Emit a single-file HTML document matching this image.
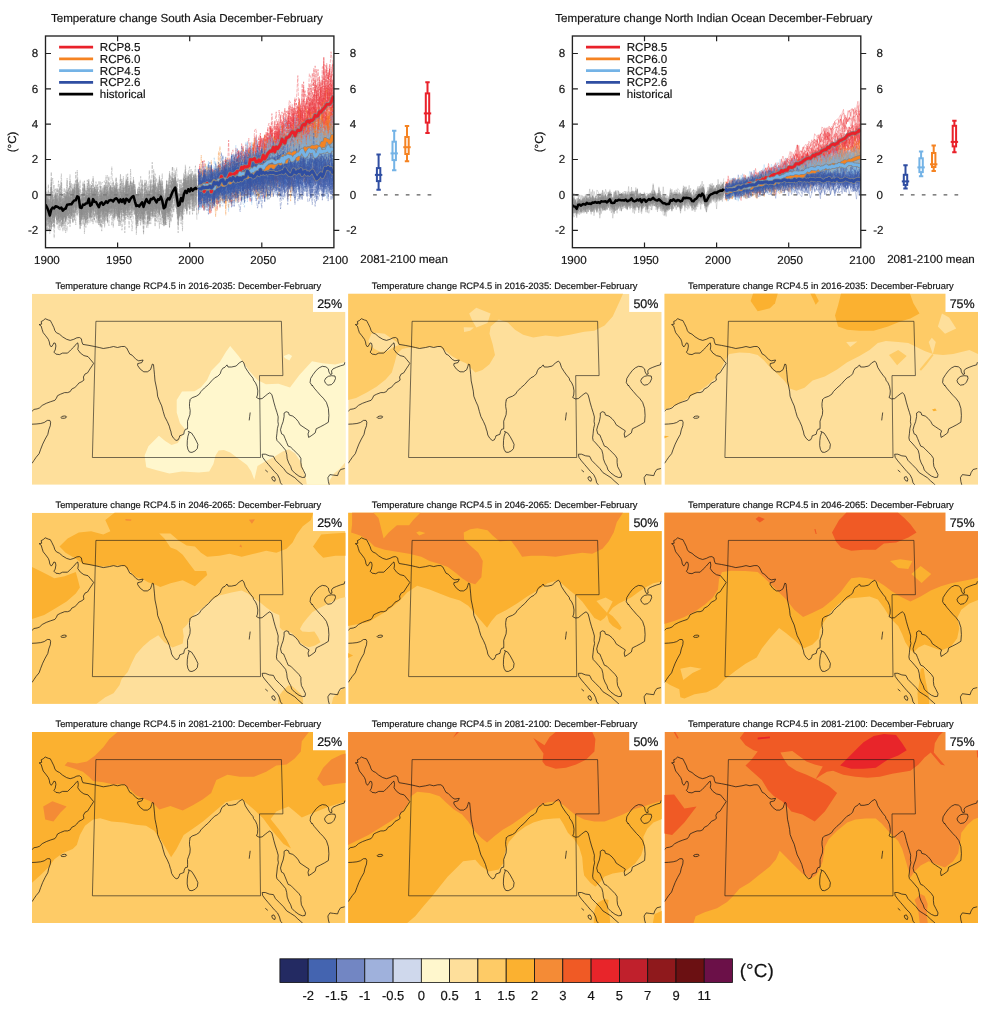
<!DOCTYPE html>
<html lang="en"><head><meta charset="utf-8"><title>Temperature change South Asia December-February</title>
<style>html,body{margin:0;padding:0;background:#fff}svg{display:block;will-change:transform}text{text-rendering:geometricPrecision;font-family:'Liberation Sans', Arial, Helvetica, sans-serif;fill:#141414;stroke:#141414;stroke-width:.18px}.t{font-size:11.6px}.mt{font-size:9.3px}.pl{font-size:12.5px;stroke-width:.22px}.cl{font-size:13px}.cu{font-size:19px}
.th{opacity:.88;stroke:#7d7d7d;stroke-width:.37;vector-effect:non-scaling-stroke;stroke-dasharray:3.6 1.2}.tn{opacity:.88;stroke-width:.37;vector-effect:non-scaling-stroke;stroke-dasharray:3.6 1.2}.so{stroke-dasharray:none;stroke-width:.3;opacity:.9}.mg{stroke:#858585;stroke-width:4.3;vector-effect:non-scaling-stroke}.mc{stroke-width:2.9;vector-effect:non-scaling-stroke}.mh{stroke:#000;stroke-width:2.5;vector-effect:non-scaling-stroke}
.cs{fill:none;stroke:#141414;stroke-width:.72;stroke-linejoin:round}</style></head><body>
<svg width="982" height="1024" viewBox="0 0 982 1024">
<defs><clipPath id="cc1"><rect x="45.5" y="36" width="288.4" height="211.7"/></clipPath><clipPath id="cc2"><rect x="572.4" y="36" width="288.4" height="211.7"/></clipPath><clipPath id="mc"><rect x="0" y="0" width="313.5" height="191.1"/></clipPath>
<g id="coast"><path class="cs" d="M0,117.6 2,115.7 5.1,115.2 7.6,114.2 10.2,111.7 14.3,109.6 18.3,108.1 22.9,106.6 24.4,104.5 25.5,102 28.5,100.5 32.6,98.9 35.6,98.9 38.2,97.9 39.7,95.4 42.8,93.8 44.8,92 46.8,89.4 49.9,87.9 51.9,86.4 51.4,83.3 53,80.3 55.5,79.2 58,75.2 60.1,72.1 61.6,69.6 58.6,66 56,62.9 51.9,61.9 48.4,59.4 45.8,55.8 46.3,52.3 45.8,49.2 44.8,49.7 41.8,53.3 38.7,56.3 35.6,59.4 30.5,59.4 27.5,60.9 23.9,60.4 21.9,58.4 23.2,56.3 23.9,52.3 23.4,49.7 21.9,49.2 20.9,51.2 19.3,53.3 17.8,51.2 17.3,48.2 16.3,45.6 13.7,42.1 11.2,39 10.2,36 9.2,32.4 7.1,30.9 9.7,30.4 9.2,27.8 11.2,26.8 13.2,25 16.3,26.3 18.3,26.8 19.9,29.8 21.9,33.9 22.9,37 24.4,39 27.5,40.5 30.5,43.1 34.6,45.6 38.2,46.7 41.8,45.6 44.8,44.1 47.4,43.8 49.4,45.1 49.9,48.2 50.9,50.7 57,51.7 62.6,52.8 67.2,53.8 71.3,54.8 77.4,53.8 81.5,52.8 85.5,53.8 89.6,52.8 92.7,52.8 94.7,54.3 96.2,57.3 97.8,60.4 100,61.4 104.2,65.8 106.7,67.1 111.1,66.3 109.8,68.9 105.7,69.9 105.7,71.9 108.3,75.5 111.8,78.1 115.4,78.1 118.5,76 119.7,72.5 120.3,70.4 121.5,70.9 122,76 122.5,81.1 123,87.2 124.1,92.3 125.1,97.4 125.6,102.5 127.6,107.6 129.7,112.2 131.2,117.8 132.7,122.9 135.3,127.9 137.3,132.5 138.3,136.3 138.8,137.3 139.6,141.3 141.6,144.6 144.1,146.8 146.1,146.2 147.3,143.8 147.7,142.1 149.8,141.3 151.8,140.5 152.2,138.1 153.4,135.6 155.5,135.2 155.6,132.4 155.5,127.5 156.7,124.2 157.9,121 158.2,116.9 157.5,112.8 157.5,109.6 158.1,106.3 157.7,106.1 160.2,104 164.3,102.5 167.3,100.5 168.9,97.9 172.4,94.3 176.5,90.8 179.6,87.2 182.6,84.2 185.7,82.6 188.2,80.1 189.2,77 190.8,74.5 193,73.5 193.5,72.8 195,71.2 196,73.3 199.6,73.3 204.2,72.3 207.2,69.2 210.3,67.4 211.8,69.2 213.3,73.8 215.9,77.9 218.4,81.4 221,84.5 221.5,86.5 223.5,89.1 225,92.6 225.8,97.2 225.5,101.3 224.5,103.8 227.1,105.2 230.1,104.9 233.2,102.3 235.7,100.3 237.8,99 239.8,100.8 240.8,104.3 241.8,108.4 243.4,114 244.9,118.6 246.2,123.2 245.9,127.8 246.4,130.8 245.4,134.9 244.9,140 244.4,144.1 244.9,146.3 245,146.8 247.5,149.3 250.6,152.9 253.6,156.5 254.7,160.5 255.2,165.1 256.7,169.2 258.7,172.8 259.8,176.3 262.8,179.4 266.9,182.4 270.4,183.8 273,183.5 273.5,180.9 271.5,176.8 269.4,172.8 268.9,168.7 268.9,164.6 266.9,161.6 263.8,158.5 260.8,155.5 258.7,153.4 256.2,152.4 254.7,148.8 253.1,144.8 251.6,141.2 249.6,140.2 248.5,136.1 249.6,132 251.1,128 252.1,122.9 252.1,119.3 254.2,118 256.5,118.8 257.2,121.3 260.8,122.4 263.8,124.9 266.4,128 267.9,131 271,133.1 274,135.1 277.1,137.1 276,140.2 276.6,143.7 279.1,142.2 283.2,139.2 284.2,135.1 288.3,133.1 292.3,131 296.4,128.5 296.9,121.8 296.4,114.7 294.4,108.6 291.3,104.5 288.3,101.5 285.2,97.9 282.2,94.4 280.1,91.3 280.1,92 278.1,88.9 278.6,84.8 281.1,80.8 284.2,76.7 287.2,74.1 290.3,72.6 293.9,73.1 296.4,75.2 296.9,78.2 298.4,80.8 300,80.3 299.5,77.2 301,75.2 304.6,73.6 308.6,72.1 312.2,71.1 312.9,68.5 M303,82.3 303.5,84.8 302,88.4 299.5,90.9 295.9,91.5 293.4,89.4 292.5,86.9 293.9,84.3 296.4,82.6 299.5,82Z M156.3,137.7 159.5,139.3 162,143 164.4,147.4 165.9,150.7 165.3,154.8 163.2,157.2 160,158.7 157.5,158.4 155.9,155.6 155.2,151.9 155.3,147 155.9,142.6 157.1,138.9Z M0,130.5 4.1,130.3 8.7,129.8 12.2,128.8 15.3,126.7 17.8,126.7 18.6,128.5 18.3,132 16.8,136.1 15.8,140.7 13.2,145.3 10.7,150.4 8.7,155.5 7.1,160 4.1,163.6 2,166.7 0,169.7 M34.6,123.2 34.1,123.9 32.7,124.5 30.9,124.6 29.5,124.4 28.9,123.8 29.5,123.1 30.9,122.5 32.7,122.3 34.1,122.6Z M230.2,160.5 233.3,160.5 237.3,162.1 241.4,162.6 243.5,166.7 247.5,170.7 251.6,174.8 254.7,178.9 258.7,181.4 262.8,184 265.9,187 268.9,189.6 271,191.6 272,193.1 M230.2,160.5 230.7,163.6 233.3,167.2 236.3,170.7 239.4,174.3 242.4,177.9 245.5,180.9 247.5,185 248.5,189.1 250.6,191.6 251.6,193.1 M233.3,176.3 235.8,178.4 M239.9,183.5 241.9,182.9 243.3,185.5 242.9,187.5 241.2,187 239.9,185Z M312.7,174.8 308.6,175.8 306.6,178.9 305.6,181.9 301.5,181.4 297.9,180.9 295.9,184 296.4,188 297.4,191.6 297.9,193.1 M218.2,118.8 217.7,122.7 217.2,126.7"/><path class="cs" style="stroke-width:.6" d="M63.9,27.6 249.4,27.6 250.9,81.9 227.5,81.9 228.5,163.8 60.4,163.8Z"/></g></defs>
<rect width="982" height="1024" fill="#fff"/>
<text x="186.9" y="22.1" text-anchor="middle" class="t">Temperature change South Asia December-February</text>
<path d="M48.5 194.9H333.9" stroke="#333" stroke-width="1" stroke-dasharray="3.7 7.2" fill="none"/>
<g clip-path="url(#cc1)">
<g transform="translate(45.5,194.9) scale(1.4420,-0.88400)" fill="none" stroke-linejoin="round">
<path class="th" d="M0 -30l1 33 1-24 1-12 1 16 1-1 1 10 1-6 1-1 1-9 1 12 1-16 1 16 1 11 1-34 1-6 1 35 1 22 1-40 1 0 1 22 1-16 1 9 1 0 1-1 1-12 1 12 1-5 1-6 1 6 1-2 1 3 1-12 1 7 1 25 1-17 1-3 1 4 1-6 1 3 1 4 1 1 1-14 1 20 1-13 1-5 1 2 1 4 1 25 1-30 1 13 1-29 1 28 1 7 1-10 1-9 1 15 1 4 1-2 1 18 1-18 1-8 1-1 1-4 1 2 1-2 1 4 1-18 1 23 1-11 1-3 1 17 1 7 1-5 1-4 1-10 1 39 1-25 1-19 1 4 1 13 1-23 1 11 1-6 1 26 1 0 1-42 1 34 1-14 1 33 1-8 1-6 1-28 1 33 1 10 1-38 1 24 1-8 1 5 1-10 1 33 1-29 1 5 1 11 1-11 1 2M0 -14l1-15 1 5 1-3 1 6 1 6 1-5 1 14 1-12 1 1 1-7 1 2 1-11 1 21 1-18 1 9 1 13 1 1 1-9 1-16 1 29 1-1 1-15 1 23 1-28 1-5 1 18 1-4 1 6 1-20 1 44 1-35 1-10 1 31 1-14 1 7 1-10 1 0 1 8 1-10 1 13 1-11 1-2 1 9 1 6 1-7 1-7 1 15 1-24 1 9 1 11 1-19 1 19 1-4 1 14 1-25 1 8 1 10 1-34 1 66 1-41 1 1 1 12 1-15 1-19 1 26 1 5 1-13 1-3 1 14 1-12 1 12 1-4 1-6 1-8 1 15 1-10 1 18 1-6 1 7 1-4 1-3 1-20 1 17 1 20 1-21 1-4 1 9 1 0 1 1 1 12 1-16 1 10 1-15 1 11 1 3 1-6 1 23 1-25 1 2 1 2 1 7 1-17 1 17 1-17 1 32M0 -18l1-6 1 2 1-4 1-2 1 3 1 7 1-1 1 16 1 1 1-13 1 6 1-24 1 24 1-7 1 10 1 13 1-43 1 28 1-13 1 21 1-21 1 14 1 6 1-7 1-6 1-6 1 2 1 18 1-10 1-13 1 20 1-4 1 12 1-17 1 13 1-24 1 15 1-7 1 14 1 1 1-18 1 10 1-1 1 16 1-5 1-22 1 18 1 5 1 17 1-44 1 9 1 25 1-33 1 5 1 14 1 11 1-20 1 11 1-1 1 17 1-15 1 5 1-27 1 9 1 0 1 16 1-4 1-20 1 21 1 5 1-13 1-3 1 5 1-17 1 23 1-2 1-15 1 21 1-24 1 13 1-4 1 19 1-39 1 32 1 6 1-7 1 13 1-20 1-12 1 37 1-33 1 0 1-8 1 32 1-6 1-9 1 22 1-12 1 2 1-1 1 1 1 7 1-2 1-6 1 13M0 -9l1-2 1 8 1-27 1 32 1-16 1-5 1-3 1 14 1-7 1-14 1 1 1 3 1 0 1 20 1 8 1-5 1-6 1-9 1 8 1 11 1 14 1-9 1-14 1-8 1-7 1 1 1 6 1 6 1 19 1-15 1 6 1 6 1-12 1 14 1-10 1-16 1 4 1 3 1-2 1-3 1 6 1 5 1-16 1 12 1-16 1 20 1 2 1-2 1 2 1 2 1-18 1 9 1 5 1 9 1-12 1 30 1-31 1 10 1 6 1-13 1-7 1-10 1 10 1 11 1-10 1 1 1-4 1 5 1-25 1 30 1-5 1-17 1 44 1-40 1 6 1-4 1 22 1-18 1 17 1 2 1-8 1-26 1 9 1 33 1-31 1 4 1 12 1 15 1-4 1 8 1-31 1 13 1-3 1-17 1 32 1 16 1-30 1 6 1 20 1-35 1-2 1 5 1 10 1 1 1 11M0 -24l1 17 1 11 1-13 1 4 1-8 1 9 1-19 1 19 1-10 1 12 1-7 1-20 1 15 1 13 1-22 1 7 1-2 1-9 1 30 1 6 1-5 1-2 1-5 1-8 1-11 1 22 1 1 1 1 1-17 1 12 1-11 1 23 1-11 1-26 1 25 1 14 1-17 1 7 1-8 1-26 1 4 1 8 1 11 1 7 1 6 1-12 1 13 1-11 1-4 1 16 1-23 1-17 1 16 1 16 1-40 1 35 1-1 1-14 1 3 1 13 1 0 1 15 1-16 1-21 1 7 1 20 1 16 1-23 1 5 1 21 1-25 1-4 1-8 1 10 1 32 1-43 1 13 1-12 1 17 1 11 1-17 1 3 1 1 1 4 1 17 1-12 1-8 1 0 1 1 1 17 1-19 1 24 1-9 1-15 1-5 1 31 1-37 1 14 1 20 1-24 1 9 1-1 1 13 1-5 1 1M0 -9l1 9 1-25 1-13 1 3 1 4 1 11 1 20 1-10 1-9 1-7 1 7 1-2 1 0 1-9 1 15 1 17 1-35 1 21 1-18 1 27 1-10 1-11 1 24 1 7 1-19 1 15 1-14 1-21 1 30 1-6 1-19 1 26 1 1 1-12 1 15 1-22 1 14 1-13 1 17 1-21 1 31 1-12 1 12 1-23 1 4 1 15 1-42 1 22 1 24 1-8 1 3 1-11 1 7 1-12 1-12 1 2 1 12 1-2 1 2 1-31 1 19 1 10 1 4 1-9 1-4 1-14 1 51 1-41 1 37 1 2 1-17 1-11 1 12 1-15 1 18 1-5 1 3 1 8 1 9 1-21 1 11 1-29 1 1 1 10 1-2 1 21 1 4 1 8 1-12 1 6 1-20 1-17 1 19 1 6 1-19 1 27 1-22 1 15 1-1 1-2 1-2 1 20 1-3 1 9 1-14M0 -18l1-13 1 15 1 3 1-3 1-8 1 1 1 9 1-19 1 17 1 0 1-8 1-2 1 9 1-11 1 5 1 18 1-6 1 16 1-27 1-7 1 30 1 5 1-20 1-20 1 15 1-15 1 16 1-19 1 21 1-16 1 14 1 20 1-13 1 8 1-16 1-6 1-9 1 33 1-12 1 16 1-29 1 13 1 1 1 18 1 5 1-28 1-7 1-4 1 35 1-17 1-10 1 11 1-31 1 12 1 25 1-1 1-4 1-15 1 21 1 16 1-33 1 8 1-10 1 10 1-6 1 1 1-6 1 4 1-1 1 9 1-2 1 7 1-10 1 3 1 17 1-17 1-3 1 16 1-7 1 1 1-3 1-25 1 21 1 17 1-6 1-25 1 24 1-9 1 11 1 6 1-25 1 18 1-14 1 17 1-6 1 17 1 1 1-32 1 21 1-26 1 22 1 10 1 4 1 6 1-21M0 -10l1 10 1 0 1-27 1 53 1-40 1-5 1 13 1 1 1-3 1-14 1 24 1-19 1 19 1-1 1-26 1 4 1 0 1 14 1 0 1 4 1-12 1 19 1 9 1-42 1 12 1 9 1-4 1 1 1 22 1 0 1-13 1-17 1 40 1-24 1-11 1 0 1-5 1 34 1-20 1-5 1-23 1 35 1-22 1 1 1 21 1-17 1 17 1 6 1-31 1 17 1-20 1 21 1 8 1-23 1 31 1-18 1-11 1 9 1 14 1-22 1 16 1-21 1 23 1-11 1-7 1 18 1-23 1 4 1 31 1-19 1 14 1-14 1-6 1 5 1 5 1-8 1-7 1 4 1-8 1 21 1-2 1-4 1-28 1 37 1-7 1-16 1 20 1 12 1 0 1 5 1-8 1-11 1-9 1-15 1 11 1 21 1-6 1 10 1 6 1-11 1 24 1-35 1 23 1-14 1-6M0 -17l1 14 1-27 1 8 1-3 1 9 1-2 1-6 1 19 1-22 1 2 1 22 1-3 1-1 1-3 1 26 1-39 1 5 1-3 1 24 1-5 1 10 1 2 1-14 1-18 1-3 1 40 1-14 1-3 1-10 1 7 1-10 1 1 1-16 1 23 1-4 1 4 1-3 1 12 1-9 1 6 1-36 1 19 1 30 1-31 1 11 1 11 1-19 1 21 1-24 1-7 1 4 1 0 1 15 1 0 1 2 1-10 1 39 1-32 1 4 1 8 1-7 1-10 1 3 1 10 1-4 1 5 1-14 1-8 1 36 1-21 1 5 1 1 1 13 1-32 1 12 1-2 1-2 1-20 1 26 1-28 1 31 1-6 1 2 1-13 1 27 1-21 1-1 1 7 1 5 1 14 1-4 1-42 1 18 1 24 1-12 1 12 1-19 1 25 1-24 1 17 1 17 1 3 1-13 1 5 1-19M0 1l1-16 1-6 1-19 1 24 1 8 1-17 1 5 1 23 1-16 1-7 1-8 1 2 1 6 1 19 1-18 1 27 1-30 1 6 1 16 1-10 1-6 1 12 1 5 1-36 1 16 1 6 1-4 1 15 1-15 1 7 1-3 1 9 1-4 1 16 1-27 1 21 1-27 1 13 1 7 1 16 1-12 1-12 1 17 1-14 1-6 1 14 1-6 1 13 1-16 1 9 1-1 1 0 1-7 1-4 1 13 1-3 1 3 1-12 1 8 1-10 1 14 1 1 1-13 1 10 1-8 1 14 1-15 1-21 1 28 1-3 1-12 1 17 1 0 1 2 1-7 1 3 1-2 1 21 1-28 1 11 1-1 1-32 1 3 1 50 1-42 1 25 1-12 1 5 1-10 1 14 1 9 1-35 1 24 1 4 1 15 1-19 1 23 1-7 1-9 1-18 1 39 1-35 1 12 1 17 1 0M0 -13l1-6 1 12 1 10 1-42 1 33 1-43 1 34 1-13 1 34 1-21 1-10 1 0 1 0 1 10 1 0 1 10 1 10 1-10 1-19 1-2 1 9 1 25 1-17 1-15 1 9 1-14 1 3 1 20 1-9 1 4 1 0 1-9 1 6 1-1 1 12 1-9 1-17 1 14 1 12 1 11 1-32 1 18 1-8 1 15 1-4 1 12 1-13 1-9 1 1 1 9 1-3 1 26 1-11 1-29 1 12 1-13 1-5 1 25 1 1 1-16 1 31 1-35 1-8 1 21 1-6 1-2 1 4 1-2 1 1 1 3 1-22 1 5 1 26 1-15 1 16 1 5 1-21 1 11 1 20 1-12 1 8 1-12 1-7 1-3 1-6 1-3 1 21 1 4 1-4 1 14 1-27 1 9 1-11 1 7 1-3 1 7 1 32 1-48 1 24 1 10 1-3 1-14 1 25 1-30 1-5M0 -26l1-13 1 32 1-6 1 6 1-11 1 6 1-10 1 29 1-11 1-2 1-29 1 28 1 9 1-2 1-1 1-8 1-4 1 11 1 0 1 0 1-6 1 27 1-34 1 2 1-7 1 22 1 4 1 0 1-6 1-19 1 31 1-16 1-1 1-1 1-4 1 5 1-4 1-3 1-24 1 26 1 7 1 3 1-9 1 9 1 7 1-17 1 20 1-35 1 8 1 3 1-21 1 20 1 22 1 3 1-17 1 23 1-17 1-11 1 12 1-3 1 11 1-31 1 23 1-16 1 14 1-25 1 15 1 1 1 14 1-20 1 29 1-14 1-7 1 19 1-10 1 9 1 10 1-14 1-15 1 5 1 6 1-12 1-11 1 9 1 18 1 18 1-52 1 41 1-7 1 14 1-10 1-19 1-11 1 3 1-9 1 43 1-12 1-6 1 7 1-15 1 22 1 9 1 0 1-29 1 30M0 -34l1 4 1-1 1 6 1-5 1-3 1 13 1 27 1-30 1 12 1-5 1 30 1-55 1 35 1-26 1 13 1 5 1 37 1-44 1-10 1 38 1-24 1 11 1 1 1-10 1-4 1 9 1 1 1 7 1-14 1 1 1-11 1 20 1-1 1 4 1-1 1 10 1-20 1 11 1-21 1-1 1 10 1-8 1 20 1-20 1 16 1-28 1 13 1 12 1 1 1-18 1 18 1 13 1-7 1-11 1-4 1-2 1 20 1 7 1-19 1-11 1 22 1 0 1-44 1 33 1 21 1-12 1-1 1-7 1 13 1-19 1-2 1 13 1-8 1 10 1-22 1 27 1-2 1-5 1 1 1 19 1-35 1-6 1-1 1 15 1-4 1 11 1-4 1-5 1 2 1 33 1-25 1-12 1 4 1 7 1 5 1 7 1-10 1-5 1 1 1-4 1 33 1-28 1-11 1 15 1-2M0 -20l1 13 1-6 1 5 1 17 1 10 1-18 1-26 1 8 1 6 1 20 1-15 1 2 1-13 1 9 1 6 1-13 1 14 1 3 1-11 1 15 1 7 1-13 1-2 1-15 1-4 1 13 1-7 1 3 1-5 1-4 1-1 1 15 1-10 1 3 1 25 1-9 1-23 1 19 1-13 1 23 1-23 1 9 1 13 1-22 1 25 1-24 1 10 1-3 1 3 1 1 1-6 1-7 1 18 1 2 1 2 1 6 1-32 1 27 1 4 1-19 1 19 1-1 1-28 1-8 1 10 1 37 1-26 1-21 1 16 1-5 1 3 1 5 1-26 1 33 1 14 1-21 1-5 1 20 1-27 1 4 1-7 1 6 1 7 1 2 1 10 1 2 1 0 1-10 1 9 1 19 1-36 1-1 1-1 1 10 1-13 1 5 1 47 1-20 1-15 1 5 1 12 1-14 1 12 1-12 1 1M0 -16l1-26 1 24 1-3 1 10 1-15 1 14 1 1 1-22 1-6 1 29 1-15 1 18 1 15 1-30 1 3 1 8 1 8 1-21 1 30 1-1 1-4 1-9 1 15 1-12 1-24 1 41 1-27 1 9 1-9 1 15 1 0 1-20 1-4 1 11 1-10 1 3 1 4 1 6 1 16 1-29 1 17 1-7 1 19 1 15 1-24 1 16 1-27 1-9 1 5 1-5 1 3 1 12 1 13 1-2 1-8 1-4 1-5 1 6 1 5 1 3 1 3 1-12 1-25 1 10 1 2 1 30 1-21 1 7 1 14 1-9 1-12 1 0 1-3 1 14 1 12 1-9 1-1 1 3 1 14 1-26 1 4 1-3 1 8 1-34 1 24 1 3 1-6 1 25 1-4 1-4 1-25 1-6 1 5 1 23 1-22 1-1 1 10 1 7 1 30 1 7 1-30 1 13 1 7 1 0 1-18M0 -20l1-18 1 20 1 0 1-23 1 23 1 3 1 13 1 1 1-7 1-18 1 4 1 15 1-19 1 7 1 22 1-15 1-17 1 12 1 13 1-7 1 15 1 6 1-23 1-10 1 4 1-9 1 18 1-5 1 11 1-10 1-11 1 31 1-24 1 1 1-2 1 1 1-9 1 14 1-6 1 0 1 10 1 6 1-4 1-11 1 14 1-6 1-2 1-15 1 28 1-11 1 17 1-8 1-23 1 1 1 23 1-17 1 16 1-13 1 30 1-21 1 18 1-8 1-26 1 2 1 20 1-15 1-7 1 18 1 20 1-25 1 13 1-19 1 22 1-19 1 20 1-11 1-11 1 8 1-9 1-3 1-4 1 3 1-10 1 24 1 3 1-1 1-7 1 10 1 2 1 18 1-35 1-5 1 3 1 8 1-10 1 10 1 22 1-21 1 21 1 10 1-5 1-37 1 31 1-2 1-1M0 -6l1-23 1 23 1-8 1 23 1-30 1-14 1 31 1-3 1-14 1 18 1-7 1-25 1 12 1 0 1 8 1 3 1-9 1 5 1 12 1-6 1-2 1 4 1 1 1-32 1 23 1-10 1 13 1-16 1 27 1-3 1-26 1 19 1-4 1 25 1-15 1-17 1 8 1 2 1 15 1-12 1 3 1-16 1 20 1 17 1-16 1-7 1 0 1-9 1 13 1-16 1 10 1-1 1-8 1 19 1-28 1 21 1-15 1 33 1 5 1-11 1 13 1-20 1-6 1-11 1-6 1 14 1-5 1-4 1 18 1-6 1-19 1 13 1-1 1 5 1-7 1 23 1 5 1-30 1 19 1 3 1-24 1 5 1 16 1 1 1 11 1-32 1 8 1 16 1 4 1-1 1-15 1-11 1-1 1 19 1-39 1 57 1-20 1-13 1 26 1-24 1 24 1-12 1 13 1 4 1 3M0 -15l1 0 1-19 1 17 1 1 1-14 1 28 1 4 1-31 1 21 1 6 1-4 1-23 1-3 1 15 1 0 1 5 1 0 1 7 1-10 1 6 1 35 1-30 1 9 1-17 1-1 1-9 1 16 1-5 1 10 1 19 1-29 1 7 1-13 1 10 1 16 1-22 1-9 1 14 1-3 1-4 1 0 1 29 1-34 1 8 1-1 1 20 1-18 1 20 1-12 1-4 1-19 1 34 1-11 1 2 1-11 1 2 1-11 1 23 1-4 1-5 1-2 1 2 1-7 1 20 1-11 1-13 1-4 1 5 1-2 1 14 1 1 1 1 1 2 1-7 1 11 1-19 1 6 1 13 1-6 1-14 1-4 1-13 1 40 1-31 1 19 1 21 1-5 1 7 1-17 1 16 1 15 1-44 1 6 1-1 1 0 1 13 1 14 1-28 1-1 1 14 1 5 1 11 1-6 1-14 1 11M0 -5l1-10 1 8 1-17 1-10 1 38 1-31 1 14 1-1 1-1 1 0 1-12 1 18 1-4 1 1 1 16 1 1 1 3 1 5 1-13 1-20 1 19 1 3 1-1 1-19 1-4 1 23 1 2 1-22 1 19 1-3 1-11 1 14 1-2 1-9 1 7 1-26 1 12 1 7 1-10 1 15 1 2 1-7 1 3 1 12 1 5 1-20 1 10 1 11 1-11 1-10 1-3 1 8 1-11 1 38 1-34 1 16 1-4 1 3 1-8 1-8 1 34 1-25 1-3 1 1 1 11 1-3 1 7 1-10 1-2 1 5 1-14 1-15 1 23 1-9 1 43 1-14 1-8 1-15 1 29 1-39 1 0 1-3 1-1 1 20 1 3 1 18 1-6 1 6 1-6 1-3 1-17 1-19 1 8 1 13 1 9 1-19 1 7 1 15 1-10 1 13 1-4 1-7 1-5 1 16 1-10M0 -20l1 7 1-5 1-26 1 24 1 9 1 6 1 0 1-8 1-15 1 3 1 19 1-21 1 21 1 3 1-21 1 17 1-6 1 24 1-11 1-13 1 10 1-10 1 7 1-7 1-2 1 6 1-14 1-9 1 17 1-1 1-6 1 33 1-4 1-18 1-15 1-1 1 16 1 12 1-14 1 2 1 3 1 11 1-34 1 25 1 3 1 6 1-7 1-15 1 7 1-12 1 16 1 4 1 0 1-13 1-7 1 35 1-16 1 15 1-11 1-19 1 26 1-1 1-24 1-16 1 28 1-7 1 7 1-38 1 40 1-32 1 18 1 18 1-26 1 0 1 18 1 20 1-3 1-21 1 17 1-1 1-8 1-8 1-10 1 24 1 5 1 18 1-16 1-34 1 17 1 20 1-14 1-32 1 21 1 5 1 0 1 7 1 15 1 4 1-4 1-23 1 6 1 0 1 8 1-2 1-2M0 -3l1-4 1-3 1-16 1 12 1-13 1-2 1 8 1 12 1-9 1-12 1 14 1 1 1-1 1-9 1 13 1-6 1 2 1 2 1 12 1 14 1-3 1-6 1-13 1-10 1 0 1 20 1-44 1 35 1-25 1 27 1 7 1-24 1-9 1 38 1 2 1-15 1 6 1-18 1 23 1 3 1-11 1-1 1 9 1 1 1-20 1 23 1-8 1-4 1 14 1-6 1-6 1-10 1 12 1-18 1 6 1-13 1-1 1 22 1-3 1 4 1 7 1-8 1-20 1 12 1-3 1-3 1 7 1-8 1 2 1 7 1 3 1 20 1-28 1 15 1-21 1 32 1-24 1 8 1 13 1 0 1-33 1 15 1-8 1 17 1-3 1 6 1-1 1-1 1 18 1-28 1 2 1-16 1 10 1 4 1 0 1 4 1 4 1-15 1 22 1 1 1-7 1-3 1 2 1 28 1-19M0 -14l1-5 1-8 1 22 1-30 1 25 1-5 1 0 1-15 1 3 1 24 1-18 1 14 1-1 1 0 1 6 1-21 1 8 1 13 1-19 1 34 1-24 1 10 1-12 1 4 1-13 1 9 1-10 1 28 1-32 1 29 1-11 1 4 1-10 1 20 1-1 1-12 1-2 1 0 1 10 1-19 1 17 1 0 1-22 1-11 1 29 1-1 1 14 1-10 1-6 1-11 1 11 1-2 1-8 1 14 1 8 1-6 1-13 1 13 1-13 1-3 1 24 1-17 1 13 1-8 1-14 1 14 1 14 1-22 1-4 1 8 1-5 1-5 1 3 1 19 1 9 1-19 1 10 1 5 1 8 1-17 1-7 1 0 1-2 1 10 1 13 1-20 1 11 1-9 1 12 1-3 1-12 1-4 1-1 1 17 1 1 1-18 1 32 1-39 1 32 1 3 1-12 1 2 1-4 1 20 1-48M0 -35l1 21 1 8 1-6 1 1 1-3 1-12 1 25 1-8 1-17 1-6 1 8 1 16 1 4 1 4 1-22 1 5 1 20 1-13 1 8 1-21 1 11 1 8 1-5 1-12 1-14 1 40 1-17 1-16 1 28 1-6 1-1 1-9 1 0 1-2 1 12 1 1 1-6 1 7 1 7 1-13 1 10 1 3 1-11 1-2 1-3 1-8 1-6 1 35 1-14 1-7 1 20 1-3 1-13 1 14 1-19 1 12 1 15 1-11 1-11 1 13 1 6 1-20 1-9 1 27 1-26 1-9 1 19 1 19 1-14 1 8 1-39 1 17 1 25 1-19 1 22 1-12 1-4 1 18 1-25 1 4 1 2 1-8 1-20 1 40 1-8 1-6 1 13 1-7 1 21 1-11 1-3 1-28 1 8 1 15 1-19 1 12 1 10 1 11 1 0 1-1 1-3 1 4 1 9 1-14 1 1M0 -30l1 18 1 2 1-2 1-5 1 17 1-19 1 7 1 20 1-34 1 13 1 0 1-3 1-3 1 14 1-15 1-3 1 21 1-19 1 20 1-2 1-8 1 8 1 2 1-6 1-12 1 8 1-14 1 15 1-18 1 26 1-13 1 30 1-3 1-19 1 12 1-11 1-19 1-9 1 40 1-11 1-24 1 31 1 1 1-15 1 17 1-28 1 15 1 6 1 9 1-6 1-5 1 7 1-16 1 27 1-25 1 17 1-10 1-4 1 12 1 1 1 11 1-9 1-24 1 13 1-6 1-8 1-1 1 10 1-3 1-6 1 11 1 2 1 3 1-15 1 10 1 19 1-27 1 8 1 29 1-18 1-14 1-25 1 27 1-12 1 18 1-11 1-5 1 41 1-16 1 14 1-13 1-27 1 11 1 2 1 11 1 3 1-6 1 21 1-9 1-3 1-11 1 11 1-19 1 23 1-18M0 -14l1 3 1-2 1-10 1 6 1-13 1-6 1 38 1-9 1-23 1 37 1-29 1 10 1 1 1-3 1 10 1-22 1 16 1-3 1 6 1-2 1-4 1 4 1 17 1-31 1 13 1 3 1-5 1 8 1 1 1-7 1 2 1 19 1-27 1 5 1-5 1 28 1-41 1 20 1 12 1-23 1 9 1-4 1-9 1 17 1 7 1-10 1 5 1 8 1 7 1-29 1 18 1-11 1-17 1 16 1 11 1 1 1-16 1 28 1-10 1-4 1-4 1 5 1-14 1 17 1-10 1 6 1-8 1-19 1 28 1-14 1 7 1 0 1-4 1 18 1-23 1 30 1-27 1 21 1 4 1-21 1-4 1 11 1-7 1 6 1-19 1 1 1 28 1 14 1-20 1 0 1 2 1-8 1 3 1-4 1-20 1 46 1-18 1 17 1-32 1 24 1-7 1-9 1 25 1 5 1-23M0 -22l1 3 1 0 1-7 1 18 1-18 1 23 1 3 1-14 1-12 1-14 1 26 1-10 1 11 1-13 1 17 1-1 1 1 1 3 1 3 1 9 1-19 1 21 1-7 1-18 1-7 1 31 1-14 1-7 1 7 1 4 1-14 1-8 1 24 1-7 1-2 1 11 1-28 1 9 1 13 1 5 1-1 1 3 1-34 1 32 1 0 1 3 1-16 1 15 1 7 1 5 1-18 1-14 1 12 1 10 1-6 1 20 1-24 1-11 1 7 1 17 1-16 1-8 1-3 1 23 1-12 1-4 1 16 1-7 1-14 1 24 1-10 1-26 1 14 1 16 1 4 1-11 1-11 1 17 1-23 1 30 1-13 1-7 1-5 1 23 1-32 1 15 1 20 1-10 1 27 1-9 1-24 1 11 1-12 1 15 1-17 1 8 1 18 1-9 1-5 1-4 1 21 1 9 1-27 1 18 1-41M0 -6l1 7 1-21 1 0 1 4 1 10 1-24 1 22 1-13 1 0 1 3 1-1 1-10 1 8 1-7 1 31 1-9 1-12 1 22 1 0 1-7 1-12 1 14 1 2 1-3 1-17 1-1 1 32 1-9 1-12 1-8 1 7 1 9 1 2 1-2 1-9 1 9 1-22 1 6 1 1 1-5 1 30 1-38 1 20 1-11 1-2 1 15 1-20 1 19 1 27 1-28 1 3 1-11 1 12 1-19 1 14 1 1 1 25 1-28 1 1 1 0 1-6 1 16 1 2 1-20 1 11 1-10 1 11 1-4 1-16 1 11 1 15 1-32 1 25 1-4 1-4 1 8 1 0 1 6 1-36 1 52 1-29 1 8 1-11 1 2 1 8 1 35 1-14 1-17 1 9 1 13 1-17 1-15 1-2 1-3 1 17 1 12 1 16 1-33 1 18 1-11 1 18 1-17 1-5 1-10 1 25M0 2l1-22 1 32 1-43 1 21 1 1 1 7 1-12 1-9 1-2 1 19 1-7 1-1 1-11 1 12 1 5 1 5 1-23 1 7 1 31 1-22 1 3 1 1 1-13 1-7 1 16 1-8 1 30 1-38 1-5 1 23 1-18 1 31 1-14 1 7 1-22 1 21 1-4 1 12 1-11 1 1 1-2 1 10 1-16 1 13 1-12 1 14 1-12 1-2 1 1 1 22 1-37 1 5 1 20 1-15 1 1 1 5 1 30 1-35 1 3 1 6 1 8 1-3 1-28 1 23 1 15 1-39 1 28 1-3 1-1 1-1 1-27 1 39 1-13 1 1 1 18 1-42 1 22 1 11 1 1 1 2 1 11 1-28 1 10 1 4 1-22 1 7 1 36 1-23 1 6 1-12 1 0 1-20 1 9 1 20 1-19 1 11 1 25 1-12 1 5 1 2 1-13 1-1 1-17 1 33 1-13M0 -23l1 16 1-4 1-10 1-13 1 10 1 8 1-6 1 13 1 6 1-21 1 8 1-9 1 20 1 0 1 24 1-30 1-10 1 15 1-5 1 7 1 12 1-13 1 10 1-43 1 35 1-7 1-4 1-1 1 21 1-16 1 12 1-19 1 13 1 0 1 19 1-23 1-3 1 1 1-2 1-6 1 29 1-2 1-26 1 12 1-14 1 24 1-5 1-3 1-10 1 16 1-5 1-5 1 7 1-20 1 4 1 1 1 11 1 15 1-15 1 15 1-12 1-11 1 11 1-5 1 9 1-3 1-17 1-25 1 35 1-11 1-6 1-2 1 14 1 5 1 4 1 20 1-39 1 17 1-14 1 6 1 7 1-4 1-18 1 34 1-20 1 20 1-8 1 15 1-1 1-7 1-2 1-30 1 1 1 19 1 15 1-15 1 5 1 23 1-14 1-3 1-8 1 10 1 7 1-6 1 7M0 1l1-5 1-15 1 6 1 18 1-15 1-18 1 18 1-5 1 31 1-22 1-20 1 7 1 20 1-29 1 12 1 6 1-1 1-5 1 10 1-15 1 9 1 4 1 3 1-12 1 3 1 0 1-1 1 10 1 6 1 6 1-32 1 17 1 12 1-14 1 8 1-11 1 4 1-17 1 23 1-13 1-1 1 7 1 13 1 1 1-6 1 6 1-15 1-7 1-6 1 19 1-5 1 6 1-3 1 16 1-28 1 6 1 29 1-15 1-8 1-18 1 15 1-1 1-2 1 4 1-6 1 18 1-24 1 5 1 0 1 20 1-10 1 6 1-3 1 40 1-31 1-20 1 6 1-1 1 13 1 5 1-11 1-15 1-4 1 33 1-3 1-46 1 37 1-6 1 8 1 26 1-42 1-9 1 40 1-25 1-1 1 24 1-15 1 3 1 7 1 10 1-30 1 6 1 10 1 13 1-20M0 -16l1-1 1 14 1-22 1 43 1-27 1 7 1-1 1-27 1 0 1 21 1-17 1 3 1 4 1-6 1 28 1-4 1-6 1 4 1-14 1 22 1-19 1 31 1-26 1-10 1 18 1-2 1-18 1 19 1-6 1 5 1-1 1 1 1 11 1-9 1-2 1-8 1 15 1-21 1 31 1 0 1 2 1-24 1 24 1-9 1 0 1 25 1-36 1 7 1-20 1-12 1 25 1 5 1 0 1-1 1-31 1 32 1 7 1 3 1-25 1 3 1 3 1-5 1-17 1 12 1 24 1-27 1-7 1 12 1 3 1 17 1-19 1 5 1-3 1-2 1 17 1-5 1-5 1 10 1-15 1 12 1-2 1 2 1-33 1 25 1 11 1-12 1 11 1 11 1 0 1-22 1-5 1-28 1 40 1 3 1 9 1-6 1-10 1 22 1-22 1 12 1 1 1 9 1 3 1-14 1-5M0 -18l1 14 1-10 1 6 1 21 1-37 1 2 1 14 1-1 1-9 1-17 1 49 1-31 1-12 1-14 1 48 1-12 1-4 1-11 1 13 1-2 1-23 1 62 1-26 1-20 1-8 1 8 1 34 1-21 1-20 1 30 1-12 1 1 1 0 1-4 1 4 1-8 1-16 1 9 1 13 1-22 1 19 1 0 1 10 1-4 1-4 1-1 1 7 1 9 1-22 1-7 1 6 1-14 1 14 1 21 1-3 1 12 1-18 1-1 1-5 1 2 1 11 1 1 1-11 1-27 1 27 1-3 1-4 1 3 1 13 1-4 1-13 1 44 1-40 1 12 1 11 1-27 1 13 1-12 1 6 1-2 1 24 1-44 1 23 1 2 1-21 1 41 1-22 1 8 1 8 1-10 1-9 1-2 1-8 1 18 1 10 1-18 1-3 1 14 1 11 1 0 1-16 1-17 1 38 1 0 1 6M0 -7l1 2 1-36 1 27 1 11 1-7 1-2 1 5 1-12 1-14 1 5 1 9 1-11 1 23 1-16 1 8 1-18 1 24 1-12 1 27 1-34 1 23 1-4 1-1 1 12 1-9 1-16 1 25 1-22 1 17 1-24 1 8 1 2 1 6 1-17 1-4 1 18 1 4 1-1 1-4 1-16 1 16 1-1 1-4 1 13 1 1 1 2 1-9 1-4 1 8 1-3 1-18 1 18 1-17 1-1 1 9 1 7 1 14 1-14 1 13 1 12 1-14 1-3 1-17 1 18 1-10 1 2 1-11 1-3 1 8 1 13 1 8 1-31 1 18 1 0 1 31 1-31 1-6 1 18 1-21 1 21 1-29 1 33 1-22 1 3 1-8 1 13 1 6 1-5 1 25 1-15 1-6 1-8 1 14 1-13 1 2 1 11 1 7 1-30 1 38 1-17 1-3 1 5 1-20 1 15 1 8M0 -9l1 2 1-11 1 7 1-7 1 12 1-10 1-5 1-1 1 4 1 19 1 23 1-41 1-4 1 15 1 4 1-12 1 28 1-12 1 4 1-8 1 1 1 13 1-27 1-5 1 9 1-13 1 34 1-23 1 2 1 13 1 6 1-16 1-2 1-5 1 13 1-12 1 30 1-8 1-49 1 23 1 16 1 24 1-50 1 20 1 19 1-21 1 7 1-4 1 14 1-22 1 10 1-13 1 24 1-1 1-12 1 6 1-1 1-7 1 10 1 4 1-4 1-12 1-3 1 0 1 9 1-1 1 23 1-29 1 8 1-5 1 5 1-7 1 0 1 11 1 18 1-30 1-1 1 11 1 3 1 15 1-27 1-3 1-6 1 7 1 7 1-8 1 21 1 11 1-15 1 1 1 12 1-28 1 21 1-42 1 27 1-1 1 9 1 12 1 7 1-16 1 16 1-26 1 17 1-3 1-19M0 -17l1 10 1-18 1 5 1 12 1-4 1-7 1 15 1-5 1-8 1 4 1 0 1-7 1 16 1 10 1-21 1 5 1-9 1-5 1 31 1-19 1 12 1-15 1 7 1 1 1-1 1 2 1 1 1 0 1 9 1 13 1-21 1-7 1-3 1 3 1 1 1 17 1-36 1 13 1-2 1 18 1-15 1-11 1-4 1 29 1-21 1 30 1-2 1-22 1 10 1 3 1-21 1 7 1 4 1 9 1-1 1-19 1 23 1-6 1 1 1 0 1 18 1 0 1-28 1 4 1-17 1 15 1 15 1-14 1 10 1-1 1-1 1 5 1 6 1-31 1 21 1-32 1 29 1-2 1-1 1 27 1-18 1 0 1-4 1 19 1-19 1-1 1 6 1 32 1-29 1 8 1 4 1-15 1-14 1 32 1-18 1 19 1-6 1 0 1-13 1 22 1-20 1 6 1 13 1-15 1 3M0 -9l1 2 1-28 1 6 1 36 1-43 1 14 1 18 1-30 1 10 1 0 1 27 1-30 1 18 1-13 1 11 1-12 1-4 1 11 1-7 1 15 1 3 1 8 1 11 1-12 1-29 1 8 1 27 1-18 1-4 1 22 1-27 1 18 1-7 1 15 1-17 1 8 1 0 1 11 1-26 1 2 1-10 1-2 1 13 1 9 1 13 1-19 1 25 1-17 1 9 1-14 1-15 1 36 1-24 1 19 1-22 1 16 1-9 1-5 1 6 1 11 1-20 1-3 1 16 1-18 1 9 1-15 1 15 1 10 1-7 1 5 1-9 1 4 1-17 1 2 1 25 1-28 1 32 1-2 1-23 1-8 1-7 1 22 1-3 1 23 1-7 1 11 1-4 1-16 1 12 1-5 1-5 1-12 1 4 1 25 1-25 1 1 1 10 1 0 1 3 1 2 1 0 1 15 1-1 1-17 1 18M0 -8l1-12 1 10 1-11 1 12 1-14 1 34 1-23 1 8 1-14 1 8 1-27 1 8 1-11 1 39 1-22 1-2 1 30 1-18 1 6 1 16 1-6 1 2 1 3 1-41 1 36 1 4 1 6 1-43 1 15 1 8 1 17 1-11 1 20 1-18 1-13 1-10 1 5 1 27 1-24 1-14 1 25 1 15 1 10 1-11 1-2 1-31 1 14 1 3 1 6 1-13 1 16 1 9 1-16 1-1 1 0 1 7 1 4 1-21 1 29 1-13 1-2 1 4 1-21 1 19 1 13 1-17 1-1 1-13 1 28 1-1 1-32 1 26 1-14 1-6 1 15 1-10 1 18 1-24 1 0 1 7 1 4 1 0 1-18 1 12 1-7 1 14 1-5 1 40 1 0 1-30 1 2 1-7 1-10 1 9 1 8 1-2 1 3 1 1 1 18 1-19 1 11 1-4 1 7 1-9 1-6M0 -10l1-4 1-9 1 0 1 31 1-15 1-31 1 38 1-14 1-13 1 25 1-15 1 9 1-17 1 20 1-11 1 14 1-1 1-22 1 19 1 3 1-5 1-15 1 22 1-19 1 17 1-22 1 23 1-8 1 27 1-34 1 14 1-16 1 2 1 19 1-5 1 2 1-33 1 10 1 21 1-19 1 26 1 6 1-22 1 4 1 1 1-4 1 1 1 1 1 8 1-10 1-5 1 6 1-7 1 10 1 2 1 22 1-42 1 0 1 18 1 3 1 1 1 15 1-47 1 20 1-14 1 13 1 12 1-27 1 32 1-17 1-5 1-8 1 15 1-1 1 20 1-30 1 17 1 11 1-13 1 15 1-21 1 4 1-7 1 35 1-25 1-1 1 12 1-7 1 7 1 9 1-5 1-27 1 9 1 5 1 6 1 10 1-2 1-3 1 21 1-32 1 31 1-15 1-21 1 20 1-20M0 -34l1 28 1-21 1 22 1-20 1 11 1-17 1 17 1 1 1 4 1 21 1-8 1-13 1-11 1 1 1 4 1-5 1 17 1-8 1 9 1-7 1 7 1 20 1-17 1-5 1-20 1 11 1-2 1 11 1-2 1-6 1 4 1-2 1-12 1 14 1 14 1-27 1 20 1 0 1-5 1 0 1-12 1 19 1-25 1 5 1 20 1-19 1 34 1-16 1 7 1-1 1-18 1 8 1 2 1-2 1 13 1-1 1-10 1 9 1-10 1 10 1-6 1-10 1-13 1 3 1 7 1 7 1-26 1 14 1 16 1-5 1-14 1 0 1 35 1-37 1 16 1 10 1-34 1 33 1-25 1 32 1 14 1-53 1 15 1 12 1-8 1 12 1-11 1 6 1 0 1 11 1-4 1-5 1-11 1-3 1 3 1 8 1 5 1 8 1-4 1 0 1 3 1-4 1-2 1 14 1-11M0 -23l1 1 1-2 1 7 1-19 1 30 1-8 1-7 1-2 1 15 1-5 1-23 1 11 1-1 1 10 1-2 1 13 1-11 1 2 1 20 1-15 1-2 1 10 1-16 1-15 1 17 1-3 1-9 1 28 1-3 1 0 1-16 1 4 1 3 1 13 1-26 1 16 1-6 1-8 1 20 1-13 1 26 1-5 1-16 1-1 1-3 1 0 1 10 1-17 1 28 1-5 1-12 1 13 1 15 1-20 1 12 1-18 1-4 1 15 1-29 1 34 1-9 1-12 1 1 1 1 1 12 1-2 1-5 1-10 1-3 1 16 1-34 1 39 1-7 1-19 1 27 1-19 1 2 1-11 1 11 1 14 1-8 1-4 1-10 1 22 1-21 1 10 1-20 1 30 1 1 1 6 1-2 1-2 1-26 1 17 1-22 1 50 1-2 1-12 1 13 1-7 1-13 1 13 1 6 1-2 1-12M0 15l1-27 1-1 1-27 1 30 1-2 1-14 1 27 1-15 1 6 1-3 1-12 1 8 1 14 1-28 1 5 1 2 1 19 1-14 1 11 1 12 1-26 1 34 1-17 1-14 1 18 1-8 1-20 1 16 1-8 1 17 1-17 1 3 1 21 1-33 1 22 1-9 1 4 1-26 1 17 1 3 1 25 1-30 1 0 1 12 1 7 1-11 1 7 1-17 1 38 1-24 1 2 1 32 1-39 1-5 1-2 1 35 1-22 1-8 1 11 1 2 1 13 1-9 1-9 1 2 1-16 1-3 1 21 1-4 1 2 1 5 1 0 1-21 1 14 1-7 1-9 1 24 1-11 1 11 1 2 1-14 1 22 1-22 1 10 1 15 1-22 1-3 1 13 1 14 1 4 1-33 1 28 1-31 1 12 1-13 1 1 1 22 1-20 1 26 1-11 1 7 1 2 1-10 1 22 1 13 1-21M0 -14l1-7 1 9 1-15 1 30 1-14 1-2 1-8 1-7 1 9 1 2 1 4 1-7 1-3 1 4 1-1 1-6 1 2 1 15 1 5 1-9 1 1 1 12 1-8 1 25 1-35 1-3 1-15 1 25 1 9 1-7 1 6 1-19 1 12 1-4 1-7 1-11 1 3 1-6 1 31 1-13 1 2 1-3 1 16 1-18 1 29 1-7 1-21 1 8 1 10 1 5 1-26 1 7 1 31 1-15 1-5 1 17 1-18 1-12 1-11 1 31 1-21 1 14 1-35 1 18 1 4 1-12 1 10 1-8 1 16 1-12 1 8 1 17 1 5 1 5 1-14 1-12 1 5 1 8 1-5 1 16 1-28 1-4 1-13 1 20 1 21 1-14 1 11 1 1 1 9 1-18 1 5 1-9 1 7 1 10 1-25 1-2 1 12 1 20 1-22 1-7 1 5 1-3 1 24 1-15 1 0"/>
<path class="tn" stroke="#e9212a" d="M106 16l1-17 1 26 1 13 1-24 1-19 1 32 1-8 1-7 1-19 1 20 1-1 1 0 1 0 1 15 1-14 1 10 1-23 1 10 1 11 1-9 1 11 1 0 1 3 1-5 1 11 1-20 1 11 1 22 1-20 1 22 1-12 1-5 1 4 1 18 1-20 1-8 1 19 1 4 1 3 1-26 1 23 1-3 1-3 1-1 1 12 1-5 1 1 1 26 1-22 1-14 1 4 1 3 1-9 1 34 1 11 1-29 1 20 1-19 1 2 1-12 1 22 1 18 1 1 1-8 1-9 1 21 1 8 1-31 1 14 1-2 1-7 1-6 1 6 1 14 1 3 1 0 1 17 1-25 1-7 1 2 1 24 1-12 1-14 1 37 1 8 1-15 1 8 1-28 1 1 1 24 1 2 1-4 1 0 1-4M106 5l1 12 1-20 1 12 1-1 1 8 1-30 1 22 1-4 1 20 1-11 1-4 1 15 1-1 1 5 1 1 1-2 1-13 1 10 1 1 1 2 1 1 1-2 1-4 1 5 1-9 1 2 1 19 1-10 1 6 1-6 1-10 1 14 1 24 1-18 1-4 1 16 1-11 1 0 1-10 1 0 1 26 1-2 1 1 1 9 1-12 1 7 1-9 1 2 1 3 1 22 1-2 1-19 1 10 1 7 1-9 1 19 1-16 1 7 1 2 1-17 1 3 1 12 1 28 1-6 1 0 1-12 1 4 1 8 1 5 1-22 1 13 1 1 1 29 1-23 1-2 1 24 1-15 1 20 1-24 1 41 1-25 1 5 1-3 1 4 1 3 1-3 1 24 1-47 1 16 1 14 1 6 1 25 1-11 1-6M106 18l1 17 1-39 1 32 1-18 1-7 1 10 1 1 1-4 1-11 1 11 1-8 1 14 1-14 1 16 1-5 1 14 1-17 1-6 1 1 1 17 1 40 1-56 1 9 1 24 1-9 1 7 1-9 1 2 1-4 1-11 1 15 1-12 1 18 1-36 1 8 1 22 1 3 1 21 1-29 1 17 1-27 1 49 1-57 1 49 1-21 1-16 1 15 1 18 1-11 1-8 1 13 1-1 1 12 1-2 1-13 1-2 1 11 1-2 1 6 1-15 1 16 1-11 1 18 1-2 1-6 1-16 1 36 1-25 1 6 1 6 1 8 1-12 1 2 1-11 1 34 1-20 1 2 1-21 1 21 1 21 1 4 1-28 1 17 1 9 1-28 1 16 1 16 1 7 1-35 1 6 1 34 1-22 1 13 1-22M106 21l1-23 1 5 1-6 1 0 1 0 1 15 1-10 1 9 1-6 1 12 1 5 1 1 1 1 1-9 1 10 1-9 1-5 1-4 1 14 1 4 1 15 1-21 1 22 1-31 1 16 1 27 1-27 1-5 1 0 1 37 1-10 1-18 1 2 1-21 1 27 1 21 1-38 1 35 1-3 1 12 1-22 1 10 1 14 1-8 1 4 1-11 1 3 1-3 1 10 1 0 1-2 1-21 1 10 1 18 1 17 1-24 1 6 1 8 1 14 1 10 1-16 1-1 1-9 1 17 1-7 1 7 1-12 1 27 1-17 1-14 1 22 1-13 1 24 1 12 1-9 1-8 1-7 1 6 1 38 1-13 1-27 1 3 1 20 1-2 1 2 1 9 1-22 1 6 1 27 1-8 1-6 1 4 1 13 1-3M106 10l1-20 1 33 1-31 1 5 1 18 1 4 1-13 1-27 1 26 1-20 1 17 1 14 1 0 1-6 1 2 1 4 1-9 1 0 1 17 1-6 1 8 1-8 1 1 1 5 1 0 1 11 1-11 1-11 1 2 1-5 1 13 1-9 1-6 1 22 1 11 1-34 1 30 1-8 1-13 1 5 1 7 1 29 1-23 1 17 1-24 1 20 1-2 1-16 1 2 1 13 1-23 1 19 1-14 1 17 1 6 1 4 1-2 1-7 1-3 1-3 1 4 1 4 1-1 1 10 1-10 1-10 1 30 1-17 1-11 1 10 1 9 1 3 1 7 1 24 1-43 1 41 1-18 1-6 1-25 1 28 1 14 1-23 1-5 1 4 1 22 1-1 1 24 1-29 1 20 1-28 1 15 1 21 1-19 1 13M106 -4l1-5 1 7 1 19 1-16 1 5 1 13 1-15 1-1 1-3 1 17 1-2 1 12 1 1 1-36 1 24 1 14 1-18 1-1 1-13 1 25 1-22 1 13 1-5 1 9 1-9 1 1 1 16 1-11 1 11 1-16 1 24 1-10 1 8 1-4 1-25 1-11 1 42 1-17 1 2 1-4 1 4 1 10 1 8 1-13 1-21 1 33 1-3 1-10 1-7 1 0 1 32 1-22 1 23 1-17 1 15 1-21 1-4 1 14 1-18 1 6 1 23 1 15 1-17 1-22 1 9 1 16 1-3 1 34 1-6 1-28 1 33 1-39 1 1 1 32 1-32 1 7 1 31 1-27 1 26 1-8 1-15 1 16 1 8 1-4 1-22 1 26 1-46 1 30 1 6 1 14 1 8 1-39 1 12 1 8M106 12l1 1 1-10 1 36 1-43 1 10 1 19 1-7 1 0 1 5 1-14 1 4 1 11 1 6 1-29 1 8 1 6 1 10 1-21 1 23 1-16 1 16 1-5 1 14 1-26 1 18 1-9 1-3 1 18 1-20 1 20 1-19 1-1 1 22 1 17 1-18 1-14 1 15 1-6 1-3 1 11 1 4 1 4 1-20 1 32 1-21 1-15 1 10 1 12 1-10 1 13 1-12 1 25 1-10 1-4 1 16 1-22 1 10 1 11 1-2 1-3 1 12 1-17 1 8 1-10 1 11 1-13 1 1 1 16 1-12 1 25 1 4 1-4 1 4 1-2 1-26 1 6 1 21 1-18 1 6 1 10 1 6 1-25 1 24 1 13 1-6 1 18 1-27 1 26 1 14 1-19 1 5 1 2 1-45 1 22M106 7l1 3 1 8 1-13 1 10 1-8 1 17 1-22 1 2 1 10 1 14 1-13 1-2 1-6 1 18 1-17 1 6 1 0 1 16 1-20 1 1 1 12 1 0 1-15 1 7 1 3 1 9 1-9 1 32 1-17 1 11 1-8 1 0 1 7 1-10 1-15 1 26 1-12 1 25 1-24 1 14 1 0 1-6 1 4 1 4 1 5 1 2 1-1 1 1 1-24 1 44 1-7 1-22 1 7 1-14 1-9 1 32 1 28 1-17 1 2 1 0 1 8 1-6 1-9 1 5 1 18 1-12 1-18 1 33 1-2 1 16 1-15 1 1 1 0 1-7 1 16 1-9 1-6 1 15 1 4 1 5 1 7 1 22 1-32 1 24 1-17 1 4 1 11 1-21 1 12 1 13 1-29 1 9 1 9 1 8M106 18l1-7 1 0 1-25 1 24 1-11 1 16 1-8 1-2 1-5 1 8 1 10 1-23 1 10 1 6 1 1 1-1 1 7 1 0 1-22 1 34 1-25 1 28 1-3 1-26 1 21 1 14 1 2 1-12 1-9 1 22 1-28 1 1 1 27 1-21 1 21 1-17 1 6 1 22 1-13 1 10 1-9 1-1 1-2 1-1 1 17 1 2 1 15 1-14 1-5 1 10 1 13 1-33 1 38 1-28 1 1 1 43 1-16 1-19 1 19 1 8 1-7 1 7 1-8 1 3 1-19 1 3 1 17 1-19 1 28 1-8 1 18 1-2 1-16 1-29 1 19 1 21 1 29 1-26 1 9 1-6 1-35 1 47 1-10 1-16 1 32 1-9 1 45 1-72 1 22 1 14 1-5 1 17 1 5 1-4M106 6l1 8 1-7 1-22 1 38 1-21 1 14 1-13 1 17 1-14 1 19 1-1 1-19 1-22 1 33 1-12 1 20 1-5 1-7 1-5 1 2 1 25 1-5 1-11 1 6 1 7 1-10 1-17 1 38 1-20 1-2 1 8 1-10 1 0 1 15 1-9 1 14 1 1 1 18 1-24 1 6 1-6 1 21 1-7 1 0 1 18 1-17 1 1 1-18 1-4 1 16 1 9 1-13 1 2 1 22 1-14 1 1 1 4 1-8 1 25 1 9 1-4 1 8 1-43 1 38 1-12 1 21 1-25 1 20 1 14 1-14 1-5 1-2 1 11 1-9 1-11 1 25 1 16 1-16 1 11 1 3 1-14 1 0 1-9 1 16 1 5 1-19 1 11 1 20 1-23 1 22 1-4 1-8 1 19 1-3M106 11l1 2 1-1 1 4 1-12 1 20 1-15 1 0 1 16 1-3 1-28 1 19 1 9 1-2 1-21 1 10 1 0 1 15 1 4 1-5 1-3 1-8 1 21 1-34 1 30 1 2 1-3 1-2 1 2 1 7 1-13 1 16 1-7 1 2 1-29 1 15 1 14 1-4 1 19 1-26 1 31 1-3 1-5 1-7 1-7 1 0 1 7 1 10 1 9 1 2 1 5 1 1 1-20 1 4 1 20 1-21 1 23 1-10 1-17 1 24 1-1 1-12 1-19 1 35 1 4 1 6 1-4 1-13 1-11 1 21 1 16 1-13 1-14 1-4 1-12 1 39 1 5 1-34 1 22 1 29 1-47 1 52 1-4 1-2 1-4 1 2 1 3 1 16 1-38 1-8 1-2 1 34 1 13 1-24 1 18M106 17l1-2 1-10 1 3 1 13 1-7 1 13 1-19 1 16 1-11 1 7 1-21 1 25 1-15 1 22 1-3 1-14 1 22 1 2 1 3 1-4 1-16 1 20 1-28 1 11 1 8 1-20 1 31 1-5 1-7 1-21 1 17 1 17 1 0 1-16 1-3 1 15 1-12 1-4 1 36 1-15 1 5 1-5 1 15 1 1 1-12 1-2 1 2 1 16 1-7 1-15 1 31 1-14 1 7 1 13 1-10 1 5 1-10 1 10 1 5 1-5 1-4 1 0 1 0 1 8 1-8 1 15 1-12 1 20 1-10 1-8 1 15 1-18 1 55 1-47 1 9 1 22 1-25 1-4 1 1 1 30 1-29 1 40 1-13 1-9 1 19 1-14 1-3 1-12 1-1 1 25 1-31 1 8 1 2 1 23M106 28l1-24 1 17 1-15 1-12 1 6 1-1 1 11 1 3 1-5 1-5 1-3 1 4 1-5 1 2 1 33 1-15 1-19 1 11 1 4 1-4 1-6 1 12 1-2 1 4 1 7 1-17 1 9 1-7 1-3 1 4 1 8 1-7 1-4 1 3 1 11 1 15 1-1 1-31 1 15 1 11 1-11 1 4 1-8 1 13 1-3 1-7 1 17 1 6 1-5 1-18 1 17 1 7 1 5 1 2 1-3 1-12 1 9 1 3 1-6 1 3 1-15 1 17 1-8 1 4 1 24 1-17 1 2 1-12 1-10 1 5 1 12 1 2 1-20 1 16 1 10 1-10 1 6 1 8 1 16 1-11 1 17 1-39 1 38 1-19 1 17 1 15 1-14 1-6 1 18 1-29 1 23 1-8 1 1 1-14M106 7l1 4 1-16 1 23 1-11 1 5 1-8 1 4 1-3 1 20 1-20 1 1 1 7 1-10 1 3 1 13 1 1 1 6 1-2 1-13 1-1 1 22 1-32 1 25 1 6 1 6 1 3 1-2 1 10 1-38 1 17 1 8 1-27 1 17 1 22 1-18 1 19 1-3 1 8 1-3 1-2 1 3 1-16 1 30 1-21 1-5 1 16 1-20 1 41 1 5 1-12 1-24 1 18 1-1 1-8 1 4 1 10 1-10 1 7 1 3 1-15 1 13 1 0 1 27 1-17 1 5 1-1 1-2 1 3 1-1 1-24 1 29 1-8 1 6 1-7 1 2 1 14 1-5 1 8 1 4 1-2 1 3 1-8 1 7 1 13 1-10 1 13 1-6 1 15 1-27 1 20 1 9 1-21 1 15 1 4M106 12l1-5 1 11 1-4 1 25 1-43 1 18 1-2 1 1 1-19 1 21 1-6 1 14 1-18 1 29 1-17 1-4 1 9 1-17 1 5 1 17 1-8 1 4 1-23 1 10 1-3 1 36 1-18 1 16 1-16 1 15 1-16 1 2 1 4 1 4 1-22 1 23 1-9 1 4 1 5 1 0 1 5 1 14 1 1 1 9 1-27 1 8 1-1 1-1 1 14 1 3 1-9 1 4 1 15 1-15 1 16 1-12 1 7 1 18 1-28 1 13 1 12 1-12 1 16 1 17 1-13 1-17 1-8 1 14 1-9 1-1 1 21 1 0 1-29 1 16 1-5 1 24 1-3 1 9 1-11 1 9 1 3 1-8 1 14 1-36 1 41 1-32 1 15 1 10 1 0 1-20 1 21 1-30 1 29 1-2M106 1l1 0 1 0 1 9 1 2 1 15 1-28 1 19 1-18 1 11 1 15 1 2 1-3 1-13 1 17 1 6 1-28 1 9 1 8 1 3 1 1 1-4 1-3 1 13 1-12 1 7 1 8 1 1 1 6 1 2 1-1 1 10 1-29 1 18 1 1 1-3 1 4 1 6 1-6 1 27 1 2 1-26 1 18 1 0 1-5 1-4 1 10 1-3 1-6 1 18 1-7 1 13 1-27 1 8 1-26 1 34 1-8 1 23 1 7 1-10 1 12 1-18 1-5 1 34 1-3 1-1 1-12 1 19 1-3 1 28 1-67 1 21 1 28 1 1 1-4 1-5 1-4 1 32 1-4 1-9 1 3 1 19 1-35 1 0 1 16 1-11 1 29 1 0 1 2 1-12 1-3 1 16 1-33 1 9 1 10M106 -7l1 18 1-7 1-15 1-7 1 42 1-15 1 2 1-9 1-4 1 23 1-24 1 8 1 4 1-8 1 4 1 0 1 1 1 22 1-15 1 10 1-19 1 4 1 0 1-10 1 17 1-14 1 3 1 13 1 4 1-11 1 11 1 12 1 3 1-5 1-12 1 18 1-16 1 0 1 15 1-6 1 3 1-15 1 7 1 8 1 3 1 1 1-26 1 48 1-16 1-19 1 25 1-15 1-2 1 25 1-32 1 2 1 2 1 5 1 48 1-45 1-6 1 16 1 8 1 7 1-26 1 37 1-22 1-12 1 2 1 17 1-5 1-5 1 8 1 30 1-10 1-25 1-3 1 25 1-28 1-9 1 12 1-4 1-1 1 18 1-7 1 7 1 11 1-12 1-12 1 9 1 26 1-27 1 0 1 24M106 5l1-4 1-3 1 1 1 16 1-7 1-10 1 3 1 21 1-18 1 6 1 0 1-7 1 7 1-11 1 8 1 15 1-13 1 18 1-13 1 4 1-4 1-10 1 22 1 4 1-11 1-3 1-2 1 9 1 7 1-1 1-6 1-2 1 2 1-2 1-9 1 35 1-31 1-1 1 28 1-10 1 2 1-12 1 7 1 10 1 24 1-25 1-3 1 7 1-7 1-9 1-11 1 28 1-22 1 33 1-20 1 1 1-8 1 3 1 6 1 12 1-9 1 5 1-3 1 14 1-1 1 2 1-18 1 4 1-6 1 27 1-42 1 55 1-23 1-3 1 12 1-5 1 0 1 11 1 4 1-15 1 31 1-39 1 31 1-7 1-17 1 27 1 8 1-40 1 32 1-9 1 6 1-26 1 34 1 10M106 1l1 7 1-5 1-11 1 3 1-3 1 16 1 18 1-4 1-15 1 1 1 12 1-2 1 7 1-8 1-7 1 11 1 12 1-14 1 19 1-29 1 6 1 7 1-3 1 12 1-6 1 5 1 10 1-28 1 11 1 26 1-25 1-6 1 3 1-2 1 12 1 6 1 2 1 6 1-9 1 12 1 4 1-27 1 6 1 18 1-18 1 27 1-18 1 1 1 10 1 27 1-40 1 15 1-8 1 18 1-8 1 3 1 7 1-7 1 5 1 7 1-5 1-2 1-6 1 17 1-2 1-2 1-5 1 3 1-5 1 37 1-13 1 20 1-48 1 3 1 26 1-5 1-2 1-1 1 7 1-31 1 71 1-37 1 3 1 18 1-14 1 8 1 7 1 3 1-2 1 10 1 2 1-13 1 8 1-14M106 -9l1 7 1 13 1-10 1 3 1 16 1 5 1 6 1-10 1-3 1-1 1-15 1 13 1-2 1 13 1-4 1-14 1 7 1 9 1-2 1-8 1 16 1-27 1 26 1-14 1-5 1 13 1 16 1-28 1 16 1 3 1-3 1 1 1 5 1 5 1 15 1-45 1 34 1 9 1-29 1 28 1 6 1-15 1 9 1-8 1-6 1 9 1 0 1 20 1-17 1 17 1 4 1 5 1-12 1 7 1-14 1-1 1 33 1-5 1-24 1 3 1 34 1-16 1 13 1 5 1-19 1 15 1-25 1 16 1 13 1 9 1-16 1 8 1-16 1 24 1-28 1 15 1 4 1-9 1 6 1 6 1 19 1-3 1-2 1 2 1 2 1-17 1 10 1 3 1 16 1-4 1 5 1-23 1 41 1-30M106 7l1-4 1 17 1-20 1 1 1-8 1 27 1-16 1 0 1-14 1 10 1 4 1 10 1 6 1 2 1-18 1 10 1 14 1-8 1 2 1 6 1-7 1-4 1 26 1-41 1 18 1 6 1-5 1-1 1-3 1 17 1-31 1 8 1-2 1 8 1 3 1 11 1 7 1-19 1 11 1 24 1-14 1-26 1 27 1-6 1 0 1 5 1 6 1-5 1 9 1-7 1 8 1-3 1-17 1-6 1 42 1-33 1-2 1 27 1 2 1-15 1 20 1-22 1 3 1-12 1 44 1-23 1 9 1-29 1 28 1-29 1 16 1 19 1 11 1 3 1-21 1-16 1 24 1-10 1 17 1-2 1 19 1-15 1-9 1 9 1-9 1-2 1 0 1 6 1-5 1 11 1-21 1 16 1 16 1-19M106 5l1 22 1-17 1 6 1 4 1-15 1-1 1 9 1-1 1 9 1-12 1-1 1 9 1-9 1-1 1 13 1-7 1-9 1 23 1-10 1-21 1 16 1 19 1-10 1-6 1 10 1-9 1 4 1 9 1-14 1 31 1-47 1 12 1 27 1-5 1 18 1-13 1 7 1-5 1-8 1-18 1 18 1 9 1-1 1-12 1 22 1-15 1-6 1 14 1-1 1-12 1 3 1 14 1 21 1-51 1 2 1 22 1 4 1 16 1-29 1 24 1 2 1 8 1-18 1-1 1 8 1-3 1 2 1 1 1 17 1-12 1 2 1 11 1-10 1 8 1-22 1 22 1 0 1-8 1 3 1-3 1 28 1-17 1-6 1 2 1-4 1 18 1 0 1-13 1 2 1 16 1-19 1 38 1-18 1-9M106 8l1-11 1 16 1 0 1-16 1 23 1-17 1 1 1 14 1-1 1-15 1 9 1-7 1-3 1 4 1 11 1-21 1 21 1-10 1 6 1 17 1-7 1-8 1 23 1-34 1 18 1 10 1-23 1 20 1-6 1 21 1-7 1-2 1-22 1 15 1 22 1-8 1-15 1 6 1-16 1 22 1-11 1-4 1 6 1 22 1-26 1-13 1 58 1-29 1 2 1-7 1 28 1-4 1 2 1-2 1 7 1-5 1-6 1 16 1-8 1-8 1 12 1-27 1 27 1-9 1-9 1 28 1 20 1-8 1-7 1-17 1-7 1 16 1-3 1 13 1 22 1-11 1-5 1 2 1-24 1 32 1-6 1-11 1 10 1 0 1 13 1-14 1 25 1-14 1-6 1 28 1-21 1 4 1-13 1 34M106 5l1 6 1-15 1 9 1-8 1 10 1 11 1-12 1 5 1 3 1 16 1-8 1-24 1 31 1-30 1 2 1 18 1 15 1-24 1-3 1 10 1 5 1 14 1-13 1-4 1 1 1 6 1 5 1-15 1 10 1 11 1 17 1-18 1-29 1 19 1 12 1-7 1 18 1-15 1 10 1 1 1-10 1 1 1 3 1-8 1 15 1-8 1 9 1-11 1 33 1-12 1 12 1-23 1 4 1 12 1-1 1 1 1 7 1-2 1 9 1-19 1 20 1-55 1 49 1-6 1-1 1 7 1 0 1 8 1-17 1 6 1 14 1-10 1 3 1 13 1-2 1-9 1-2 1 19 1 5 1-1 1 0 1-9 1-6 1 11 1 1 1-6 1 14 1 39 1-47 1 4 1 16 1-19 1 6 1 1M106 13l1-19 1 11 1-6 1 13 1-7 1 16 1 9 1-21 1 5 1 7 1-14 1-7 1 20 1-1 1-22 1 19 1-4 1 0 1 7 1-14 1 1 1 28 1-5 1-7 1 3 1 3 1-2 1 25 1-30 1 14 1-18 1 20 1 13 1-18 1-7 1-8 1 31 1-19 1 11 1 7 1-17 1 12 1 16 1-24 1 7 1 5 1-18 1 15 1 17 1 14 1-33 1 13 1 4 1-6 1-3 1 6 1-1 1-4 1 8 1 3 1-25 1 31 1-3 1 4 1-24 1 51 1-23 1-20 1 36 1-5 1-13 1 24 1-7 1-20 1 6 1 16 1 18 1-27 1 26 1-15 1-11 1 30 1-30 1 12 1-26 1 26 1 18 1-28 1-3 1 46 1-12 1-18 1 11 1 30M106 12l1-2 1-4 1 9 1-16 1 10 1 13 1-14 1 3 1 8 1-25 1-4 1 36 1-11 1 3 1-9 1 5 1 8 1-8 1-4 1-3 1-6 1-9 1 21 1 0 1 32 1-32 1-5 1 33 1-28 1 5 1 15 1 1 1 1 1-2 1-17 1 4 1 3 1 13 1-9 1 15 1-8 1 2 1-29 1 29 1-13 1 23 1-12 1 12 1 0 1-14 1-1 1 23 1 4 1-25 1-9 1 31 1-27 1 18 1-25 1 40 1-7 1-9 1-10 1-19 1 36 1 10 1-5 1-19 1 28 1-4 1-25 1 0 1 10 1 31 1-24 1 33 1-6 1-39 1 21 1 50 1-45 1 11 1-4 1-7 1-6 1 15 1 4 1 3 1 5 1-27 1 3 1 26 1-8 1-29M106 8l1 1 1 7 1 1 1-18 1 7 1 23 1-25 1 11 1 15 1-15 1 0 1-7 1 1 1 20 1-5 1-2 1-8 1 23 1 2 1-16 1-10 1-2 1 36 1 4 1-33 1 9 1-23 1 14 1 30 1-11 1 1 1-12 1-7 1 9 1 17 1-7 1 3 1 1 1-15 1 11 1-11 1-1 1 19 1-20 1 34 1-14 1-18 1 10 1-5 1 25 1-3 1-6 1 21 1-19 1-2 1-8 1-2 1 20 1 7 1-11 1 6 1-2 1 22 1-18 1 14 1-17 1-7 1-9 1 7 1 21 1-18 1 29 1-19 1-18 1 28 1-8 1 33 1-15 1-22 1 16 1-20 1-1 1 22 1 10 1-14 1 25 1-41 1 35 1-4 1-24 1 29 1-9 1 23 1-40M106 21l1 11 1-28 1 1 1 3 1 0 1 12 1-15 1-1 1 7 1 2 1 15 1-19 1 0 1 13 1 0 1-15 1 8 1-10 1 23 1-16 1 3 1 3 1-4 1 11 1 10 1-5 1 20 1-20 1-18 1 18 1-5 1 19 1-12 1 8 1-18 1 8 1 11 1-4 1 5 1 20 1-31 1 1 1 31 1-12 1-9 1 14 1 8 1-18 1 21 1-12 1 20 1-42 1 51 1-22 1 17 1-21 1 15 1 9 1-11 1-4 1-3 1 2 1 20 1-21 1 23 1-7 1-2 1-4 1 4 1-19 1 37 1-13 1 24 1-25 1 1 1 11 1-3 1-8 1-11 1 18 1 4 1 20 1 3 1-23 1 27 1-24 1 6 1 5 1-5 1 26 1 13 1-36 1 23 1-4M106 18l1-6 1 0 1 15 1-26 1 7 1 8 1 4 1-9 1 7 1 8 1-15 1 0 1 4 1-26 1 32 1 1 1 16 1-34 1 18 1 2 1 4 1-19 1-19 1 34 1 3 1 1 1-9 1-1 1 9 1-8 1 1 1 15 1 4 1-17 1-7 1 10 1 20 1-10 1 13 1 1 1 7 1-16 1 7 1 10 1-14 1-5 1 25 1 7 1-27 1 18 1 0 1-1 1-6 1-4 1-3 1 27 1-10 1 8 1-28 1 36 1 2 1-7 1 24 1-22 1 0 1-12 1 5 1 16 1-1 1 13 1-22 1 16 1-17 1 11 1-4 1-21 1 43 1-22 1 2 1 16 1-17 1 4 1-21 1 37 1 11 1-13 1 23 1 7 1-10 1-12 1 16 1 2 1-7 1 16M106 1l1 4 1-13 1-1 1 15 1 5 1-14 1 16 1-15 1-2 1 23 1-7 1-20 1 3 1 18 1-9 1 1 1-5 1 13 1 27 1-40 1 35 1-25 1-3 1 23 1-11 1 1 1 16 1 10 1-16 1-15 1 1 1 12 1 13 1-5 1-1 1 11 1-36 1 36 1-8 1 1 1 6 1-7 1-8 1-10 1 29 1-17 1 14 1-17 1 21 1 7 1-9 1 11 1-13 1 5 1 10 1-1 1 7 1-3 1 12 1 10 1-11 1 5 1-6 1-16 1 26 1 1 1-24 1 14 1-17 1 26 1 17 1-16 1-10 1 25 1-6 1-2 1 10 1-13 1 19 1-42 1 38 1-17 1 18 1-15 1-10 1 31 1-25 1-14 1 33 1 24 1 9 1-2 1-49 1 29M106 -14l1 25 1-4 1 12 1-1 1-10 1-17 1 22 1-12 1 8 1 12 1-31 1 17 1-7 1 13 1 3 1-1 1 2 1-12 1 3 1 5 1 4 1-3 1-8 1 7 1 6 1-13 1 3 1 16 1 20 1-22 1-13 1 30 1-11 1-16 1 15 1 2 1 8 1-21 1 23 1-15 1 8 1-16 1 29 1-11 1-12 1 17 1 4 1 4 1-1 1-31 1 10 1 13 1 4 1-17 1 30 1-7 1-27 1 8 1 31 1-37 1 50 1-4 1-36 1 22 1 9 1-30 1-6 1 45 1-22 1-18 1 38 1 1 1-8 1-6 1-11 1-9 1 35 1-3 1-26 1 8 1 3 1 6 1 6 1 23 1-19 1 16 1-13 1 14 1-15 1 16 1-23 1-14 1 43 1-34M106 3l1 4 1 3 1 2 1 6 1-13 1-6 1 20 1-11 1-4 1 13 1 1 1-5 1-23 1 43 1-21 1-14 1 21 1 9 1-1 1-8 1 2 1-24 1-9 1 43 1-11 1 1 1-19 1 36 1-25 1 17 1-24 1-8 1 27 1 5 1-18 1 41 1-33 1 23 1-2 1-29 1 23 1-15 1 13 1-3 1 14 1-19 1 16 1 3 1 6 1-23 1 19 1 2 1 5 1-42 1 6 1 0 1 19 1-9 1 12 1 3 1 17 1-1 1-17 1 5 1-20 1 16 1 6 1-3 1 34 1-59 1 27 1 8 1 13 1-6 1-27 1 11 1 21 1-4 1 14 1-6 1-10 1-1 1 16 1-19 1 7 1 21 1-21 1 13 1-43 1 27 1 13 1 9 1-10 1 5M106 11l1-17 1-4 1 24 1 9 1-4 1-20 1 4 1-1 1 11 1 3 1-15 1 14 1-2 1 12 1-16 1 5 1-21 1 14 1 12 1-19 1 5 1 9 1-3 1-5 1 4 1 13 1 10 1-5 1-6 1 13 1-31 1 30 1-11 1-1 1-5 1 8 1 6 1-12 1-2 1 16 1 14 1-4 1 1 1-20 1 3 1 2 1 28 1-27 1 20 1-3 1-19 1 17 1 12 1-7 1-5 1 12 1-30 1 12 1 8 1 9 1 8 1-23 1 10 1 16 1 0 1-22 1-3 1 8 1 11 1-36 1 52 1-21 1 18 1 7 1-24 1-14 1-2 1 47 1-31 1 10 1-18 1 13 1 12 1 5 1-7 1-13 1 13 1 0 1 22 1-25 1-8 1 25 1-18 1 34M106 3l1 11 1-22 1 27 1 3 1-10 1 0 1-7 1-1 1 13 1 0 1-8 1 17 1-13 1 14 1-19 1 15 1 4 1 5 1-13 1 5 1 2 1 11 1-20 1 8 1-15 1 37 1-14 1-4 1 3 1 11 1-10 1 7 1-17 1 3 1 29 1-11 1-18 1 21 1 9 1 11 1-25 1 12 1-10 1-9 1 10 1 12 1-4 1 5 1-2 1 10 1 26 1-18 1 7 1 13 1-39 1 4 1 6 1-4 1 31 1-27 1 8 1 23 1-22 1 16 1 9 1-17 1 25 1-5 1-1 1-6 1-9 1 40 1-31 1 6 1 3 1 2 1 11 1-16 1 12 1 15 1-26 1 16 1-15 1 17 1 8 1-14 1 41 1-46 1 40 1-18 1 9 1-17 1 25 1 0M106 1l1 11 1-20 1 19 1-3 1 12 1-28 1 23 1-36 1 14 1 10 1-8 1 20 1-13 1 7 1-1 1 8 1-14 1 18 1-12 1 7 1 3 1-1 1-13 1 3 1 0 1 9 1 0 1-24 1 1 1 31 1-20 1 18 1-13 1 14 1-1 1-14 1 26 1 1 1-7 1-26 1 13 1 15 1 6 1-20 1-20 1 19 1 20 1-16 1 27 1-20 1 24 1-33 1 14 1 11 1-20 1 54 1-26 1-20 1 12 1-9 1 2 1 20 1-13 1 20 1-22 1 13 1-3 1 9 1-19 1 11 1 0 1-24 1 31 1-6 1-14 1 21 1 4 1-17 1 13 1 13 1-13 1-3 1-3 1-10 1 29 1-16 1-10 1-28 1 42 1-8 1 7 1 4 1-2 1 10M106 9l1-8 1 14 1-9 1 0 1 6 1-2 1-5 1 9 1 5 1-7 1-4 1 19 1-11 1-8 1 0 1 8 1 15 1 2 1-5 1-19 1 10 1 19 1-4 1-5 1 7 1-11 1 8 1 3 1-13 1 21 1-14 1 13 1-17 1 28 1 10 1-29 1 15 1-17 1 33 1-34 1 12 1-1 1 27 1-30 1 18 1 9 1-7 1-8 1 11 1-8 1 15 1 0 1-2 1 10 1-15 1 3 1 8 1 5 1-10 1 14 1 2 1-5 1-1 1-3 1 24 1-24 1 32 1-24 1-13 1 29 1-5 1-6 1 6 1 0 1 14 1-23 1 3 1 32 1-7 1-8 1 25 1-26 1 37 1-37 1 16 1 1 1 19 1-10 1 0 1 4 1 7 1 3 1-22 1 3M106 -14l1 20 1 2 1-8 1-3 1-1 1 12 1 15 1-20 1 9 1-5 1-1 1 12 1-23 1 11 1 9 1-1 1-17 1 35 1 8 1-30 1 16 1-3 1-3 1-15 1 23 1-3 1-13 1 22 1-16 1 19 1-9 1-5 1 28 1-6 1-6 1-17 1 7 1 12 1-11 1 0 1 13 1 0 1-17 1 25 1-8 1 25 1-23 1 0 1-6 1 18 1-11 1 7 1 13 1 5 1-12 1-5 1 3 1-10 1 31 1-8 1-23 1 3 1 8 1 30 1-37 1 18 1 5 1-15 1 12 1 25 1-3 1-33 1 26 1-4 1 16 1-30 1 19 1 10 1-23 1 16 1 1 1 8 1-13 1 46 1-25 1-23 1 6 1-3 1 18 1 1 1 11 1-4 1-13 1 5M106 -4l1 8 1 14 1-14 1 8 1-9 1 20 1-13 1-1 1 10 1-5 1 5 1 10 1-12 1 2 1 16 1-16 1 0 1 12 1-21 1 26 1-13 1-4 1 3 1-2 1 16 1-13 1-15 1 16 1 15 1-8 1-4 1-3 1 25 1-17 1 14 1-28 1 20 1-5 1 8 1 6 1-5 1 10 1 10 1-10 1-14 1 26 1-18 1 10 1 14 1-10 1-2 1 1 1-11 1 11 1-8 1 21 1-9 1 7 1 14 1-1 1-5 1 8 1 0 1-8 1 10 1 11 1-19 1 8 1-23 1 11 1 14 1-5 1 10 1-5 1 3 1 3 1-6 1 19 1-17 1 12 1 18 1-14 1-9 1 3 1 17 1 3 1-18 1 3 1 39 1-39 1 36 1-18 1-10 1 7M106 8l1-20 1 28 1-6 1-11 1-7 1 32 1-32 1 20 1 3 1-17 1 24 1-27 1-1 1 5 1 5 1 24 1-26 1 32 1-17 1 10 1-5 1-12 1 5 1 9 1 0 1 18 1-30 1-4 1 2 1 0 1 13 1 7 1 18 1-19 1-7 1 10 1 21 1-27 1-3 1 17 1 3 1 2 1-1 1 6 1 11 1 1 1-8 1-7 1-13 1 3 1-8 1 11 1 10 1 9 1-23 1 32 1-18 1-19 1 28 1-15 1 2 1 11 1-12 1 16 1 3 1 13 1-25 1-2 1 50 1-40 1 27 1-19 1-1 1 35 1-16 1-17 1 4 1 15 1-11 1 11 1-11 1 4 1 7 1-5 1-15 1 22 1-14 1 9 1 1 1-8 1 44 1-48 1 41 1-35M106 8l1 2 1 17 1-12 1 7 1-10 1-1 1 0 1 17 1-48 1 36 1 2 1-22 1 20 1-4 1-7 1 13 1-13 1 27 1-27 1 1 1 9 1 5 1 7 1-2 1-2 1-28 1 24 1 5 1 11 1-20 1 16 1-7 1-4 1 10 1-2 1 5 1-1 1 12 1 0 1-20 1 30 1 0 1-5 1-7 1 21 1-25 1 8 1-13 1 14 1 13 1-18 1 16 1-20 1 19 1 15 1-22 1 3 1 16 1 0 1-12 1 4 1-1 1 13 1-3 1-3 1-12 1-9 1-4 1 31 1 36 1-31 1 5 1-11 1 7 1-18 1 16 1-16 1 26 1-24 1 32 1-13 1 11 1-3 1-24 1 3 1 35 1-8 1 7 1 19 1-18 1 15 1-25 1-6 1 14"/>
<path class="tn" stroke="#f58322" d="M106 22l1-21 1 5 1 16 1-39 1 36 1-18 1 11 1 8 1-4 1-2 1 8 1-20 1 9 1-9 1 11 1-8 1-4 1 0 1 20 1-28 1 5 1-6 1 7 1-6 1 5 1 2 1 29 1-15 1-9 1-11 1 12 1 23 1-19 1 14 1-5 1-3 1-3 1 2 1-2 1-3 1 8 1 11 1-4 1-23 1 24 1-2 1-10 1 16 1-2 1 14 1-44 1 33 1-21 1 15 1 4 1 12 1-14 1-11 1 18 1-2 1 7 1-43 1 32 1-35 1 38 1-3 1-9 1 15 1-2 1 11 1 4 1-15 1-3 1-6 1 24 1-15 1-1 1 10 1-14 1 5 1 3 1 12 1-24 1-1 1 7 1 0 1-1 1 19 1-15 1 30 1-10 1-12 1-1 1 11M106 1l1 10 1 34 1-42 1 7 1 4 1-6 1 20 1-19 1 6 1 7 1 1 1-7 1 4 1-1 1-34 1 43 1-4 1-3 1 12 1-27 1 32 1-18 1-3 1 0 1 15 1-10 1 15 1-21 1 28 1-14 1 23 1-14 1-8 1 3 1-17 1 19 1-10 1 7 1 31 1-33 1 18 1 1 1-8 1 3 1-5 1 28 1-13 1 7 1-31 1 19 1-9 1 26 1-15 1-4 1 10 1 2 1-1 1 20 1-6 1-8 1 6 1-10 1-11 1 17 1-26 1 39 1-15 1-16 1 25 1 32 1-39 1 7 1 9 1-19 1 34 1-22 1 10 1 7 1-11 1 12 1-27 1 3 1 21 1-10 1 2 1 9 1 9 1 10 1 9 1-5 1-5 1-21 1 0 1-3M106 27l1-27 1 14 1-12 1 6 1-17 1 42 1-21 1-2 1 1 1-15 1 24 1-5 1 6 1 8 1-8 1-12 1 2 1-11 1 40 1-39 1 28 1-22 1 13 1-3 1-9 1 20 1-1 1-6 1 8 1 10 1-30 1 7 1-9 1 7 1 6 1 1 1 4 1 18 1-8 1-13 1 10 1-11 1 17 1-15 1 4 1-13 1 10 1 29 1-51 1 28 1-6 1 2 1 21 1-22 1-9 1 16 1 1 1 10 1 9 1-7 1 2 1-17 1-2 1 14 1 4 1 4 1-3 1-12 1-1 1 23 1-3 1-32 1 29 1 0 1-15 1-5 1 27 1-5 1-21 1 16 1 17 1-20 1 27 1-37 1 34 1-19 1-8 1 9 1 15 1-26 1 31 1-5 1-38 1 34M106 -21l1 36 1 2 1 6 1-25 1 0 1 5 1 19 1-22 1 11 1-17 1 33 1-15 1 2 1 35 1-24 1-4 1-5 1-2 1-13 1 26 1-11 1 1 1-14 1 30 1-11 1 1 1-6 1 12 1 4 1-2 1-17 1-7 1 18 1 8 1-32 1 18 1 5 1 7 1 13 1-16 1 15 1-13 1 16 1-18 1 8 1 11 1-9 1-27 1 25 1 10 1-4 1-13 1 8 1 15 1 3 1-4 1-13 1-2 1 37 1-37 1 28 1-12 1 7 1-2 1-6 1 11 1-18 1 8 1 8 1-33 1 49 1-18 1-1 1-8 1 11 1-14 1 5 1 5 1 10 1 0 1-7 1 3 1 15 1-16 1 29 1-10 1-15 1-8 1 20 1 12 1-10 1 0 1-19 1 30M106 8l1 16 1-10 1-26 1 19 1 8 1 8 1-15 1 7 1-22 1 19 1-4 1 9 1-7 1-1 1 1 1 9 1 8 1-5 1 3 1-22 1-4 1 4 1 0 1 18 1-7 1-1 1 28 1-27 1 13 1-9 1-12 1-6 1 12 1 12 1 2 1 8 1-7 1 15 1-28 1 0 1 17 1-9 1 14 1 6 1-13 1-8 1-23 1 25 1 7 1-18 1 20 1-1 1 0 1 9 1 7 1-29 1 11 1 6 1 15 1-17 1 7 1-5 1 1 1 1 1 11 1-6 1 5 1-9 1-5 1 3 1 14 1-11 1-19 1 25 1-20 1-13 1 27 1 23 1-10 1-3 1-17 1-3 1 1 1 8 1-3 1 11 1 2 1-14 1 19 1-34 1 20 1 1 1-2 1 8M106 10l1-21 1 27 1-5 1 9 1 2 1 4 1-4 1-13 1 16 1-14 1-4 1 5 1 18 1-7 1-9 1-1 1-9 1 20 1-47 1 39 1-4 1-3 1 16 1-11 1 19 1-29 1 37 1-29 1 15 1-13 1 0 1 7 1 8 1-13 1-1 1 2 1-8 1 1 1 17 1 7 1 1 1-9 1 3 1-30 1 20 1 5 1 10 1 1 1-6 1 2 1 25 1-33 1 11 1-6 1-1 1 4 1 6 1-10 1 31 1-23 1 1 1 21 1 0 1-2 1-1 1-35 1 17 1 3 1-5 1 28 1-6 1-21 1-6 1-2 1 5 1 17 1 7 1-14 1 26 1-20 1 8 1-19 1 12 1-12 1 17 1 10 1-11 1 1 1 17 1-19 1 20 1-9 1-12 1-2M106 6l1-10 1 8 1 15 1-6 1-5 1 2 1 21 1-46 1 14 1 25 1-4 1-2 1-12 1 18 1-17 1 3 1-3 1 15 1-18 1 19 1-11 1 14 1-12 1 23 1-20 1 3 1-4 1 0 1 6 1 3 1-18 1 9 1 10 1-9 1 9 1 10 1 1 1 5 1-7 1 10 1-33 1 12 1-3 1 5 1 15 1-9 1-20 1 44 1-11 1-8 1-6 1-4 1-1 1-1 1 22 1-24 1 25 1 8 1-14 1 15 1-5 1-7 1 0 1 22 1 1 1-35 1 17 1-20 1 15 1 21 1-12 1-10 1 18 1 0 1 0 1 5 1-8 1 1 1 4 1 2 1 23 1-43 1 3 1 1 1-11 1 11 1-2 1 25 1 3 1-29 1 17 1-15 1 9 1 12M106 17l1-9 1-12 1 0 1-6 1 14 1 15 1-2 1-13 1-8 1 6 1-10 1-10 1 0 1 28 1-9 1-8 1 25 1 0 1 7 1-13 1-8 1 16 1-19 1 8 1 17 1-24 1 13 1-4 1-9 1 32 1-31 1 6 1 7 1 14 1-7 1-12 1 0 1 17 1-8 1 0 1 3 1 3 1-5 1 17 1 9 1-31 1 6 1 13 1-3 1-9 1-5 1 4 1 16 1 2 1-20 1 15 1-16 1 28 1-18 1-1 1-5 1 19 1 5 1-26 1 30 1-22 1 5 1-4 1 22 1 11 1-30 1 21 1-14 1 24 1-17 1-9 1 27 1-16 1 3 1 7 1-16 1 10 1 2 1 0 1-26 1 22 1 12 1 0 1-15 1 7 1-8 1 1 1-8 1 18M106 15l1-6 1 3 1-2 1 1 1-12 1 9 1-8 1-1 1 32 1-27 1-2 1-27 1 37 1 2 1-21 1 20 1 8 1-16 1 21 1-10 1 7 1-13 1 10 1 6 1 3 1-14 1 1 1 19 1-18 1 1 1 6 1-10 1 24 1-28 1 10 1 13 1-5 1-10 1 20 1-2 1-3 1-10 1 14 1-25 1 32 1-1 1-27 1 5 1 6 1 10 1 20 1-20 1 18 1-8 1-5 1-10 1 23 1-4 1-21 1 9 1 22 1-22 1 21 1-6 1 1 1-7 1 5 1 15 1-6 1-41 1 24 1 25 1-28 1 11 1-4 1 26 1-27 1 21 1 0 1 16 1-14 1-4 1 3 1-4 1 0 1 14 1-35 1 11 1 20 1 15 1-17 1-5 1 2 1-13M106 16l1-2 1 8 1-14 1 8 1-4 1-10 1 7 1 3 1 16 1-12 1-1 1 14 1-29 1-1 1 17 1 5 1-1 1 3 1-1 1-28 1 24 1-9 1 20 1 0 1-19 1 8 1-7 1 30 1-13 1 12 1-4 1-11 1 4 1-15 1 13 1-1 1-7 1-7 1 23 1-14 1-26 1 33 1 16 1 1 1-7 1-10 1 7 1 6 1-15 1 1 1 3 1 6 1 1 1-6 1 13 1-1 1 8 1-24 1 32 1-41 1 28 1 6 1 6 1-3 1 17 1-26 1-14 1-11 1 25 1 2 1-13 1 28 1 3 1-9 1 0 1-16 1 22 1 9 1-18 1 2 1-9 1 21 1-17 1 15 1-16 1 9 1 11 1-8 1 5 1-5 1-11 1 28 1-33 1 19M106 8l1-13 1 16 1 8 1-10 1-15 1 7 1 24 1-9 1-10 1-1 1 8 1-1 1 8 1-4 1 2 1 12 1-20 1-9 1 9 1 17 1-10 1-4 1 1 1-16 1 20 1-10 1 29 1-26 1 0 1 5 1 14 1-19 1 14 1-11 1 37 1-16 1-10 1-1 1 8 1-19 1 19 1 15 1-32 1 2 1 1 1 18 1-8 1 8 1 14 1-9 1-8 1 18 1-28 1 10 1 17 1-9 1 24 1-40 1 6 1 13 1 2 1 11 1-6 1 5 1 0 1-20 1 10 1-1 1 31 1-22 1 11 1-13 1 6 1 4 1-15 1 2 1 14 1 1 1 9 1-19 1 17 1 3 1-16 1-4 1 2 1 14 1-29 1 43 1-43 1 17 1 6 1 5 1-7 1-8M106 7l1 12 1-19 1 15 1 12 1-14 1-12 1 22 1 2 1-2 1-13 1 2 1-2 1-1 1-19 1 31 1-7 1-15 1 24 1-23 1 22 1 3 1 7 1-30 1 15 1 7 1-14 1 18 1-13 1 18 1-10 1 10 1-4 1-12 1 10 1 3 1-1 1 7 1-4 1 6 1-18 1 23 1-9 1-9 1 6 1-11 1 3 1 18 1 2 1-13 1-19 1 12 1 19 1-2 1 1 1-18 1 10 1 8 1 3 1-10 1 3 1 7 1-12 1-2 1 19 1-6 1-15 1 29 1 5 1-11 1-8 1 5 1 4 1-10 1 11 1-14 1 9 1-14 1 10 1 3 1-21 1 27 1 4 1 5 1-1 1-6 1-14 1 30 1-18 1-18 1 11 1 10 1 7 1-2 1 17M106 -11l1 3 1 21 1-9 1 18 1-6 1-3 1-1 1-15 1 2 1 4 1-4 1 6 1 20 1-14 1-7 1-2 1 7 1 13 1-12 1-5 1 19 1-18 1-6 1 4 1 1 1-3 1 11 1 16 1-19 1-16 1 23 1 3 1-15 1-1 1 18 1 15 1-27 1 27 1-4 1-13 1-8 1-15 1 23 1-13 1 24 1-17 1 16 1-18 1 15 1-12 1 15 1-23 1 7 1-1 1 8 1 27 1-22 1-7 1-5 1 37 1-2 1-24 1-13 1-9 1 35 1 5 1-26 1 11 1 5 1 3 1-19 1 6 1-1 1-8 1 21 1-11 1 25 1-12 1-9 1 3 1-3 1 38 1-34 1-8 1 7 1-2 1-3 1 18 1-3 1-1 1 10 1 2 1-18 1 20M106 11l1-4 1-12 1 11 1-15 1 23 1-16 1 13 1 1 1-11 1 20 1-15 1 8 1-10 1 18 1 7 1-10 1 1 1-12 1 11 1-6 1 19 1-21 1 13 1-3 1 13 1-7 1-27 1 35 1-23 1 19 1-26 1 19 1 6 1-32 1 11 1 42 1-27 1 23 1-17 1-8 1 3 1 2 1 2 1 9 1-6 1 15 1-13 1-9 1 15 1-8 1 16 1-8 1-8 1 12 1-12 1 8 1-12 1 39 1-28 1-8 1-13 1 43 1 3 1-14 1-12 1 12 1-8 1-3 1 17 1 3 1-17 1 22 1-17 1-30 1 22 1 25 1-5 1 9 1-4 1 12 1-29 1 24 1 15 1-29 1-10 1 15 1 8 1 4 1-1 1 32 1-48 1 2 1 19 1-15M106 22l1-22 1-7 1 17 1 2 1 11 1-15 1-1 1-1 1 2 1-8 1 9 1-11 1 19 1-7 1 4 1-9 1 7 1-5 1 25 1-13 1-7 1 8 1 2 1-5 1-14 1 33 1-20 1-3 1 0 1 14 1-12 1 10 1-2 1 3 1 6 1-16 1-12 1 14 1 7 1 4 1 0 1-15 1 7 1 2 1-14 1-1 1 34 1-27 1 13 1-6 1 7 1 0 1-6 1-6 1 13 1 33 1-22 1-14 1 17 1 6 1-24 1 10 1 8 1-9 1-1 1 13 1-9 1-1 1 0 1 9 1 7 1-15 1 21 1-46 1 33 1 8 1 14 1-4 1-38 1 20 1 4 1-17 1 1 1 7 1 3 1 13 1-3 1-21 1 10 1-10 1 39 1-22 1 2 1 5M106 12l1 4 1-10 1 9 1-12 1 13 1-4 1 8 1-15 1 8 1-26 1 11 1 15 1-10 1 9 1 21 1-27 1 18 1-17 1 8 1 5 1-7 1-2 1 16 1 4 1-26 1 8 1 10 1 12 1 7 1-23 1 14 1 2 1-19 1 7 1-5 1 13 1-9 1 9 1-14 1-3 1 15 1-3 1 19 1-10 1 9 1-5 1 1 1-33 1 15 1 1 1 8 1 4 1 7 1-6 1-27 1 45 1-19 1 5 1-7 1 15 1-2 1-21 1 11 1 12 1 1 1 7 1-17 1 7 1-4 1 4 1-6 1 18 1-24 1 15 1-14 1 20 1-5 1 30 1-37 1 33 1-29 1 14 1-1 1-21 1 16 1 12 1-27 1 32 1-34 1 24 1-15 1 1 1 20 1 2M106 11l1-6 1 12 1-27 1 20 1 11 1-16 1 0 1-5 1 11 1-3 1 11 1-18 1 15 1-9 1-8 1 4 1-7 1-5 1 17 1 30 1-29 1 11 1-6 1-8 1 17 1-20 1 29 1-21 1 29 1-8 1-6 1-3 1-1 1 1 1 7 1 3 1-3 1-5 1 7 1-9 1 20 1-19 1 17 1-14 1 12 1-3 1 3 1 9 1-14 1-5 1 9 1 14 1 12 1-28 1-17 1 14 1 22 1-4 1 11 1-6 1 12 1-8 1-4 1 17 1-18 1-1 1 11 1-27 1 9 1 1 1 11 1-1 1-20 1 34 1-7 1-36 1 37 1-18 1-2 1 4 1 37 1-32 1 19 1-5 1 27 1-25 1-10 1 20 1 8 1-16 1 11 1-23 1-4 1 30M106 2l1-3 1 5 1 0 1 2 1-1 1-2 1 12 1-13 1-16 1 27 1 12 1-3 1-1 1-12 1-6 1-4 1 16 1-1 1 12 1 5 1-27 1 10 1-4 1 12 1 2 1-6 1 9 1-14 1 23 1-4 1 3 1 1 1-12 1-24 1 49 1-37 1 8 1 23 1-14 1 1 1 12 1-33 1 30 1-27 1 15 1 21 1-11 1 0 1-17 1 17 1-10 1 1 1 21 1-13 1 7 1-9 1 16 1-29 1 5 1 12 1-15 1 22 1 3 1-6 1 6 1-2 1 28 1-20 1-25 1 28 1-26 1 34 1 4 1-36 1 18 1-6 1 2 1-3 1 18 1-4 1-11 1-20 1 29 1-7 1 35 1-26 1 8 1-14 1-20 1 28 1-19 1 38 1-9 1 18M106 22l1-12 1-3 1 1 1-7 1-4 1 9 1-4 1-6 1 5 1 1 1-8 1 14 1 9 1-17 1 13 1-7 1-3 1 9 1-16 1 20 1-8 1 0 1 6 1 17 1-18 1 8 1-11 1-5 1 9 1 11 1-3 1-6 1 18 1-14 1 17 1-24 1 8 1-3 1 4 1 5 1 0 1-12 1-6 1 9 1 1 1 6 1 4 1-5 1 13 1-13 1-12 1 32 1-3 1-14 1 15 1-42 1 28 1-15 1 21 1-2 1 2 1 1 1-5 1 4 1-8 1 13 1 0 1-14 1 36 1-36 1 9 1-8 1-11 1 25 1 18 1 0 1-18 1 20 1-10 1-7 1-13 1 34 1 4 1-11 1-13 1 14 1-3 1-7 1 3 1-4 1 18 1-21 1-14 1 32M106 3l1 8 1 9 1-16 1-5 1 5 1 18 1-19 1 8 1 0 1 7 1-4 1 6 1-15 1 27 1 23 1-37 1-4 1-13 1 27 1-21 1 21 1 7 1-4 1 6 1-30 1-4 1 33 1-13 1 3 1-12 1 0 1-1 1-7 1 27 1 3 1-4 1 4 1-12 1-16 1 12 1 23 1-2 1-16 1 7 1 11 1-9 1-10 1 3 1 11 1-9 1 14 1-9 1 8 1-10 1 9 1 4 1 3 1 2 1 17 1-18 1-7 1 5 1-22 1 16 1-3 1 21 1-9 1 15 1-12 1-10 1 10 1-11 1 15 1 2 1-8 1-3 1-5 1 19 1-19 1 28 1 1 1-12 1 7 1 9 1-8 1-7 1-4 1 7 1 3 1-2 1 8 1-30 1 9 1 1M106 -1l1 19 1 8 1-19 1-8 1-1 1 10 1-18 1 21 1-13 1 27 1-22 1 5 1-8 1 20 1-23 1 15 1-4 1 4 1 0 1 1 1 5 1-2 1 0 1-7 1-3 1 1 1 2 1-11 1 18 1-2 1 2 1 8 1 5 1-14 1 1 1 0 1 20 1-15 1-9 1 6 1 20 1-6 1-4 1 3 1-17 1 8 1 25 1-25 1 9 1 10 1-18 1 15 1-29 1 20 1-5 1 0 1 3 1 5 1-23 1 38 1-19 1 30 1-14 1 0 1 12 1-17 1 15 1-25 1 25 1-19 1 16 1 7 1-4 1-13 1 18 1-20 1 17 1-5 1 12 1 3 1-12 1-10 1 1 1 5 1 2 1 2 1 2 1-6 1-2 1-13 1 19 1 25 1-32 1 14M106 0l1-1 1 7 1 12 1-29 1 47 1-27 1-2 1 4 1-5 1 10 1-21 1-5 1 4 1 11 1 2 1-6 1 19 1-5 1-1 1 1 1-3 1 16 1-30 1 27 1-4 1-29 1 16 1 4 1 14 1-13 1 1 1-5 1 3 1 16 1-17 1-5 1 7 1 1 1-14 1 10 1 8 1 4 1-4 1 11 1-19 1 13 1 0 1-28 1 36 1-5 1-1 1 6 1-21 1-3 1 1 1 8 1 24 1-5 1-8 1-6 1 16 1-27 1 32 1-18 1 12 1-6 1-12 1 21 1 19 1-23 1-3 1-7 1 9 1 13 1-31 1 26 1-19 1 22 1 8 1-18 1-12 1 13 1 16 1-17 1 1 1 1 1 19 1-10 1 1 1-19 1 37 1-6 1-28 1-6M106 12l1-8 1 17 1-3 1-12 1 0 1 15 1-12 1 0 1 5 1 0 1 10 1-31 1 11 1-1 1 28 1-13 1-5 1 10 1-33 1 21 1-1 1-14 1 18 1-8 1 2 1 17 1 4 1-9 1 3 1-12 1 17 1-2 1-12 1-6 1 23 1-13 1 4 1 12 1-10 1 21 1-21 1-27 1 41 1-13 1-15 1 20 1-3 1 0 1 25 1-37 1 11 1-5 1-2 1 18 1 5 1 3 1-8 1-20 1 21 1 2 1-16 1 15 1 19 1-4 1-14 1-1 1 3 1-2 1 14 1-25 1 15 1 4 1-12 1 25 1-7 1 9 1-7 1-15 1 2 1 23 1-20 1 23 1-7 1-10 1 5 1 10 1-9 1-6 1 21 1-9 1 7 1-12 1 7 1-11M106 -9l1 17 1-3 1 12 1-5 1-18 1 13 1 4 1-31 1 23 1 2 1-1 1 18 1-18 1 14 1-19 1 12 1-3 1 15 1-18 1-8 1 33 1-36 1 21 1-9 1 6 1 6 1-27 1 31 1-9 1 12 1-12 1 18 1-11 1-11 1 13 1 1 1-6 1-9 1 0 1 3 1 2 1 1 1-4 1 5 1-2 1 25 1-25 1 9 1-12 1 29 1-15 1 13 1-24 1 10 1-10 1 31 1 9 1-26 1 10 1-8 1 19 1-21 1 9 1-14 1 8 1 2 1 13 1-6 1-10 1 13 1-2 1-13 1 6 1 13 1-12 1-2 1 23 1-15 1 0 1 22 1-27 1 11 1-18 1 25 1-23 1-4 1 21 1 1 1 21 1-18 1-8 1 1 1-1 1 13M106 0l1 12 1-12 1 7 1-21 1 21 1 6 1-17 1-6 1 31 1-7 1-21 1 13 1 4 1 10 1 0 1-2 1 7 1-17 1 4 1-5 1 13 1 16 1-20 1-8 1-11 1 30 1-2 1 5 1-31 1 22 1-21 1-6 1 19 1-1 1 0 1 5 1 3 1 16 1-25 1-3 1 0 1 12 1-18 1 29 1-19 1 4 1-3 1 12 1-10 1 8 1 11 1 6 1 2 1-20 1 11 1-17 1 19 1-4 1-3 1 15 1 4 1-30 1 21 1-8 1 11 1-10 1 8 1 17 1-8 1-25 1 36 1-41 1 10 1 5 1 8 1 7 1-2 1-2 1 0 1-4 1 11 1-15 1 31 1-36 1 10 1 29 1-17 1-15 1 22 1 1 1-8 1 0 1 19 1-30M106 -12l1 19 1-9 1 15 1 2 1 10 1-24 1 22 1-31 1 6 1 29 1-20 1 8 1-9 1-11 1 28 1-15 1 17 1-11 1 10 1 18 1-22 1 1 1-17 1 21 1-21 1 7 1 3 1 7 1-13 1 21 1-21 1 33 1-15 1-3 1 3 1-3 1 5 1-15 1 18 1 10 1-40 1 9 1 40 1-13 1-16 1 2 1 1 1-1 1 20 1-13 1-6 1-4 1 16 1 6 1 17 1-41 1 24 1-18 1 33 1-36 1 25 1 7 1-12 1-5 1 15 1 11 1-5 1-3 1 20 1-21 1 2 1-13 1 9 1 11 1-17 1 7 1 9 1-10 1-17 1 26 1 9 1-12 1 8 1-22 1 30 1-16 1 6 1-10 1 32 1-16 1 25 1-33 1 13 1 1M106 -2l1 21 1-13 1-12 1 13 1-22 1 21 1-1 1 13 1-14 1-16 1 23 1 16 1-28 1 8 1-9 1 10 1-17 1 28 1 12 1-34 1 14 1-8 1 6 1 11 1-3 1 9 1-12 1-1 1 28 1-18 1-8 1-8 1 11 1 7 1-5 1-7 1 1 1 1 1-10 1-1 1-5 1 10 1 22 1-14 1-13 1 4 1-12 1 23 1 10 1-22 1 2 1 7 1 8 1 0 1-4 1 7 1-9 1 6 1 15 1-22 1 1 1 16 1-15 1 5 1-18 1 11 1 8 1 4 1 5 1 2 1-4 1-3 1 6 1 0 1 11 1-18 1 3 1 18 1-8 1-24 1 11 1 3 1 2 1-15 1-6 1 31 1-10 1 3 1-10 1 21 1-20 1 33 1-26 1 26M106 20l1-13 1 4 1 6 1-23 1 18 1-5 1 12 1-13 1 13 1-13 1-3 1 6 1 20 1-28 1 5 1 14 1-18 1 21 1-13 1 1 1-10 1 13 1 15 1-14 1 7 1 3 1 4 1-15 1 15 1 8 1-13 1-9 1 9 1-12 1 19 1-19 1 11 1 13 1-20 1 10 1 13 1-22 1 10 1 3 1-12 1 20 1 6 1-1 1-16 1 21 1-3 1-9 1 8 1-9 1 6 1 11 1-7 1 10 1-16 1 3 1-8 1 12 1 4 1-31 1 13 1 18 1-4 1-16 1 16 1 22 1-13 1-19 1 15 1-19 1 20 1-2 1 15 1-14 1-4 1 12 1 24 1-31 1 16 1-17 1 0 1 15 1-7 1 15 1-1 1 1 1-7 1 12 1-10 1 8M106 5l1 4 1-5 1 7 1-12 1-4 1 12 1-4 1 3 1-17 1 3 1 28 1-6 1-3 1 11 1-14 1 11 1-15 1 26 1-45 1 24 1-24 1 27 1 7 1-4 1-2 1-1 1-4 1-2 1 8 1 0 1 14 1-11 1 3 1-3 1-9 1-2 1 21 1-24 1 17 1 5 1-16 1 27 1-13 1-6 1-3 1 20 1-30 1 20 1-8 1 21 1-15 1-6 1 18 1-17 1 20 1-6 1-5 1 8 1-15 1 12 1-12 1 9 1-17 1 29 1-36 1 9 1 19 1-3 1 9 1-27 1 11 1 11 1-7 1 4 1 6 1-5 1-11 1-9 1 14 1-6 1-7 1 27 1 6 1-13 1 19 1 0 1-10 1-28 1 20 1 22 1-24 1 18 1-3 1-15M106 -7l1 15 1-1 1-6 1 1 1-7 1-4 1 7 1 33 1-22 1 1 1-5 1 9 1 11 1-19 1 2 1 9 1-2 1 4 1-27 1 14 1 28 1-27 1 14 1 8 1-5 1 0 1-14 1-16 1 22 1 9 1-5 1 3 1-9 1 0 1 4 1 9 1 23 1-26 1-4 1 5 1 7 1-3 1-3 1-7 1 4 1 14 1 2 1-22 1 22 1-21 1 36 1-18 1 6 1-10 1 2 1 16 1-40 1 20 1 20 1-19 1 6 1-11 1 27 1-36 1-7 1 31 1 3 1-11 1-14 1 25 1-3 1 1 1-8 1 1 1 22 1-1 1-10 1 2 1 8 1 12 1-45 1 39 1-15 1-9 1 9 1 8 1-7 1 5 1 0 1-10 1 13 1-2 1 2 1 7M106 10l1 4 1-4 1 10 1-19 1-1 1-10 1 26 1-9 1 0 1 19 1-5 1-12 1 1 1 5 1 10 1-11 1 2 1-19 1 24 1-7 1-8 1-4 1 23 1-22 1 40 1-46 1 18 1-10 1 12 1 21 1-25 1-8 1 24 1 3 1-5 1-20 1 25 1-16 1 11 1 21 1-31 1 26 1-7 1-21 1 39 1-33 1 12 1-3 1 15 1-17 1-4 1 27 1-18 1 10 1 2 1 7 1-13 1-1 1 4 1-1 1 10 1-8 1-9 1 4 1 10 1 2 1-7 1 3 1 6 1 3 1-9 1-1 1 23 1-26 1 13 1 5 1-10 1 16 1-20 1 27 1-4 1-9 1 7 1-9 1 14 1 5 1-20 1 14 1-6 1 18 1-24 1 22 1-9 1 2M106 21l1-20 1 17 1 10 1-41 1 34 1-9 1-7 1-8 1 9 1 4 1 10 1-23 1 24 1-16 1 20 1-13 1-9 1 11 1-6 1 18 1-13 1-4 1 9 1 17 1-21 1-1 1-8 1 23 1-20 1 5 1 2 1 8 1 7 1-21 1 5 1 14 1 1 1 0 1 10 1 6 1-23 1-10 1 2 1 7 1 12 1-18 1 11 1 5 1 5 1 13 1 4 1-48 1 18 1 22 1 4 1-15 1 4 1 1 1-7 1 16 1-25 1 3 1 27 1-12 1-14 1-8 1 43 1-14 1-20 1 5 1 7 1 14 1-2 1-27 1 39 1-7 1-14 1-14 1 16 1 13 1-20 1 22 1-3 1-11 1 12 1 10 1-11 1-13 1 8 1-5 1 7 1 20 1-29 1 41M106 25l1-13 1-7 1 12 1-27 1 13 1 28 1-19 1 3 1-25 1 20 1-12 1 9 1 0 1-2 1 27 1-24 1 10 1 9 1 4 1-9 1-20 1 29 1-11 1 10 1-4 1-1 1-4 1-2 1-15 1 4 1 16 1 0 1 1 1 3 1-6 1-6 1-3 1 13 1-7 1-3 1 6 1 7 1-14 1 19 1 15 1-23 1 15 1-5 1-14 1 32 1-23 1 1 1 0 1 3 1 3 1 1 1-5 1-3 1 20 1-14 1-15 1 13 1 8 1-1 1-9 1 3 1-11 1 17 1 5 1 16 1-31 1 12 1-1 1-26 1 42 1-2 1-7 1-1 1-7 1 8 1-2 1 2 1-14 1-13 1 4 1 33 1 12 1-9 1-13 1-15 1 18 1-11 1 14 1-2M106 12l1 4 1-8 1-6 1 17 1-11 1 7 1-8 1-9 1 7 1-9 1 4 1 5 1-1 1 29 1-32 1 6 1 8 1 17 1-19 1 5 1-8 1-6 1 3 1 16 1-10 1 2 1 0 1 13 1 4 1-15 1-6 1 2 1-11 1 13 1 9 1 1 1-12 1 6 1-3 1 5 1 11 1-8 1-10 1 4 1-3 1 9 1-4 1-11 1 9 1 14 1-19 1 1 1 15 1 20 1-18 1-13 1 7 1 9 1 12 1 1 1-29 1 7 1 3 1 4 1 7 1-3 1-4 1 19 1-16 1-17 1 17 1-5 1 4 1 24 1-15 1-21 1 18 1 4 1-10 1 16 1-16 1 15 1-15 1-2 1 20 1-28 1 44 1-26 1-23 1 10 1 5 1-16 1 47 1 15M106 26l1-24 1 11 1 4 1-25 1 19 1 8 1-9 1 1 1 11 1 1 1-14 1-18 1 17 1 3 1 1 1 2 1-9 1 8 1-14 1 38 1-26 1-1 1 19 1-15 1 4 1 21 1-32 1 11 1 3 1 7 1-17 1 3 1-12 1 27 1-12 1-2 1 10 1 9 1-19 1-12 1 10 1 17 1-3 1-11 1 13 1-7 1 5 1-9 1-5 1 18 1 3 1-4 1-18 1 26 1 5 1-18 1 6 1 1 1-2 1 4 1 12 1-4 1-27 1 18 1 2 1-10 1-16 1 40 1-5 1 1 1-8 1 19 1 6 1-6 1-5 1 12 1-16 1 5 1-21 1 11 1 17 1-1 1-2 1-8 1-20 1 15 1 18 1-30 1 25 1-13 1 3 1-7 1 31 1-13M106 5l1 10 1 5 1-5 1 0 1-15 1 7 1 0 1-3 1 15 1-18 1 25 1 0 1-11 1 3 1 4 1-15 1 10 1 14 1-12 1 16 1-7 1-9 1 0 1 13 1-10 1 11 1-32 1 19 1-11 1 21 1-4 1 14 1-22 1 25 1-3 1-18 1 24 1-4 1-21 1 15 1-2 1 4 1-5 1 14 1-14 1 7 1-6 1-3 1-14 1 26 1-5 1 4 1-1 1-7 1-4 1 12 1-16 1 9 1 10 1-2 1 3 1-14 1 9 1-6 1 25 1-11 1 0 1 9 1 8 1-27 1 18 1-15 1 2 1 6 1-3 1 18 1-6 1-15 1 7 1 1 1 21 1 3 1 13 1-47 1 18 1 28 1-22 1 4 1-2 1-4 1 29 1-39 1 40 1-26M106 6l1-11 1 13 1 6 1-2 1 1 1-6 1 11 1 1 1 20 1-32 1 18 1 6 1 1 1-12 1-1 1 3 1 5 1-11 1 6 1 9 1 1 1-8 1-10 1 17 1-9 1-5 1 14 1-9 1-3 1 8 1-17 1 20 1 6 1-7 1 1 1 1 1 15 1 14 1-34 1-3 1 27 1-25 1 6 1 17 1-7 1-7 1 19 1-24 1 33 1-25 1 13 1-5 1 20 1-25 1 3 1 18 1 10 1-17 1 5 1 9 1-10 1 9 1-25 1 10 1 18 1-5 1-11 1 5 1 21 1-29 1 9 1 25 1-6 1-13 1 4 1 9 1-23 1 38 1-30 1 11 1 11 1-11 1 24 1-18 1 2 1 22 1-28 1 3 1 21 1-25 1 13 1 10 1-4 1 8M106 -4l1-2 1 35 1-22 1 18 1-28 1 11 1 7 1 17 1-6 1-22 1 22 1-6 1-3 1 16 1-18 1-1 1-20 1 28 1-21 1 25 1-26 1 11 1 24 1-19 1-3 1 15 1-26 1 28 1-6 1 5 1-15 1 4 1-13 1 39 1-20 1-14 1 11 1-11 1 0 1 13 1 1 1-3 1 25 1-25 1 16 1-14 1 10 1-22 1 15 1-7 1 29 1-16 1-6 1 23 1 7 1-19 1-4 1 12 1-1 1-15 1 1 1 48 1-42 1 14 1-9 1-12 1 20 1-9 1 0 1 25 1-15 1 0 1-28 1 32 1-3 1-8 1 4 1 12 1-16 1 11 1-22 1 15 1 2 1 7 1 33 1 10 1-56 1 36 1-5 1 5 1-2 1-14 1 8 1 7M106 8l1 15 1-9 1-18 1 15 1-5 1-2 1 3 1-3 1 10 1 0 1-5 1 5 1-15 1 16 1 0 1-7 1 5 1-10 1 11 1-11 1 28 1-24 1 12 1-7 1 12 1-16 1 7 1-4 1 4 1 4 1 22 1-8 1-25 1 12 1 10 1 3 1-5 1-6 1 0 1 7 1-12 1 13 1 0 1-8 1-14 1 19 1-8 1 9 1-6 1 5 1-4 1 15 1-21 1 26 1-12 1-6 1 17 1 15 1-38 1 5 1 9 1 6 1-3 1 5 1-12 1 20 1-12 1 26 1-34 1 7 1 4 1-7 1 16 1-25 1 8 1 32 1-26 1 2 1 18 1-24 1-13 1 16 1-8 1 35 1-15 1-10 1 18 1 0 1-27 1 22 1-15 1 23 1 5 1-4M106 21l1-19 1 28 1-25 1 2 1-14 1 26 1-13 1 2 1-1 1 10 1-16 1-1 1 11 1 3 1-3 1-3 1 31 1-31 1 6 1 5 1 11 1-10 1-31 1 44 1-17 1 2 1-2 1 1 1 14 1-4 1-1 1-5 1 9 1 1 1-8 1-8 1 29 1-6 1-22 1 15 1 5 1 5 1-1 1-11 1 8 1 18 1-20 1 9 1 4 1-7 1-11 1-3 1 15 1-1 1-3 1-16 1 6 1 14 1 18 1-24 1 4 1-6 1 32 1-9 1-24 1 11 1-6 1 11 1-2 1 23 1-32 1 7 1 5 1 0 1 6 1-1 1 9 1-29 1 20 1 2 1 26 1-20 1-18 1 17 1-12 1 16 1-16 1 22 1-10 1-11 1 10 1 27 1-39 1 16"/>
<path class="tn" stroke="#74b3e6" d="M106 19l1-2 1-18 1-1 1 8 1 4 1 1 1-10 1-7 1-2 1 10 1 19 1-19 1 10 1-8 1 6 1 11 1-3 1-7 1 4 1-13 1-5 1 18 1-11 1 9 1-3 1 4 1 19 1-11 1 16 1-19 1-1 1-1 1 27 1-16 1 9 1-1 1-9 1-6 1-7 1 8 1 14 1-2 1-15 1-1 1 11 1 5 1 7 1 13 1-40 1 2 1 2 1 17 1 6 1-7 1-1 1-9 1 5 1-1 1 11 1-16 1 16 1-3 1-12 1 8 1 19 1 0 1-7 1 0 1-30 1 16 1 25 1-17 1 12 1 6 1-45 1 30 1 9 1-13 1 17 1-15 1 1 1 4 1 7 1-14 1 10 1-4 1-3 1-9 1 6 1 4 1-18 1 3 1 15 1 3M106 1l1 10 1 0 1-8 1 22 1-31 1 13 1 4 1-8 1 15 1 8 1-8 1-5 1 7 1-9 1 8 1 4 1 3 1-28 1 12 1 13 1 3 1-6 1-5 1 4 1-7 1-1 1 17 1-11 1-3 1 32 1-23 1-5 1 10 1 33 1-33 1 13 1 9 1-9 1-16 1 6 1 16 1 5 1-44 1 41 1-14 1 7 1 7 1-14 1 11 1 22 1-6 1-34 1 22 1-24 1 4 1 24 1-19 1 6 1 9 1 6 1-21 1 4 1 10 1-14 1 25 1 2 1 5 1-24 1 16 1-22 1 16 1-9 1 14 1-7 1-15 1 32 1-33 1 38 1-4 1-1 1-9 1 6 1-16 1-2 1-17 1 34 1-22 1 9 1-3 1 20 1-7 1-27 1 29 1 4M106 5l1-13 1 11 1 4 1 9 1-33 1 17 1-11 1 15 1-10 1-4 1 10 1 12 1-14 1 5 1 2 1 26 1-11 1-28 1 14 1 10 1 6 1 6 1-4 1-18 1 4 1 21 1-26 1-4 1 15 1-7 1 2 1 2 1 11 1 10 1-22 1 3 1 0 1-1 1 13 1-14 1 28 1-32 1 24 1 14 1-14 1-13 1-4 1-5 1 11 1 4 1-7 1 21 1-17 1 5 1-4 1 10 1-2 1-17 1 1 1 23 1-1 1-8 1-18 1 28 1 3 1 15 1-25 1 1 1 16 1-21 1 16 1-13 1 10 1 6 1-21 1 14 1 3 1-14 1 15 1 0 1-12 1-6 1 19 1-11 1 6 1 21 1-27 1 21 1-5 1-7 1-18 1 12 1 3 1 0M106 -22l1 19 1-13 1 9 1 6 1 10 1-7 1-4 1 7 1-19 1 22 1-8 1 8 1 1 1-4 1 22 1-22 1 7 1 6 1-4 1 23 1-29 1 3 1 1 1 12 1-18 1 5 1 1 1 12 1-1 1-2 1 5 1 2 1-11 1 4 1 6 1 15 1-27 1 10 1-8 1 8 1 5 1-5 1 27 1-19 1-30 1 22 1-5 1 37 1-33 1 11 1-10 1 6 1-2 1 0 1-5 1 25 1-9 1-2 1 10 1-3 1-9 1 6 1 1 1-17 1-2 1 14 1-10 1 23 1-4 1-16 1 16 1-11 1 19 1-21 1-5 1 36 1-43 1 22 1-14 1 19 1-7 1 13 1-1 1-27 1 10 1-8 1-11 1 19 1-3 1-6 1 33 1 0 1-20 1 11M106 3l1 9 1-2 1 11 1-9 1-10 1 4 1 5 1-8 1 8 1-17 1 27 1 4 1-2 1-21 1 9 1 12 1-31 1 30 1 7 1 1 1-17 1 23 1 5 1-12 1 8 1 3 1 0 1-23 1 27 1-15 1 0 1-6 1 6 1-2 1 8 1 12 1-15 1-6 1 22 1 18 1-29 1-9 1 11 1 13 1-5 1-8 1 5 1 3 1 15 1-23 1 25 1-18 1 16 1-1 1-11 1 6 1-2 1 5 1 0 1 8 1-25 1 12 1 27 1-29 1 9 1-19 1 48 1-13 1 1 1-3 1 8 1-6 1-26 1 4 1-5 1 7 1 20 1-13 1 5 1 0 1 16 1-9 1 18 1-10 1-21 1-3 1 5 1 10 1-10 1-8 1 25 1-12 1 24 1-25M106 -12l1 13 1 29 1-11 1-2 1-5 1-9 1 26 1-16 1 2 1-6 1 5 1 3 1 5 1 2 1-5 1 5 1-20 1 16 1-7 1 5 1 22 1-21 1-3 1 15 1-17 1-3 1 21 1-3 1-8 1-2 1-1 1 7 1 35 1-34 1-1 1 12 1 13 1-36 1 14 1 17 1-11 1 11 1-9 1 6 1-9 1 7 1 7 1-2 1 22 1-18 1-10 1-1 1-3 1 17 1 5 1 3 1-30 1 5 1 30 1 23 1-19 1-1 1-15 1 1 1 10 1-13 1-7 1 20 1-16 1 1 1-15 1 35 1 0 1-5 1-11 1 3 1 5 1 6 1-7 1-1 1 2 1-7 1 0 1 15 1-9 1 8 1 7 1-17 1 14 1 0 1-5 1 23 1-25 1 24M106 16l1-9 1 18 1-10 1 13 1-25 1 2 1 33 1-24 1-5 1-6 1 15 1 6 1 3 1-9 1-9 1 12 1-6 1-13 1 24 1-14 1 3 1 13 1-7 1-5 1-7 1 35 1-35 1 22 1-4 1-10 1 10 1 1 1 7 1-1 1 13 1-6 1-18 1 26 1-11 1-20 1 36 1-24 1 6 1 7 1 6 1-5 1 17 1-29 1 7 1 3 1 24 1-2 1-31 1 26 1-12 1-28 1 41 1-30 1-2 1 32 1 0 1-11 1-8 1 14 1-10 1 7 1-2 1 4 1-11 1 5 1 16 1-25 1 25 1-4 1-13 1-1 1 2 1 7 1-5 1 21 1-21 1 14 1-10 1 14 1 2 1-21 1 7 1 8 1 9 1-9 1 6 1-11 1 1 1-12M106 6l1-1 1-8 1 14 1-5 1-20 1 24 1-8 1-3 1-3 1 10 1 4 1-13 1 10 1-17 1 10 1 13 1 2 1-15 1 15 1-13 1 4 1-6 1 44 1-38 1-1 1-2 1 18 1 9 1-30 1 11 1-6 1 8 1-7 1 24 1-23 1 15 1 2 1-16 1 20 1-15 1-5 1-4 1 14 1 1 1-17 1 12 1-15 1-5 1 38 1-31 1 0 1 19 1-12 1 6 1-1 1 0 1 14 1 0 1-2 1 12 1-28 1 12 1 18 1-20 1 22 1-15 1-21 1 11 1 10 1-1 1 0 1 0 1-17 1 15 1 4 1-2 1 13 1-22 1 29 1-7 1-5 1-15 1 11 1 11 1-5 1 13 1-44 1 12 1-20 1 27 1 7 1-7 1 14 1 1M106 4l1-19 1 28 1-14 1-13 1 17 1 6 1-5 1 5 1 1 1-13 1 17 1-21 1 6 1-6 1 25 1 18 1-33 1 19 1-14 1-5 1 3 1-2 1 4 1-6 1 4 1 2 1 17 1-4 1 8 1 12 1-51 1-4 1 35 1-1 1-12 1 7 1-15 1 16 1-8 1 39 1-29 1 8 1 16 1-19 1-7 1 6 1-11 1 25 1-33 1 6 1 27 1-26 1-2 1 11 1 1 1 10 1-4 1 4 1 10 1-27 1 21 1 14 1-15 1 1 1-6 1-2 1-8 1-4 1 26 1-10 1 6 1-15 1 12 1 5 1-8 1 7 1-26 1 21 1-23 1 16 1 10 1 9 1 2 1-17 1-3 1 9 1 10 1-5 1-5 1-7 1-7 1 3 1 10 1 4M106 1l1 10 1-9 1 12 1-14 1-2 1 14 1-10 1-2 1-18 1 13 1 34 1-21 1-1 1-9 1 9 1-2 1 9 1 0 1-15 1-2 1 5 1 16 1-16 1 10 1 8 1-24 1-2 1 5 1 4 1 23 1-24 1 13 1 3 1 1 1-20 1 14 1-11 1-3 1-1 1 9 1 3 1 25 1-4 1-38 1 18 1 11 1 5 1 11 1-21 1 8 1-3 1 6 1-20 1-6 1 35 1-33 1 16 1-11 1 12 1-8 1 20 1-22 1 3 1 4 1-8 1 1 1 13 1 4 1 13 1-30 1 25 1-8 1 3 1 1 1-4 1 1 1 13 1-20 1 2 1-3 1 11 1 11 1-41 1 37 1-8 1 17 1-24 1-15 1 28 1-16 1 8 1 3 1 12 1-29M106 1l1 1 1 3 1-8 1 12 1-3 1 4 1-25 1 10 1 39 1-41 1 28 1-3 1-15 1 6 1-2 1-18 1-2 1 31 1-13 1-4 1-1 1 17 1-5 1-1 1 0 1-1 1-10 1 14 1 11 1-20 1 9 1-3 1 2 1 7 1-9 1-12 1 25 1-24 1 7 1 5 1 8 1-8 1 9 1 2 1-11 1-4 1 6 1-5 1 7 1 27 1-26 1-10 1 25 1-5 1 5 1-28 1 13 1-1 1 13 1-25 1 29 1-21 1 30 1-24 1 15 1-4 1-15 1-5 1 14 1 0 1 2 1-14 1 1 1-8 1 19 1 14 1-11 1-14 1 8 1 9 1 12 1-32 1 23 1-9 1-5 1 18 1-8 1-11 1-1 1 35 1-36 1 4 1 36 1-32M106 12l1-5 1 23 1-30 1-10 1 44 1-29 1-4 1 23 1 0 1-5 1-2 1-10 1 17 1-4 1-14 1 8 1 0 1-1 1-13 1 0 1 19 1 5 1-7 1 16 1-29 1 17 1 10 1-9 1-10 1 23 1-6 1-4 1 20 1-33 1 10 1 5 1 13 1-16 1 9 1-19 1 20 1-8 1-6 1 15 1-7 1 4 1 3 1 7 1-4 1-8 1 8 1-13 1 6 1 6 1 12 1 12 1 11 1-28 1-19 1 16 1 24 1-7 1-5 1-3 1 7 1-24 1 3 1 17 1-10 1 3 1 8 1-12 1 16 1-7 1 5 1 5 1-9 1 5 1-9 1-8 1 7 1 12 1-8 1 9 1 25 1-32 1 8 1-7 1 12 1-9 1-9 1 9 1 1 1-2M106 9l1-9 1 13 1-4 1-11 1-1 1 14 1-2 1 7 1-7 1 0 1-14 1 4 1 16 1-6 1 2 1 7 1-15 1 2 1-4 1 16 1-3 1-16 1 43 1-17 1 5 1-8 1 10 1-21 1-3 1 10 1-3 1 11 1 7 1-13 1 5 1-3 1 4 1 13 1-4 1 4 1 16 1-23 1 3 1 2 1-9 1 9 1-18 1 1 1 15 1 0 1-1 1 10 1-1 1 3 1-7 1-6 1 7 1-19 1 13 1 3 1-10 1 5 1 2 1-9 1 22 1-8 1 18 1-21 1 23 1-22 1 7 1-15 1-5 1 32 1-15 1-3 1 13 1-22 1 24 1-3 1 0 1-14 1-4 1 21 1 7 1-4 1 3 1-8 1-8 1 20 1-7 1 9 1-23 1 10M106 11l1-7 1-11 1-5 1 24 1-18 1 23 1-7 1-5 1 12 1-1 1-6 1-7 1-7 1 19 1-10 1-4 1 15 1-11 1 29 1-41 1 34 1-15 1-17 1 35 1-20 1 38 1-42 1 11 1 18 1-18 1 36 1-22 1-18 1 16 1-12 1 25 1 2 1-6 1-18 1 13 1 17 1-23 1-5 1 3 1 24 1 2 1-29 1 5 1-3 1 25 1-16 1 17 1 1 1-10 1 23 1-26 1 19 1-17 1 1 1-1 1 23 1-4 1-1 1-1 1-8 1 17 1-3 1-8 1 32 1-30 1-15 1 5 1 19 1 6 1 4 1-6 1-21 1 8 1 18 1-20 1 17 1 5 1-6 1 6 1-15 1 8 1-40 1 42 1 2 1-17 1 16 1 3 1-12 1 1M106 1l1 2 1-7 1 20 1-4 1-13 1 9 1 3 1 1 1-8 1 4 1 5 1-6 1-5 1 4 1 13 1-7 1 3 1 4 1-6 1 4 1-12 1-7 1 28 1-24 1 3 1 12 1 8 1-11 1 2 1 2 1-9 1 23 1 7 1-16 1-3 1 7 1-2 1-8 1 6 1 4 1 5 1-25 1 13 1 6 1-6 1 17 1-5 1-18 1 26 1-22 1 14 1 1 1 5 1-12 1 0 1 10 1-12 1 2 1 15 1-30 1 38 1-25 1 23 1-13 1-3 1-12 1 28 1-29 1 9 1 4 1-20 1 36 1 5 1-9 1-10 1 27 1-18 1 1 1 1 1-9 1 7 1-23 1 24 1-15 1 27 1-12 1 5 1-13 1 17 1-9 1-2 1 7 1-15 1 31M106 10l1 8 1-25 1-4 1 10 1 17 1-14 1 5 1-3 1 3 1-3 1 11 1-15 1 30 1-32 1 11 1 2 1-4 1-4 1 24 1-27 1-19 1 44 1-16 1 12 1 5 1 0 1-16 1-10 1 15 1 11 1 6 1-38 1 31 1 13 1 3 1 0 1-28 1-5 1 12 1 4 1-7 1-1 1 12 1-7 1 4 1 15 1-10 1-17 1 36 1-21 1 11 1-19 1-8 1 27 1-21 1 6 1-2 1 14 1-2 1-12 1-3 1 1 1 40 1-20 1-17 1 9 1-3 1 1 1 6 1-7 1-13 1 18 1 22 1-11 1-2 1-6 1-2 1-1 1 9 1-4 1-8 1-1 1 2 1 1 1 8 1-16 1 23 1 3 1-14 1 21 1-34 1-16 1 19 1 7M106 -5l1-12 1 41 1-27 1 10 1 5 1-20 1 14 1-19 1 20 1 3 1-6 1 7 1-13 1-4 1 21 1 2 1-4 1-10 1 0 1 11 1-1 1-10 1-6 1 21 1 11 1 1 1-17 1-8 1 9 1-21 1 22 1-8 1 2 1-4 1 24 1-31 1 20 1-11 1 3 1 15 1-4 1-8 1 17 1-11 1 5 1-1 1-6 1 6 1-1 1 3 1-8 1 20 1-4 1-12 1 16 1-15 1-4 1 10 1-3 1-5 1 9 1-2 1-10 1 6 1 28 1-23 1 4 1-16 1 27 1-18 1-4 1 2 1 17 1-16 1-10 1 29 1-15 1-21 1 31 1-8 1-5 1-8 1 23 1 1 1-15 1 12 1 9 1-2 1-7 1-19 1 16 1-9 1 17 1 5M106 29l1-19 1 2 1-5 1 14 1-15 1-9 1 30 1-21 1 20 1-8 1-1 1 14 1-19 1 17 1 6 1-28 1 36 1-20 1 9 1-27 1 5 1 15 1-23 1 11 1 4 1 39 1-35 1-6 1-10 1 13 1 2 1-13 1 29 1 0 1-14 1 6 1 32 1-44 1 34 1-24 1-4 1-11 1 31 1-20 1 12 1 0 1-11 1 3 1-9 1 44 1-32 1 16 1-4 1 2 1 18 1-35 1 6 1-4 1 34 1-32 1 10 1 21 1-26 1 11 1-3 1-18 1 29 1-6 1-15 1 13 1-10 1 22 1-2 1-18 1-20 1 33 1 10 1-8 1 7 1-9 1-10 1 2 1 9 1 13 1-9 1-2 1 11 1-13 1 6 1 11 1-25 1-1 1 19 1-16M106 19l1-26 1 2 1 12 1 1 1-6 1 4 1-10 1 30 1-16 1-15 1 32 1-7 1-11 1 7 1 3 1-14 1 5 1 9 1-17 1 0 1-1 1 12 1-10 1 9 1 1 1 9 1-32 1 38 1 5 1-10 1-29 1 26 1-2 1-26 1 15 1 13 1-31 1 39 1-12 1 21 1-13 1-12 1 15 1-18 1 1 1 28 1-9 1-8 1-2 1 20 1-25 1 14 1 2 1 24 1-32 1 29 1-6 1-26 1 5 1 5 1-4 1 1 1 9 1-28 1 5 1 30 1 11 1-35 1 9 1 1 1-10 1 27 1 13 1-31 1 9 1-7 1 6 1-25 1 42 1-16 1 2 1-4 1 22 1-34 1-1 1 1 1 21 1 10 1 0 1-3 1-41 1 42 1-2 1-11M106 7l1-5 1-14 1 19 1 6 1-22 1 9 1-7 1 16 1-9 1 5 1-3 1 11 1 3 1 3 1-14 1 3 1-1 1 0 1 3 1-14 1 1 1 16 1-25 1 13 1 17 1-4 1 6 1-12 1 9 1-11 1 15 1 0 1-11 1-8 1 3 1 15 1 1 1-4 1-3 1 0 1-3 1-10 1 31 1-3 1 3 1-20 1 30 1-17 1 6 1-16 1 1 1 14 1-2 1-5 1 12 1-23 1 12 1 17 1-7 1 9 1-17 1 12 1 3 1-18 1 10 1 10 1 1 1-1 1-37 1 31 1 6 1-26 1 19 1 5 1 6 1-14 1 2 1 9 1-12 1 15 1-6 1 0 1-10 1 7 1-3 1 15 1-22 1-5 1 5 1 25 1-9 1 1 1-13 1 15M106 -1l1 8 1 2 1-14 1-5 1 19 1 11 1-17 1 10 1 8 1-20 1 6 1 10 1-2 1-7 1 5 1 0 1-18 1 12 1 24 1-14 1-9 1 3 1 14 1-3 1-5 1 8 1-8 1 13 1-1 1-10 1 19 1-25 1 20 1 8 1-21 1-4 1-5 1 4 1 8 1-5 1 4 1 24 1-24 1 12 1 8 1-12 1-3 1 16 1 6 1-21 1-1 1 32 1-19 1 18 1-25 1 8 1-12 1 1 1 9 1-9 1 25 1 10 1-21 1-1 1 8 1-17 1 4 1 19 1-23 1 31 1-14 1-23 1 39 1-15 1-19 1 8 1 0 1-29 1 57 1-23 1 19 1-20 1 3 1-1 1 5 1 10 1-19 1 5 1-19 1-1 1 38 1-18 1-18 1 28M106 0l1 0 1 4 1 33 1-35 1-1 1 17 1 6 1-9 1-8 1 3 1-3 1-2 1 14 1 6 1-13 1 12 1-2 1-6 1 15 1-2 1-20 1 20 1-5 1 3 1-22 1 4 1 6 1 17 1 2 1-25 1 26 1-2 1-7 1 32 1-43 1 5 1 6 1 9 1-23 1 7 1 17 1-20 1 14 1 17 1-27 1 3 1 19 1 11 1-1 1-23 1 26 1-6 1-15 1 7 1 5 1-13 1 18 1-9 1 11 1-1 1-7 1 3 1 16 1-11 1-7 1 11 1-16 1 16 1 8 1 4 1-19 1 6 1 5 1-37 1 6 1 16 1 4 1 21 1 5 1-20 1-1 1-7 1 8 1-13 1 10 1 6 1-16 1 9 1-3 1 6 1 4 1 6 1-1 1-17M106 11l1 2 1-9 1 5 1-17 1 24 1-1 1-3 1 10 1-14 1 4 1 14 1 0 1-5 1-8 1 16 1-5 1-21 1-9 1 25 1 20 1-12 1-34 1 19 1 5 1-10 1 32 1-14 1-1 1 9 1-5 1-14 1 8 1 6 1 3 1-10 1 22 1 12 1-24 1 1 1 1 1 6 1-2 1-32 1 54 1-20 1-36 1 15 1-2 1 45 1-32 1 8 1 9 1-19 1 15 1-9 1 10 1-1 1 14 1-26 1 26 1-5 1 5 1-14 1-2 1 7 1-4 1 13 1-21 1 23 1-5 1-21 1 27 1 4 1-12 1-13 1-4 1 13 1 7 1-2 1-1 1-15 1 10 1-3 1-3 1 5 1 38 1-52 1 24 1-1 1-16 1 35 1-24 1-3 1 3M106 -10l1 25 1-8 1 14 1-1 1-19 1-3 1 22 1-16 1-2 1 0 1 3 1-7 1 5 1 15 1 9 1-22 1 17 1-2 1-7 1 20 1 1 1-10 1-20 1 4 1 26 1-15 1 7 1 17 1-10 1-7 1 11 1-2 1-9 1-14 1 33 1-29 1 11 1 10 1 4 1 2 1-20 1 7 1 2 1-19 1 9 1-2 1 6 1 10 1-6 1 2 1-7 1 5 1-2 1 12 1 10 1-22 1 4 1 7 1-7 1 15 1 13 1-16 1 12 1 11 1-5 1-31 1 17 1 2 1-6 1 5 1-6 1-14 1-1 1-4 1 30 1-19 1 25 1-17 1 10 1 22 1-40 1 21 1-8 1 2 1 0 1 10 1-8 1 8 1-24 1 30 1-15 1-14 1 17 1 11M106 13l1 4 1-15 1 13 1-12 1 19 1-18 1 21 1-15 1 0 1-4 1-9 1 5 1 27 1-21 1 10 1-6 1-6 1-7 1 21 1 4 1-16 1-8 1 45 1-30 1-4 1 6 1 8 1 8 1 13 1-17 1-13 1 14 1 12 1-19 1 16 1-23 1 21 1 0 1 12 1-21 1 9 1 17 1-6 1-16 1-2 1 5 1 1 1-3 1 18 1-9 1 20 1-27 1 19 1-3 1-3 1-4 1 17 1-32 1 3 1 19 1 33 1-22 1-25 1 34 1-12 1-18 1-8 1 19 1-5 1 15 1-23 1 20 1 7 1-19 1-6 1 28 1-23 1 18 1 15 1-22 1 8 1-3 1-5 1 11 1 11 1-17 1 6 1-14 1 5 1 5 1-4 1 1 1-13 1 17M106 5l1 1 1 11 1-4 1 1 1 0 1-10 1 9 1-6 1 12 1-10 1 17 1-18 1 19 1-10 1 4 1-10 1 5 1-17 1 25 1 6 1-10 1-16 1 13 1 22 1-5 1-11 1-12 1 30 1-5 1-20 1 17 1 4 1 5 1-11 1 2 1 19 1-7 1-26 1 15 1 10 1-11 1-4 1 5 1 1 1 3 1-4 1-14 1 39 1-15 1 2 1-6 1-18 1 22 1 2 1 6 1 11 1-16 1 23 1-28 1 15 1-32 1 47 1-18 1-10 1 7 1 3 1 29 1-26 1-6 1 20 1-18 1 1 1 14 1-14 1 4 1 8 1-17 1 18 1-3 1-9 1 2 1 3 1-13 1 6 1 12 1 4 1-18 1 16 1-8 1-7 1 14 1-14 1 36 1-29M106 0l1 6 1 14 1-19 1 17 1-28 1 13 1 8 1-4 1-1 1 9 1-26 1 11 1 31 1-4 1-9 1-23 1 25 1-23 1 24 1-6 1-10 1 28 1-13 1 2 1-4 1-11 1 2 1 13 1 5 1 7 1-3 1-11 1-15 1 21 1-7 1 0 1 12 1-1 1 10 1-12 1 8 1 13 1-2 1-23 1 4 1-11 1 12 1-19 1 2 1 24 1 7 1 4 1-15 1 4 1 10 1 13 1-35 1-2 1 12 1-19 1 23 1 5 1-6 1-2 1 1 1 7 1 5 1-10 1 4 1 4 1 10 1-15 1 3 1 30 1-36 1-2 1 14 1 15 1-23 1 16 1-11 1 6 1-29 1 32 1 14 1-13 1-14 1 20 1-21 1 2 1 10 1 2 1-8 1 20M106 20l1-9 1-13 1-8 1 20 1 5 1 7 1-6 1-17 1-1 1 16 1 8 1-13 1 7 1 15 1-27 1 7 1 26 1-19 1-1 1-5 1-8 1-4 1 6 1 15 1 6 1-16 1 11 1-1 1-10 1 6 1 15 1-10 1-7 1 16 1-10 1-1 1 5 1 5 1-14 1 28 1-16 1-6 1 12 1 21 1-29 1 13 1 0 1-14 1 5 1 4 1-4 1 0 1 14 1 6 1-29 1 15 1 26 1-27 1 6 1-3 1 17 1 1 1-6 1 6 1 3 1-8 1-6 1-10 1-1 1-3 1 21 1-9 1 9 1 0 1 25 1-30 1-6 1 13 1-8 1 6 1-10 1 26 1-12 1-2 1 0 1-8 1-8 1 3 1 6 1 18 1-1 1-29 1 32 1 10M106 12l1 1 1-13 1 5 1 6 1-7 1-1 1 10 1 8 1-36 1 20 1 5 1 6 1-9 1-7 1 20 1-4 1-1 1 2 1-4 1 19 1-12 1-17 1 23 1-20 1 12 1 1 1-15 1 5 1 22 1-11 1 18 1-35 1 29 1-11 1 11 1-7 1-10 1-1 1 25 1-30 1 3 1 29 1 3 1-16 1-14 1 34 1-32 1 24 1 8 1-31 1 3 1 6 1 3 1 24 1-22 1 12 1 17 1-40 1 2 1 8 1 2 1 13 1-16 1 16 1 3 1-12 1 5 1-1 1-13 1 27 1 6 1-5 1-17 1-2 1 9 1-12 1 9 1-5 1 8 1-14 1 23 1-11 1-9 1 25 1-15 1-3 1-3 1 15 1-20 1 24 1 4 1-4 1-11 1-11M106 -5l1 24 1-17 1 6 1 1 1 19 1-20 1-13 1 10 1 0 1-13 1 31 1 15 1-15 1-16 1 15 1-19 1 26 1-20 1 1 1 15 1-2 1 3 1 2 1 6 1-13 1-10 1-4 1 20 1 20 1-11 1-8 1 8 1 4 1-21 1 22 1-5 1-12 1 1 1 0 1 14 1 23 1-42 1 10 1-11 1 12 1-11 1 26 1-7 1-7 1 6 1 14 1-5 1-16 1 10 1-21 1 19 1-13 1 10 1 17 1-13 1-2 1 9 1-1 1 1 1-14 1 31 1-7 1-4 1-6 1-12 1 37 1-16 1-29 1 30 1-19 1 19 1-33 1 24 1-7 1 20 1 3 1-15 1 21 1-8 1 9 1-30 1 9 1-15 1 16 1 12 1-2 1 8 1 0 1-19M106 22l1-18 1-6 1 8 1-5 1 9 1 3 1 23 1-26 1 5 1-22 1 28 1-10 1-3 1-9 1 21 1-22 1 18 1 5 1-10 1 26 1-15 1-16 1 31 1 10 1-41 1 16 1 6 1-3 1 11 1-8 1 2 1 6 1-22 1 13 1-22 1 14 1 0 1 7 1 13 1-12 1 11 1-10 1-17 1 13 1 3 1 5 1 14 1-8 1 4 1-18 1 25 1 11 1-20 1 12 1-9 1-1 1 1 1 9 1-19 1 17 1-10 1 21 1-20 1 6 1-9 1 17 1 10 1-43 1 33 1-7 1 4 1-6 1-4 1 24 1-13 1-13 1 4 1-7 1 28 1-5 1-28 1 12 1 9 1 3 1-3 1-8 1 11 1-1 1-8 1 15 1-17 1-7 1 7 1 32M106 -6l1 13 1-15 1 0 1 5 1-10 1 5 1 25 1-6 1 1 1-9 1 8 1-17 1 17 1 0 1-12 1 5 1 0 1 22 1-23 1-2 1 25 1-5 1-17 1 19 1-2 1 5 1-17 1 12 1-8 1 24 1-34 1 5 1 10 1-5 1 4 1 15 1-10 1 4 1 17 1-32 1 37 1-36 1 7 1 13 1 7 1-12 1 23 1-55 1 40 1 5 1 12 1-9 1-3 1 7 1-23 1-1 1 10 1-2 1-19 1 22 1 7 1 6 1 0 1-13 1 1 1-8 1 11 1-27 1 37 1-15 1 8 1 2 1 5 1-5 1 20 1-35 1 1 1 8 1 2 1-2 1 4 1-12 1 44 1-21 1-20 1 7 1 3 1-12 1 19 1-27 1 32 1-13 1-3 1 19M106 5l1 11 1-6 1 2 1-1 1 10 1-21 1 7 1 12 1-4 1-4 1-6 1 3 1-12 1 17 1 9 1-10 1 6 1-3 1 4 1 4 1-21 1 5 1 16 1-19 1 22 1-19 1 17 1 2 1-14 1 6 1-19 1 32 1-17 1-7 1 29 1-20 1 15 1-11 1 3 1 1 1-25 1 23 1 12 1-28 1 21 1 0 1-16 1-3 1 25 1-6 1 15 1-16 1 3 1 5 1 7 1-3 1 14 1-11 1 6 1-9 1-9 1 5 1 12 1-36 1 43 1-30 1 13 1-23 1 28 1 4 1-9 1-8 1 8 1-5 1 3 1 10 1-4 1 14 1-15 1 0 1-10 1 7 1 7 1-24 1 33 1-17 1 17 1-7 1 8 1-25 1 21 1-9 1-25 1 8M106 4l1-18 1 31 1-6 1 5 1-14 1 5 1 2 1 8 1-4 1-12 1 41 1-20 1 9 1-16 1 2 1-13 1-2 1 12 1-10 1 27 1-6 1-6 1 12 1-13 1-17 1 30 1 5 1-15 1-4 1-5 1 31 1-30 1 26 1-29 1 6 1 7 1 12 1 5 1-5 1-18 1-3 1 23 1 6 1-15 1-6 1 14 1-21 1 5 1 5 1-8 1 8 1 17 1 5 1-5 1-9 1 10 1-12 1 11 1 7 1 8 1-11 1-11 1 18 1-6 1 9 1-14 1-9 1 9 1 6 1-1 1-20 1 37 1-20 1-1 1-6 1 3 1 20 1 18 1-34 1 22 1-24 1 16 1-9 1 24 1-35 1-9 1 27 1 8 1-12 1-10 1 10 1 8 1-20 1 18M106 14l1 11 1-23 1 13 1 8 1-6 1 12 1 6 1-27 1 19 1-19 1 9 1 8 1 3 1-5 1 1 1-15 1 5 1 15 1-5 1-2 1-14 1 24 1-22 1 33 1 4 1-30 1 8 1 6 1-19 1 27 1-31 1 23 1-5 1 14 1-18 1 7 1 29 1-25 1 8 1-18 1 8 1 0 1 2 1 11 1-4 1 1 1 12 1-5 1-3 1 1 1 12 1-19 1-3 1 18 1 4 1-3 1-2 1 2 1 11 1-28 1 4 1 10 1 6 1 8 1-13 1 1 1-2 1 11 1 1 1 0 1 4 1 4 1-18 1 15 1-36 1 18 1 10 1 12 1-13 1 4 1-10 1 21 1-24 1-4 1 3 1-6 1 28 1 7 1-8 1-12 1-10 1 16 1 2 1-31M106 1l1-5 1 24 1-1 1-13 1-1 1 23 1-31 1 12 1-12 1 25 1-26 1 22 1 7 1-31 1 24 1 3 1 3 1-6 1 7 1-15 1 29 1-16 1-4 1-1 1 9 1-3 1 15 1-20 1 3 1 15 1-4 1 5 1-3 1-12 1-8 1 25 1-3 1 7 1-16 1 16 1-3 1-8 1 9 1-21 1 42 1-35 1 2 1 29 1-14 1 10 1-16 1 0 1 21 1-14 1 7 1-3 1 29 1-20 1 16 1-11 1-22 1 18 1 1 1 15 1-7 1-6 1-15 1 10 1 11 1-16 1 0 1-6 1 1 1 10 1-3 1 4 1 4 1-10 1-9 1 13 1 9 1-14 1 14 1-25 1 23 1-16 1 11 1 0 1 19 1-25 1 18 1-7 1 7 1-11M106 10l1-1 1-2 1 11 1-16 1 17 1-8 1-11 1 13 1 8 1 5 1 0 1-9 1-10 1 6 1-15 1 33 1 1 1-6 1-11 1 12 1-22 1 28 1-11 1 4 1-17 1 21 1-23 1 4 1 24 1-4 1-21 1 17 1-10 1 9 1 8 1 13 1-21 1-2 1 16 1-6 1 9 1-20 1 13 1 16 1-21 1-8 1 28 1-17 1 18 1-21 1 4 1 19 1-14 1-14 1 0 1 16 1-6 1 5 1 12 1 6 1 1 1-20 1 7 1 0 1-1 1-12 1 16 1 23 1-32 1 3 1 12 1-1 1-17 1 31 1 1 1-13 1 14 1-25 1 20 1-33 1 20 1-2 1-4 1 17 1-4 1 20 1-13 1-31 1 21 1-7 1 8 1 16 1-8 1-2M106 10l1 1 1-9 1 1 1-3 1 10 1-2 1 8 1 1 1 12 1-16 1-5 1-21 1 37 1-18 1 15 1 6 1-18 1 17 1-30 1 31 1-8 1-10 1 20 1 1 1 8 1-24 1 23 1-32 1 22 1-1 1-6 1 15 1 3 1-24 1 18 1-9 1 16 1-12 1 20 1-27 1 29 1 1 1-14 1 2 1-18 1 23 1-7 1-4 1 12 1 6 1-12 1 10 1-7 1 16 1-27 1 15 1-23 1 30 1-1 1 13 1-26 1 4 1-4 1 25 1 11 1-32 1 7 1-1 1-4 1 17 1-5 1-3 1 10 1-1 1-25 1 31 1-32 1 29 1-17 1 15 1-19 1 19 1 4 1 3 1-22 1 8 1-6 1 9 1-2 1-17 1 28 1-3 1-16 1 5M106 7l1-4 1 0 1 11 1-8 1 8 1-11 1 16 1-30 1 11 1 14 1-4 1-5 1 0 1-2 1 14 1-8 1-9 1 16 1 4 1 0 1 3 1 0 1-9 1-2 1 16 1 7 1-20 1 13 1-3 1-25 1 7 1 5 1-1 1 30 1-24 1 11 1-2 1 12 1-26 1 27 1-23 1 2 1 11 1 12 1-18 1 17 1-9 1-9 1 1 1 4 1 20 1-40 1 30 1-12 1-1 1 7 1 9 1-28 1 31 1-2 1 12 1-37 1 35 1-22 1-7 1 23 1-4 1-24 1-6 1 10 1 14 1 18 1-6 1-11 1-3 1 10 1-12 1 5 1 14 1-17 1 22 1-16 1 20 1-9 1 0 1-11 1-7 1 1 1 17 1-5 1 8 1-5 1-2 1-12M106 1l1 10 1-5 1-4 1-12 1 8 1 30 1-16 1-4 1 3 1-7 1 7 1-15 1 17 1 10 1-8 1-18 1 23 1-4 1-2 1 2 1-14 1 25 1-22 1 15 1 0 1-16 1 14 1-17 1 0 1 12 1 23 1-11 1-18 1 16 1 16 1-31 1 14 1-4 1 6 1 1 1-5 1 2 1 6 1 5 1 2 1-6 1 3 1 11 1-8 1-13 1-4 1 8 1 14 1-4 1-6 1-1 1 1 1-7 1-4 1 7 1-15 1 16 1 2 1 6 1 0 1 6 1 3 1-19 1 2 1 9 1-7 1 15 1 4 1-26 1 24 1-26 1 12 1 10 1 8 1 2 1-30 1 8 1 18 1-6 1 4 1-13 1 22 1 1 1-17 1 15 1-14 1-11 1 11 1 1"/>
<path class="tn" stroke="#2f4ea2" d="M106 1l1-2 1 4 1 4 1-5 1 3 1-17 1 13 1-4 1 5 1 13 1-20 1 23 1-1 1-26 1 15 1 14 1-10 1-2 1-6 1 0 1 15 1-5 1 2 1-2 1-9 1 27 1-22 1 16 1-11 1 17 1-14 1-15 1 15 1-1 1 16 1-31 1 2 1 0 1 25 1-22 1 19 1-5 1-23 1 26 1 3 1-29 1 8 1 15 1-5 1-1 1 4 1 5 1-17 1 0 1 25 1-9 1-19 1 45 1-22 1-23 1 1 1 21 1 9 1-21 1 3 1 0 1-19 1 31 1 1 1 3 1-18 1-4 1 13 1 14 1-18 1 3 1-1 1-22 1 27 1 4 1-20 1-14 1 19 1 11 1-1 1 5 1-23 1 19 1-13 1-2 1-8 1 30 1-20 1 3M106 7l1-3 1 11 1-13 1 4 1-6 1 3 1 9 1-12 1 34 1-27 1-15 1 22 1-10 1 4 1 7 1-16 1 17 1-25 1 40 1-13 1-5 1-7 1-2 1 18 1-13 1-5 1-1 1 3 1 3 1 13 1-8 1-7 1 4 1-10 1 0 1-6 1 12 1 9 1 1 1 2 1 7 1-20 1 18 1 10 1-4 1-9 1 8 1 5 1-22 1 4 1-2 1-16 1 8 1 20 1-8 1-3 1-7 1-1 1 32 1-21 1-5 1 12 1 2 1-21 1-7 1 17 1 4 1 2 1-5 1-11 1 16 1-3 1 2 1-13 1 17 1-16 1 16 1-11 1 5 1-9 1 12 1 5 1-26 1 20 1-16 1 16 1-10 1-6 1 7 1 4 1 7 1-20 1 5 1 26M106 -8l1 34 1-28 1 4 1 16 1 5 1-16 1 13 1-15 1 11 1-1 1-8 1 3 1 5 1-12 1-1 1 24 1 2 1-10 1 1 1 0 1 4 1-18 1 5 1 15 1-7 1 7 1 11 1-38 1 16 1-11 1 18 1 12 1-15 1 3 1 7 1-19 1 22 1-18 1-8 1 21 1 17 1-30 1 15 1-15 1 26 1-21 1 15 1-7 1-2 1 8 1-9 1 4 1-14 1 5 1 0 1 13 1-33 1 25 1-18 1 31 1-16 1 4 1 4 1 9 1-18 1 1 1 2 1 1 1 6 1 1 1-4 1-10 1 11 1 5 1-16 1 9 1-5 1-4 1 7 1 15 1-12 1 11 1-29 1 22 1-7 1-14 1-2 1 17 1-8 1 2 1 19 1-14 1-16 1 34M106 2l1 6 1 1 1-13 1 33 1-10 1-2 1-8 1 0 1 26 1-14 1 5 1-22 1 14 1-12 1 12 1 10 1-21 1 11 1 16 1-8 1 2 1-15 1 6 1 14 1-30 1 25 1-10 1 3 1 29 1-17 1-9 1 14 1-18 1 12 1 6 1-20 1 19 1-20 1 5 1 23 1-30 1 23 1 5 1 9 1-14 1 9 1-25 1 19 1-13 1 11 1-8 1 4 1-3 1-13 1 2 1 4 1-15 1-1 1 47 1-44 1 17 1 5 1 7 1 4 1-11 1-10 1 14 1 14 1-19 1 9 1 5 1-23 1 8 1 6 1 11 1-19 1 2 1-12 1 6 1 13 1-2 1-18 1 22 1-6 1-1 1 0 1-4 1-1 1 14 1 0 1-6 1-2 1 3 1-17M106 4l1-17 1 15 1 4 1 26 1-38 1 0 1 18 1-10 1 18 1-28 1 20 1-8 1-7 1 20 1 1 1 3 1-2 1-16 1 8 1 1 1 8 1 4 1-4 1-2 1-25 1 19 1 10 1-5 1-3 1 17 1-9 1-8 1 23 1-33 1 16 1 2 1-30 1 25 1-5 1-1 1 16 1-15 1 6 1-3 1-16 1 38 1-18 1 9 1-1 1-4 1 20 1-24 1 0 1 2 1-15 1 10 1 6 1-17 1 22 1-10 1-10 1 0 1 19 1-10 1 19 1-31 1 8 1 8 1-7 1 9 1-2 1 23 1-9 1-13 1-4 1 4 1-8 1 9 1-7 1 11 1-12 1-6 1 18 1-13 1 11 1 3 1-7 1-3 1-6 1-1 1 13 1-29 1 21 1 16M106 27l1-12 1 0 1-9 1 18 1-18 1 11 1 9 1-4 1 8 1-14 1-21 1 19 1 7 1-2 1-6 1 4 1-2 1 16 1-21 1 4 1-6 1 10 1 1 1 23 1-20 1 13 1 5 1-33 1 8 1-3 1 19 1-1 1-20 1-3 1 26 1-9 1-5 1 5 1 5 1 6 1 23 1-39 1 11 1 21 1-10 1 0 1-17 1 11 1-15 1 19 1-11 1 6 1-3 1 3 1 13 1-9 1 4 1 18 1-24 1 2 1-8 1-2 1-21 1 33 1 1 1-6 1 0 1-1 1-13 1 36 1-29 1 1 1-4 1 3 1 19 1-5 1-22 1 15 1 0 1 35 1-54 1 13 1 7 1-13 1 7 1-2 1 14 1-9 1 10 1-9 1-1 1 15 1-24 1 15M106 6l1 4 1-6 1 13 1-27 1 19 1 1 1 8 1-18 1-2 1 10 1-14 1 16 1 11 1 1 1-9 1-13 1 2 1 22 1-4 1-9 1 0 1-9 1 6 1-5 1 36 1-28 1 7 1-24 1 34 1-15 1-8 1 6 1 12 1 2 1-15 1 1 1 6 1-3 1 5 1 2 1-2 1-30 1 30 1 5 1-19 1 11 1-13 1 12 1 0 1 26 1-6 1-17 1 0 1 1 1 1 1 25 1-3 1-44 1 22 1-19 1 34 1-24 1 11 1-11 1 11 1 1 1 1 1 1 1-10 1 1 1 17 1-14 1-14 1 20 1-15 1 5 1 27 1-4 1-17 1-8 1 28 1-48 1 14 1 9 1 11 1-30 1 19 1 0 1 22 1-30 1 51 1-19 1-21 1 6M106 -6l1 23 1-1 1-5 1 13 1-26 1 4 1 22 1-11 1-12 1 24 1-22 1 27 1-7 1-8 1 11 1-20 1 4 1 15 1-13 1 14 1-2 1-10 1-19 1 22 1 13 1-23 1 22 1-12 1-8 1 10 1-16 1 25 1 16 1-15 1-6 1-9 1 5 1 14 1-3 1-7 1 10 1 3 1-25 1 18 1-20 1 13 1 9 1 8 1-16 1-4 1 1 1 11 1-8 1-3 1 14 1-16 1 25 1-18 1-18 1 29 1-4 1-6 1 1 1 0 1-17 1-3 1 17 1 6 1-18 1 16 1-4 1-12 1 2 1 3 1-7 1 14 1-13 1 23 1-12 1 2 1 21 1-31 1 17 1-20 1 10 1-8 1 4 1 18 1-18 1-7 1 9 1 4 1 2 1 0M106 27l1-26 1-2 1 9 1-26 1 13 1 19 1-7 1-11 1 4 1-5 1 17 1 4 1-26 1 25 1-14 1 11 1 5 1-11 1 12 1-13 1 9 1-12 1 9 1 0 1-10 1-4 1 1 1 20 1-15 1 6 1 22 1-39 1 5 1 7 1 5 1-4 1 23 1-26 1-3 1 14 1-6 1 0 1 1 1-2 1 11 1-24 1 41 1-13 1-6 1 9 1-21 1 7 1 12 1-10 1-1 1 7 1-12 1-9 1-2 1 14 1 5 1-19 1 20 1 5 1 7 1-20 1-13 1 10 1-11 1 6 1-1 1 28 1-27 1 12 1 5 1-17 1 40 1-35 1-15 1 18 1-9 1 9 1-1 1 13 1-6 1 24 1-39 1 29 1 5 1-24 1 27 1-16 1-4 1 16M106 17l1-11 1 9 1 1 1-16 1 12 1 4 1-15 1-8 1 12 1 12 1 2 1-6 1 7 1 2 1-14 1 8 1-4 1 11 1 6 1-4 1-12 1 13 1 1 1-21 1 15 1-8 1 12 1 11 1-22 1-2 1-7 1 14 1 5 1 19 1-33 1 16 1 6 1 5 1-21 1 15 1-22 1 11 1 12 1-13 1 5 1 13 1-20 1-1 1 1 1 17 1-1 1-18 1 6 1 6 1 6 1 1 1-7 1-4 1-7 1 14 1 8 1-9 1-5 1 16 1-9 1-22 1-20 1 29 1 5 1 14 1-5 1-11 1-1 1 11 1-16 1 11 1 12 1-12 1-12 1 2 1 1 1 6 1-16 1 18 1-1 1 20 1-13 1-24 1 27 1-2 1-25 1 26 1-8 1 2M106 13l1-1 1-3 1-12 1 19 1-25 1 5 1 15 1-18 1 13 1-15 1-2 1 24 1-18 1 0 1 16 1-5 1 10 1-1 1-8 1-6 1 3 1 2 1 9 1-9 1 1 1 9 1-7 1-3 1-2 1 30 1-18 1-20 1 19 1-1 1 7 1-10 1-10 1-2 1 13 1-5 1 0 1 14 1-11 1 7 1 1 1 2 1 0 1 9 1-30 1 2 1 16 1 4 1 6 1-19 1-11 1 14 1-1 1-2 1 6 1-4 1 5 1-5 1 14 1 12 1-23 1-1 1 12 1-23 1-1 1 32 1-37 1 4 1 26 1 3 1-30 1 13 1 5 1-20 1 20 1-6 1 23 1-31 1 9 1 2 1-5 1 6 1 0 1-5 1 12 1-11 1-8 1 0 1 32 1-7M106 3l1 6 1 8 1-18 1 26 1-21 1 4 1-4 1 18 1-19 1 15 1 7 1-23 1 1 1 23 1-12 1-14 1 27 1 3 1-10 1 3 1 10 1-12 1-15 1 6 1 17 1-18 1-2 1 8 1 8 1-7 1 2 1 12 1-22 1 8 1-4 1-6 1 8 1 8 1 4 1-7 1 0 1-3 1 12 1-5 1 5 1-6 1 2 1 1 1-13 1 5 1 16 1-24 1-1 1-11 1 3 1 31 1-20 1-1 1-3 1 20 1 0 1-1 1-21 1 26 1-12 1-15 1 36 1-12 1-9 1-26 1 21 1-5 1 33 1-18 1 1 1 8 1-4 1-5 1 0 1 5 1-5 1 4 1-3 1-20 1 29 1-12 1-8 1 14 1-5 1 2 1-7 1 6 1-3 1 12M106 5l1 5 1-15 1 25 1-2 1-8 1-5 1-2 1 14 1 8 1-29 1 10 1 8 1 14 1-18 1-8 1 14 1 9 1-3 1-9 1-1 1 26 1-26 1 15 1 6 1-19 1 16 1 6 1-11 1-6 1 16 1-11 1-17 1 18 1-3 1 21 1 0 1-12 1 10 1-33 1 27 1-11 1 9 1 17 1-20 1 4 1-22 1 6 1 13 1-12 1 14 1-23 1 27 1-9 1 2 1 9 1 0 1-25 1 21 1-10 1 11 1-7 1 6 1-1 1 10 1-19 1-17 1 16 1-15 1 15 1-19 1 20 1 6 1 3 1-13 1-4 1 7 1-4 1-14 1 14 1 8 1 0 1 7 1-9 1 0 1 14 1-20 1 0 1 9 1-6 1 13 1-4 1-11 1-9 1-3M106 3l1-11 1 24 1-4 1-9 1 26 1-47 1 34 1-23 1 24 1 1 1-10 1-11 1 19 1-13 1 22 1-14 1 5 1-2 1 18 1-22 1-5 1 16 1-35 1 14 1 35 1-15 1-9 1 22 1-4 1-16 1 3 1 20 1-13 1-7 1-9 1 12 1-10 1 17 1-20 1 3 1-5 1 18 1-4 1 4 1 1 1-1 1-3 1-17 1 22 1-3 1 11 1-19 1 14 1-23 1 10 1 8 1 4 1 12 1-12 1-17 1 27 1-15 1 3 1-3 1 0 1-15 1 15 1 3 1-3 1-5 1 18 1-29 1 23 1 12 1-21 1 8 1-6 1 7 1-11 1-7 1-11 1 11 1 11 1-1 1-13 1 8 1 14 1 10 1-21 1-25 1 25 1 10 1-1 1-10M106 29l1-37 1 16 1-6 1-1 1 2 1-2 1-23 1 59 1-42 1 12 1-3 1-2 1 13 1-3 1 14 1-17 1 10 1-21 1 24 1 10 1-10 1 15 1-19 1 2 1-3 1 0 1 1 1 16 1 8 1-19 1-4 1 20 1-1 1-2 1-12 1-5 1 18 1 11 1-21 1 16 1 0 1 3 1-16 1 9 1 3 1-4 1 3 1-15 1-3 1-25 1 39 1-4 1 8 1-18 1 14 1-2 1-8 1-2 1-9 1 10 1-1 1-17 1 4 1 12 1 25 1-14 1-23 1 8 1 17 1 2 1-10 1 2 1-9 1 18 1 6 1-19 1 3 1 4 1 5 1 5 1-3 1-8 1-16 1 5 1 1 1 2 1 11 1-21 1 7 1 5 1 25 1-7 1-14 1 0M106 3l1 3 1 4 1-3 1 11 1-16 1 12 1-16 1 16 1-11 1 12 1-1 1 7 1 0 1-4 1 8 1-16 1 26 1-28 1 11 1 1 1-5 1 14 1-16 1 5 1 3 1-6 1 6 1 0 1 12 1-5 1-10 1 7 1 9 1-24 1 19 1 6 1-23 1-3 1 5 1 4 1-11 1 24 1-12 1-2 1 12 1 0 1-3 1 2 1 11 1 3 1-6 1 8 1-6 1-3 1-10 1 12 1-24 1 18 1-1 1-8 1 11 1-1 1-13 1 3 1-12 1 18 1 9 1-18 1 11 1-9 1-8 1 23 1-6 1-17 1 22 1-8 1-15 1 38 1-32 1 20 1-1 1 1 1-24 1 23 1 11 1-29 1 24 1-5 1-9 1-7 1 7 1 17 1-18 1 6M106 -18l1 40 1 0 1-8 1-9 1-4 1 21 1-13 1 9 1-2 1-29 1 6 1 25 1-6 1-16 1 24 1-3 1-9 1 12 1-7 1 5 1 4 1 8 1-15 1 7 1-5 1-8 1-9 1 9 1 8 1-1 1-12 1 13 1 5 1-7 1 18 1-20 1 28 1-27 1 32 1-18 1-1 1 0 1 4 1-16 1-1 1-2 1 12 1-1 1 10 1-32 1 20 1-9 1 31 1-18 1-24 1 10 1-16 1 42 1-17 1-9 1 15 1-6 1 0 1-11 1 8 1-14 1 24 1-4 1-10 1-10 1 19 1 7 1 1 1-18 1-6 1 6 1 0 1 14 1-5 1 8 1-7 1-3 1 6 1-1 1-9 1 7 1-21 1 16 1-16 1 24 1-21 1 19 1-7 1 2M106 8l1-13 1-1 1 0 1 4 1 15 1 5 1-17 1 0 1 5 1-1 1-11 1 7 1 6 1-6 1 10 1 4 1-19 1 2 1 8 1-13 1 29 1-13 1 3 1 5 1-30 1 24 1-14 1 13 1-2 1-6 1 8 1 12 1 1 1-9 1-17 1 19 1-12 1 2 1 11 1-3 1 2 1 2 1-7 1 11 1-12 1-15 1 25 1-20 1 9 1 10 1 10 1-22 1-4 1 4 1 22 1-17 1 0 1 2 1 2 1-19 1 15 1 8 1-12 1 5 1-1 1-2 1-9 1 7 1-2 1 14 1 10 1-36 1 15 1 1 1-7 1 30 1-23 1-15 1 9 1 24 1-26 1 6 1-6 1-4 1 19 1 6 1-25 1 37 1-21 1-17 1 21 1-5 1-3 1 6M106 12l1-15 1 29 1-14 1-11 1 1 1 14 1-5 1-4 1-4 1 8 1 2 1 3 1 11 1-19 1 7 1-5 1-16 1 14 1 3 1 18 1-6 1-25 1 46 1-12 1-24 1 7 1 14 1-7 1-1 1-2 1 11 1-8 1 16 1-20 1 3 1 15 1-17 1 0 1 5 1-8 1 5 1 3 1 3 1-19 1 5 1 15 1 7 1-9 1-1 1-3 1 0 1 11 1-7 1-3 1-9 1 13 1-10 1 21 1-19 1-15 1 28 1-7 1 4 1-3 1-1 1 10 1-15 1-4 1-4 1 18 1 19 1-28 1 10 1 23 1-34 1-8 1 10 1 1 1-1 1 3 1 5 1-6 1 15 1-5 1-12 1 8 1-26 1 28 1 1 1 7 1-29 1 15 1-4 1-11M106 22l1-13 1 8 1-6 1 3 1-13 1 2 1 10 1 4 1-13 1 4 1-2 1 0 1 6 1-7 1 4 1 19 1-4 1-34 1 36 1 14 1-18 1-5 1-1 1-13 1 20 1-10 1 1 1 16 1-12 1 16 1-1 1-26 1 26 1-5 1-13 1-2 1 19 1-8 1-9 1-1 1 3 1 25 1-10 1-13 1 14 1-3 1-1 1-3 1 2 1 4 1-27 1 13 1-1 1 14 1-3 1-5 1 13 1-14 1-1 1 3 1 3 1-25 1 46 1-21 1 0 1-6 1 13 1 2 1-11 1 2 1 12 1 0 1-5 1-19 1 9 1 2 1-25 1 1 1 2 1 36 1-8 1-10 1 2 1 9 1 9 1-14 1-15 1 17 1 3 1-3 1-20 1 18 1-9 1-6M106 8l1 0 1-1 1-7 1-10 1 26 1-1 1-18 1 21 1-9 1 2 1-23 1 15 1 4 1-3 1 8 1 10 1 7 1-3 1-33 1 29 1-19 1 0 1 20 1-14 1 5 1-14 1 8 1 5 1 8 1 2 1 1 1-33 1 20 1 0 1-4 1 10 1-4 1-7 1 0 1 10 1 34 1-19 1-30 1 15 1 1 1-2 1 16 1-21 1 4 1 11 1-5 1 2 1-14 1 4 1 14 1-6 1 17 1-39 1 9 1 20 1 4 1-6 1-2 1-11 1 2 1-8 1 8 1-11 1 15 1-7 1 4 1-5 1 15 1-4 1-12 1 16 1-8 1-7 1-8 1 28 1-19 1 17 1-2 1-13 1 8 1-11 1 9 1-7 1 0 1 20 1-8 1-9 1 2 1 11M106 4l1-10 1 20 1-13 1-15 1 24 1-6 1-16 1 16 1 17 1-9 1-12 1 16 1-5 1 3 1 1 1-13 1 3 1 25 1-7 1 1 1-15 1 2 1 7 1 6 1-16 1 24 1-33 1 18 1-6 1-19 1 26 1-4 1-10 1 9 1 9 1 6 1-17 1 11 1-18 1 18 1-10 1 10 1 13 1-5 1-26 1 16 1-11 1 7 1 14 1-24 1 26 1-5 1-17 1 16 1-10 1 1 1 0 1 22 1-14 1-2 1 6 1-14 1 16 1-8 1-11 1 7 1 5 1-2 1 14 1-4 1-6 1-8 1 9 1-4 1-1 1-11 1 0 1 4 1-10 1 7 1 3 1 14 1-11 1 22 1 2 1-20 1 4 1-6 1 1 1 4 1 2 1-10 1-5 1 19M106 29l1-22 1 3 1-5 1-9 1 10 1-11 1 21 1-10 1 12 1-11 1-2 1 14 1 3 1-18 1 14 1 14 1-32 1 18 1-8 1 7 1 6 1-9 1-11 1 20 1-7 1 17 1-10 1-6 1 6 1 4 1-22 1 6 1 13 1 0 1-11 1 8 1 5 1-5 1-11 1-17 1 21 1 4 1-5 1 11 1 0 1-18 1 17 1 4 1 2 1-7 1 0 1-8 1 23 1-10 1-2 1 1 1 5 1-15 1-13 1 7 1 27 1-22 1 10 1 0 1 9 1-14 1 11 1 2 1-18 1 3 1 3 1-6 1 6 1-2 1 16 1-10 1 5 1 5 1 4 1-24 1 20 1 2 1-23 1-10 1 20 1-30 1 27 1-4 1 8 1-14 1 7 1-1 1-8 1 16M106 0l1 10 1-24 1 18 1 5 1 11 1-4 1 19 1-25 1 0 1 7 1 14 1-20 1 8 1 3 1-4 1-11 1 12 1-5 1-6 1 16 1 0 1 7 1-17 1 0 1 18 1-6 1-9 1-1 1 14 1-21 1 23 1-12 1-2 1 32 1-5 1-37 1 5 1 16 1 8 1-10 1-7 1 7 1 2 1-14 1-1 1-4 1 31 1-6 1 0 1-8 1 14 1-13 1 11 1-20 1 16 1 1 1-1 1-8 1-6 1 12 1 1 1 1 1-7 1 1 1-12 1 7 1 26 1-20 1-1 1 6 1 3 1-18 1 14 1-4 1 1 1 2 1-24 1 13 1 9 1 2 1 16 1-12 1 15 1-35 1 22 1 13 1-11 1-4 1-4 1 9 1-14 1-13 1 2 1-16M106 -17l1 36 1-12 1-10 1 1 1 4 1 16 1-2 1-6 1 3 1-7 1 0 1 11 1-3 1 2 1-4 1 13 1-5 1-7 1 16 1-26 1-7 1-3 1 28 1-1 1-2 1 20 1-20 1-11 1 25 1-26 1 3 1 38 1-22 1-6 1 7 1-15 1 24 1-24 1 13 1-22 1 23 1 4 1 12 1-7 1-14 1 2 1 3 1-6 1-4 1 7 1 14 1-28 1 16 1 13 1-24 1-12 1 24 1-22 1 25 1-9 1 7 1-17 1-3 1 35 1-2 1-9 1-9 1-2 1-10 1 12 1 17 1-19 1 9 1 2 1-10 1-6 1-2 1 19 1-33 1 33 1-13 1-4 1 17 1-20 1 12 1 15 1-22 1-9 1 10 1 11 1-14 1 17 1-29 1 27M106 7l1-14 1-5 1 30 1-21 1-5 1 18 1-1 1-4 1 10 1 4 1-10 1-2 1 11 1-7 1-24 1 23 1 3 1 20 1-33 1 27 1-24 1 27 1-19 1 20 1 13 1-33 1 2 1-2 1 15 1 7 1-9 1-9 1-1 1 2 1 3 1-15 1 31 1-22 1 12 1 23 1-20 1-16 1 24 1-10 1-12 1 22 1-5 1 6 1 4 1-32 1 24 1-15 1 22 1-34 1 25 1 4 1 9 1-12 1 15 1-21 1-6 1 3 1-1 1 7 1-15 1 12 1 6 1 21 1-39 1 17 1 6 1-14 1 16 1-15 1 0 1 15 1-6 1-33 1 19 1 10 1-24 1 33 1 9 1-4 1-22 1-5 1 2 1-2 1 2 1 11 1-16 1 14 1-3 1 2M106 -5l1 6 1 1 1 8 1-2 1 5 1-15 1 8 1 6 1-6 1 4 1 13 1-2 1-16 1 10 1-12 1 8 1-16 1 21 1-7 1 8 1 10 1-13 1 6 1-10 1 16 1-10 1 25 1-6 1-24 1 19 1-19 1 15 1 11 1-18 1-18 1 16 1-7 1 4 1 15 1 9 1-4 1-17 1 14 1-30 1 42 1-16 1-4 1-1 1 26 1-20 1-12 1 5 1-11 1 21 1 2 1-20 1 15 1-5 1 10 1 0 1 5 1-13 1-18 1 9 1 3 1-5 1 14 1-10 1 10 1-11 1 7 1 9 1 10 1-11 1-6 1-9 1-1 1 18 1-7 1 6 1-11 1 0 1-11 1 6 1 11 1 17 1-4 1-21 1 6 1-14 1-1 1-10 1 29 1-8M106 19l1-14 1-17 1 19 1 1 1-14 1-3 1 9 1 1 1 9 1-16 1 6 1 8 1 8 1-13 1 5 1 13 1-9 1 1 1-19 1 15 1-13 1 0 1 20 1-18 1 10 1-1 1-10 1-7 1-9 1 19 1 8 1-10 1 16 1-18 1 36 1-35 1 16 1-5 1-3 1-5 1-15 1 7 1 6 1-13 1 29 1-22 1 17 1-7 1-7 1 22 1 6 1-25 1 14 1-7 1 2 1 4 1-27 1 13 1 0 1 7 1 9 1-24 1 27 1-6 1-1 1-11 1 13 1 2 1-3 1 10 1-2 1-18 1 8 1 2 1 0 1-18 1 1 1 21 1 1 1-9 1-19 1 18 1-11 1 30 1-15 1-5 1 31 1-36 1 11 1 9 1-1 1-17 1 0 1 14M106 12l1 0 1-5 1 0 1 7 1 7 1-4 1-13 1 7 1-10 1 2 1-2 1 20 1 12 1-7 1-8 1-15 1 3 1 22 1 15 1-17 1-18 1 14 1 24 1-24 1-8 1 5 1 11 1-12 1-13 1 11 1 9 1-9 1-16 1 26 1-1 1-21 1-2 1 34 1-4 1-3 1 13 1-14 1-24 1 28 1-14 1 16 1 7 1-19 1 8 1 9 1-16 1-8 1 6 1-5 1 28 1-10 1-13 1 12 1 16 1-22 1 16 1-36 1 8 1 6 1 12 1-10 1-16 1 15 1 11 1 0 1-19 1 5 1 5 1 2 1 4 1 2 1-29 1 28 1-12 1 10 1-10 1 24 1-27 1 1 1-7 1 4 1 11 1 15 1-25 1 15 1-2 1 22 1-44 1 31M106 1l1 28 1-20 1-6 1 26 1-20 1 17 1-5 1-2 1 1 1 6 1-26 1 4 1 14 1 19 1-11 1-3 1 3 1-9 1 10 1 6 1 1 1 7 1-21 1 3 1 12 1 12 1-23 1 25 1-23 1 3 1 16 1-11 1 1 1-13 1 11 1 22 1-22 1 5 1-18 1 16 1-1 1-4 1 5 1 0 1 3 1-6 1 0 1 3 1-8 1 2 1 9 1-6 1 10 1-11 1 19 1-7 1 13 1-35 1-5 1 42 1-28 1-6 1 24 1 8 1 10 1-10 1-27 1 1 1 11 1-14 1 16 1-10 1 12 1-14 1-17 1 17 1-4 1 8 1 4 1-7 1 7 1-6 1 12 1-24 1 23 1-4 1-14 1 25 1-3 1-4 1-8 1 2 1-8 1 6M106 -7l1 17 1 4 1-9 1 20 1 4 1-39 1 12 1-9 1 31 1-33 1 22 1-12 1-5 1 30 1-11 1-5 1 1 1 9 1 12 1-13 1 6 1-15 1 8 1 1 1-16 1 32 1-20 1 10 1-3 1 15 1-26 1 13 1 2 1-6 1 15 1-24 1 20 1-10 1 7 1-13 1 19 1 12 1-21 1-4 1-7 1 9 1 10 1-21 1 7 1 15 1 9 1 18 1-27 1 0 1 8 1-32 1 26 1-11 1-3 1 4 1-3 1-26 1 26 1 16 1-17 1 15 1-9 1 1 1-1 1 0 1-8 1 5 1 21 1-42 1 27 1 10 1-29 1 30 1-19 1 4 1-13 1 32 1-12 1 7 1-6 1-4 1 8 1-20 1 6 1 9 1 3 1-10 1 2 1-12M106 9l1 13 1-15 1 12 1-28 1 26 1-2 1 2 1 13 1-3 1-8 1 1 1-3 1 0 1 1 1 3 1-11 1 17 1-20 1 22 1-11 1-5 1 19 1 0 1-10 1 9 1-9 1 19 1-2 1-10 1 8 1-1 1-9 1 2 1 6 1 11 1-46 1 24 1 17 1-6 1 3 1-9 1 0 1 12 1-19 1 13 1 16 1-34 1 23 1-16 1 12 1-10 1 17 1-6 1 7 1-3 1 2 1-5 1-21 1 9 1-2 1 18 1 15 1-41 1 29 1-13 1-1 1 0 1 1 1 15 1-7 1-4 1-3 1-13 1 10 1-4 1-3 1 14 1-5 1 9 1-4 1 5 1-8 1 7 1-8 1-16 1 13 1 12 1-16 1 26 1 11 1-33 1 24 1-29 1 30M106 29l1-14 1 9 1-23 1 8 1-1 1 2 1 5 1 1 1-3 1 10 1 1 1-4 1 2 1 2 1-25 1 12 1 34 1-43 1 21 1-16 1-6 1 26 1-7 1-6 1 0 1 5 1 12 1 0 1-5 1 29 1-24 1 0 1 5 1-31 1 19 1-3 1 4 1-7 1 13 1-1 1 11 1-23 1 18 1-20 1 22 1-4 1 9 1-3 1 5 1 1 1-19 1-5 1 17 1-8 1 9 1-4 1-8 1 2 1-8 1 10 1-7 1 8 1-5 1 20 1-25 1-12 1 26 1-14 1 13 1 9 1-11 1-13 1 22 1-11 1-5 1 11 1-3 1 7 1-6 1 5 1 9 1-33 1-2 1 23 1 2 1-9 1 3 1 5 1 4 1-22 1 12 1-3 1-6 1-4M106 -6l1 10 1-9 1 10 1-1 1 7 1-2 1 2 1 2 1 12 1-17 1-22 1 25 1-7 1 26 1-11 1 5 1-11 1-4 1 3 1 1 1-17 1 32 1-23 1 13 1-18 1 22 1-3 1-8 1 5 1-17 1 19 1-5 1 38 1-55 1 25 1-4 1 8 1 3 1 11 1-27 1 22 1-4 1-2 1 25 1-25 1-1 1-7 1-3 1-6 1 16 1-3 1-8 1 2 1 1 1 7 1 1 1-8 1-6 1 10 1 22 1-27 1 12 1-3 1-15 1 9 1 3 1 17 1-15 1 0 1 0 1 3 1 0 1-13 1-5 1 13 1 6 1-10 1 2 1 1 1 1 1 18 1-18 1 24 1-11 1-28 1 7 1 2 1 5 1-9 1 10 1 1 1-17 1 20 1-8M106 -5l1 30 1-21 1 11 1 10 1-28 1 9 1 7 1-2 1 18 1-18 1 3 1-7 1 12 1-19 1 21 1-6 1-15 1 10 1 6 1 1 1-15 1-11 1 9 1 30 1-20 1-15 1 28 1-8 1 13 1-12 1-4 1 12 1-6 1-21 1 39 1-18 1 19 1-27 1 20 1-1 1-25 1 25 1-6 1-25 1 26 1 9 1-13 1-6 1 20 1-7 1 9 1-8 1-4 1-7 1-1 1 6 1 25 1-26 1 8 1-17 1 8 1 5 1-18 1 9 1 15 1 15 1-17 1-10 1 7 1-21 1 9 1-4 1 11 1 3 1-7 1-3 1 27 1-1 1-16 1-8 1 22 1 0 1-22 1 4 1-12 1-8 1 14 1 17 1-27 1 21 1-2 1-18 1 15 1 1M106 4l1-5 1 2 1 2 1 0 1 3 1 3 1 10 1-18 1 9 1 15 1 3 1-15 1 2 1 14 1-26 1 12 1 0 1-3 1 26 1-15 1-13 1 1 1 27 1-14 1-8 1 5 1-1 1-3 1 1 1 7 1-1 1-7 1 10 1 5 1-4 1 20 1-21 1 9 1-19 1-3 1 19 1-13 1 2 1 2 1-11 1 14 1 2 1-11 1 2 1-23 1 33 1 3 1-13 1-5 1 12 1 19 1-9 1-7 1-9 1 6 1 8 1 15 1-24 1 16 1-12 1 3 1-17 1-5 1 19 1-13 1 6 1-6 1 24 1-16 1-15 1 7 1 23 1-18 1 7 1-17 1 15 1-8 1 8 1-14 1 13 1 4 1-18 1 22 1-14 1 7 1-17 1-1 1 12 1 13M106 -7l1-7 1 27 1 0 1-3 1-3 1 9 1-8 1-4 1-2 1-17 1 23 1 7 1-18 1 18 1 9 1-15 1 2 1 13 1 5 1-16 1-10 1 8 1 5 1 7 1 7 1-19 1 6 1 2 1 8 1-34 1 23 1-3 1 14 1-17 1 12 1 10 1-23 1-4 1 1 1 11 1-12 1 21 1-10 1 6 1-4 1 17 1-5 1-32 1 33 1-10 1-8 1 15 1-2 1-2 1-6 1 0 1-2 1 14 1-24 1 33 1-3 1-19 1 2 1 4 1 4 1-5 1-8 1-6 1 7 1-8 1 15 1 4 1 16 1-30 1-1 1 7 1-2 1-4 1 15 1-5 1-4 1-11 1 0 1 12 1-2 1-11 1 23 1-13 1 2 1 2 1-15 1 8 1-18 1 31M106 -4l1 18 1-7 1 11 1 0 1-11 1 7 1-9 1-22 1 29 1-3 1-5 1-8 1 14 1-12 1 18 1 0 1-8 1-13 1 16 1-2 1-2 1 13 1-3 1-30 1 33 1 3 1-18 1 7 1-8 1 22 1-20 1 2 1-2 1 4 1 11 1-22 1 20 1-5 1 2 1 11 1-18 1-2 1 10 1-10 1 13 1-5 1-9 1 10 1 4 1-20 1 28 1-21 1 20 1-20 1 10 1 1 1 17 1-9 1-14 1 10 1-5 1 0 1-7 1 7 1 0 1-11 1 13 1-7 1 18 1-33 1 27 1-21 1 17 1-3 1-10 1 2 1 17 1-5 1-3 1 8 1-2 1-5 1 2 1-9 1 9 1-12 1 8 1-1 1 1 1 0 1 6 1-6 1-14 1 3M106 2l1 11 1-7 1-1 1 4 1 11 1-2 1 4 1-18 1 4 1 12 1-31 1 36 1-28 1 3 1 2 1 5 1 5 1 24 1-22 1 3 1-3 1-20 1 13 1 39 1-23 1 7 1-35 1 23 1 1 1 4 1 3 1-2 1 0 1-2 1-15 1 22 1-5 1 9 1-5 1-15 1 25 1-34 1 11 1 13 1-4 1-4 1-5 1 18 1-15 1 9 1 10 1 0 1 5 1-23 1 6 1 20 1-11 1-7 1-15 1 13 1-8 1 20 1-7 1-26 1 10 1 7 1 13 1-4 1-4 1-14 1 16 1 13 1-9 1 0 1-9 1 1 1 6 1 21 1-23 1 2 1-13 1 4 1-17 1 30 1 23 1-36 1 1 1-14 1 20 1 12 1-18 1 2 1 21 1-28M106 -8l1 7 1 14 1 0 1 3 1 3 1-5 1 3 1-5 1 20 1-31 1 5 1 30 1-12 1 8 1-9 1 25 1-37 1-5 1 7 1-4 1 22 1-21 1 3 1-1 1 30 1-15 1 26 1-26 1-10 1-1 1-17 1 50 1-24 1 9 1-12 1 14 1 7 1-21 1-12 1 25 1-10 1 23 1-7 1-11 1-3 1 22 1-18 1-5 1 18 1-5 1-10 1 27 1-4 1-19 1 12 1-24 1 5 1 2 1 4 1-7 1-14 1 37 1-28 1 7 1 11 1-15 1 17 1-9 1 0 1-5 1 15 1-3 1-8 1 3 1 2 1-8 1 2 1-15 1 15 1 0 1 1 1 15 1-11 1-5 1 11 1-3 1 3 1 7 1-34 1 3 1 21 1-17 1 6 1-19"/>
</g>
<g transform="translate(45.5,194.9) scale(1.4420,-0.17680)" fill="none" stroke-linejoin="round">
<path class="mg" d="M106 31l1 16 1 2 1-16 1-14 1 22 1 24 1-15 1-1 1-32 1 49 1-5 1-16 1 16 1 2 1 17 1 25 1-24 1 7 1-2 1-1 1 16 1 19 1-3 1-9 1 12 1 3 1 11 1-9 1 8 1 24 1-8 1 12 1-4 1 4 1-5 1 44 1-2 1 3 1 5 1-20 1 1 1 11 1-9 1 9 1 27 1-22 1 12 1 17 1 9 1 8 1-2 1 23 1-27 1 28 1-9 1 11 1 15 1 28 1-16 1-7 1 31 1 1 1 6 1 13 1 13 1-1 1-22 1 20 1 13 1-4 1 4 1 25 1 8 1-6 1 20 1 6 1-10 1 13 1-3 1 9 1 21 1-6 1 3 1 24 1-3 1 12 1 9 1 9 1 14 1 0 1 1 1 9 1 26 1 11"/><path class="mc" stroke="#e9212a" d="M106 31l1 16 1 2 1-16 1-14 1 22 1 24 1-15 1-1 1-32 1 49 1-5 1-16 1 16 1 2 1 17 1 25 1-24 1 7 1-2 1-1 1 16 1 19 1-3 1-9 1 12 1 3 1 11 1-9 1 8 1 24 1-8 1 12 1-4 1 4 1-5 1 44 1-2 1 3 1 5 1-20 1 1 1 11 1-9 1 9 1 27 1-22 1 12 1 17 1 9 1 8 1-2 1 23 1-27 1 28 1-9 1 11 1 15 1 28 1-16 1-7 1 31 1 1 1 6 1 13 1 13 1-1 1-22 1 20 1 13 1-4 1 4 1 25 1 8 1-6 1 20 1 6 1-10 1 13 1-3 1 9 1 21 1-6 1 3 1 24 1-3 1 12 1 9 1 9 1 14 1 0 1 1 1 9 1 26 1 11"/>
<path class="mg" d="M106 31l1 6 1 8 1 5 1 8 1-16 1-6 1 13 1 9 1-1 1 0 1 20 1-8 1-18 1 2 1 27 1 1 1-24 1 0 1 16 1-1 1 11 1-13 1 10 1 8 1 8 1-1 1-1 1 2 1 10 1 6 1-12 1-2 1 12 1-9 1 10 1 35 1-9 1-12 1-2 1 0 1-2 1 10 1 17 1 10 1 4 1-29 1 19 1-3 1 11 1 3 1 1 1-8 1 13 1 7 1 10 1 1 1-9 1 28 1 12 1-16 1-14 1 40 1 6 1-5 1-26 1 32 1 5 1-15 1-23 1 40 1-9 1 8 1 11 1 11 1-9 1 9 1 2 1-3 1 10 1-3 1 2 1 3 1-12 1 9 1 0 1 23 1-16 1 37 1-6 1-2 1-12 1 8 1 29 1-7"/><path class="mc" stroke="#f58322" d="M106 31l1 6 1 8 1 5 1 8 1-16 1-6 1 13 1 9 1-1 1 0 1 20 1-8 1-18 1 2 1 27 1 1 1-24 1 0 1 16 1-1 1 11 1-13 1 10 1 8 1 8 1-1 1-1 1 2 1 10 1 6 1-12 1-2 1 12 1-9 1 10 1 35 1-9 1-12 1-2 1 0 1-2 1 10 1 17 1 10 1 4 1-29 1 19 1-3 1 11 1 3 1 1 1-8 1 13 1 7 1 10 1 1 1-9 1 28 1 12 1-16 1-14 1 40 1 6 1-5 1-26 1 32 1 5 1-15 1-23 1 40 1-9 1 8 1 11 1 11 1-9 1 9 1 2 1-3 1 10 1-3 1 2 1 3 1-12 1 9 1 0 1 23 1-16 1 37 1-6 1-2 1-12 1 8 1 29 1-7"/>
<path class="mg" d="M106 31l1 14 1-14 1 12 1 11 1-12 1 13 1-19 1 22 1 2 1-14 1-9 1 33 1-11 1 23 1 0 1-2 1 1 1 5 1-3 1-12 1 14 1 7 1-1 1-8 1 0 1 8 1 9 1-3 1 25 1-9 1 8 1-10 1 14 1 6 1 3 1-11 1 19 1-6 1 15 1-6 1 2 1 16 1-3 1 2 1-10 1 17 1 6 1 9 1 3 1 2 1 5 1-4 1-8 1 2 1 5 1 2 1-2 1 18 1-22 1 28 1-4 1 11 1-4 1 0 1-19 1 7 1 14 1 5 1 9 1-3 1 14 1 11 1-20 1-15 1 7 1 17 1 12 1-11 1 6 1-6 1-26 1 7 1 12 1 26 1-21 1 2 1 4 1-1 1 4 1 22 1-29 1 16 1 0 1-5"/><path class="mc" stroke="#74b3e6" d="M106 31l1 14 1-14 1 12 1 11 1-12 1 13 1-19 1 22 1 2 1-14 1-9 1 33 1-11 1 23 1 0 1-2 1 1 1 5 1-3 1-12 1 14 1 7 1-1 1-8 1 0 1 8 1 9 1-3 1 25 1-9 1 8 1-10 1 14 1 6 1 3 1-11 1 19 1-6 1 15 1-6 1 2 1 16 1-3 1 2 1-10 1 17 1 6 1 9 1 3 1 2 1 5 1-4 1-8 1 2 1 5 1 2 1-2 1 18 1-22 1 28 1-4 1 11 1-4 1 0 1-19 1 7 1 14 1 5 1 9 1-3 1 14 1 11 1-20 1-15 1 7 1 17 1 12 1-11 1 6 1-6 1-26 1 7 1 12 1 26 1-21 1 2 1 4 1-1 1 4 1 22 1-29 1 16 1 0 1-5"/>
<path class="mg" d="M106 31l1 4 1-2 1 12 1-6 1 3 1 0 1-1 1 9 1-11 1 10 1 23 1-10 1 8 1-14 1 16 1 12 1 2 1-23 1 1 1 19 1-1 1 11 1-12 1 19 1-8 1-15 1 22 1-18 1 14 1-11 1 16 1-1 1 6 1 30 1-14 1-13 1 5 1-13 1 4 1 14 1 10 1-14 1 29 1-22 1 7 1-7 1 6 1-5 1 3 1 3 1-3 1 2 1-4 1-2 1 1 1 4 1 1 1 5 1-8 1 24 1-16 1-7 1-11 1-2 1 6 1 25 1-16 1-4 1 14 1-7 1 14 1-29 1 15 1 5 1-18 1 9 1-10 1 11 1 9 1-13 1-16 1-17 1 7 1 15 1 9 1-18 1 18 1 31 1-4 1 8 1-11 1 5 1-23 1 9"/><path class="mc" stroke="#2f4ea2" d="M106 31l1 4 1-2 1 12 1-6 1 3 1 0 1-1 1 9 1-11 1 10 1 23 1-10 1 8 1-14 1 16 1 12 1 2 1-23 1 1 1 19 1-1 1 11 1-12 1 19 1-8 1-15 1 22 1-18 1 14 1-11 1 16 1-1 1 6 1 30 1-14 1-13 1 5 1-13 1 4 1 14 1 10 1-14 1 29 1-22 1 7 1-7 1 6 1-5 1 3 1 3 1-3 1 2 1-4 1-2 1 1 1 4 1 1 1 5 1-8 1 24 1-16 1-7 1-11 1-2 1 6 1 25 1-16 1-4 1 14 1-7 1 14 1-29 1 15 1 5 1-18 1 9 1-10 1 11 1 9 1-13 1-16 1-17 1 7 1 15 1 9 1-18 1 18 1 31 1-4 1 8 1-11 1 5 1-23 1 9"/>
<path class="mh" d="M0 -55l1-15 1-20 1-27 1 35 1 11 1-5 1 12 1-3 1-4 1-6 1 5 1-17 1 9 1 3 1 22 1 1 1 1 1 0 1 13 1 9 1 1 1 22 1-6 1-58 1-2 1 19 1-1 1 8 1 1 1 25 1-40 1 6 1 32 1-15 1-1 1-15 1-15 1 24 1 4 1-14 1 8 1 12 1-9 1 12 1 4 1-1 1-7 1 13 1 5 1-8 1-16 1 18 1-15 1 16 1-24 1 26 1-6 1-11 1 17 1 10 1 6 1-30 1-27 1 4 1-6 1 12 1 11 1-26 1 26 1 18 1-16 1-6 1 23 1-2 1 10 1-13 1-15 1 18 1-2 1 17 1-24 1-42 1 7 1 36 1 13 1-5 1 19 1 21 1 15 1 12 1-52 1-51 1 6 1 37 1-18 1 41 1 18 1-12 1 21 1-12 1 17 1-13 1 9 1 7 1-11"/>
</g></g>
<rect x="45.5" y="36" width="288.4" height="211.7" fill="none" stroke="#222" stroke-width="1.35"/>
<text x="38.3" y="57.3" text-anchor="end" class="t">8</text>
<text x="349.7" y="57.3" class="t">8</text>
<text x="38.3" y="92.6" text-anchor="end" class="t">6</text>
<text x="349.7" y="92.6" class="t">6</text>
<text x="38.3" y="128" text-anchor="end" class="t">4</text>
<text x="349.7" y="128" class="t">4</text>
<text x="38.3" y="163.3" text-anchor="end" class="t">2</text>
<text x="349.7" y="163.3" class="t">2</text>
<text x="38.3" y="198.7" text-anchor="end" class="t">0</text>
<text x="349.7" y="198.7" class="t">0</text>
<text x="38.3" y="234.1" text-anchor="end" class="t">-2</text>
<text x="346.3" y="234.1" class="t">-2</text>
<path d="M45.5 53.5h5.5M333.9 53.5h5.4M45.5 88.8h5.5M333.9 88.8h5.4M45.5 124.2h5.5M333.9 124.2h5.4M45.5 159.5h5.5M333.9 159.5h5.4M45.5 194.9h5.5M333.9 194.9h5.4M45.5 230.3h5.5M333.9 230.3h5.4M117.6 36v5.2M117.6 247.7v-5.2M189.7 36v5.2M189.7 247.7v-5.2M261.8 36v5.2M261.8 247.7v-5.2" stroke="#222" stroke-width="1.2" fill="none"/>
<text x="46.9" y="263.6" text-anchor="middle" class="t">1900</text>
<text x="119" y="263.6" text-anchor="middle" class="t">1950</text>
<text x="191.1" y="263.6" text-anchor="middle" class="t">2000</text>
<text x="263.2" y="263.6" text-anchor="middle" class="t">2050</text>
<text x="335.3" y="263.6" text-anchor="middle" class="t">2100</text>
<text transform="translate(16.3,141.9) rotate(-90)" text-anchor="middle" class="t">(°C)</text>
<path d="M59.1 47.2h34" stroke="#e9212a" stroke-width="2.8"/>
<text x="99.8" y="51.2" class="t">RCP8.5</text>
<path d="M59.1 58.9h34" stroke="#f58322" stroke-width="2.8"/>
<text x="99.8" y="62.9" class="t">RCP6.0</text>
<path d="M59.1 70.6h34" stroke="#74b3e6" stroke-width="2.8"/>
<text x="99.8" y="74.6" class="t">RCP4.5</text>
<path d="M59.1 82.4h34" stroke="#2f4ea2" stroke-width="2.8"/>
<text x="99.8" y="86.4" class="t">RCP2.6</text>
<path d="M59.1 94.1h34" stroke="#000" stroke-width="2.8"/>
<text x="99.8" y="98.1" class="t">historical</text>
<path d="M378.6 154.4V168.1M378.6 181.1V189.7M376.4 154.4h4.4M376.4 189.7h4.4" stroke="#2f4ea2" stroke-width="2" fill="none"/>
<rect x="376.9" y="168.1" width="3.4" height="13" stroke="#2f4ea2" stroke-width="2" fill="#fff"/>
<path d="M374.9 174.9h7.4" stroke="#2f4ea2" stroke-width="2"/>
<path d="M394.2 130.8V141.7M394.2 160.1V170.2M392 130.8h4.4M392 170.2h4.4" stroke="#74b3e6" stroke-width="2" fill="none"/>
<rect x="392.5" y="141.7" width="3.4" height="18.4" stroke="#74b3e6" stroke-width="2" fill="#fff"/>
<path d="M390.5 153.4h7.4" stroke="#74b3e6" stroke-width="2"/>
<path d="M407 126.1V137M407 154V161.2M404.8 126.1h4.4M404.8 161.2h4.4" stroke="#f58322" stroke-width="2" fill="none"/>
<rect x="405.3" y="137" width="3.4" height="17" stroke="#f58322" stroke-width="2" fill="#fff"/>
<path d="M403.3 147.2h7.4" stroke="#f58322" stroke-width="2"/>
<path d="M427.5 82.2V93.4M427.5 122.6V132.9M425.3 82.2h4.4M425.3 132.9h4.4" stroke="#e9212a" stroke-width="2" fill="none"/>
<rect x="425.8" y="93.4" width="3.4" height="29.2" stroke="#e9212a" stroke-width="2" fill="#fff"/>
<path d="M423.8 113.4h7.4" stroke="#e9212a" stroke-width="2"/>
<path d="M373.1 194.9h59" stroke="#333" stroke-width="1" stroke-dasharray="3.7 7.2" fill="none"/>
<text x="404.1" y="263.2" text-anchor="middle" class="t">2081-2100 mean</text>
<text x="713.8" y="22.1" text-anchor="middle" class="t">Temperature change North Indian Ocean December-February</text>
<path d="M575.4 194.9H860.8" stroke="#333" stroke-width="1" stroke-dasharray="3.7 7.2" fill="none"/>
<g clip-path="url(#cc2)">
<g transform="translate(572.4,194.9) scale(1.4420,-0.35360)" fill="none" stroke-linejoin="round">
<path class="th so" d="M0 -34l1 25 1-36 1 19 1-12 1 16 1-31 1 38 1-12 1-11 1 37 1-13 1-9 1-10 1 12 1-2 1 13 1-2 1-15 1-1 1 5 1-11 1 10 1 6 1 6 1 12 1-21 1 7 1-13 1 31 1-19 1 6 1-15 1 1 1 11 1-6 1 7 1-20 1 22 1-17 1 33 1-19 1 10 1-32 1 23 1-11 1 1 1 10 1-12 1 14 1 6 1-7 1-6 1-11 1 4 1 10 1-19 1 29 1-13 1-2 1 18 1-7 1-9 1-18 1 16 1-3 1-14 1 23 1 4 1-31 1 29 1-20 1 27 1-1 1-24 1 0 1 14 1 4 1 20 1-8 1-13 1 10 1-32 1 20 1 7 1-8 1-4 1 21 1 22 1-25 1-9 1 26 1-55 1 28 1-5 1 25 1-18 1 28 1-10 1-23 1-4 1 23 1 22 1-13 1-1 1 1M0 -22l1-4 1-16 1 20 1 13 1-31 1 40 1-15 1-14 1-18 1 35 1-3 1-14 1-15 1 39 1-21 1 3 1 37 1-6 1-16 1-12 1 12 1-35 1 29 1-14 1-1 1 0 1 16 1-6 1 1 1 15 1-21 1-2 1-7 1 16 1 14 1-12 1 13 1-27 1 10 1-2 1-1 1 31 1-14 1-18 1 4 1 5 1-13 1 15 1-14 1 12 1-15 1 10 1-6 1-6 1 10 1 8 1-1 1 3 1 16 1-5 1-16 1 8 1-21 1 26 1-14 1-22 1 25 1 12 1-44 1 28 1-1 1-19 1 13 1 1 1 15 1-1 1 36 1-37 1 20 1-14 1 2 1-18 1-17 1 14 1 23 1 12 1-6 1 4 1-20 1 36 1-7 1-39 1 6 1-4 1 37 1-9 1-4 1 8 1 2 1-12 1-6 1 2 1-4 1 26 1 26M0 -35l1 0 1-17 1 8 1-4 1 28 1-25 1 13 1 7 1-14 1-12 1 13 1 16 1-11 1 7 1-16 1 17 1 4 1-6 1 20 1-20 1-11 1-7 1 34 1-18 1 18 1-3 1 5 1-6 1-19 1 15 1 9 1-26 1 32 1-4 1-2 1-15 1 9 1-22 1 15 1-5 1 12 1-13 1 7 1 12 1-26 1 24 1-31 1-10 1 31 1 2 1-1 1-21 1 22 1 0 1 16 1-12 1 3 1-20 1 8 1 0 1 11 1-25 1-1 1 17 1 11 1-16 1-1 1 3 1 16 1-3 1 11 1-19 1-12 1 4 1-8 1-2 1 39 1-7 1-23 1 36 1-19 1-16 1 9 1-6 1-3 1-12 1 30 1 8 1-38 1 44 1-4 1-29 1 7 1 3 1 1 1 9 1 23 1-32 1 22 1-2 1-7 1 5 1-10 1 6 1 15M0 -39l1 44 1-44 1 3 1 7 1-2 1 17 1-17 1 22 1-3 1-22 1 23 1-20 1 40 1-34 1-7 1-10 1 5 1 11 1-7 1 2 1 5 1 6 1 21 1-42 1 19 1-1 1-16 1 2 1 5 1 26 1-12 1-1 1 13 1-5 1-5 1 6 1-12 1 13 1-1 1-8 1-5 1 26 1-19 1 37 1-41 1 15 1-11 1 0 1 14 1-19 1 2 1 7 1 2 1 4 1 7 1 2 1-12 1-9 1-10 1 8 1-1 1 10 1-16 1-10 1 19 1-16 1 0 1 18 1 6 1-30 1 12 1 13 1-3 1-7 1 1 1 25 1-13 1 12 1 3 1-16 1 10 1-11 1-10 1-6 1 29 1-13 1 4 1-2 1 31 1-6 1-15 1-22 1-10 1 29 1 8 1-17 1 32 1-2 1-19 1 3 1 5 1 9 1-2 1-18 1 42M0 -13l1-3 1-19 1 1 1 16 1 1 1-14 1-2 1 8 1-11 1 8 1-20 1 26 1-14 1 9 1 5 1 7 1 16 1-18 1-21 1 23 1-10 1 13 1-13 1-4 1 7 1 3 1-24 1 13 1 9 1 21 1-19 1 2 1 11 1-2 1 13 1-13 1-4 1 11 1 4 1-22 1 12 1-29 1 15 1-6 1 13 1-7 1 8 1-8 1 15 1-3 1-16 1-5 1 34 1 0 1-20 1 16 1-30 1-2 1 14 1 24 1-33 1-2 1 26 1-42 1 27 1-1 1-8 1 16 1 27 1-41 1 7 1-2 1-2 1-8 1 32 1-15 1-15 1 11 1 15 1 0 1-23 1 15 1-3 1 1 1 5 1-24 1 50 1-15 1 15 1 20 1-41 1-29 1 25 1-5 1 5 1-4 1 35 1-23 1-11 1 10 1-5 1 18 1-5 1-8 1 24M0 -23l1 3 1-20 1-10 1 22 1 8 1-13 1 6 1-2 1 3 1 9 1-19 1 3 1 6 1-5 1 9 1 7 1-9 1-5 1-5 1 36 1-12 1-23 1 3 1 29 1 1 1-13 1 3 1-33 1 19 1 16 1-33 1 16 1 19 1 3 1-21 1 10 1 19 1-29 1-10 1 17 1 1 1 13 1-15 1-10 1 42 1-38 1 16 1-6 1 8 1-6 1-2 1-4 1-13 1 12 1 3 1 4 1-1 1-11 1 22 1 7 1-49 1 23 1-13 1-22 1 33 1-12 1 3 1 8 1 19 1 6 1-15 1 3 1-7 1 3 1-14 1 11 1 0 1 12 1 6 1-6 1 9 1 17 1-64 1 25 1-2 1 3 1-5 1 22 1-7 1 2 1 0 1-20 1-21 1 49 1-9 1-5 1 17 1-9 1-17 1 36 1-28 1 20 1 5 1 15 1 3M0 -38l1 1 1 17 1 3 1-4 1-14 1 17 1-12 1 0 1 0 1 15 1-6 1 9 1 3 1-6 1-35 1 10 1 20 1-1 1 25 1-22 1-2 1 14 1 2 1-20 1 14 1-16 1-7 1 25 1-31 1 35 1-4 1 4 1 1 1-5 1-32 1 13 1 7 1 14 1-23 1 7 1 8 1 14 1-35 1 2 1 28 1-36 1 33 1-17 1-7 1 15 1-14 1 18 1 6 1 11 1-16 1 6 1-13 1 5 1 11 1-32 1 27 1-18 1 4 1 3 1 3 1-7 1-7 1 19 1-5 1 2 1 1 1 6 1-5 1-1 1-20 1 15 1-12 1 30 1-19 1 27 1 19 1-41 1 13 1-11 1-7 1-1 1 23 1 14 1-16 1-15 1 1 1-6 1 19 1-6 1 8 1 15 1-16 1 4 1 0 1-20 1 30 1 2 1 8 1-27 1 10M0 -22l1 10 1-28 1 7 1 1 1 12 1-13 1 17 1 6 1-6 1-24 1 30 1-6 1-18 1 6 1 10 1 9 1-15 1-12 1 20 1 4 1 26 1-44 1 46 1-13 1-12 1 20 1-28 1 9 1-19 1 16 1-14 1-4 1 15 1-6 1 16 1 7 1-14 1-3 1 4 1-21 1 28 1-10 1-2 1-12 1-6 1 18 1 10 1 4 1 5 1 4 1-19 1 13 1-13 1 8 1 6 1 25 1-34 1-20 1 30 1-22 1 5 1-7 1-11 1 27 1-12 1-14 1 8 1 6 1 11 1-8 1-8 1-1 1 6 1 8 1-18 1 12 1 15 1 21 1-16 1-47 1 29 1 1 1 1 1 15 1-5 1-34 1 37 1 2 1 0 1 18 1-34 1 11 1-33 1 28 1 11 1 26 1-34 1-9 1 30 1-18 1 30 1-25 1 0 1 25 1-9M0 -43l1 34 1-27 1 11 1-11 1-6 1 12 1 10 1 17 1-16 1 9 1-3 1 30 1-48 1 29 1-18 1 7 1-12 1 22 1-31 1 4 1 13 1-11 1 23 1-1 1-16 1 23 1-27 1 6 1 2 1 29 1-24 1-8 1 0 1 24 1-34 1 13 1 4 1-29 1 25 1 20 1-5 1-21 1 18 1-1 1 22 1-36 1 8 1-3 1 5 1 3 1-9 1-3 1-7 1 10 1-8 1 8 1 1 1 11 1 3 1-19 1 12 1 2 1-13 1-19 1-10 1 36 1 2 1 3 1-17 1 34 1-7 1-17 1 1 1-21 1 29 1-26 1 36 1-1 1-6 1 17 1-24 1 11 1-5 1-7 1-3 1 22 1-4 1-3 1-3 1 11 1 21 1-42 1-4 1-3 1 6 1-5 1 28 1 0 1-12 1-7 1 18 1-1 1-8 1 19 1 3M0 -21l1-20 1 23 1-34 1 30 1 1 1-13 1 11 1-19 1-4 1 20 1-8 1 16 1-8 1 11 1-4 1 1 1-4 1-4 1-3 1 35 1-47 1 20 1 14 1-10 1 16 1-6 1-31 1 10 1-12 1 35 1 5 1-20 1 11 1-12 1-12 1 11 1-11 1 7 1 11 1 8 1 12 1-27 1 6 1 3 1 6 1-44 1 29 1 10 1-16 1 17 1 1 1-29 1 24 1 2 1 0 1-14 1 17 1-13 1 16 1-1 1-16 1 5 1-14 1 0 1-14 1 17 1 12 1 3 1-3 1-3 1-2 1 13 1-24 1 42 1-29 1 29 1-3 1-21 1 15 1-6 1 2 1 3 1-24 1-1 1 8 1-9 1 18 1 11 1-3 1 6 1-12 1-1 1-35 1 28 1 8 1 18 1-1 1 4 1-8 1 10 1-20 1 15 1-25 1 46 1 3M0 -44l1-19 1 6 1 14 1 8 1-15 1 9 1 2 1 14 1 1 1-6 1 2 1-1 1-26 1 31 1-4 1 12 1-33 1 33 1-19 1 16 1 10 1-32 1 3 1 24 1-21 1 6 1 9 1-10 1 12 1 1 1-5 1 15 1 14 1-28 1 19 1-5 1-9 1-1 1-15 1 5 1 16 1-11 1 15 1-30 1 16 1-7 1 9 1 8 1-21 1 25 1-24 1 7 1 19 1-18 1 14 1-2 1-9 1-4 1-18 1 16 1 7 1-3 1-24 1 30 1-8 1-22 1 3 1 30 1-29 1 16 1 5 1-3 1 4 1 5 1-17 1 5 1 39 1-43 1 13 1 6 1-10 1 22 1-21 1 8 1-35 1 47 1 6 1-18 1 21 1-6 1 3 1-5 1-20 1-6 1 20 1-12 1 7 1 3 1 2 1 21 1 0 1-19 1 26 1-34 1 17M0 -17l1-9 1-4 1 4 1 5 1 8 1-29 1-7 1 16 1 14 1-2 1 5 1-2 1-3 1 8 1-20 1 24 1-27 1 12 1-17 1 27 1-25 1 36 1-33 1 16 1 0 1-5 1 16 1-21 1 24 1-24 1 2 1-12 1 31 1 3 1-8 1-6 1-6 1 35 1-18 1-29 1 23 1-35 1 49 1 6 1-2 1-21 1-3 1-18 1 30 1-14 1-3 1 1 1 7 1 12 1 13 1-15 1-6 1-16 1-3 1 6 1 20 1-12 1 5 1-6 1-13 1-10 1 11 1-2 1 40 1-17 1-11 1 26 1-25 1 11 1-12 1 8 1 0 1 9 1 13 1-33 1-13 1 43 1-22 1 8 1-9 1 25 1 9 1-32 1 19 1-9 1-16 1 0 1 10 1-16 1 9 1 34 1-13 1 7 1-18 1 5 1 13 1 3 1 1 1 16 1-12M0 -48l1 7 1 15 1-29 1 15 1 4 1-11 1 3 1 7 1 14 1-2 1-11 1 8 1-21 1 32 1-4 1-3 1-26 1 46 1-62 1 28 1 0 1 20 1-26 1 17 1 0 1 3 1 4 1 6 1-12 1-1 1-25 1 48 1-22 1-20 1 25 1 15 1-17 1-17 1 43 1-18 1 1 1 2 1-41 1 27 1 3 1 27 1-31 1-8 1-3 1 7 1 1 1 10 1-2 1 24 1-16 1 6 1 4 1-11 1-15 1-9 1 20 1-19 1 23 1-25 1-21 1 28 1 12 1-4 1 3 1 4 1 15 1-19 1-1 1-8 1-15 1 39 1 5 1-27 1 21 1-4 1-10 1 0 1 6 1-24 1 13 1 8 1 6 1 3 1 1 1 11 1-22 1-4 1-7 1 32 1-28 1 18 1 13 1-10 1 1 1-4 1 14 1-16 1 15 1-1 1-12M0 -36l1 7 1 6 1-12 1-8 1 19 1-26 1 14 1 30 1-21 1 23 1-23 1 2 1-14 1 29 1-15 1 12 1-4 1 3 1-5 1 1 1-1 1-8 1-17 1 29 1 24 1-8 1 6 1-24 1-17 1 7 1 20 1-2 1-7 1 10 1-19 1 16 1-7 1 1 1 14 1-14 1 22 1-7 1-27 1 39 1-39 1 11 1 14 1-46 1 48 1 2 1-22 1 8 1 3 1-7 1 18 1-14 1-1 1 3 1 5 1 7 1-35 1-11 1 20 1 1 1-16 1 18 1 3 1 9 1 13 1-28 1 9 1 21 1-12 1-22 1 13 1 13 1 20 1-19 1 8 1-28 1 9 1 17 1-33 1 10 1-17 1 43 1-14 1 14 1-29 1 9 1 33 1-42 1-2 1 20 1 8 1-27 1 14 1 15 1 1 1 2 1-6 1 4 1 8 1-12 1 3M0 -32l1-5 1-4 1-4 1 14 1 5 1-2 1-16 1 27 1-32 1 31 1-18 1 16 1 5 1-32 1 30 1-2 1-12 1 13 1-13 1 12 1-15 1 23 1-2 1-2 1-12 1 34 1-8 1-26 1-3 1 7 1 12 1 7 1-22 1-16 1 30 1-7 1 6 1-1 1-18 1 16 1 0 1 1 1 9 1-14 1-6 1 23 1-3 1-20 1-12 1 12 1 6 1 8 1-9 1 9 1-11 1 7 1 7 1-12 1 4 1 12 1 0 1-25 1 1 1-13 1-3 1 20 1-10 1-5 1 27 1-12 1 2 1 7 1 3 1-6 1-26 1 32 1-5 1-11 1-8 1 41 1-15 1-1 1-1 1-9 1-11 1 28 1 9 1-1 1 9 1 11 1-37 1-11 1 16 1-1 1 8 1 12 1-1 1-12 1 9 1-12 1 10 1-9 1-9 1 17 1 4M0 -8l1-21 1 4 1-19 1 8 1 8 1-3 1 11 1-2 1 18 1-18 1-20 1 22 1-10 1 14 1 10 1-19 1 4 1 10 1-20 1 19 1 3 1 3 1 4 1-10 1 3 1-17 1-25 1 19 1 30 1-9 1-30 1 25 1 9 1-27 1 29 1-22 1 30 1-17 1 38 1-51 1 24 1-28 1 30 1-11 1 13 1-13 1-11 1-2 1 0 1 3 1 8 1 14 1 1 1-6 1-11 1 18 1-22 1 11 1 6 1-8 1-7 1-4 1 9 1-11 1-16 1 12 1-8 1 42 1-19 1-14 1 18 1 3 1-1 1-10 1 4 1 3 1 17 1-9 1 25 1-31 1 20 1-19 1-28 1 6 1-2 1 3 1 41 1-18 1 12 1-11 1 6 1-28 1 23 1-6 1 5 1 7 1 30 1-19 1 6 1-26 1 10 1 14 1-24 1 37 1-7M0 -32l1-4 1-4 1 17 1 3 1 7 1-21 1-3 1 27 1-32 1 12 1 13 1 5 1-29 1 16 1 3 1 0 1-11 1 20 1-16 1 8 1-25 1 26 1-21 1 28 1 2 1-8 1-1 1-2 1-2 1 13 1-7 1-2 1-4 1 28 1-17 1-3 1 11 1-18 1 2 1 14 1 9 1-11 1-27 1 19 1 4 1 2 1-12 1-10 1 18 1-9 1-8 1 15 1 16 1-12 1 14 1-21 1 15 1-10 1-12 1 9 1-9 1 4 1-10 1 25 1-23 1-12 1 14 1 18 1-9 1 18 1-25 1-1 1 32 1-20 1 4 1 1 1 10 1-8 1-1 1 14 1-19 1 6 1-1 1-13 1-8 1 26 1 13 1-5 1-27 1 35 1 11 1-58 1-13 1 36 1 12 1 11 1 3 1-6 1 6 1-4 1 1 1 0 1 1 1 9 1 2M0 -18l1-25 1 5 1-1 1-13 1 18 1 12 1 3 1-23 1 3 1 2 1 8 1 2 1-19 1 27 1-4 1 0 1-9 1 8 1-21 1 28 1-1 1-3 1-12 1 25 1 3 1-31 1 17 1-4 1-31 1 43 1 0 1 4 1-7 1-11 1 2 1 11 1 11 1-24 1 4 1 13 1-29 1 24 1-10 1-21 1 38 1-22 1 23 1-1 1-24 1 1 1 8 1-17 1 33 1-9 1 12 1-29 1 19 1 1 1-28 1 35 1-30 1 15 1-22 1 25 1 8 1-19 1 0 1 26 1-22 1 10 1 5 1-6 1 16 1-5 1 6 1-21 1 22 1-24 1 22 1 9 1 6 1-43 1 6 1 10 1-14 1 19 1 6 1-7 1-4 1 2 1 10 1-5 1-11 1 36 1-42 1 14 1 16 1-18 1 18 1 4 1-4 1-2 1 15 1-7 1 9M0 -34l1-8 1 8 1 0 1 7 1 14 1-11 1 12 1-9 1-11 1 23 1-6 1-16 1 4 1 42 1-74 1 56 1-16 1 1 1-5 1 2 1 33 1-32 1 2 1 9 1 0 1-3 1-10 1-14 1 30 1-19 1-17 1 44 1-4 1-6 1-10 1 19 1-24 1-18 1 29 1 10 1 2 1 11 1-17 1-11 1 5 1 9 1-7 1-9 1-13 1 18 1-18 1 22 1 2 1 5 1 15 1-19 1 14 1-33 1 14 1 14 1 8 1-40 1 6 1 5 1-6 1-10 1-8 1 16 1 12 1-11 1 34 1-9 1-34 1 16 1 19 1 3 1 5 1-32 1 14 1 19 1-14 1-8 1 4 1 6 1-5 1 3 1 16 1-15 1-8 1 27 1-28 1 4 1-14 1 26 1-17 1 32 1-9 1-4 1-6 1 7 1-6 1-1 1 29 1-6 1 12M0 -58l1 1 1 26 1-4 1-20 1 34 1-20 1-5 1 14 1 6 1-4 1-2 1-8 1-8 1 17 1-16 1 29 1-20 1 28 1-37 1 41 1-29 1 0 1 15 1 4 1-7 1 1 1 18 1-18 1-20 1 18 1 22 1-13 1 5 1 14 1-32 1 11 1-9 1 3 1 8 1-21 1 22 1-6 1 9 1-19 1-4 1 17 1-14 1 7 1 12 1-17 1 3 1-8 1-18 1 14 1-5 1 30 1-18 1 9 1 0 1 17 1-21 1-4 1 7 1 14 1-24 1 6 1-7 1 5 1-12 1 22 1-6 1-2 1 31 1-29 1 5 1-7 1 28 1-19 1 27 1-26 1 11 1 3 1-23 1 13 1-4 1-8 1 7 1 16 1 14 1-20 1 8 1-32 1 12 1-11 1 14 1 13 1-7 1 8 1 17 1-16 1-3 1-4 1 10 1 19 1-9M0 -21l1-2 1 1 1-22 1 4 1-8 1 8 1 8 1 14 1-6 1-6 1 15 1-25 1 1 1 3 1 0 1 12 1-10 1 4 1 23 1-29 1 4 1 10 1 9 1-3 1-5 1 3 1-8 1 11 1-19 1-11 1 30 1-14 1 13 1 16 1-15 1 20 1-38 1 17 1 3 1 8 1-15 1 5 1-3 1 1 1-13 1-7 1 31 1-11 1 3 1 8 1-1 1-23 1 27 1 6 1-4 1 0 1-4 1-28 1 10 1 22 1 2 1-16 1-14 1 4 1 8 1 15 1-15 1-4 1 12 1 2 1 20 1-24 1-3 1-3 1-16 1 3 1 16 1-5 1 13 1-1 1 9 1 6 1-24 1-4 1-15 1 29 1 9 1-12 1 1 1 3 1 16 1-21 1 7 1-21 1 54 1-39 1 0 1 17 1-8 1 27 1-23 1-1 1 21 1 3 1-20M0 -35l1-1 1 22 1-12 1 9 1 3 1-18 1 14 1-11 1-9 1 34 1-44 1 22 1-8 1-9 1 15 1 7 1 2 1-13 1 17 1-1 1 5 1-32 1 18 1-6 1 19 1-11 1-7 1-9 1 1 1 9 1 22 1-22 1-16 1 31 1-8 1 11 1 2 1-15 1 1 1 0 1 11 1-16 1 10 1 15 1-20 1-3 1 4 1 7 1 8 1 9 1-15 1-3 1 7 1-23 1 25 1-1 1 18 1-10 1-28 1 7 1 14 1-40 1 11 1 15 1 0 1-5 1 12 1-6 1 3 1 0 1-14 1 12 1-4 1 7 1-36 1 35 1 1 1-3 1 10 1-7 1 16 1 3 1-12 1 1 1-2 1-2 1-10 1 16 1 15 1 2 1-20 1-9 1 12 1-7 1 29 1-26 1 21 1 1 1-5 1 0 1 7 1-32 1 34 1 8 1-4M0 -39l1 10 1 4 1-13 1 29 1-8 1-15 1 20 1 0 1-16 1 18 1-6 1 0 1-20 1 34 1-8 1-6 1 2 1 2 1-10 1 2 1 7 1-8 1 2 1-12 1 16 1 19 1-19 1-3 1-4 1 6 1-14 1 40 1-28 1-11 1 23 1-2 1-7 1-16 1 3 1 37 1-16 1-13 1 29 1-28 1-1 1 15 1 2 1 6 1-30 1 22 1-30 1 29 1-10 1 0 1 0 1 23 1 4 1-22 1-4 1 1 1 9 1-23 1 51 1-45 1 20 1-18 1-18 1 9 1 12 1 0 1 3 1-13 1 45 1-4 1-50 1 29 1 18 1-20 1 3 1 15 1-8 1-21 1 22 1-21 1 33 1-32 1-10 1 33 1 10 1-1 1-9 1-29 1 22 1-26 1 40 1-21 1 9 1-6 1 6 1 27 1-28 1 18 1-10 1 21 1-24M0 -19l1 13 1-43 1-2 1 22 1 18 1-33 1 26 1-17 1-6 1-2 1 19 1 10 1-14 1-20 1 18 1 21 1-4 1-5 1 12 1-28 1-1 1 44 1-20 1-14 1 1 1-21 1 32 1-36 1 2 1 30 1 18 1-21 1 9 1-11 1 11 1-26 1 48 1-42 1 20 1-30 1 52 1-24 1 18 1-31 1 25 1-18 1 5 1 8 1-19 1 20 1 8 1 2 1-5 1-12 1-13 1 34 1-31 1 21 1-20 1 8 1-4 1 4 1-17 1 8 1-12 1 14 1-3 1 13 1-18 1 19 1-7 1 4 1-3 1-13 1 18 1-16 1 21 1-30 1 32 1 2 1-20 1 17 1-19 1 21 1-3 1-22 1 19 1-14 1 14 1 17 1-1 1-27 1-2 1 12 1-1 1 15 1 11 1-9 1 10 1-22 1 7 1 12 1 23 1-13 1 13M0 -15l1-38 1 26 1-38 1 52 1-9 1 6 1-6 1-10 1-4 1 16 1 13 1-10 1-15 1 4 1-3 1 8 1-1 1-2 1 3 1-14 1 37 1-15 1 16 1-19 1-1 1 8 1-8 1-12 1 4 1 35 1-13 1-15 1 12 1-17 1 27 1-30 1 26 1-15 1 1 1-8 1 11 1-13 1-2 1 17 1 29 1-38 1 20 1-20 1-2 1 26 1-15 1 9 1-8 1-3 1-9 1 11 1 19 1-50 1 31 1 17 1-12 1-3 1-17 1 17 1-3 1-14 1 21 1-15 1-26 1 34 1-5 1-11 1 8 1-2 1-18 1 39 1-6 1 31 1-32 1 5 1-24 1 30 1-33 1 19 1 10 1 0 1-13 1 5 1 15 1 12 1-2 1-33 1-1 1 30 1-21 1 20 1-11 1-11 1 5 1 17 1 1 1 5 1-8 1-3 1 15M0 -49l1 11 1 25 1-36 1 27 1-7 1 7 1-15 1-5 1 20 1-9 1 5 1-3 1 15 1-5 1-2 1-11 1-10 1 11 1 18 1 3 1-2 1-12 1-7 1 23 1-7 1 8 1-27 1 2 1 17 1 8 1-22 1 18 1-18 1 28 1-7 1 19 1-7 1-31 1 12 1-6 1 12 1 1 1-11 1 2 1-13 1 20 1-3 1-1 1 12 1-11 1 1 1-12 1 22 1-14 1-4 1 9 1-20 1 8 1 1 1 9 1-5 1-10 1 1 1-23 1 24 1 6 1 3 1 14 1-17 1 6 1-8 1-3 1 11 1 14 1-39 1 15 1 19 1-17 1 18 1-22 1 12 1-17 1 16 1-13 1 22 1-9 1-2 1 11 1 3 1 5 1-8 1-16 1 4 1 17 1-9 1 15 1-19 1 29 1-5 1-10 1 4 1-14 1 23 1-5 1-9M0 -25l1-8 1 1 1-16 1 28 1-10 1 7 1 21 1-50 1 16 1 11 1-11 1 21 1-17 1 28 1-11 1-2 1-8 1 12 1-6 1 16 1-13 1 8 1-7 1-4 1-18 1 23 1-5 1-20 1-2 1 20 1 6 1-21 1 24 1 6 1-14 1 5 1 6 1-19 1 17 1 0 1-16 1 15 1 2 1-22 1 27 1-16 1-9 1-5 1 9 1 18 1-19 1 5 1-7 1 13 1-13 1 11 1 10 1-1 1-15 1 9 1 3 1-10 1 11 1 2 1-21 1-13 1 13 1 29 1-4 1 5 1-4 1-22 1 13 1 9 1-13 1 9 1-14 1-4 1 40 1-15 1-3 1 9 1 2 1 8 1-58 1 35 1 14 1-31 1-2 1 26 1 20 1-27 1 15 1-15 1 17 1 9 1-11 1-3 1 3 1-47 1 51 1-24 1 14 1 18 1 1M0 -31l1-1 1-7 1 0 1 10 1-27 1 15 1 3 1-11 1 13 1-4 1 6 1-9 1 22 1 18 1-34 1 9 1-2 1 7 1-10 1-20 1 30 1-5 1-11 1 7 1 1 1 13 1-16 1-1 1 6 1 8 1-4 1 17 1-12 1-13 1 30 1-20 1 21 1-37 1 21 1 16 1-1 1-21 1-10 1 1 1 10 1-13 1 7 1-12 1 7 1 16 1-31 1 27 1 10 1-22 1 3 1 15 1-6 1 10 1-36 1 26 1 15 1-20 1 16 1 6 1-37 1 26 1-12 1 5 1-5 1 5 1-12 1 7 1 16 1 3 1-22 1 12 1 9 1-36 1 39 1-25 1 1 1 23 1 2 1-33 1 7 1 2 1 11 1 6 1-9 1-3 1 37 1-44 1-3 1 28 1-8 1 21 1-2 1 5 1-15 1 11 1-23 1 4 1 19 1-5 1 25M0 -52l1 19 1-5 1 0 1-5 1 5 1 7 1 12 1-4 1 3 1-21 1 12 1 6 1 8 1-5 1-6 1 3 1-2 1-14 1 15 1 14 1-2 1-30 1 23 1-22 1 36 1-2 1-8 1-17 1-15 1 18 1 7 1-11 1 5 1 32 1-36 1 21 1-26 1 21 1 8 1-2 1 13 1 1 1-40 1 21 1 7 1-4 1 18 1-24 1 18 1 0 1-19 1 9 1-12 1 10 1 1 1 0 1-8 1 15 1-14 1 32 1-15 1-11 1-19 1 18 1-13 1 0 1-14 1 31 1-5 1-5 1-6 1 3 1-9 1 8 1 21 1-23 1 44 1-45 1 31 1-1 1 0 1-8 1-33 1 32 1 5 1-10 1-24 1 46 1-27 1 14 1 14 1-15 1-11 1-4 1 35 1-3 1-14 1-8 1 17 1-21 1 40 1-13 1-8 1 8 1-20M0 -37l1-14 1 10 1 6 1-10 1 15 1-18 1 24 1-23 1 28 1 5 1-1 1 12 1-20 1 3 1 5 1-11 1-19 1 10 1-2 1 21 1-11 1 4 1 12 1-8 1 26 1-20 1-20 1 25 1-19 1 10 1 12 1-7 1 6 1-17 1 4 1 11 1-11 1-4 1 6 1 22 1 3 1-22 1-3 1-8 1 28 1-14 1 11 1-37 1 34 1-7 1 0 1 7 1-8 1-7 1 15 1-19 1 27 1-15 1-19 1 33 1-8 1 3 1-10 1-5 1-10 1-12 1 22 1 9 1-13 1 16 1-21 1 21 1-8 1 1 1-15 1 22 1-1 1-10 1 13 1-8 1 14 1-31 1-3 1 38 1-26 1 15 1-5 1 12 1 25 1-48 1 25 1-22 1 0 1-2 1 5 1 32 1-9 1-18 1 16 1-18 1 54 1-28 1-24 1 32 1 1M0 -25l1-12 1 4 1-28 1 51 1 9 1-21 1 5 1-23 1 10 1-7 1-1 1 22 1 10 1-14 1 30 1-18 1-39 1 24 1 18 1-9 1 10 1-32 1 36 1-33 1 23 1 25 1-34 1-5 1 13 1-12 1-3 1 26 1-30 1 2 1 36 1-37 1 24 1 3 1-13 1-10 1 27 1-28 1 35 1 3 1-35 1 16 1-12 1 5 1 0 1-9 1 12 1-23 1 28 1-9 1-5 1 25 1-15 1-7 1 1 1 3 1 10 1-19 1-35 1-2 1 22 1-2 1 12 1-2 1 5 1 29 1-35 1 24 1-8 1 16 1-8 1-8 1 21 1-12 1-14 1 19 1-1 1-8 1-3 1-9 1 15 1-5 1-10 1 20 1 19 1-2 1 3 1-34 1-5 1 0 1 22 1 14 1-1 1 2 1-14 1 6 1-7 1 21 1-1 1-15 1 14M0 -29l1-22 1 5 1 6 1 12 1-16 1 24 1 10 1-7 1-3 1-10 1 14 1-27 1-4 1 19 1 1 1-12 1 30 1-37 1-10 1 25 1 24 1-11 1-4 1-6 1 10 1 1 1-12 1-4 1-17 1 38 1-18 1 12 1 1 1 6 1-22 1 19 1 3 1-17 1 3 1 4 1-10 1 0 1-9 1 29 1-20 1-6 1 18 1-4 1-3 1-7 1 10 1 9 1-26 1 28 1-30 1 34 1-19 1 1 1 10 1 12 1 5 1-13 1-12 1-24 1 8 1 7 1-9 1 26 1-12 1 29 1-28 1-15 1 13 1-4 1 15 1 9 1 5 1-2 1-19 1-5 1 2 1 10 1-12 1 7 1 14 1-9 1 25 1-25 1 14 1-2 1 8 1-28 1-6 1 13 1-2 1 1 1 24 1-14 1 23 1 14 1-31 1 17 1-10 1-22 1 26M0 -38l1 10 1-1 1-21 1 32 1-5 1 6 1-3 1-17 1 18 1 10 1-13 1 10 1-1 1-28 1 32 1-29 1 6 1 16 1-13 1 7 1 22 1-25 1 27 1 4 1 0 1-26 1-15 1 18 1 26 1-22 1-5 1 8 1 10 1 5 1-14 1-3 1 11 1-11 1-4 1-14 1 27 1-15 1 2 1 1 1-3 1 14 1 10 1-15 1-7 1 11 1 0 1-6 1 13 1-28 1 17 1 24 1-10 1-16 1 2 1 28 1-16 1-26 1 9 1-9 1-5 1-7 1 23 1 30 1-18 1-22 1 18 1-26 1 24 1 9 1 2 1-14 1 11 1-5 1-1 1 20 1-31 1-8 1 33 1 5 1-41 1 33 1 4 1-10 1-10 1 20 1-10 1-2 1-18 1 30 1-15 1 31 1-7 1 5 1-17 1 1 1 5 1 17 1-20 1-2 1 11M0 -29l1-3 1-16 1 3 1 6 1 25 1-16 1 13 1-24 1 15 1 9 1-19 1 5 1 1 1 12 1 1 1-19 1 19 1 0 1-1 1-9 1 9 1 16 1-1 1-24 1 31 1-20 1-15 1 23 1-9 1 30 1-31 1 7 1 7 1-7 1-7 1 3 1 3 1-5 1 2 1-17 1 34 1-25 1 3 1-5 1 11 1 11 1 7 1-19 1 5 1-8 1-3 1 10 1-2 1-12 1 15 1-9 1 32 1-23 1-12 1 17 1-19 1 2 1 18 1-2 1-33 1 1 1 7 1 45 1-28 1 6 1-13 1 20 1-1 1-33 1 8 1-10 1 17 1 2 1-5 1 8 1 15 1 5 1-20 1 7 1-20 1 37 1 15 1-24 1 5 1 4 1-35 1 22 1-6 1-18 1 22 1 23 1-6 1-21 1 11 1-2 1 13 1-8 1 11 1-4 1-10M0 -25l1-14 1 16 1 13 1-35 1 21 1 5 1-6 1-7 1 33 1-28 1 2 1-6 1 22 1-37 1 15 1 7 1 7 1 2 1 6 1-9 1-8 1 8 1-9 1 1 1 5 1 14 1-4 1-24 1 7 1 14 1-1 1 0 1 9 1-11 1-17 1 35 1-27 1 29 1-15 1 3 1-17 1 14 1-7 1-7 1 21 1 0 1 9 1-38 1 13 1 26 1-17 1 8 1-13 1 8 1 8 1-20 1 2 1 9 1 12 1-18 1 10 1-22 1-8 1 22 1-23 1 13 1-7 1 24 1-23 1 3 1-4 1 12 1 21 1-6 1-10 1-3 1 25 1-17 1 15 1 3 1-9 1-4 1-7 1-6 1 9 1-11 1 6 1 33 1-23 1-12 1 31 1-16 1-10 1-13 1 45 1-6 1 3 1-15 1 9 1-9 1 4 1-9 1 6 1 3 1 11M0 -19l1-31 1 33 1-36 1 35 1-8 1 0 1-2 1-7 1 31 1-44 1 16 1 27 1-17 1 4 1-11 1-1 1 18 1-7 1 4 1 10 1-31 1 9 1 5 1 7 1 10 1-16 1 0 1 0 1 1 1 26 1-28 1 14 1-30 1 25 1 3 1 6 1-12 1-5 1-6 1 10 1 39 1-56 1-1 1 22 1-8 1 23 1-29 1 30 1-18 1-14 1-13 1 19 1 7 1 9 1-17 1 56 1-31 1-14 1-6 1 42 1-45 1 15 1 5 1-29 1 15 1-12 1 22 1 12 1-12 1-1 1-20 1 42 1-8 1-10 1 6 1-16 1-5 1 24 1-22 1 5 1 14 1-28 1 12 1-5 1-5 1 2 1 18 1 3 1 2 1-13 1 14 1-31 1 5 1 29 1-12 1 5 1-2 1 12 1 12 1-16 1 16 1-22 1 23 1-7 1 7M0 -41l1 8 1-18 1 17 1-3 1 11 1-22 1-2 1 28 1-1 1-4 1 6 1-8 1 8 1-2 1-15 1 27 1-27 1 41 1-31 1-5 1 8 1 4 1 1 1 2 1-10 1-13 1 5 1 15 1 8 1-30 1 24 1 15 1-31 1 37 1-30 1 7 1-1 1 22 1-9 1-7 1-2 1-22 1 15 1-3 1 10 1-25 1 43 1-13 1 15 1-25 1 0 1-11 1 29 1-16 1 25 1-7 1-4 1-5 1-25 1 30 1-32 1 19 1 0 1-21 1 3 1 6 1 6 1 11 1-5 1-6 1 10 1 24 1-33 1 25 1-36 1 8 1 32 1-7 1 11 1-13 1-15 1 7 1-14 1 18 1 0 1 10 1-18 1 10 1-5 1 7 1-2 1 2 1-14 1 20 1-4 1-21 1 7 1 17 1 17 1-15 1-15 1 22 1-3 1 9 1 8M0 -36l1-8 1 7 1-2 1 17 1-10 1-5 1 18 1 4 1-8 1-11 1 7 1 30 1-40 1 12 1 15 1-20 1 5 1 21 1-6 1-28 1 27 1-10 1-12 1 25 1-14 1 10 1-19 1 19 1 2 1 5 1 18 1-18 1-12 1 10 1-2 1 4 1-34 1 33 1 16 1-11 1-14 1 27 1-18 1 17 1-9 1-18 1-12 1 13 1 12 1-11 1-17 1 30 1-16 1 23 1-21 1 16 1-14 1 7 1 1 1-29 1 14 1-3 1-4 1 7 1 11 1-25 1 18 1 0 1-5 1-5 1 5 1-7 1 22 1 12 1-14 1 4 1-10 1 16 1-16 1-2 1 13 1-12 1 8 1-6 1 0 1-1 1 15 1 5 1-5 1 19 1-25 1-25 1 1 1 11 1 8 1 13 1 23 1-29 1 3 1 3 1-3 1 5 1 19 1 7 1-19M0 -16l1-10 1-7 1 1 1 5 1-6 1 11 1-9 1 1 1 9 1-13 1 20 1-17 1-3 1 21 1 1 1 6 1 2 1-26 1 7 1-5 1 3 1 19 1-6 1-4 1 6 1-5 1 10 1-28 1 21 1-9 1-4 1 37 1-29 1 12 1-17 1-1 1 26 1-14 1-3 1 7 1 6 1-4 1-6 1 4 1-1 1-5 1 16 1-48 1 43 1-9 1-5 1-1 1-2 1 13 1-19 1 7 1-5 1 29 1-21 1 3 1-20 1 14 1 5 1-22 1 10 1 2 1 5 1 15 1 10 1-19 1-3 1-10 1 22 1-12 1 3 1 4 1-1 1-2 1 5 1 0 1-2 1-4 1-6 1 15 1-16 1 10 1 5 1 17 1-22 1 10 1-8 1 0 1-2 1 5 1 4 1 28 1-21 1-23 1 7 1-1 1 14 1-10 1 19 1-17 1 21M0 -26l1-8 1-13 1 26 1-23 1 8 1-13 1 31 1 0 1-13 1-23 1 36 1 12 1-32 1 19 1 5 1-8 1-17 1 14 1-8 1 19 1-28 1 27 1-5 1-22 1 11 1 22 1-1 1-6 1 25 1-25 1-17 1 17 1-9 1-21 1 41 1-25 1 3 1 28 1-28 1 0 1 24 1 5 1-45 1 10 1 10 1 14 1-3 1 2 1-23 1 16 1 12 1-35 1 38 1-25 1 15 1-11 1 15 1 0 1-13 1 25 1-35 1 20 1-29 1 25 1-4 1-18 1 27 1-8 1-17 1 16 1 11 1-12 1 14 1 5 1-10 1-2 1 5 1 2 1 13 1-25 1 4 1 11 1-29 1 24 1-7 1 8 1-7 1 9 1 13 1-20 1 20 1-14 1-12 1-17 1 17 1 22 1 9 1-26 1 22 1-3 1-17 1 22 1-10 1-9 1 44M0 -49l1-3 1 39 1-17 1 6 1-16 1 11 1 0 1 9 1-28 1 31 1 1 1-22 1-1 1 13 1-15 1 15 1-3 1 22 1-31 1 13 1 19 1-36 1 33 1-21 1 17 1-3 1-1 1-49 1 32 1-11 1 22 1-2 1 8 1 19 1-14 1-2 1 6 1-16 1 23 1-8 1-3 1 7 1-20 1-1 1 0 1-10 1 7 1 20 1-12 1 5 1 2 1-6 1-7 1-1 1 7 1 22 1-23 1-3 1 12 1-2 1-3 1-2 1 14 1-24 1-5 1 27 1-32 1 1 1 30 1-12 1 2 1-1 1-12 1 19 1-23 1 26 1 13 1-24 1 23 1-12 1 19 1-22 1-29 1-1 1 38 1-14 1 16 1-14 1 3 1-13 1 27 1-11 1-19 1 23 1-7 1 16 1-8 1-2 1 17 1-29 1 47 1-38 1-4 1 27 1-11M0 -45l1 32 1-3 1-34 1 48 1-29 1 2 1-4 1 12 1 0 1-1 1 2 1-1 1 3 1-18 1 10 1-6 1 10 1 2 1-3 1-1 1 29 1-33 1 18 1-15 1 28 1 1 1-19 1 2 1-18 1 5 1 20 1-6 1-19 1 15 1-13 1-2 1 19 1-4 1-3 1 0 1-2 1 4 1-1 1-3 1 38 1-35 1 9 1-19 1 14 1 3 1 0 1-39 1 52 1-9 1-1 1-11 1-13 1 5 1 21 1 3 1-11 1 4 1-23 1-1 1 24 1-1 1-4 1 15 1-15 1-23 1 21 1 14 1-13 1 11 1-4 1-17 1 26 1-6 1-17 1 29 1-26 1 17 1-6 1-16 1 3 1 19 1 3 1 16 1-15 1 11 1-9 1-7 1-23 1-3 1 36 1-5 1-3 1 30 1-36 1 12 1 18 1-11 1-1 1 8 1-3"/>
<path class="tn so" stroke="#e9212a" d="M106 10l1-8 1 4 1 9 1 8 1 3 1-10 1 6 1-15 1-4 1 16 1 11 1-10 1-25 1 32 1 10 1-11 1-10 1-5 1-2 1 28 1-18 1 2 1 1 1 2 1 6 1-7 1 9 1-9 1-2 1-10 1 22 1 14 1-6 1 6 1-15 1-3 1 1 1-3 1 23 1 6 1-21 1 14 1-20 1 21 1 7 1-18 1 25 1-18 1 9 1 18 1-37 1 26 1-8 1 22 1-17 1 0 1 9 1 17 1-27 1-3 1 3 1 22 1-32 1 9 1 7 1-2 1 11 1-6 1-15 1 55 1-14 1-14 1-4 1 0 1-14 1 11 1 18 1 3 1 16 1-17 1-7 1 22 1-3 1-23 1 9 1 22 1-20 1 13 1-14 1 30 1 15 1-55 1 15 1 26M106 -2l1-3 1 15 1 15 1 2 1 15 1-42 1 22 1 2 1 19 1-26 1 23 1-30 1 30 1-21 1 1 1 16 1-8 1 10 1-3 1-6 1 19 1-10 1-4 1 2 1-12 1 8 1 20 1 0 1-2 1 18 1-13 1 2 1 8 1 0 1 11 1-17 1 9 1 1 1-2 1 5 1 14 1 9 1-15 1 2 1 5 1 12 1-4 1 15 1 5 1-7 1-18 1 5 1 2 1 1 1 20 1-18 1 17 1-9 1-4 1 28 1-30 1 37 1-32 1 26 1-1 1 3 1-2 1-5 1 7 1 23 1-2 1 19 1-12 1-4 1-3 1-2 1 22 1-20 1 3 1-2 1 18 1 38 1-45 1-16 1 16 1 23 1-14 1 1 1 19 1-9 1-8 1 21 1-18 1 15M106 23l1-35 1 23 1-23 1 20 1-3 1 3 1-1 1 26 1-3 1-26 1 0 1 18 1-11 1 38 1-4 1-7 1-24 1 13 1 21 1-19 1 20 1-6 1 12 1-9 1 2 1-12 1 15 1-6 1 20 1-21 1 28 1 4 1-2 1-22 1 5 1 19 1 2 1-4 1 5 1-7 1 3 1 2 1 8 1 8 1 0 1-5 1 27 1-8 1-11 1 46 1-60 1 41 1 0 1-8 1-3 1 14 1 17 1 1 1-2 1 0 1 1 1 14 1-7 1 4 1 17 1-21 1 14 1-2 1-7 1 33 1-28 1 10 1-3 1 20 1 5 1 17 1 3 1 3 1-11 1 10 1-14 1-7 1 33 1-24 1 23 1 15 1-18 1 23 1-15 1 2 1 13 1 20 1-40 1 25M106 16l1-19 1 5 1 21 1-4 1-10 1 8 1 10 1 1 1-30 1 17 1 24 1-20 1 0 1 8 1 3 1 0 1 3 1-12 1 15 1 5 1-6 1-2 1-5 1 11 1-14 1 10 1 4 1-22 1 29 1-18 1 9 1 1 1 7 1 3 1 10 1-17 1 9 1 11 1-9 1 0 1 12 1 7 1 0 1-20 1 19 1-1 1 22 1-18 1-1 1 21 1-23 1 26 1 1 1-14 1 7 1 6 1 21 1-22 1-5 1 15 1-5 1-9 1 12 1 7 1 11 1-5 1 1 1-11 1 21 1-19 1 1 1 5 1-2 1 13 1 10 1-6 1-4 1 10 1-8 1 22 1 8 1-20 1 1 1 19 1 19 1-30 1 23 1-9 1-17 1 14 1 7 1-8 1 33 1-56M106 0l1 1 1 9 1 5 1-3 1 7 1-8 1-8 1 5 1 21 1-18 1 3 1 10 1 3 1-6 1 11 1 7 1 4 1-14 1-15 1 4 1 1 1 16 1 11 1-6 1 6 1 24 1-44 1 29 1-13 1-5 1 4 1 2 1 27 1-16 1 13 1-29 1 34 1-10 1 7 1-20 1 19 1-3 1-2 1 4 1 4 1 4 1-12 1 20 1-22 1 5 1-7 1-10 1 55 1 2 1-25 1 2 1-4 1 14 1 1 1-11 1 14 1-14 1 16 1 19 1-3 1-4 1-4 1 30 1-26 1-22 1 25 1-23 1 31 1-1 1 24 1 1 1-20 1 4 1 14 1-21 1 5 1 32 1-30 1 18 1 32 1-36 1 34 1-42 1 8 1 33 1-6 1-8 1 1 1 18M106 6l1 15 1-11 1 14 1-18 1 26 1-5 1-4 1 3 1 15 1-28 1 17 1-10 1 1 1 26 1-8 1-1 1 7 1-11 1 21 1-16 1 13 1-4 1 11 1-18 1 21 1 2 1-5 1-5 1-4 1 9 1 11 1-7 1-11 1 28 1 1 1-7 1-8 1 10 1 4 1 0 1 12 1-22 1 26 1-2 1 16 1-17 1 11 1 0 1-17 1 54 1-28 1 12 1-2 1 0 1 4 1-20 1 31 1-8 1 7 1 19 1-10 1 27 1-6 1-4 1 0 1-14 1 43 1-3 1-20 1 5 1-17 1 38 1-9 1 3 1-4 1 5 1 1 1 1 1 3 1 2 1 34 1 11 1-55 1 28 1-4 1 3 1 21 1-52 1 60 1-35 1 32 1-5 1 0 1 11M106 -3l1 1 1 16 1 3 1 15 1-15 1-10 1 7 1-1 1 5 1 11 1-8 1-3 1 15 1-16 1 11 1 5 1-10 1 20 1-13 1 23 1-21 1-2 1-6 1 15 1 8 1-23 1-3 1 8 1 15 1 1 1-9 1 7 1 6 1 6 1-17 1-5 1 17 1 27 1-25 1 3 1 8 1-20 1 29 1-16 1-11 1 21 1 2 1 16 1-4 1-11 1 18 1 1 1 14 1-29 1 12 1-9 1 14 1 16 1-4 1-14 1-24 1 23 1 7 1 10 1 12 1 1 1-9 1 10 1-22 1 3 1 29 1-11 1 10 1 0 1 0 1-10 1 15 1-9 1 14 1 3 1-13 1 29 1-22 1 20 1-33 1 29 1-26 1 5 1-6 1 18 1 7 1-6 1 41 1-17M106 6l1 7 1-3 1-14 1 36 1-7 1-5 1 7 1-7 1-11 1-3 1 19 1-14 1 6 1-8 1 21 1-10 1 7 1-5 1-7 1 19 1-6 1-6 1 18 1 6 1 8 1-10 1-4 1 9 1-18 1 9 1 3 1-18 1 26 1 6 1-11 1 17 1-23 1 24 1 2 1-16 1 7 1-4 1-6 1-2 1 5 1 18 1-21 1 19 1 32 1-19 1-4 1-7 1-20 1 39 1 4 1-12 1-7 1 12 1-8 1 23 1-11 1 12 1-19 1-5 1-10 1 36 1-20 1 35 1-14 1 2 1-22 1 35 1 0 1 13 1-22 1 10 1 4 1 6 1 5 1-7 1 5 1 5 1 12 1-4 1-7 1-5 1-1 1 18 1-21 1 0 1 16 1-5 1 5 1 11M106 15l1-3 1-7 1 16 1-5 1-5 1-3 1 12 1 20 1-18 1 9 1-11 1-3 1 21 1-7 1-13 1 25 1-12 1 14 1 2 1-12 1-7 1 25 1 10 1-18 1-19 1 14 1 12 1-24 1 13 1 0 1 6 1 30 1-19 1 19 1-15 1 0 1 0 1 4 1 17 1-2 1-2 1 5 1-23 1 8 1-7 1 10 1 22 1-21 1 2 1 6 1-7 1 18 1 9 1 10 1-11 1 7 1 8 1-17 1 2 1 13 1-1 1-1 1 4 1-5 1-3 1 17 1-7 1-2 1 22 1-5 1 15 1-20 1 24 1 13 1-29 1 1 1-1 1 3 1 9 1 9 1-8 1 15 1-18 1 12 1 18 1 7 1 8 1 1 1-3 1-35 1 15 1 4 1 9 1 9M106 -15l1 14 1 18 1 4 1-16 1 22 1-5 1 13 1-39 1 29 1-1 1 4 1-4 1-2 1 6 1-8 1-10 1 33 1-10 1-3 1 25 1-14 1 3 1 10 1-9 1 8 1-9 1 23 1-9 1 19 1-8 1 8 1-16 1 1 1 18 1 2 1-10 1 12 1-7 1 11 1-12 1 20 1-12 1 13 1-7 1 7 1 3 1 4 1 15 1 8 1-12 1-17 1 16 1-9 1 30 1-12 1 0 1 9 1-7 1 16 1-1 1-17 1 27 1-12 1 19 1-32 1 48 1-23 1 4 1 21 1-20 1 23 1-29 1 41 1 4 1-7 1-25 1 28 1 0 1-6 1-2 1 8 1 0 1 12 1 15 1-11 1 12 1-4 1-4 1 12 1-1 1 11 1 21 1-45 1 30M106 -7l1 19 1 13 1-23 1 10 1-12 1 12 1 13 1-23 1 5 1-9 1 19 1 3 1-9 1 12 1-22 1 21 1-5 1-13 1 1 1 7 1 17 1 6 1-7 1 10 1-11 1-8 1 23 1-8 1-16 1 9 1 15 1 3 1-6 1-13 1 13 1 18 1-8 1 7 1-24 1 8 1 10 1 1 1-4 1-16 1 24 1-1 1-8 1 19 1 19 1-24 1-2 1 14 1 15 1-21 1-2 1-1 1 30 1-12 1 1 1-8 1-5 1 1 1 21 1 9 1-29 1 26 1-35 1-5 1 26 1 10 1 7 1-15 1-3 1 27 1-49 1 44 1-3 1-17 1 9 1 30 1-56 1 31 1-11 1 20 1 4 1 2 1 6 1 5 1-3 1-21 1 8 1 25 1-17 1 18M106 22l1-12 1 0 1 5 1 0 1 3 1-16 1 8 1-3 1 4 1 6 1 1 1-3 1-2 1-1 1 8 1-6 1 3 1 18 1 3 1-13 1-1 1-13 1 21 1 6 1-3 1 1 1 17 1-2 1-10 1 27 1-3 1 12 1-21 1-4 1 6 1 3 1-7 1 22 1-15 1-15 1 34 1-6 1 8 1-9 1-15 1 46 1-10 1-6 1 7 1 16 1-10 1-4 1 5 1-14 1 22 1-2 1 11 1-12 1 3 1-12 1 20 1 3 1 0 1 23 1-2 1-6 1-10 1 17 1 47 1-48 1 4 1 14 1-18 1 20 1-21 1 21 1 5 1 3 1 13 1-10 1 0 1 16 1-10 1 14 1-13 1 12 1-5 1 8 1-3 1 8 1-32 1 55 1-29 1 20M106 27l1 10 1-23 1 7 1 10 1-13 1 28 1-14 1 0 1-7 1 16 1-13 1-14 1 16 1-10 1 12 1 6 1-6 1 1 1-15 1 12 1 25 1-27 1-9 1 21 1 18 1-4 1-8 1 2 1-3 1 9 1 0 1-2 1-18 1 16 1-1 1-3 1 16 1 1 1-8 1 17 1-8 1-3 1 16 1 0 1 21 1-14 1-4 1-1 1-8 1-10 1 18 1-2 1 10 1 10 1-9 1 11 1 23 1-29 1-1 1 23 1-1 1 8 1-28 1-8 1 41 1-1 1-14 1-29 1 57 1-3 1-4 1-36 1 27 1-11 1 14 1 19 1-19 1-10 1-1 1 23 1-16 1 9 1-1 1-2 1 3 1-6 1 40 1-11 1-9 1 35 1-24 1 13 1-8 1-8M106 20l1-22 1 9 1-4 1 9 1-1 1-9 1 14 1-10 1 16 1-3 1-2 1 4 1 3 1 8 1 1 1 1 1-4 1-6 1 7 1-7 1-1 1 9 1 4 1-14 1 18 1-4 1-2 1 2 1 3 1 17 1-31 1 25 1-22 1 24 1-10 1-10 1 31 1-30 1 11 1-2 1 11 1-11 1 21 1 11 1 4 1 0 1-21 1 6 1 9 1-2 1-4 1-21 1 23 1 14 1-5 1 32 1-69 1 23 1 5 1 30 1 8 1-29 1 16 1 9 1-2 1 1 1-11 1-2 1-4 1 4 1 27 1-10 1 0 1-7 1 17 1 15 1-28 1 37 1-11 1-40 1 40 1 3 1 17 1-19 1-29 1 11 1 5 1 30 1-20 1-2 1 25 1 9 1-31 1 24M106 29l1 1 1-5 1-13 1 31 1-14 1-6 1-3 1 11 1-10 1 6 1 15 1-5 1-17 1 17 1-5 1-4 1 0 1 3 1 13 1 14 1-15 1 20 1-23 1 8 1 22 1-14 1 4 1 2 1-8 1 35 1-24 1 12 1-2 1 7 1 9 1-43 1 12 1-6 1 17 1 10 1 8 1-7 1 15 1 4 1-5 1-12 1 9 1 7 1 14 1-9 1 9 1-23 1-12 1 39 1 3 1-12 1 10 1 15 1 3 1 11 1-4 1-10 1 13 1 22 1-2 1-30 1 18 1 18 1-15 1 8 1 12 1-11 1 5 1-8 1-5 1 9 1 18 1-9 1 7 1 30 1-36 1 26 1-18 1 19 1 6 1 9 1-26 1 9 1 10 1-1 1-35 1 48 1-20 1 20M106 8l1 29 1-20 1-10 1 13 1-24 1 28 1 3 1-17 1 3 1-15 1 24 1 6 1-22 1 22 1-18 1 30 1-40 1 22 1 15 1-23 1 6 1 10 1-1 1-6 1 1 1 5 1 2 1-1 1 17 1-7 1 5 1 2 1-20 1 3 1 37 1-46 1 18 1 17 1-8 1 0 1 25 1-32 1 28 1-30 1 0 1 17 1 8 1 28 1-23 1 0 1 7 1-7 1-7 1 4 1 15 1-11 1-12 1 12 1-12 1 42 1-39 1 32 1-10 1 22 1 8 1-26 1 15 1-4 1-22 1 42 1-8 1 0 1 4 1-5 1-12 1 16 1-19 1 48 1-45 1 33 1-22 1 12 1 8 1-19 1 16 1-39 1 43 1 18 1-20 1-6 1 2 1-24 1 18 1 28M106 16l1 1 1 7 1 16 1-20 1 4 1 5 1 4 1-2 1-16 1-2 1 20 1 11 1 14 1-15 1-16 1 10 1-11 1 17 1 17 1-9 1 24 1-25 1 6 1 5 1 3 1-1 1 4 1 9 1-15 1 9 1 7 1-7 1-5 1 18 1 3 1-11 1 0 1-12 1 13 1 21 1-28 1 27 1 7 1-5 1 0 1 23 1-4 1-16 1 28 1 12 1-29 1 1 1 8 1 15 1-3 1 0 1-7 1 26 1-7 1 5 1 1 1 7 1-21 1 17 1 10 1 6 1 5 1 10 1-11 1 15 1 1 1-1 1-4 1 1 1 7 1 14 1-18 1 2 1 21 1 0 1 13 1 7 1-8 1-24 1 38 1-4 1 7 1 0 1-4 1 10 1-21 1 5 1 19 1 24M106 16l1 3 1 9 1 1 1-8 1-2 1 13 1-5 1-6 1 4 1-7 1 13 1 9 1-32 1 21 1-8 1 10 1 1 1-6 1 15 1-14 1 6 1-4 1 8 1 16 1-8 1 20 1-15 1-3 1 21 1-6 1 6 1-2 1 13 1-4 1 6 1-22 1 19 1 5 1-8 1 16 1-11 1-2 1 11 1-18 1-2 1 17 1-22 1 41 1-17 1 28 1-15 1-8 1 4 1 16 1 7 1-12 1-11 1 20 1 7 1 4 1-22 1 11 1 18 1 17 1-21 1-12 1 24 1-45 1 44 1-6 1 31 1-26 1-7 1 51 1-26 1-2 1-6 1-2 1-8 1 33 1-17 1 24 1-2 1 9 1-14 1 9 1-8 1 7 1-6 1-17 1 37 1-18 1 52 1-29M106 12l1-1 1-11 1 11 1 0 1-6 1 3 1 6 1-2 1 7 1 5 1 5 1-25 1 8 1 9 1 0 1-9 1 7 1 1 1 4 1 6 1-11 1-14 1 17 1 2 1 2 1 13 1-20 1 18 1 14 1-30 1 12 1 3 1 9 1 0 1-12 1 39 1-33 1 7 1 5 1-2 1-1 1-6 1 4 1 3 1 19 1-31 1 13 1 2 1-4 1 21 1-12 1-2 1 1 1 20 1-4 1-11 1 13 1-2 1 18 1-30 1-9 1 20 1-2 1 0 1 11 1 6 1 1 1 1 1-10 1 32 1-25 1-7 1 15 1 8 1-28 1 34 1-3 1-1 1-1 1 25 1 4 1-40 1 12 1-1 1 8 1-10 1-2 1 13 1 2 1 19 1 1 1-1 1 0 1 17M106 14l1-15 1 17 1-14 1 5 1-2 1 15 1-14 1 10 1 7 1 0 1-5 1-11 1 19 1-14 1 18 1-10 1 15 1-11 1 3 1-11 1 14 1 13 1-10 1 4 1-13 1 28 1-28 1 31 1-20 1-21 1 30 1-2 1-7 1-3 1 19 1-2 1 0 1 19 1-14 1-3 1-12 1 16 1 12 1 1 1 2 1-7 1 10 1-28 1 22 1 33 1-18 1-4 1 8 1 15 1-20 1 8 1 7 1-9 1 11 1-16 1 40 1-31 1 8 1 21 1 9 1-15 1-4 1 9 1-41 1 32 1 19 1-18 1 26 1-2 1-16 1 9 1 5 1 10 1-19 1-17 1 26 1 37 1-46 1 17 1-6 1 12 1 26 1-9 1-37 1 21 1 4 1 0 1-2 1-8M106 12l1-7 1 2 1 22 1-21 1 10 1 1 1-13 1 24 1-29 1 8 1 9 1 12 1 4 1-24 1 8 1-12 1 3 1 32 1-11 1 2 1-16 1 13 1-24 1 27 1 3 1 17 1-18 1 4 1 6 1 20 1-11 1-1 1-17 1 9 1-3 1-7 1 21 1-12 1 12 1-14 1 14 1-23 1 22 1 19 1-20 1-3 1 14 1-8 1 5 1 10 1-9 1-1 1-15 1 7 1 9 1 17 1 3 1-1 1-7 1 9 1 1 1 20 1-19 1-7 1 7 1 13 1 3 1-17 1 21 1-14 1 32 1-23 1-3 1-19 1 47 1-28 1 14 1-5 1-22 1 30 1-3 1 4 1-4 1 5 1 22 1-10 1 10 1-16 1 4 1-6 1 18 1-7 1 0 1 3M106 2l1 26 1-11 1 12 1 9 1-16 1 3 1-4 1 7 1 6 1-11 1 3 1-5 1-6 1 25 1-2 1 7 1-26 1 17 1 3 1 10 1-9 1-7 1 8 1 13 1-16 1 6 1 0 1 5 1 4 1-15 1 35 1-33 1 2 1 12 1 14 1 3 1 11 1-19 1-8 1-4 1 9 1 10 1-3 1-24 1 27 1 7 1-13 1 2 1-2 1 27 1 10 1-6 1-18 1 3 1 30 1 5 1-9 1-13 1-17 1 29 1 13 1-17 1-9 1 15 1 2 1-5 1 3 1-21 1 26 1-20 1 16 1 1 1 10 1 17 1-23 1 16 1-18 1 19 1-1 1 0 1-2 1 0 1-11 1 7 1-3 1 33 1-17 1 27 1-1 1-10 1 21 1-19 1-19 1 19M106 -4l1 22 1-13 1 19 1-8 1 14 1-4 1-12 1 19 1-16 1 7 1 11 1-9 1 10 1 1 1-3 1-10 1-11 1 10 1 2 1 24 1-12 1 3 1-4 1-13 1 12 1 13 1 10 1 8 1-6 1 5 1-18 1 17 1 0 1-21 1 17 1 0 1 19 1-14 1-15 1 18 1 28 1-40 1 16 1 8 1-3 1 7 1-15 1 9 1 3 1 9 1-11 1-6 1 31 1 7 1-5 1-4 1 11 1-12 1 10 1-16 1-2 1 14 1 9 1 5 1 5 1-20 1 25 1 9 1-16 1-2 1 0 1 17 1-18 1 32 1-8 1-8 1 15 1 8 1-14 1-9 1 12 1-3 1 21 1 2 1 15 1-16 1 8 1-29 1 6 1 4 1-22 1 48 1-32 1 61M106 4l1 16 1-20 1 11 1-6 1 8 1-5 1-13 1 10 1 1 1 14 1-22 1 38 1-30 1 14 1 1 1 1 1-16 1 20 1-21 1 15 1 0 1-7 1 24 1-33 1 35 1-16 1-9 1 20 1 1 1-14 1 12 1 22 1-19 1 0 1 33 1-27 1 2 1 1 1-6 1-6 1 21 1 2 1-9 1-9 1 10 1 11 1 8 1-23 1 10 1 9 1 3 1-3 1-3 1 17 1-3 1-21 1 55 1-23 1-24 1 9 1-15 1 10 1 1 1 9 1 20 1-10 1-3 1 5 1-5 1 11 1 8 1 16 1-23 1-12 1 25 1-22 1 2 1 16 1 17 1-29 1 35 1-21 1 17 1-15 1-1 1 16 1-17 1 7 1 22 1-11 1 4 1-27 1 21 1 0M106 10l1 0 1 7 1 0 1-19 1 18 1 17 1-2 1 1 1-4 1 0 1-8 1 14 1 15 1-19 1 13 1 9 1-25 1 15 1-5 1 2 1-4 1 11 1-10 1-3 1 31 1-15 1-12 1 17 1 14 1-1 1-4 1-11 1 27 1-10 1-3 1 5 1-5 1 13 1-17 1 12 1-1 1-10 1 21 1-11 1 6 1 24 1-14 1 8 1-15 1 19 1-21 1 7 1 6 1 19 1-18 1 10 1 7 1-26 1 47 1-9 1-21 1 5 1 25 1 0 1-6 1-15 1 29 1 5 1-35 1 21 1 21 1-31 1 15 1 16 1-26 1 20 1-27 1 41 1 10 1-16 1 1 1 3 1 6 1-10 1 13 1 8 1-5 1 7 1-5 1 12 1-19 1 9 1 7 1 30M106 12l1-2 1-5 1 4 1 17 1-24 1 30 1-17 1 9 1 1 1-4 1 12 1-8 1 7 1 22 1-25 1 21 1-25 1 39 1-47 1 25 1-17 1 21 1 1 1-12 1 19 1 13 1-6 1-7 1 20 1 7 1-25 1 17 1-16 1 8 1 17 1 3 1 6 1-13 1 19 1 13 1-13 1 7 1-8 1 12 1 15 1-17 1-9 1 10 1 10 1-8 1 31 1-42 1 26 1 5 1 10 1 4 1-12 1 9 1-10 1 2 1 15 1 0 1 9 1-8 1-9 1 31 1 6 1-9 1 13 1-18 1 26 1-22 1 22 1-2 1 16 1-3 1 5 1-6 1 21 1 8 1-30 1 14 1 7 1 1 1-12 1 10 1-2 1 0 1 10 1 13 1-10 1-7 1 15 1 3M106 28l1-40 1 66 1-17 1-28 1 16 1-12 1 35 1-34 1 23 1-9 1 9 1-5 1-15 1-3 1 20 1 0 1-3 1 21 1-13 1-4 1 30 1-19 1-4 1-2 1 2 1-2 1 2 1 1 1-2 1 1 1 20 1-23 1 24 1 13 1-17 1 8 1 17 1-5 1-18 1 13 1 0 1 18 1 12 1-28 1 17 1 4 1 0 1-30 1 12 1 4 1 3 1-4 1 27 1-2 1-4 1-27 1 44 1-31 1 33 1-11 1 17 1-13 1 11 1-10 1 21 1 1 1-5 1 23 1-27 1-32 1 76 1 3 1-21 1-17 1 10 1-27 1 16 1 12 1 10 1-5 1 20 1-1 1-2 1-12 1 15 1 16 1-12 1 20 1-18 1 15 1-22 1 2 1 13 1 33M106 12l1 5 1-2 1-5 1 0 1 11 1 10 1-3 1-22 1-5 1 13 1 15 1 4 1-16 1-9 1 3 1 17 1-8 1 30 1-31 1-19 1 55 1-12 1-28 1 3 1-2 1 27 1-11 1 9 1-20 1 12 1 22 1-29 1 5 1 28 1-16 1 2 1-10 1 9 1-13 1 43 1-19 1 4 1-11 1-2 1 10 1-9 1 10 1-4 1 18 1-13 1 20 1 7 1-19 1 3 1 7 1-14 1 22 1 8 1-34 1 33 1-8 1-4 1 5 1-2 1 17 1-13 1 29 1-16 1 14 1-24 1 10 1 23 1-20 1-4 1 35 1-41 1 33 1-14 1 28 1-15 1-8 1 32 1-31 1 49 1-29 1-5 1 0 1 7 1-6 1 12 1-5 1-6 1 21 1-11M106 -10l1 13 1-4 1 8 1 7 1 6 1-13 1 6 1-5 1 10 1 8 1 6 1-25 1 20 1-11 1 3 1-23 1 37 1-22 1 5 1 6 1 26 1-36 1 3 1-5 1 15 1-1 1 15 1-4 1-8 1 11 1-2 1 6 1-1 1 4 1-1 1 7 1-27 1 24 1 0 1-5 1 12 1-13 1-16 1 14 1 18 1 6 1-7 1-11 1 16 1 4 1-2 1-3 1 5 1-9 1 14 1-5 1 11 1-8 1-26 1 28 1 14 1-7 1 18 1-26 1 28 1-10 1 17 1-4 1-32 1 10 1 21 1 7 1 1 1-24 1 20 1-10 1 28 1-4 1-21 1 36 1-27 1 3 1 6 1-29 1 44 1-5 1-10 1 26 1-35 1 37 1-23 1 26 1-35 1 3M106 8l1-4 1 11 1 11 1-16 1 21 1-6 1-2 1 9 1-15 1 18 1-14 1 3 1 18 1-17 1-19 1 30 1-13 1 7 1 20 1-33 1 32 1 2 1 12 1-30 1-6 1 24 1 8 1-16 1 18 1-25 1 26 1-21 1 7 1 14 1 4 1 10 1 2 1-6 1 29 1-28 1-15 1 40 1-3 1-6 1 3 1-10 1 23 1 3 1 9 1-32 1 15 1-12 1 23 1 4 1 7 1 0 1 4 1-1 1-8 1 3 1 21 1-36 1 18 1-21 1 43 1 4 1 9 1-10 1 0 1 18 1-1 1-9 1-3 1 33 1-23 1 9 1-34 1 40 1 19 1-12 1-37 1 25 1 24 1-8 1 0 1 4 1-8 1 6 1 31 1-25 1 14 1 19 1-4 1 10M106 25l1-19 1 16 1-31 1 22 1 9 1 3 1-17 1 16 1 4 1 5 1-4 1 4 1 0 1-1 1 6 1-5 1-12 1 14 1 15 1-18 1-6 1-2 1 23 1-13 1 10 1-26 1 15 1 32 1 0 1 4 1-27 1 6 1 9 1 13 1-18 1 8 1 3 1-5 1 3 1 8 1-16 1 28 1-9 1-8 1 27 1-18 1 23 1 2 1-7 1-7 1 13 1-11 1 14 1-8 1-19 1 18 1 16 1-9 1 10 1-16 1-10 1 39 1 7 1-6 1-21 1 4 1 13 1-15 1 12 1 16 1 10 1 25 1-36 1-11 1 13 1 21 1-34 1 27 1-7 1 34 1-8 1-8 1-10 1 12 1-4 1 27 1-12 1 9 1-27 1 27 1-6 1 21 1-37 1 18M106 26l1-27 1 7 1-1 1-1 1 17 1-8 1 18 1-9 1 7 1-10 1 7 1-13 1 3 1 9 1 2 1 10 1-6 1-4 1 11 1-22 1-6 1 24 1 12 1-13 1 14 1 3 1-3 1 30 1-30 1 6 1-6 1 17 1-11 1-5 1 7 1-4 1 13 1 2 1 2 1-3 1-8 1 19 1-4 1-11 1 13 1 7 1 6 1-7 1 7 1-12 1-9 1 19 1 5 1-8 1 6 1 12 1 9 1 19 1-40 1 19 1-6 1 10 1-12 1 25 1-3 1 11 1 1 1-8 1 8 1 11 1-15 1-10 1 5 1 9 1 3 1-18 1 57 1-19 1 5 1-2 1 1 1-3 1-11 1 11 1-5 1 20 1 10 1-21 1 9 1 9 1-8 1 17 1-21 1-1M106 11l1 8 1-9 1 4 1 10 1 16 1-17 1 2 1 3 1-2 1-5 1-12 1 19 1 12 1-23 1 29 1-11 1-11 1-9 1 22 1-10 1 6 1 14 1 6 1-9 1-17 1 10 1 5 1 24 1-14 1-8 1-11 1 7 1 23 1-17 1 15 1-5 1 21 1-20 1-4 1 9 1 14 1-9 1-6 1 6 1-12 1 19 1 1 1-6 1-3 1 31 1-21 1 6 1 28 1-23 1-3 1 12 1 22 1-22 1 4 1-3 1 2 1-1 1-4 1 7 1 7 1-3 1 31 1-3 1-35 1 28 1 1 1-12 1 13 1 25 1-25 1 19 1-11 1 2 1-9 1 22 1-5 1-11 1 10 1 5 1 5 1 3 1-11 1 11 1 15 1-19 1 34 1-40 1-1 1 34M106 1l1 24 1 5 1-10 1 6 1-13 1-1 1 8 1 1 1 12 1-15 1-3 1 10 1 5 1-34 1 34 1-26 1 27 1-8 1 7 1-22 1 25 1 2 1-23 1 19 1 24 1-4 1-14 1-3 1 10 1-1 1-3 1 9 1 10 1-12 1-2 1 13 1 7 1 2 1 4 1-5 1 26 1-31 1 11 1-13 1 16 1-20 1 2 1 21 1 5 1 6 1-28 1 31 1-12 1 42 1-42 1 0 1 13 1 19 1-17 1-5 1 2 1 8 1-17 1 51 1-18 1-8 1 2 1 5 1-3 1 10 1-9 1 6 1-11 1 35 1-17 1 0 1 14 1-25 1 26 1 5 1-5 1-28 1 46 1 0 1-21 1 35 1-32 1 6 1 31 1-3 1-13 1 13 1-15 1-3M106 26l1-8 1 27 1-19 1-12 1 14 1-1 1-22 1 5 1 28 1-26 1 13 1 14 1 4 1-17 1-23 1 28 1 9 1-10 1-16 1 15 1 18 1-1 1-13 1 11 1-6 1 10 1-13 1 12 1-8 1 24 1-18 1 9 1-10 1-12 1 23 1-11 1 26 1 5 1-15 1-6 1 22 1-12 1 16 1 3 1-12 1 25 1-14 1 6 1-6 1-11 1 16 1-4 1 18 1-20 1 13 1 7 1 16 1-26 1 10 1-10 1 0 1 8 1 22 1 1 1-11 1-8 1 26 1-9 1 4 1 3 1 13 1-8 1-6 1-2 1 5 1 1 1-7 1 2 1 37 1-6 1-21 1 10 1-2 1 13 1-10 1 7 1 6 1 15 1-18 1 5 1-14 1 5 1 13 1-9M106 -2l1-2 1 5 1-6 1 13 1 6 1 8 1-9 1-8 1 12 1-23 1-10 1 42 1-16 1-13 1 30 1 2 1-10 1-10 1 30 1-28 1 3 1-1 1 6 1-18 1 13 1 12 1 17 1-23 1 1 1 7 1 8 1 5 1-18 1-13 1-9 1 47 1-12 1 7 1 1 1-1 1 17 1-17 1 13 1-23 1 14 1-11 1 1 1-11 1 21 1 0 1 16 1-19 1-3 1 3 1-2 1 23 1 0 1-34 1 38 1-19 1 17 1-20 1 33 1-36 1 11 1 17 1-18 1 22 1-20 1 23 1 10 1-46 1 43 1-2 1-19 1 16 1 0 1 30 1-30 1 13 1-13 1 9 1 5 1-9 1 17 1-16 1 3 1 0 1 2 1 14 1 3 1-33 1 11 1 16M106 11l1 14 1-22 1-3 1-5 1 8 1-3 1 9 1 4 1-19 1 26 1-1 1-15 1 24 1 7 1-24 1 15 1-10 1 2 1 5 1-16 1 21 1-6 1 4 1 2 1-3 1 24 1-12 1 17 1-27 1 9 1-3 1 4 1 13 1 7 1 19 1-29 1 14 1-4 1-3 1 3 1 0 1 32 1-19 1 7 1-13 1 15 1-5 1-3 1 7 1-7 1 29 1-20 1-1 1-2 1 3 1 4 1-12 1 16 1 18 1 14 1-7 1 1 1 8 1-25 1 30 1-3 1-4 1-4 1 12 1 5 1-28 1 27 1 6 1 2 1-19 1 8 1 0 1 22 1 26 1-23 1 6 1-26 1 11 1 19 1-8 1-2 1 3 1 6 1 14 1 0 1 10 1-11 1 26 1-62M106 13l1-7 1 4 1 11 1 7 1-16 1 14 1-14 1 14 1-3 1 12 1-3 1 10 1-20 1-32 1 51 1-2 1-6 1-4 1-5 1 14 1 8 1 5 1-15 1-7 1 24 1 8 1-9 1-24 1 38 1-32 1 29 1-37 1 18 1 18 1-6 1 9 1 5 1 9 1-1 1-28 1 15 1 32 1-26 1-16 1 34 1-10 1 2 1 20 1-1 1-10 1 19 1-16 1 3 1 12 1-13 1 7 1 8 1-3 1-6 1 33 1-22 1 15 1-18 1 13 1-12 1 32 1-18 1 3 1 42 1-58 1 22 1 1 1 4 1 5 1-16 1 5 1 22 1-14 1 14 1-1 1 16 1 1 1 3 1-35 1 32 1-4 1 17 1-9 1 16 1-34 1 48 1-24 1 5 1-6M106 11l1 17 1 3 1-2 1-5 1-7 1-4 1-5 1 11 1 14 1-24 1 16 1-3 1-7 1 8 1 1 1-14 1-3 1-1 1 40 1-5 1-15 1 20 1-6 1-6 1 18 1-25 1-4 1 10 1 4 1 25 1 1 1-29 1 16 1 18 1 2 1-28 1 30 1-8 1-1 1 10 1-21 1 17 1-8 1 11 1-6 1 12 1 14 1-16 1-3 1 0 1 5 1 1 1 16 1-14 1-12 1 22 1 4 1 5 1 0 1-11 1 10 1 13 1 3 1-27 1 31 1-22 1 11 1 16 1 0 1-3 1 2 1 6 1-17 1 13 1 3 1 4 1-8 1 43 1-25 1 13 1-15 1 9 1-4 1 1 1 6 1-8 1 18 1 11 1-28 1 2 1-6 1 30 1 11 1-7M106 15l1 4 1-1 1-22 1-4 1 16 1-12 1 40 1-29 1 26 1-7 1-10 1 1 1 12 1 6 1-22 1 6 1-10 1 22 1-14 1 9 1-4 1-4 1 14 1-1 1 21 1-15 1-21 1 35 1-14 1 9 1 8 1-31 1 6 1-1 1 25 1-9 1 16 1 2 1-16 1 7 1 17 1 10 1 1 1-17 1 10 1 4 1 2 1-13 1 16 1-14 1-6 1 46 1-45 1 7 1 10 1-3 1 15 1-10 1-8 1 20 1-13 1 10 1-5 1-5 1 31 1-4 1-10 1 6 1-15 1 4 1 16 1 15 1-19 1 5 1-13 1 25 1-14 1 2 1-7 1 22 1 27 1-9 1-30 1 45 1-28 1 15 1 0 1 32 1-50 1 27 1-6 1-5 1 16 1-22"/>
<path class="tn so" stroke="#f58322" d="M106 16l1-8 1-11 1 7 1 13 1-11 1 5 1 8 1 4 1-12 1 2 1-5 1 5 1 10 1-3 1-10 1 17 1-13 1-1 1 2 1-8 1 31 1-35 1 21 1 5 1-15 1 23 1 3 1-2 1-10 1 16 1-36 1 44 1-14 1 1 1-5 1 13 1-16 1 9 1 4 1 8 1-27 1 22 1 1 1 11 1-17 1-4 1 12 1 2 1-6 1 4 1 16 1-7 1 6 1-22 1 14 1-12 1 26 1 4 1 20 1-25 1-8 1 26 1-2 1-31 1 10 1-11 1 4 1-5 1 9 1 25 1 0 1 6 1-27 1 19 1 0 1-11 1 24 1 4 1-13 1 11 1-9 1 17 1 1 1-29 1 9 1 22 1-7 1 21 1-24 1-6 1 20 1-11 1-15 1 12M106 12l1 3 1 3 1 3 1-9 1 15 1-8 1-8 1 17 1 7 1-26 1 19 1 13 1-12 1-24 1 22 1 12 1 0 1-11 1 2 1-4 1-4 1 2 1 15 1-7 1-10 1-6 1 14 1 23 1-33 1 23 1-36 1 51 1 5 1-8 1 2 1-2 1-5 1 9 1-25 1 17 1-7 1 20 1 6 1 4 1-3 1-9 1 13 1 1 1-8 1 2 1-5 1-9 1 24 1-7 1 6 1-3 1 15 1-34 1 19 1 13 1 3 1-14 1 13 1-9 1-6 1 4 1 6 1 18 1-26 1 2 1 2 1-9 1 18 1-20 1 40 1-8 1-25 1 22 1-9 1 14 1 4 1-4 1-25 1 52 1-11 1-10 1-18 1 17 1-22 1 38 1-5 1-4 1 11 1 21M106 9l1-23 1 44 1-9 1 3 1-8 1 22 1-16 1-6 1 14 1-10 1-10 1 13 1 20 1-36 1 14 1 1 1 0 1 10 1 2 1-21 1 24 1 8 1-26 1-6 1 17 1-3 1 2 1 0 1-7 1 24 1 3 1-23 1 16 1 5 1 0 1-16 1-1 1 37 1-40 1 11 1 7 1 7 1-16 1 8 1 23 1 1 1-15 1-8 1 0 1 17 1-19 1 24 1-18 1-6 1 2 1 34 1-27 1 8 1 1 1-16 1 21 1 3 1 9 1-19 1 1 1 10 1 6 1 7 1-31 1 12 1 18 1-3 1 22 1-10 1-31 1 42 1-21 1 2 1 3 1-13 1 35 1-30 1-1 1 19 1 2 1 12 1-30 1 20 1-3 1-12 1 3 1 36 1-36 1 19M106 16l1-30 1 20 1 23 1-19 1 5 1-20 1 14 1-7 1 20 1-14 1-2 1 7 1-17 1 16 1-4 1 7 1 2 1 1 1 5 1-1 1-17 1-16 1 41 1-1 1 1 1-9 1 16 1-24 1-1 1 46 1-39 1 13 1 0 1 5 1-8 1 9 1 6 1-23 1-16 1 36 1-32 1 32 1-4 1 14 1-10 1 13 1-18 1-17 1 32 1-1 1-7 1 8 1-7 1-15 1 5 1 15 1 22 1-17 1-43 1 31 1-15 1 10 1-9 1 25 1-1 1-1 1 5 1-6 1 7 1 18 1-19 1-10 1 25 1-24 1 36 1-19 1 9 1-15 1 25 1-22 1-6 1 8 1 1 1 5 1 7 1 5 1-5 1-1 1-6 1-13 1 16 1 16 1-8 1 9M106 4l1 1 1-13 1 14 1 14 1-13 1 38 1-23 1-4 1 17 1-1 1 8 1-15 1 1 1 9 1 9 1-5 1-4 1-12 1-4 1 26 1-14 1 8 1-16 1 31 1-1 1-10 1 9 1-22 1 1 1-5 1 35 1-12 1 3 1 4 1-6 1-9 1-23 1 35 1 8 1-7 1-13 1 10 1 19 1-7 1-17 1 18 1 22 1-31 1-6 1 18 1-2 1 19 1-23 1-6 1 20 1-15 1 20 1-24 1 12 1-1 1 13 1 22 1-4 1-34 1 41 1-46 1 43 1-26 1 10 1 6 1-1 1-27 1 53 1-12 1-3 1-26 1 19 1-10 1 23 1-11 1 33 1-30 1 10 1 4 1-13 1 13 1-12 1 7 1-14 1 19 1-4 1 22 1-18 1-2M106 1l1-19 1 16 1 10 1-9 1 2 1 14 1-13 1 17 1 0 1-3 1-18 1 24 1-22 1 1 1 8 1-7 1 25 1-24 1 15 1 9 1 3 1 3 1-10 1 14 1 5 1-10 1 8 1-7 1-4 1 5 1-14 1 16 1-21 1 29 1-8 1 13 1-23 1 7 1-2 1-4 1 9 1 6 1-18 1 21 1-14 1 10 1 1 1 12 1-11 1 21 1-38 1 32 1 2 1 0 1 8 1-43 1 38 1-1 1-3 1-2 1-23 1 33 1 16 1-18 1-7 1-11 1 35 1-18 1-2 1-5 1 2 1 14 1-7 1 14 1-15 1-12 1 24 1 17 1-6 1-11 1 2 1 7 1-22 1 0 1 34 1-24 1 20 1 1 1 16 1-4 1-17 1-26 1 27 1 8M106 -2l1 15 1 17 1-24 1 8 1 0 1 6 1 12 1-26 1 18 1 4 1-9 1 4 1 11 1 22 1-25 1-6 1-2 1 31 1-15 1-24 1 40 1-32 1 17 1-21 1 13 1-14 1 27 1-9 1-4 1 17 1-18 1 13 1 2 1-10 1 17 1-16 1 1 1-4 1 8 1 11 1-8 1 5 1 1 1 5 1-11 1 16 1 3 1-24 1 27 1-17 1-13 1 19 1 5 1 3 1 1 1-3 1 16 1-31 1 17 1-25 1 41 1 6 1-36 1-1 1 27 1-22 1 15 1 23 1-14 1 16 1-25 1 4 1 18 1-37 1 33 1-11 1 16 1-24 1 16 1-31 1 43 1 1 1-17 1 15 1-10 1 6 1 11 1-23 1 8 1 26 1-21 1-3 1 8 1-17M106 -2l1 14 1 21 1-14 1-30 1 19 1-6 1 12 1-5 1-6 1 9 1-6 1 10 1-2 1 0 1-25 1 32 1-14 1-5 1 36 1-7 1-20 1 9 1 1 1-14 1 7 1 5 1 17 1-21 1 5 1 19 1-30 1 40 1 0 1-36 1 30 1-27 1 13 1 13 1-20 1 11 1 1 1-14 1 6 1 7 1-2 1 20 1 17 1-26 1-3 1-16 1 22 1-6 1-13 1-5 1 37 1-18 1 41 1-23 1 0 1-32 1 7 1 23 1-5 1 27 1-45 1 19 1 5 1-2 1 17 1 7 1-3 1-25 1-19 1 42 1-22 1 24 1-13 1 6 1 16 1 1 1-25 1-7 1 35 1-26 1 16 1-20 1 18 1-4 1 16 1 11 1-12 1-4 1 4 1-16M106 8l1-7 1 11 1-2 1 2 1 11 1-11 1 6 1-8 1 21 1-7 1 21 1-19 1-16 1-3 1 11 1 9 1-2 1-2 1 8 1 2 1 6 1 11 1-35 1 8 1 14 1-10 1-10 1 30 1-22 1-6 1 23 1 14 1-18 1-28 1 34 1 12 1 14 1-2 1-7 1-20 1 5 1 5 1-5 1 5 1 5 1-8 1-3 1 8 1 1 1-10 1 0 1 12 1-14 1 30 1-9 1 16 1-28 1 7 1-15 1 10 1 14 1 3 1-24 1 7 1 12 1-3 1 12 1-14 1 8 1-15 1 36 1-12 1 3 1 3 1-3 1 7 1 7 1-7 1 8 1 7 1-23 1 24 1-36 1 22 1 4 1 9 1-10 1 0 1-4 1 11 1 7 1-14 1 27 1-22M106 6l1-4 1 9 1-9 1 13 1 4 1 3 1-7 1-9 1 15 1 6 1 3 1-2 1-16 1 8 1 10 1-1 1-5 1 1 1 2 1 16 1-22 1 36 1-20 1 13 1-8 1 17 1-17 1-36 1 29 1 28 1-29 1-1 1-11 1 33 1 18 1-30 1-7 1 28 1-8 1-11 1-1 1 21 1-9 1-8 1 0 1 7 1-17 1 39 1-12 1 9 1-4 1-4 1 16 1-28 1-3 1 17 1-2 1 41 1-35 1 6 1 1 1 15 1-13 1 12 1-7 1 8 1-5 1-4 1 8 1 11 1-6 1-13 1 20 1-18 1 5 1 9 1 5 1 5 1 1 1-17 1 22 1-10 1-11 1 26 1-5 1 5 1-10 1 22 1-4 1 24 1-5 1-24 1 2 1 12M106 5l1-5 1 8 1 32 1-11 1-20 1 17 1-8 1 1 1-8 1 12 1-2 1-10 1 17 1-17 1-9 1 6 1 20 1-17 1 3 1 5 1-26 1 36 1-4 1 7 1 0 1-15 1 10 1 0 1 3 1-18 1 29 1-15 1 17 1-40 1 17 1 13 1 7 1 5 1 5 1-19 1 13 1-6 1-9 1-5 1 8 1 14 1-1 1 19 1-19 1 7 1-17 1 10 1 26 1-13 1-1 1 2 1-27 1 37 1-2 1-9 1 5 1 1 1-5 1 15 1-19 1 7 1 6 1 2 1-2 1-11 1 7 1 14 1-8 1 9 1-14 1 10 1 3 1-1 1 15 1-17 1 9 1-4 1 4 1-9 1 15 1-19 1 14 1 12 1-7 1 9 1-7 1-3 1 11 1-3M106 -6l1 7 1 11 1-24 1 18 1 16 1-27 1 6 1 3 1 0 1 6 1-7 1 14 1-24 1 30 1-5 1 15 1-28 1 10 1 17 1 16 1-7 1-26 1 8 1-9 1-9 1 8 1 14 1-16 1 11 1 4 1-4 1 13 1-35 1 30 1 6 1 4 1-9 1-1 1 4 1-7 1 9 1 5 1-10 1 25 1-16 1 12 1-31 1 19 1 23 1-21 1 2 1 19 1-19 1-1 1 8 1-11 1 6 1-1 1-5 1 25 1-14 1 8 1 2 1 8 1 1 1-15 1 0 1 10 1-15 1 22 1 0 1-25 1 53 1-32 1 14 1-33 1 25 1 4 1 14 1-25 1 26 1-26 1 7 1 21 1-22 1-12 1 13 1 6 1 13 1 7 1-11 1 23 1-41 1 11M106 -3l1 18 1 3 1-8 1 1 1 0 1-11 1 23 1-11 1 12 1 6 1-15 1 6 1 16 1-11 1-6 1-10 1-3 1 28 1-21 1 15 1 14 1-2 1-18 1 27 1-43 1 27 1 4 1 1 1 4 1-1 1-3 1 0 1-3 1 1 1 22 1 0 1-22 1 9 1-21 1 19 1 4 1-2 1 16 1-4 1-7 1-5 1 9 1 29 1-42 1 15 1 17 1-13 1-5 1 1 1 17 1 9 1-46 1 37 1-7 1 20 1-6 1 4 1-4 1-6 1-10 1 10 1 8 1 19 1-17 1-15 1 18 1 9 1 8 1-2 1-16 1 2 1-23 1 22 1-15 1 22 1 18 1-9 1-22 1 30 1-2 1-24 1 11 1 21 1-6 1 5 1-25 1 23 1 11 1-17M106 6l1 5 1-16 1 17 1-5 1 26 1-22 1 3 1-7 1 6 1-9 1 8 1-2 1-12 1 6 1 11 1 11 1-14 1 2 1 0 1-5 1 13 1 18 1-18 1-4 1 13 1 10 1 2 1-9 1 10 1-25 1 5 1 6 1 16 1-32 1 24 1-4 1 21 1-23 1 18 1-5 1 5 1 7 1-4 1-5 1-1 1-8 1 1 1 17 1-21 1 12 1-20 1 28 1 6 1-8 1-7 1 9 1 7 1-22 1 26 1-17 1 26 1-10 1-2 1-1 1-8 1 15 1-13 1 18 1-9 1-4 1 2 1 16 1 17 1-41 1 34 1-6 1-29 1 22 1-11 1 6 1 9 1 17 1-25 1 38 1-20 1 8 1-2 1-20 1 9 1 10 1 10 1-29 1 17 1 22M106 -8l1 8 1 1 1 37 1-23 1 20 1-5 1-18 1-5 1 18 1 24 1-29 1 23 1-32 1 30 1-23 1 2 1 10 1 7 1-13 1 17 1-6 1-17 1 16 1 3 1 1 1-12 1 30 1-13 1 5 1-3 1-7 1-10 1 29 1-18 1 13 1 3 1-7 1-3 1 2 1-9 1 26 1-14 1 11 1 17 1-30 1 23 1-15 1 11 1-25 1 29 1-33 1 14 1 10 1 21 1-9 1-28 1 37 1 2 1-36 1-9 1 26 1 0 1 4 1-2 1 0 1-9 1 10 1 5 1-18 1 33 1 11 1-5 1-21 1 9 1-6 1 2 1 18 1-34 1 24 1 33 1-28 1 19 1-3 1-17 1 0 1 25 1-3 1-3 1-22 1 13 1 1 1 0 1 6 1-5M106 -14l1 23 1-7 1-7 1 6 1-8 1 25 1-7 1 4 1 15 1-25 1 16 1-10 1 8 1 4 1-7 1 24 1-19 1-18 1 17 1-12 1 5 1-9 1 26 1-29 1 19 1 17 1-12 1-9 1 16 1-8 1-3 1 20 1 2 1 8 1-3 1-9 1 10 1-10 1 3 1 15 1-19 1-9 1 14 1 27 1-18 1 0 1 7 1-23 1 7 1 18 1-11 1-9 1 2 1 20 1-13 1 10 1-11 1 9 1-13 1 16 1 17 1-12 1 4 1-13 1 20 1-13 1 6 1-2 1 19 1 8 1-22 1 20 1-9 1 17 1-24 1-1 1 19 1-28 1 36 1 2 1-10 1-5 1-9 1 13 1 15 1 2 1 4 1-17 1 26 1-20 1 16 1-10 1 6 1 3M106 10l1 1 1-2 1 0 1 25 1-34 1 20 1-12 1 7 1 13 1-17 1 11 1-1 1 17 1-6 1 2 1-15 1 17 1 16 1-33 1 9 1 6 1 5 1-1 1-5 1-11 1 7 1 6 1-10 1 24 1-17 1 21 1-29 1 19 1-13 1 0 1 18 1 11 1-20 1 18 1-11 1 3 1 0 1 6 1 6 1-9 1 5 1 2 1 8 1-3 1-10 1 15 1-4 1 0 1-14 1 8 1 5 1 0 1-9 1 29 1-25 1 21 1-10 1-16 1 38 1-6 1-15 1 21 1-9 1-11 1 12 1 10 1-11 1 11 1-10 1-3 1-8 1 21 1 17 1-22 1-9 1 11 1 8 1 15 1-16 1 8 1-4 1-9 1 8 1 0 1-3 1 8 1 4 1-17 1 45M106 4l1 1 1 4 1-2 1 15 1-33 1 20 1-5 1 15 1-8 1 17 1-21 1 29 1-8 1 21 1-17 1 5 1-2 1-34 1 37 1-16 1-2 1 35 1-9 1-9 1 16 1-24 1 24 1-7 1-7 1 21 1-10 1-17 1-4 1 1 1 9 1 30 1-21 1 11 1-8 1 7 1 5 1 14 1 10 1-34 1 2 1 11 1 19 1-26 1 19 1-8 1 1 1-4 1 24 1-23 1-1 1-15 1 33 1-28 1-4 1 29 1 9 1 22 1-35 1-6 1 26 1-16 1-3 1 3 1-11 1 46 1-13 1-16 1 23 1-5 1 2 1 3 1-7 1-2 1 20 1 23 1-24 1-4 1 18 1-5 1-6 1 28 1-29 1-2 1-6 1 26 1-13 1 12 1 13 1-45M106 -8l1 1 1 12 1-6 1 24 1 2 1-14 1-3 1-6 1 10 1-12 1 10 1 10 1-13 1 8 1-6 1 3 1 12 1-2 1-2 1-11 1 16 1-33 1 30 1-4 1 4 1 8 1-4 1-5 1-6 1 8 1 5 1 12 1-17 1-15 1 3 1 28 1-22 1 8 1 12 1-18 1 26 1-1 1 5 1-8 1 8 1-10 1-11 1 10 1 17 1-9 1-22 1 18 1 4 1-20 1-8 1 29 1 10 1-13 1-19 1 12 1-4 1 20 1-15 1 21 1-16 1 19 1-3 1-15 1 40 1-32 1-13 1 23 1-34 1 38 1-5 1 8 1-5 1-20 1 0 1 26 1-6 1 3 1 0 1-19 1 4 1 37 1-13 1-24 1 23 1-13 1-19 1 22 1 18 1-1M106 6l1-1 1-7 1-2 1 2 1 11 1 8 1-9 1-4 1 3 1 21 1-17 1 4 1-13 1 13 1-20 1-3 1 23 1 3 1-3 1 17 1-3 1-12 1-8 1 1 1 13 1-10 1-14 1 33 1 14 1-24 1 17 1 14 1-27 1 2 1 19 1-19 1 12 1-27 1 17 1-6 1 9 1-6 1-12 1 17 1-25 1 43 1-1 1-12 1-18 1 8 1 35 1-13 1-11 1 2 1 11 1-8 1 13 1-22 1 15 1-2 1-18 1 19 1-7 1 1 1-6 1 23 1-4 1 0 1-4 1 19 1-17 1-5 1 11 1 8 1-2 1-1 1-1 1 6 1-9 1-14 1-7 1 12 1 17 1 4 1 0 1-8 1 5 1 16 1-16 1 3 1-18 1 11 1 2 1-21M106 29l1-12 1 10 1-28 1 18 1-2 1-16 1 21 1 12 1-18 1 12 1-12 1 18 1 2 1-23 1 6 1 18 1-1 1-3 1-13 1 24 1-13 1-8 1 28 1-7 1-9 1 1 1 8 1-1 1 2 1-5 1 0 1 17 1-9 1 6 1-2 1 16 1-14 1 16 1 4 1-29 1 6 1 0 1 12 1 1 1-3 1 21 1-21 1-11 1 12 1 21 1-16 1 10 1-8 1-14 1 19 1-3 1 41 1-38 1-13 1 29 1-2 1-14 1 11 1 6 1-6 1-1 1-17 1 25 1-16 1 25 1-13 1 30 1-16 1 5 1-21 1 10 1-11 1-2 1 5 1 7 1-4 1 23 1 1 1 8 1-5 1-2 1-6 1 5 1 0 1 6 1 7 1-6 1 12 1-4M106 24l1-19 1 20 1-9 1 7 1-13 1-8 1 16 1-9 1-7 1 18 1 1 1 0 1-10 1 21 1-6 1-18 1 19 1-15 1 17 1 9 1 16 1-28 1-2 1 24 1-12 1-2 1-11 1 3 1 7 1 16 1 4 1-4 1-7 1 23 1-16 1-10 1 5 1 5 1 8 1-22 1 20 1-19 1 7 1-4 1 15 1 5 1 1 1 7 1 3 1 9 1-29 1 14 1-18 1 41 1-33 1 16 1-18 1 8 1 23 1-18 1 13 1-9 1-2 1 10 1 10 1 10 1-35 1 30 1 6 1-18 1 10 1-13 1-2 1 22 1-10 1 11 1 2 1-4 1-10 1 44 1-47 1 26 1-2 1-14 1 19 1-10 1-1 1-23 1 23 1 4 1 23 1-26 1 19 1-30M106 15l1-3 1 12 1-15 1-4 1 8 1-11 1 28 1-15 1-10 1-7 1 34 1 0 1-14 1 4 1-21 1 31 1-9 1 8 1 5 1-1 1-15 1 10 1 6 1-36 1 28 1 16 1 0 1-21 1 4 1 20 1-21 1 6 1 4 1 14 1-9 1-2 1 4 1-11 1-2 1 31 1-17 1-10 1 7 1 5 1 24 1-24 1 13 1 10 1-12 1 0 1-5 1-16 1 13 1-1 1 13 1-8 1 4 1 15 1 8 1-26 1 17 1-3 1-9 1 11 1-13 1 14 1 0 1-19 1 28 1-7 1 11 1-5 1 6 1-10 1 5 1 8 1-3 1 5 1-5 1 15 1-7 1-7 1 12 1-12 1-8 1 23 1-6 1-2 1 24 1-6 1-4 1 3 1-7 1 6M106 7l1 29 1-22 1-2 1 8 1-13 1 7 1-13 1 7 1 17 1-10 1 0 1 11 1 5 1 2 1-15 1 6 1 12 1 5 1-17 1 8 1-7 1 14 1-29 1 15 1 18 1-27 1 4 1 5 1 10 1-6 1 0 1 19 1-23 1 22 1-5 1-10 1 10 1-10 1 18 1-15 1 25 1 3 1-27 1 17 1 2 1-7 1 11 1-18 1-10 1 8 1 38 1-29 1-5 1 21 1-16 1-5 1 37 1-35 1 38 1-9 1-7 1-6 1-15 1 18 1-2 1-7 1 30 1-23 1 15 1-9 1 12 1-13 1 8 1-5 1 10 1 4 1-17 1 25 1-1 1-23 1 31 1-24 1-3 1 12 1 3 1 9 1-11 1 18 1-3 1-7 1 11 1-14 1 22 1 20M106 31l1-4 1-26 1 11 1 0 1 2 1 6 1-7 1 7 1-14 1 6 1-2 1 16 1-14 1 6 1 8 1 10 1-6 1 4 1 4 1-25 1 14 1 21 1-14 1 23 1-13 1-24 1-25 1 37 1 34 1-24 1 5 1-14 1 2 1 24 1 7 1-19 1 14 1-13 1-22 1-1 1 24 1 17 1-20 1-10 1 21 1-4 1 0 1 4 1 0 1 8 1-3 1 2 1 3 1 8 1-6 1-2 1 12 1-21 1 10 1 3 1-2 1 9 1-4 1 16 1-9 1-16 1 4 1 36 1-15 1-19 1 24 1-20 1-6 1 5 1 19 1 10 1 2 1-15 1-3 1 7 1 2 1-7 1 14 1-13 1 32 1-5 1-20 1-5 1 16 1-7 1 18 1 3 1-27 1 17M106 0l1 2 1-7 1-3 1 30 1-6 1-8 1 21 1-16 1 14 1-13 1 2 1-5 1-3 1 20 1 18 1-32 1-3 1 11 1 16 1-10 1-29 1 24 1-4 1 8 1 4 1-6 1 12 1 2 1 7 1-22 1 16 1 1 1 6 1-15 1 25 1-22 1 21 1 1 1 9 1-32 1 4 1 4 1 19 1 7 1-15 1 13 1-8 1-5 1 1 1-1 1-1 1 14 1-2 1 3 1-7 1-6 1 11 1 1 1 8 1-1 1 26 1-30 1 33 1-28 1 6 1 18 1-18 1-13 1 11 1 14 1-1 1 10 1 7 1-26 1 16 1-8 1-2 1 13 1 40 1-33 1-13 1 23 1-23 1 15 1-20 1 17 1 7 1-17 1 11 1 7 1-4 1 21 1-7 1-5M106 14l1-11 1 20 1 6 1 13 1-33 1 35 1-31 1-3 1 4 1 5 1 0 1 3 1-3 1 11 1-6 1-9 1 8 1-10 1 26 1-7 1-19 1 3 1 13 1-3 1-16 1 19 1-5 1-4 1-2 1 30 1-5 1 8 1-1 1-3 1 0 1 12 1 6 1-27 1 7 1 8 1 4 1 8 1-4 1-7 1-4 1 9 1 13 1-36 1 6 1 24 1-43 1 38 1-16 1 23 1 4 1-11 1 5 1-13 1 28 1 11 1-8 1-24 1-16 1 44 1-29 1 25 1-38 1 9 1 22 1-9 1 17 1-14 1 5 1 30 1-31 1 8 1 4 1 4 1-12 1 24 1-8 1 0 1 10 1-18 1 19 1-15 1-15 1 33 1-3 1-22 1 14 1 3 1 12 1-2M106 39l1-20 1 9 1-5 1-4 1 5 1 3 1 8 1-11 1 10 1-11 1 6 1-6 1-11 1 19 1 9 1 3 1-23 1 27 1-26 1 21 1-15 1-7 1 10 1 20 1-28 1 4 1 18 1-26 1 30 1 7 1-2 1 2 1-9 1 17 1-22 1 6 1 16 1-5 1 17 1-20 1 12 1-3 1 1 1-20 1 25 1-27 1 13 1 16 1-7 1 8 1 4 1-14 1 13 1 9 1-14 1-8 1 28 1-10 1-1 1 5 1 20 1 7 1-29 1 33 1-41 1 21 1-5 1 3 1-9 1 22 1-18 1 11 1 9 1-2 1 9 1 1 1-6 1 5 1 2 1 9 1-17 1 1 1 7 1-9 1 14 1-11 1-3 1 23 1-3 1-15 1 8 1-1 1 33 1-18M106 6l1 12 1-6 1-2 1 3 1 9 1-1 1 7 1-29 1 20 1-6 1 12 1-13 1 12 1 6 1-20 1 12 1-10 1 13 1-20 1 7 1 28 1-7 1-6 1-8 1 0 1 2 1 3 1 1 1 6 1 1 1 4 1-9 1 24 1-21 1 2 1 7 1 15 1-17 1 3 1-6 1 35 1-24 1-14 1 23 1-3 1 0 1-2 1 0 1-1 1-2 1-12 1 24 1-9 1 18 1 0 1-12 1-6 1-21 1 36 1-2 1 0 1-8 1-2 1 28 1-27 1 24 1-7 1-13 1 37 1-35 1 10 1-2 1 8 1-10 1 19 1-8 1-10 1 22 1-15 1 33 1-35 1 20 1 2 1 10 1 6 1-34 1 2 1 4 1 11 1 37 1-39 1 21 1-12 1-7M106 -8l1 10 1 2 1 13 1-14 1 4 1 9 1 4 1-7 1-10 1 19 1 0 1-18 1 9 1 11 1-3 1-1 1-17 1 25 1-6 1-6 1-3 1 0 1 14 1-5 1 11 1-28 1 33 1-10 1-2 1 16 1 5 1-25 1-3 1 7 1 6 1 6 1-1 1 2 1-6 1 9 1 4 1-3 1-1 1-5 1 34 1-6 1-24 1 24 1-28 1 22 1-13 1 6 1 17 1-16 1 10 1-23 1 26 1 4 1 20 1-21 1-15 1 9 1-5 1-6 1 25 1-26 1 7 1 20 1-14 1 9 1-1 1 7 1 5 1-2 1-22 1 18 1-3 1 1 1 11 1-1 1 5 1-5 1-4 1 25 1-10 1 4 1-26 1 4 1 20 1-4 1 19 1 4 1-7 1-3M106 5l1 2 1 12 1 3 1-1 1-6 1 2 1-7 1 19 1-31 1 14 1 4 1 3 1-22 1 25 1-20 1 12 1 3 1 4 1-7 1-3 1 11 1 12 1-5 1-2 1 7 1-2 1-14 1 19 1 7 1 10 1-43 1 56 1-20 1-15 1 6 1 0 1-9 1 29 1-18 1-12 1 10 1 18 1-13 1 23 1-24 1 3 1-15 1 0 1 8 1 6 1 0 1 1 1 19 1-29 1 15 1 6 1 2 1-2 1 11 1-19 1 29 1-8 1-7 1 1 1 0 1-4 1 22 1-4 1 3 1-21 1 14 1 22 1-40 1 27 1-4 1 6 1 0 1-1 1 21 1-25 1 3 1 11 1-34 1 25 1 10 1-10 1-1 1 26 1-25 1 10 1 3 1 4 1 14 1-3M106 19l1-15 1 3 1 2 1 1 1-11 1 8 1 5 1-13 1 13 1 2 1 8 1 5 1 5 1 15 1-29 1-3 1 12 1-6 1-3 1 7 1-2 1-6 1-3 1 2 1 5 1 18 1-1 1 1 1-14 1-2 1 35 1-16 1-8 1-5 1 19 1-10 1 2 1-7 1 7 1 0 1 13 1 12 1-2 1-54 1 47 1 4 1-20 1 10 1-4 1-8 1 3 1 1 1-1 1 36 1-26 1 3 1 5 1 5 1 5 1-15 1-2 1 18 1 15 1-7 1 11 1-21 1 0 1 16 1-17 1 7 1-13 1 19 1 10 1-32 1 11 1 32 1-16 1-10 1 18 1-29 1 15 1 7 1-3 1 14 1-11 1-6 1 21 1 0 1 2 1 0 1 8 1-6 1 7 1-19M106 9l1 0 1 11 1-4 1-7 1 27 1-25 1 18 1-3 1-12 1 1 1 20 1-2 1-9 1-16 1 15 1-4 1-9 1-5 1 37 1-24 1 9 1-4 1 28 1-2 1 2 1-24 1 23 1-26 1 12 1 8 1-21 1 16 1 10 1-10 1 3 1 4 1 3 1-12 1 8 1-10 1 1 1 16 1 15 1-8 1-12 1-12 1 18 1 15 1-25 1 9 1 9 1-12 1 8 1 14 1-8 1 3 1-4 1 8 1 2 1-13 1-6 1 19 1 7 1-9 1-12 1 2 1 6 1-3 1 30 1-9 1-17 1 14 1 15 1-35 1 10 1 8 1 0 1 10 1-17 1 26 1-6 1-5 1 1 1-2 1 5 1 11 1-17 1 20 1-5 1-1 1-1 1 3 1-11 1 15M106 8l1-7 1-10 1 8 1-8 1-2 1 25 1 24 1-24 1-16 1 27 1-34 1 27 1-4 1-2 1-19 1 24 1-6 1 6 1-21 1 20 1 5 1-10 1-3 1 6 1 5 1 2 1-10 1 20 1-16 1 7 1-11 1 13 1-10 1-17 1 24 1 10 1-25 1-3 1 21 1-14 1 5 1-1 1 0 1-3 1 10 1-2 1 5 1-8 1 23 1-13 1-8 1 7 1 9 1 9 1-20 1 10 1 1 1 10 1-20 1-3 1 11 1 6 1-7 1-2 1 17 1-32 1 5 1 2 1 22 1-4 1 6 1-26 1 1 1 41 1-6 1-29 1 23 1 9 1 5 1-19 1-8 1-12 1 18 1 6 1 15 1-27 1 18 1 8 1 0 1-4 1 30 1-31 1-9 1 38M106 -2l1 30 1-15 1-9 1-3 1 45 1-26 1-16 1 24 1-3 1 10 1-8 1 9 1-23 1 31 1-18 1 4 1-3 1 9 1 4 1 11 1-21 1 17 1 11 1-24 1 15 1-13 1-7 1 26 1-13 1 11 1 1 1 5 1-13 1-12 1 6 1 13 1-4 1 17 1 3 1-12 1 25 1-17 1 9 1-9 1-3 1 13 1 17 1-37 1 23 1 23 1-45 1 9 1-4 1 18 1 0 1 1 1 10 1 9 1-24 1 19 1 9 1 5 1-9 1-1 1-7 1 13 1 12 1 2 1 1 1-2 1-13 1 2 1-3 1-13 1 13 1-6 1 20 1-7 1 19 1-2 1-8 1 16 1-9 1-10 1 8 1 8 1-6 1 11 1-17 1 52 1-30 1 3 1 10 1-22M106 15l1 0 1 16 1-12 1-3 1 5 1 13 1-34 1 15 1 32 1-12 1-18 1 14 1-1 1 16 1-5 1-10 1 21 1-21 1 14 1-7 1 9 1 7 1-12 1 18 1-6 1-16 1 19 1 2 1-13 1 7 1 10 1 1 1-17 1-25 1 47 1-15 1-9 1 9 1-1 1 9 1-1 1 12 1-4 1-6 1 10 1-12 1 25 1-21 1 6 1-7 1 13 1-6 1 17 1-9 1-7 1-14 1 24 1 8 1-4 1-7 1-12 1 26 1-10 1 11 1 7 1-8 1 27 1-23 1 7 1 5 1 5 1-18 1 16 1-9 1-10 1 19 1 7 1-19 1 19 1 8 1-16 1-9 1 21 1 6 1-13 1-10 1 16 1-9 1 10 1 22 1-4 1 7 1-13 1-6M106 13l1-4 1 10 1-15 1 22 1-34 1 28 1-11 1 15 1-2 1 11 1-23 1 0 1 16 1-12 1 15 1-11 1 8 1 3 1-10 1 2 1-10 1 3 1 5 1 19 1 13 1-34 1 28 1-13 1-8 1 12 1 3 1 2 1 8 1-30 1 18 1 21 1-19 1 15 1-31 1 20 1-6 1-10 1 11 1 10 1 5 1-8 1-5 1-12 1 24 1 14 1-1 1-1 1-20 1 32 1-22 1-18 1 14 1 3 1 1 1 5 1 11 1 1 1-17 1-8 1 12 1-9 1 34 1-16 1-3 1 8 1-6 1 34 1-37 1-11 1 18 1 7 1-14 1 7 1-20 1 37 1 16 1-27 1-3 1 19 1-12 1 28 1-22 1-7 1 22 1-15 1 14 1 7 1-43 1 54M106 -2l1 16 1 3 1-9 1-3 1-6 1 29 1-11 1-12 1 35 1-16 1 6 1-10 1-2 1-27 1 30 1-4 1 19 1-20 1 28 1-7 1-19 1-21 1 25 1-12 1 31 1-7 1-17 1 25 1-11 1 13 1-16 1 22 1-8 1 2 1-7 1 14 1-1 1-24 1 35 1-4 1-20 1 16 1-14 1 17 1-8 1 10 1-14 1 18 1 12 1-25 1-2 1-9 1 12 1 16 1-16 1-7 1-11 1 33 1-11 1-2 1 23 1-7 1-15 1 9 1 8 1-7 1 8 1 13 1-1 1-24 1 2 1-1 1 10 1 15 1-11 1-5 1-3 1 39 1-2 1-25 1 5 1-1 1-4 1 12 1-10 1 9 1 13 1-12 1 10 1 5 1-9 1 7 1 13 1-7M106 9l1-9 1 16 1-9 1 0 1 5 1 12 1-4 1-1 1-12 1 6 1 10 1-15 1 3 1 1 1 11 1-1 1-2 1 17 1-18 1-12 1 6 1 15 1 12 1-20 1-9 1 32 1-21 1-6 1 15 1 19 1-21 1-3 1 7 1 7 1 8 1 0 1 14 1-15 1-10 1 6 1 6 1-1 1-2 1-13 1-1 1 21 1 3 1-21 1 38 1 0 1-14 1-7 1 33 1-15 1-32 1 40 1-10 1-2 1 10 1-26 1 29 1-13 1-6 1 19 1-13 1 9 1 5 1-11 1 15 1-10 1 5 1-9 1 20 1-8 1 1 1 11 1-6 1-10 1 3 1 9 1 10 1-3 1-3 1 8 1-14 1-6 1 20 1-31 1 28 1-25 1 27 1-13 1-12 1 22M106 10l1-10 1 5 1-10 1 12 1 0 1 3 1 9 1-6 1 11 1-1 1-21 1 36 1-13 1 4 1-4 1 11 1-15 1 8 1-10 1 17 1-5 1 3 1 11 1-4 1 4 1-4 1-22 1 9 1 6 1 20 1 4 1-29 1-5 1 27 1 11 1-6 1-14 1 15 1-8 1 3 1-3 1 4 1 2 1 2 1 4 1 13 1-22 1 4 1 1 1 19 1-13 1 1 1-14 1 34 1-16 1 16 1-12 1 12 1-31 1 18 1 2 1 24 1-14 1 7 1-10 1 3 1 18 1 3 1-18 1 9 1 11 1-36 1 35 1-18 1 1 1 3 1 23 1-20 1 6 1 2 1-1 1 42 1-52 1 25 1-6 1 10 1-10 1 20 1 5 1-11 1-4 1-8 1 24 1-7"/>
<path class="tn so" stroke="#74b3e6" d="M106 11l1-11 1 25 1-26 1-2 1 9 1 20 1-3 1 1 1-6 1-8 1 9 1 41 1-26 1 2 1 6 1-19 1 32 1-19 1-6 1 16 1-17 1 17 1-3 1 11 1-17 1 2 1 12 1 16 1-16 1 10 1-6 1 32 1-15 1-4 1 3 1 21 1-25 1 8 1-21 1 19 1 6 1 26 1-38 1 7 1 7 1-9 1 37 1-29 1 10 1-1 1-18 1 28 1-11 1-5 1 19 1-4 1-10 1 20 1-12 1 6 1 0 1-6 1 4 1-15 1 23 1 23 1-32 1 11 1-3 1 7 1-11 1 3 1 10 1-3 1 24 1-19 1-2 1 1 1 4 1-17 1 27 1-19 1 1 1 4 1 9 1-14 1 12 1-12 1 18 1 8 1-21 1-9 1 1 1 3M106 22l1-5 1-16 1 15 1 13 1-4 1 24 1-43 1 23 1 13 1-4 1-2 1 2 1-9 1 13 1-4 1 4 1 25 1-19 1-2 1-17 1 20 1 10 1-3 1-6 1 9 1 1 1-10 1 5 1-6 1 16 1-2 1-9 1 6 1 7 1-17 1 6 1 20 1-4 1-14 1 14 1 13 1-27 1 15 1-3 1 2 1 5 1 0 1-1 1 24 1-9 1 4 1 2 1-13 1 10 1-11 1-3 1-3 1 12 1-1 1 15 1-7 1-8 1 8 1-9 1 15 1 4 1 4 1 1 1-14 1 6 1-14 1 1 1 10 1-6 1 8 1 3 1 2 1-30 1 37 1-5 1 19 1-35 1 3 1 1 1 28 1-21 1 12 1-6 1 22 1-1 1-6 1-11 1-13 1 13M106 16l1 5 1-8 1 10 1-14 1-5 1 4 1-20 1 55 1-27 1-11 1 25 1-7 1-8 1 12 1 17 1-27 1 9 1 2 1-5 1 9 1-1 1 22 1-13 1 2 1-3 1-5 1 20 1-16 1 0 1 4 1 7 1-10 1 0 1 5 1-4 1 15 1-13 1 19 1 2 1 0 1-10 1-2 1 0 1-5 1-3 1 9 1-11 1 17 1-19 1 21 1 3 1 2 1-14 1-2 1 25 1 2 1-25 1 12 1 29 1-11 1-14 1 12 1-15 1 6 1 6 1-11 1 15 1-16 1-2 1 8 1 1 1-2 1 8 1 2 1 9 1-20 1 23 1-19 1-1 1 8 1-9 1 16 1-15 1 16 1-2 1 12 1 8 1-26 1 5 1-5 1 17 1-4 1-18 1 22M106 8l1 2 1-1 1-3 1-3 1 0 1 17 1-7 1-2 1 4 1-2 1 6 1 7 1-35 1 34 1 11 1-10 1 0 1 1 1 11 1-5 1 0 1 3 1 15 1-26 1 18 1-6 1-10 1 12 1 16 1-19 1 1 1-2 1 44 1-44 1 23 1-3 1 23 1-8 1-4 1-1 1-5 1 16 1-13 1 16 1-30 1 32 1-4 1 0 1-8 1-17 1 31 1-6 1 7 1-21 1 7 1 13 1 25 1-36 1 18 1-14 1 19 1-7 1 9 1-25 1 31 1-5 1-15 1 22 1-28 1 15 1 1 1-12 1 14 1 2 1 13 1-5 1-9 1-7 1 7 1 6 1-20 1 7 1 19 1 10 1-16 1-6 1 12 1-5 1-15 1 1 1 25 1-11 1 0 1 7M106 15l1 11 1-3 1 14 1-19 1-15 1 21 1 5 1-10 1 17 1-5 1-12 1 4 1-15 1 7 1 18 1-25 1 35 1-13 1-2 1 13 1 8 1-9 1 2 1 0 1 27 1-21 1 5 1-6 1-6 1-7 1 27 1-20 1 21 1-21 1-6 1 21 1 2 1-8 1 4 1 2 1-4 1 5 1-13 1 5 1 4 1 19 1 7 1-29 1 31 1-2 1-7 1 7 1 8 1-14 1-5 1-3 1 10 1 0 1 0 1 0 1 9 1-11 1 13 1-12 1 10 1-10 1 8 1-9 1-1 1 13 1-17 1 21 1-14 1 12 1-8 1-13 1 24 1 15 1 1 1-16 1-4 1-7 1 19 1-7 1-12 1 4 1 3 1-4 1-20 1 32 1 5 1-4 1 9 1-16M106 24l1-24 1 10 1 12 1 0 1-20 1-5 1 3 1 12 1-2 1-2 1 11 1 11 1-20 1 19 1-17 1 9 1-10 1-7 1 26 1 7 1-12 1-4 1 1 1 15 1-32 1 17 1 25 1-20 1 0 1-8 1 36 1-10 1 3 1-8 1-21 1 25 1 12 1-10 1-11 1 12 1-13 1 6 1-3 1-11 1 11 1 39 1-43 1 11 1-10 1 21 1-26 1 26 1-2 1 8 1 0 1-27 1 22 1-4 1 8 1-21 1 19 1 10 1-30 1 45 1-17 1 4 1-14 1 4 1-2 1 20 1-27 1 10 1 21 1-2 1-35 1 4 1 13 1-10 1 10 1 1 1-23 1 12 1 10 1 2 1-19 1 12 1-16 1 19 1 25 1-16 1-20 1 18 1-9 1 1M106 0l1 0 1 9 1-1 1 13 1-12 1-11 1 25 1 6 1-13 1 0 1 10 1 10 1-9 1-26 1 13 1-7 1 13 1-21 1 37 1-10 1-17 1 22 1-5 1-5 1-5 1 11 1 3 1-10 1 9 1-8 1 16 1-11 1 19 1-18 1 16 1 7 1-17 1-7 1-1 1 3 1-2 1 17 1-23 1 5 1 54 1-38 1 0 1 19 1-2 1-26 1 27 1-13 1-6 1 3 1-11 1 7 1 22 1-8 1-9 1-3 1 15 1 8 1-5 1 3 1-22 1 14 1-27 1 29 1-6 1 17 1-5 1-17 1 11 1 3 1 4 1 6 1 11 1-22 1 5 1 1 1-14 1-1 1-11 1 0 1 20 1 7 1-3 1 5 1-21 1 22 1 8 1 6 1-14 1 11M106 1l1 15 1 9 1-19 1 5 1-2 1-4 1 0 1 32 1-35 1 17 1-10 1 23 1-13 1 10 1-18 1-3 1 19 1 9 1-23 1 9 1 5 1 5 1-8 1 5 1-3 1 33 1-35 1 13 1-15 1 14 1-24 1 12 1 19 1 0 1-1 1-19 1 24 1-21 1 12 1 1 1 18 1-17 1-17 1 11 1 20 1-5 1 3 1 5 1-9 1-4 1-17 1 21 1 7 1 0 1-1 1-7 1-2 1 6 1-13 1 14 1 8 1 12 1-32 1 0 1-5 1 31 1-10 1 9 1-13 1 3 1 1 1-6 1 28 1-28 1 22 1-18 1 14 1 4 1-1 1-9 1-6 1 8 1-5 1-11 1-18 1 39 1-22 1 23 1-33 1 8 1-2 1 2 1-1 1 36M106 26l1 4 1-5 1 16 1-11 1 7 1-11 1 6 1-23 1 28 1-8 1 7 1 7 1-1 1-18 1 16 1-5 1-7 1 19 1 9 1-13 1 0 1-5 1 12 1-2 1-1 1-7 1 22 1-14 1 3 1 5 1 12 1-18 1 8 1-4 1 10 1 4 1-12 1-3 1 21 1-22 1 27 1-11 1 21 1-30 1 24 1-13 1-18 1 34 1 17 1-16 1-25 1 19 1 19 1-10 1-13 1-8 1 23 1-16 1 26 1-16 1-4 1 7 1 8 1 9 1-18 1 4 1 29 1-24 1-16 1 9 1 0 1-15 1 2 1 24 1-12 1-7 1 10 1-11 1 15 1-42 1 35 1 3 1-3 1 24 1-31 1 13 1 3 1 13 1-11 1-2 1 10 1-20 1 9 1 7M106 10l1 1 1 7 1-11 1-1 1 27 1-16 1 3 1-14 1 12 1-11 1 10 1 0 1-10 1 9 1 2 1-2 1 14 1-11 1 6 1-3 1-4 1 4 1 15 1-4 1-22 1 29 1-17 1 15 1 0 1 19 1-19 1-1 1 0 1 9 1 5 1 7 1-42 1 24 1 20 1-15 1-24 1 27 1 16 1 0 1-2 1 0 1-14 1 0 1 11 1 12 1-15 1 2 1-13 1 12 1-22 1 28 1-3 1-8 1 9 1-1 1-16 1 8 1 12 1 12 1 0 1-18 1 3 1 7 1 18 1-37 1 26 1-22 1 3 1 24 1-7 1-19 1 14 1 13 1-13 1-2 1-5 1 5 1 15 1-8 1 23 1-24 1 2 1-20 1 20 1-33 1 41 1-22 1 10 1 17M106 18l1 7 1-14 1 17 1 3 1-15 1 12 1 12 1-14 1 6 1-1 1 25 1-15 1-11 1 8 1 0 1-13 1 15 1-2 1-2 1 6 1-3 1 14 1 4 1 7 1-7 1-9 1-5 1 24 1-21 1 4 1 4 1-5 1-9 1 33 1-9 1 15 1-12 1 14 1-19 1 6 1-12 1 15 1-13 1 10 1 16 1-10 1 12 1-11 1 4 1-21 1 34 1-17 1 25 1-25 1 6 1 0 1-2 1-2 1 0 1 34 1-8 1-7 1-9 1-3 1 0 1 10 1-13 1 9 1 10 1-4 1 7 1-9 1-15 1 8 1 9 1 9 1-15 1 11 1 34 1-35 1 3 1 7 1-11 1 3 1 0 1 4 1 22 1-12 1-5 1 2 1 4 1 15 1-26 1-5M106 8l1 10 1-15 1 6 1 19 1-27 1-5 1 18 1 1 1 10 1-16 1 29 1-23 1 8 1 6 1-6 1-8 1 5 1 8 1-6 1 9 1-1 1 7 1-17 1 18 1-8 1-1 1-8 1 10 1 13 1-8 1-9 1 14 1-3 1-9 1 6 1-5 1 8 1 4 1-12 1 28 1-7 1 17 1-25 1 25 1-13 1 4 1-12 1-13 1 23 1 6 1-20 1 18 1-3 1-26 1 34 1 9 1-47 1 41 1-14 1-9 1-4 1 7 1 14 1 3 1 6 1 0 1-15 1 5 1 21 1-20 1 7 1-5 1 30 1-33 1 6 1-15 1 22 1-14 1 25 1-20 1 4 1 18 1-7 1-26 1 22 1-17 1 5 1 30 1-16 1-11 1 15 1-30 1 26 1-30M106 3l1 1 1 16 1-2 1-3 1-5 1-9 1 26 1-2 1 0 1-9 1 14 1-18 1 17 1 23 1-28 1-5 1 19 1 16 1-21 1-7 1-1 1-7 1 25 1 19 1-21 1-17 1 35 1-10 1 21 1-5 1-24 1 22 1 5 1-9 1-17 1 22 1 5 1 8 1-31 1 6 1 20 1-18 1 29 1-19 1 14 1 18 1-19 1 11 1-13 1 15 1-7 1-4 1 10 1-1 1 14 1-10 1-2 1-15 1 20 1-7 1 19 1-36 1 31 1-15 1 30 1-45 1 7 1 11 1 0 1 22 1-12 1-11 1 14 1 23 1-26 1-2 1 26 1-36 1 18 1 2 1-20 1 22 1 12 1-36 1 21 1 19 1-15 1-5 1 11 1 1 1 8 1-18 1 14 1 3M106 3l1 20 1-10 1-3 1-10 1-6 1-2 1 38 1-22 1 9 1-6 1 9 1 6 1-15 1 22 1-5 1-8 1-12 1 29 1 9 1-3 1-6 1-1 1-3 1 10 1-17 1 28 1-4 1-6 1-6 1-23 1 37 1-6 1 16 1-16 1 14 1-9 1 8 1-6 1-1 1-5 1 1 1 22 1-12 1-1 1 6 1 6 1 1 1-12 1 22 1-5 1-13 1-3 1 11 1 8 1 3 1 3 1-16 1 18 1-4 1 19 1-19 1 7 1-2 1-10 1 6 1-4 1 5 1-3 1 4 1 16 1 21 1-37 1-5 1 18 1-13 1 10 1-17 1 12 1-4 1 12 1 2 1-17 1 25 1-6 1-10 1 22 1-25 1-15 1 41 1-6 1-4 1 0 1 5 1-6M106 4l1 16 1-2 1-5 1 2 1-16 1 24 1-12 1 1 1 1 1 3 1-1 1 0 1 1 1 18 1-16 1 8 1 5 1-10 1 7 1 22 1-6 1-15 1 13 1-12 1 7 1 10 1-10 1-14 1 13 1-16 1 15 1-11 1 26 1 8 1-10 1-14 1 21 1-10 1 16 1-12 1-1 1 14 1-5 1-6 1 11 1 11 1-44 1 27 1-8 1 21 1 11 1-15 1 5 1-26 1 38 1-6 1-7 1 2 1-22 1 30 1-11 1 11 1-14 1 7 1-21 1 24 1-1 1 1 1 3 1-3 1 16 1-16 1-2 1 4 1 3 1 22 1-33 1 17 1 12 1-15 1-20 1 17 1 12 1-14 1 6 1 8 1 8 1 2 1-13 1 1 1-3 1-29 1 19 1 1M106 2l1 5 1-8 1 14 1-1 1-14 1 19 1-4 1 0 1 5 1-23 1 30 1-9 1 22 1-8 1-10 1 4 1 6 1 5 1-9 1-4 1 1 1 18 1 5 1-5 1-7 1-12 1 23 1-15 1-12 1 24 1 6 1-6 1 14 1-24 1 18 1 6 1-10 1 26 1-48 1 16 1-13 1-2 1 3 1 21 1-1 1-3 1 25 1-25 1 14 1-3 1 12 1-14 1-5 1-4 1 13 1 24 1-46 1 24 1-19 1 39 1-48 1 27 1 18 1-10 1 8 1 6 1-21 1 31 1-15 1-22 1 5 1 7 1-13 1 35 1-17 1 4 1 4 1 11 1-16 1-2 1 12 1 8 1-24 1 25 1-12 1-12 1 19 1-9 1-25 1 38 1-30 1 14 1 4 1 2M106 -11l1 27 1-2 1-7 1 16 1-1 1 24 1-2 1-34 1 9 1 5 1 20 1-6 1-13 1 12 1 15 1-8 1-11 1 9 1 0 1 1 1-14 1 29 1-19 1 25 1-28 1 14 1-8 1 9 1 12 1-6 1 6 1-13 1 18 1-16 1 8 1 3 1-23 1 5 1 32 1-6 1 4 1 11 1-16 1-1 1 14 1 3 1-12 1 8 1-10 1-3 1 20 1-14 1-2 1 8 1 9 1-13 1-15 1 41 1-15 1-9 1 10 1 9 1-15 1 9 1-9 1 13 1 14 1-31 1 26 1-19 1 12 1 17 1-9 1 9 1-18 1 16 1-35 1 21 1 1 1-10 1 0 1-5 1 25 1 8 1-30 1 24 1-3 1 3 1-1 1 13 1-13 1 3 1 4 1-11M106 11l1 5 1-15 1 16 1 30 1-22 1 16 1-34 1 34 1 4 1-16 1-11 1 9 1-3 1 4 1-4 1 20 1 0 1 6 1 9 1-21 1 4 1 9 1 4 1 1 1-8 1 8 1 30 1-31 1-6 1 28 1-18 1-7 1 15 1-7 1 25 1-7 1-5 1 28 1-30 1 22 1-29 1 12 1-4 1 23 1 5 1-24 1 16 1 9 1-15 1-12 1 13 1 0 1 11 1 7 1-1 1-18 1 11 1 6 1-9 1 15 1-7 1 5 1-16 1 19 1-2 1 15 1-6 1-17 1 3 1 28 1-38 1 22 1-19 1 10 1-5 1 21 1 3 1-18 1-13 1 19 1-8 1-11 1 15 1-27 1 44 1-17 1-13 1 25 1-8 1 16 1-11 1 4 1 6 1-13M106 23l1-18 1-9 1 1 1-4 1 25 1-18 1 3 1 4 1-25 1 19 1-2 1 28 1-15 1-3 1-11 1 9 1 6 1-10 1 14 1-10 1 16 1-15 1 18 1-1 1-3 1 4 1-2 1-7 1 39 1-39 1-3 1-6 1 19 1 25 1-25 1-3 1 9 1 2 1-10 1 1 1 3 1 18 1-3 1 5 1 6 1-2 1-18 1 13 1-15 1 19 1-20 1 21 1-4 1-26 1 29 1-3 1 4 1-1 1 4 1-15 1-1 1-1 1-7 1 30 1-14 1 21 1-25 1 13 1 0 1-2 1 10 1 9 1 3 1-19 1 16 1 2 1-31 1 20 1-12 1 18 1 0 1 6 1-11 1-10 1 14 1-13 1 45 1-31 1-15 1 10 1 12 1-22 1 11 1-7M106 13l1-11 1 11 1-10 1 27 1-29 1 19 1 12 1-26 1 11 1-10 1-12 1 36 1-14 1 14 1 0 1 5 1-18 1 3 1-12 1 23 1-30 1 16 1-4 1 16 1-17 1 29 1-15 1 5 1-3 1-4 1 0 1-12 1 28 1-9 1-2 1-22 1 17 1-2 1-1 1 21 1-6 1 9 1-10 1-3 1 8 1-3 1-2 1-13 1 35 1-28 1 18 1-2 1 5 1-17 1 16 1-22 1 21 1-1 1-10 1 31 1-44 1 12 1 0 1 0 1 21 1-15 1 5 1-18 1-7 1 45 1-16 1 26 1-35 1-15 1 23 1 10 1 7 1-24 1 1 1-1 1-5 1 22 1-23 1 10 1 15 1-2 1 10 1-11 1-25 1 26 1-13 1 12 1-15 1 20M106 16l1-20 1-2 1 18 1 3 1-10 1 30 1-8 1-3 1 5 1 17 1-13 1 16 1-13 1-17 1 32 1-32 1-3 1 30 1-11 1-9 1-9 1 9 1 9 1 13 1-14 1-18 1 35 1-18 1 26 1-30 1 8 1 8 1-13 1 2 1 21 1 2 1-8 1-21 1 19 1-7 1 28 1-20 1 2 1 0 1-9 1 1 1 16 1 21 1-43 1 17 1 10 1-5 1-19 1 23 1 21 1-22 1-15 1 12 1 16 1 13 1-27 1 6 1 20 1 5 1-14 1-13 1 20 1-24 1 33 1-22 1-12 1 7 1 28 1-19 1 10 1-9 1-7 1 14 1 14 1-26 1 10 1-20 1 23 1-10 1-2 1 0 1-9 1 13 1-17 1 26 1-2 1 15 1-13 1-4M106 29l1-14 1 7 1-3 1-25 1 13 1 20 1 6 1-14 1 2 1 1 1 8 1-5 1 13 1 2 1-24 1 17 1-14 1 7 1 23 1 0 1-20 1-9 1 10 1 9 1 10 1-28 1 22 1-9 1 19 1-17 1-16 1 29 1 3 1-6 1 5 1-24 1 10 1 7 1 16 1-31 1 37 1-29 1 30 1-32 1 15 1-8 1 15 1 3 1-1 1-12 1 6 1 17 1-1 1-11 1 20 1-25 1 10 1 6 1 1 1 0 1 3 1 1 1-5 1 16 1-22 1 25 1 4 1-21 1 17 1-14 1 6 1-10 1 3 1 28 1-43 1 5 1 32 1-16 1 1 1 4 1-9 1 5 1-6 1-17 1 12 1 33 1-14 1-10 1 11 1 9 1-16 1-1 1 7 1-10M106 21l1-33 1 16 1-11 1 11 1 11 1 10 1-16 1 21 1-43 1 20 1 6 1 3 1 8 1-18 1 4 1 17 1-15 1-9 1 11 1 8 1 7 1 20 1-16 1-23 1 28 1-32 1 30 1-29 1-3 1 21 1-5 1 9 1 5 1-8 1-3 1 10 1-3 1 13 1-27 1 24 1-19 1 3 1 11 1 0 1 10 1-3 1-35 1 26 1 4 1-7 1 4 1-4 1-2 1 3 1-7 1 27 1-31 1 31 1 4 1-24 1 10 1 6 1-9 1 4 1 12 1-10 1-2 1-6 1 20 1-4 1 3 1-16 1 24 1-26 1 15 1 0 1 7 1-12 1 2 1-17 1 9 1-10 1 19 1 7 1-14 1-9 1 11 1 20 1-13 1-15 1 3 1 4 1-8 1 17M106 4l1 2 1-4 1 12 1-21 1 27 1-7 1 1 1 14 1-8 1-1 1 29 1-22 1-8 1 0 1 12 1 7 1-3 1 5 1 3 1 11 1-33 1 29 1-10 1 8 1-2 1-8 1 2 1 3 1 8 1-19 1 20 1 2 1-14 1 8 1-2 1 17 1-19 1 29 1 5 1-28 1 6 1 22 1-19 1 0 1 1 1 14 1-3 1-8 1-8 1 26 1-7 1-12 1 10 1 1 1 0 1-6 1-1 1 17 1 8 1-23 1 31 1-4 1-13 1-13 1 40 1-26 1 4 1-19 1 21 1-13 1 6 1 8 1 29 1-39 1 24 1-5 1-17 1-6 1-2 1 22 1 11 1-13 1-2 1-1 1-4 1 24 1-6 1 3 1 1 1-24 1 16 1-16 1 5 1 28M106 -3l1 13 1 4 1-1 1-3 1-3 1-5 1-6 1-11 1 39 1-17 1 30 1-15 1-22 1 35 1-14 1 0 1 15 1-11 1-1 1-2 1 15 1 6 1-35 1 31 1-9 1-2 1-3 1 7 1-10 1-11 1 35 1-17 1 14 1-18 1 28 1-1 1-4 1-12 1 26 1-17 1 8 1-10 1-14 1 5 1 20 1-3 1-21 1 14 1 23 1 3 1-12 1 5 1-2 1 9 1-16 1 1 1 4 1 5 1 19 1-20 1 9 1 8 1 2 1-15 1-28 1 18 1-16 1 30 1-17 1 3 1 29 1-2 1 3 1-6 1-17 1 19 1-10 1 11 1-4 1 4 1-24 1 15 1 10 1 13 1-46 1 39 1-31 1 16 1 14 1-10 1-13 1-2 1 11 1 13M106 -8l1 6 1 14 1-1 1-21 1 19 1 6 1 1 1-6 1 1 1-3 1 23 1-15 1 9 1-12 1-7 1 8 1 14 1-15 1 19 1-1 1-21 1 19 1-6 1 7 1-1 1-12 1 11 1 17 1 3 1-15 1 3 1 3 1-2 1-9 1 7 1-11 1 6 1 18 1-8 1 2 1 2 1-15 1 29 1 9 1-18 1-14 1 26 1-34 1 24 1-11 1 11 1 3 1-12 1 7 1 25 1-25 1 26 1-4 1-7 1-2 1 8 1-5 1 8 1-9 1-7 1 3 1 5 1-4 1-6 1 19 1-45 1 33 1-12 1 18 1 24 1-32 1-2 1 8 1 16 1-8 1 6 1-27 1 25 1-9 1 12 1-14 1 7 1 3 1 8 1-14 1 18 1-32 1 30 1-22M106 8l1 10 1-7 1 1 1 8 1-23 1 24 1-11 1-4 1 22 1-13 1 2 1-8 1 18 1-4 1-1 1 7 1 5 1 15 1-26 1-1 1 29 1-22 1 17 1-17 1-13 1 6 1 12 1 10 1 13 1-12 1-18 1 34 1-37 1 13 1-13 1 25 1-19 1 13 1 5 1 5 1 9 1-3 1-3 1 7 1 4 1-40 1 42 1-31 1 16 1 26 1-14 1-4 1-1 1-4 1-12 1 1 1 4 1 4 1 12 1 2 1-5 1 0 1 9 1-15 1 6 1 6 1 1 1 4 1-10 1 14 1-22 1 3 1 16 1 6 1 2 1-6 1 6 1 9 1-19 1 0 1-5 1-19 1 31 1-15 1-13 1 6 1 30 1-11 1-12 1 9 1 4 1 0 1-2 1-10M106 22l1-33 1 17 1 12 1-11 1-1 1 9 1-11 1 10 1-9 1-10 1 34 1-26 1 16 1-4 1-8 1 0 1 4 1 26 1-23 1-14 1 12 1 21 1-2 1-13 1 3 1 9 1 19 1-41 1 28 1-17 1 11 1 11 1-1 1 15 1-3 1-6 1 3 1-3 1 9 1-8 1-6 1 9 1 17 1-8 1-11 1 27 1-34 1 14 1-12 1 25 1 3 1 5 1-43 1 34 1-2 1 0 1 3 1 3 1-24 1 10 1 3 1 11 1-8 1-3 1 18 1 5 1-2 1-33 1 16 1-12 1 10 1-15 1 9 1 26 1-10 1-19 1 23 1-1 1 2 1 2 1-10 1-10 1 18 1 11 1-15 1-13 1 9 1 29 1-24 1 1 1 16 1-30 1 10 1 28M106 7l1 4 1-29 1 32 1 18 1-33 1 13 1 6 1 3 1-19 1 1 1 1 1 17 1 28 1-27 1 26 1-36 1 23 1 15 1 1 1-22 1 12 1-12 1 0 1-2 1 3 1-1 1 16 1 10 1 0 1-1 1-17 1 11 1-7 1 23 1-10 1-9 1 4 1 3 1 13 1 2 1 4 1-14 1-5 1 5 1 12 1-39 1 59 1-28 1 13 1-15 1 19 1-7 1-15 1 13 1 3 1-5 1-1 1-4 1 40 1-25 1 10 1-6 1-17 1 27 1-9 1 7 1-10 1-1 1 28 1-35 1 2 1 16 1-6 1 5 1 18 1-16 1-2 1 26 1-36 1 19 1-10 1 12 1 4 1-12 1-8 1 5 1 31 1-23 1 24 1-18 1-8 1-3 1-8 1 17M106 10l1-4 1 11 1-3 1 14 1-22 1 0 1-10 1 10 1 0 1 27 1-13 1-6 1 0 1 4 1-7 1-7 1 9 1 24 1 0 1-13 1-9 1 0 1 3 1 12 1 17 1-39 1 14 1 9 1 19 1-1 1-4 1-10 1 12 1 2 1-6 1-11 1 9 1 5 1-9 1 6 1-15 1 15 1 0 1 21 1-4 1 3 1-9 1 16 1 14 1-13 1-16 1 3 1 19 1-6 1 14 1-8 1 0 1-13 1-3 1 19 1-35 1 12 1 24 1-20 1 32 1-19 1-5 1 41 1-25 1-10 1 6 1 2 1-13 1 10 1 28 1-39 1 11 1 4 1-18 1-1 1 6 1 0 1 11 1 2 1 18 1-16 1 3 1 12 1 6 1-30 1 26 1-2 1-22 1-5M106 18l1-8 1 0 1 29 1-19 1 2 1-12 1 15 1 0 1 0 1 3 1-2 1-5 1 9 1-14 1 15 1-4 1 6 1-9 1 0 1-5 1 14 1 2 1-18 1 23 1-8 1 10 1-16 1 4 1 24 1-13 1 7 1-6 1 14 1-16 1 10 1 4 1 5 1-10 1 0 1 0 1-24 1 24 1-7 1 21 1 4 1-21 1 12 1-11 1 21 1-2 1-10 1-8 1 12 1 5 1 5 1 16 1 2 1-22 1-10 1 8 1-3 1 7 1-15 1 10 1-7 1 15 1-21 1 19 1 12 1-17 1 14 1-19 1 34 1-26 1 17 1-31 1 20 1 16 1-25 1 5 1-1 1 19 1-10 1-11 1 8 1 11 1-8 1 1 1 1 1-4 1 26 1-29 1 8 1 12M106 7l1 0 1 1 1-11 1 28 1-10 1 5 1-12 1 28 1-5 1-24 1 5 1-17 1 42 1-10 1-10 1 17 1-11 1 0 1 7 1-17 1 11 1-8 1 18 1 0 1 3 1-15 1 2 1 22 1-27 1 17 1 14 1-3 1-6 1 15 1-6 1-8 1-1 1 18 1-3 1-11 1 18 1 2 1-1 1-29 1 18 1 1 1-1 1-5 1 12 1 14 1-24 1-6 1 32 1-42 1 33 1-6 1-19 1 12 1-14 1 6 1 23 1 19 1-5 1-16 1-8 1 25 1-12 1-3 1 16 1-1 1 8 1-25 1-6 1 24 1 5 1-42 1 30 1-23 1 27 1 16 1-25 1 10 1-4 1-8 1 22 1-23 1 4 1 19 1-17 1-18 1 19 1 10 1-19 1 18M106 6l1-1 1-10 1 14 1-13 1 18 1-4 1 5 1 5 1-18 1 17 1-5 1 6 1-7 1-6 1 15 1-18 1 9 1 16 1-9 1-2 1 12 1-16 1-4 1 23 1-1 1-13 1-7 1 12 1 11 1-18 1 22 1-24 1 16 1-3 1 5 1 3 1 5 1-11 1 13 1 1 1-4 1 8 1-13 1-1 1 0 1 5 1 23 1-19 1 5 1 11 1 26 1-46 1 32 1-24 1 14 1 1 1-28 1 28 1-10 1-7 1 12 1 14 1-12 1-5 1 9 1-12 1-1 1-16 1 16 1 6 1 12 1-29 1 20 1 4 1-1 1 9 1 7 1-2 1-18 1 3 1 10 1-15 1 5 1 4 1-13 1 9 1-10 1 23 1 4 1 2 1-19 1 6 1-4 1 11M106 16l1-9 1-3 1 11 1-14 1 6 1 20 1 13 1-31 1 9 1 3 1-4 1-17 1 31 1-14 1 13 1-15 1 24 1-22 1 32 1-13 1 21 1-31 1 18 1 0 1-12 1 8 1 3 1 4 1-13 1-7 1 17 1 6 1 0 1-9 1 2 1 17 1 4 1-18 1 28 1-21 1-11 1 19 1 1 1 6 1 6 1-18 1-10 1 30 1 0 1-8 1 23 1-22 1 14 1-22 1 9 1 1 1 24 1-17 1-19 1 22 1 3 1-4 1-13 1 10 1 5 1 9 1 5 1-16 1 0 1 14 1-12 1-6 1 15 1-8 1 13 1 6 1-15 1 12 1-11 1 30 1-43 1 28 1-23 1-10 1 16 1-7 1 13 1 9 1 3 1-15 1-5 1 12 1 5 1-30M106 22l1-33 1 17 1 8 1 6 1 0 1-16 1 10 1 9 1-28 1 9 1 12 1 15 1 4 1 6 1-16 1 9 1 12 1-5 1 1 1-6 1-6 1-5 1 9 1 0 1-11 1 15 1 10 1-5 1-8 1-3 1 11 1-5 1 3 1 28 1-21 1 4 1-7 1 9 1-14 1 7 1 7 1 12 1 6 1-12 1 3 1-8 1 9 1-2 1 9 1-24 1 23 1-8 1 13 1-11 1 4 1 11 1-14 1 12 1 7 1-12 1 25 1-27 1-5 1 18 1 1 1 2 1 2 1-19 1 14 1-9 1 12 1-8 1 17 1-1 1 3 1-30 1 22 1-7 1 12 1-1 1-7 1-1 1 6 1-12 1 7 1-5 1 8 1-4 1 17 1-21 1 2 1 11 1 11 1-15M106 19l1-18 1 14 1 2 1 2 1 7 1 4 1-23 1 7 1 1 1-14 1 39 1-7 1 5 1-22 1 9 1-2 1 14 1-17 1 19 1-20 1 38 1-18 1-3 1 10 1-17 1 2 1-4 1 3 1 0 1 20 1-3 1-24 1 22 1 11 1 6 1-14 1 28 1-26 1-7 1-9 1 22 1 5 1-4 1 6 1 8 1-10 1-7 1 11 1-1 1-11 1 24 1 9 1-30 1 14 1-5 1 16 1 3 1-33 1 37 1-15 1 14 1-23 1-5 1 12 1 23 1-1 1-24 1 30 1-32 1 13 1 17 1-12 1-3 1 22 1 1 1-23 1 32 1-17 1-1 1-13 1-7 1 9 1 20 1-29 1 21 1-2 1 11 1-5 1-1 1-35 1 30 1-1 1 11 1 15M106 -2l1 7 1-22 1 20 1-1 1 27 1-23 1-14 1 23 1-16 1 12 1 13 1-2 1-5 1-3 1-26 1 37 1-9 1 26 1-5 1-19 1-20 1 12 1 19 1-15 1 1 1 3 1 37 1-34 1-5 1 17 1 14 1-25 1-15 1 9 1 20 1 6 1-5 1 24 1-34 1 11 1 18 1-21 1 0 1-5 1 10 1-6 1-7 1 30 1-19 1 16 1-20 1 23 1-4 1-2 1-4 1-2 1 5 1-8 1 20 1-13 1-13 1 5 1 9 1-2 1 19 1-16 1 7 1-7 1-3 1 10 1 15 1-7 1 1 1 3 1-9 1-1 1 0 1 1 1 11 1-8 1-27 1 38 1-6 1-2 1-8 1 1 1 8 1 23 1-10 1-19 1 17 1-3 1-2 1-8M106 3l1 6 1 3 1-26 1 19 1-3 1 28 1-17 1-13 1 5 1 8 1-16 1 17 1-18 1 15 1 12 1 2 1 3 1-10 1 8 1-7 1-2 1 23 1 0 1-5 1-17 1 26 1-17 1 5 1-9 1 6 1 8 1-12 1 21 1 18 1-31 1 9 1 9 1-3 1-5 1 20 1-18 1 16 1-10 1-16 1 17 1 13 1-31 1 16 1 4 1-32 1 21 1 10 1 6 1-17 1 20 1-4 1 9 1-8 1 14 1-3 1-1 1-2 1 14 1-8 1-36 1 32 1-11 1 20 1-17 1 9 1-17 1 7 1-12 1 27 1-34 1 4 1 34 1-25 1-4 1 16 1-12 1 11 1 13 1-17 1 19 1-7 1-18 1 9 1-7 1 23 1 0 1-15 1-11 1 25M106 14l1 9 1 2 1 4 1-15 1-8 1 28 1-19 1 12 1 15 1-10 1-4 1-3 1 14 1-2 1 1 1 9 1-16 1 25 1-1 1-6 1-3 1 8 1 5 1 9 1-7 1 13 1-12 1-1 1-12 1 12 1 10 1-17 1 15 1 16 1-2 1-7 1-3 1-15 1 13 1-4 1 17 1-14 1 5 1-10 1 20 1 8 1 5 1-26 1 23 1-1 1 1 1-3 1 11 1-6 1 13 1-9 1 2 1-11 1 23 1-13 1 4 1-18 1 32 1-12 1 1 1 6 1-1 1-11 1 0 1 5 1-27 1 32 1-3 1-2 1-8 1 60 1-67 1 23 1-18 1 29 1-11 1-10 1 20 1-12 1-8 1 6 1 6 1-19 1 20 1-6 1-2 1-1 1-1 1 19M106 15l1-21 1 29 1-15 1-3 1 2 1-12 1 14 1 18 1-7 1 14 1-12 1-19 1 23 1-35 1 25 1 12 1-14 1 11 1-2 1 1 1 8 1-11 1-2 1 4 1 17 1-17 1 7 1-15 1 10 1 4 1-7 1 23 1 22 1-24 1-24 1 13 1-4 1 17 1-6 1-4 1-3 1-14 1 21 1 2 1-6 1 13 1-18 1 35 1-9 1 12 1-28 1 7 1 10 1 11 1-17 1 2 1-1 1-5 1 22 1-19 1 14 1-13 1 20 1-34 1 20 1 12 1 2 1-24 1 3 1 13 1-21 1 23 1-25 1 14 1-7 1-8 1 15 1 17 1-3 1-5 1 18 1-4 1-10 1 9 1-9 1 5 1 14 1-6 1-13 1 5 1 9 1 7 1 5 1-20"/>
<path class="tn so" stroke="#2f4ea2" d="M106 5l1 2 1 1 1 15 1-2 1-7 1 0 1 0 1-2 1-14 1 10 1 2 1 8 1-2 1 3 1-6 1 10 1-3 1 17 1-27 1 4 1-3 1 9 1 19 1-7 1 13 1 7 1-24 1-1 1-10 1 10 1 13 1-1 1 1 1-4 1-2 1-10 1 13 1 6 1 7 1-22 1-10 1 15 1 9 1-6 1 9 1-13 1 15 1-4 1-6 1 6 1-20 1 9 1 9 1 8 1-7 1-4 1 6 1-9 1 7 1 15 1-13 1 1 1-9 1 16 1-23 1 22 1-26 1 19 1-7 1 10 1-4 1-1 1 3 1-1 1-24 1 29 1-11 1-9 1 33 1-14 1-19 1 13 1-11 1 1 1 12 1-6 1 13 1-6 1-5 1-4 1-10 1-13 1 25 1-4M106 14l1-10 1-9 1 12 1 14 1-11 1-1 1 11 1-1 1-21 1 18 1-17 1 17 1-4 1-5 1 5 1-7 1 19 1-11 1-5 1 0 1-2 1 2 1 24 1-6 1-5 1-5 1-14 1 10 1-1 1 9 1-16 1 2 1 21 1-14 1 17 1-2 1 6 1 0 1-20 1-3 1 26 1 10 1-35 1 3 1 23 1-10 1 11 1-1 1-13 1-21 1 9 1 14 1 23 1-7 1-36 1 17 1 30 1-45 1-18 1 14 1 25 1-22 1 4 1 33 1-16 1-8 1-15 1 18 1 5 1-14 1 17 1-8 1-23 1 17 1-2 1 21 1-25 1-7 1 15 1 11 1-8 1 14 1-29 1 38 1-20 1 17 1-12 1-10 1 0 1 16 1 6 1 2 1-22 1-4M106 13l1-5 1 13 1 3 1-17 1 20 1-18 1 14 1-3 1 16 1-5 1-16 1-2 1 24 1-8 1-1 1-5 1 6 1 4 1 2 1-15 1 5 1-8 1 11 1 10 1 2 1 1 1-8 1-13 1 9 1 19 1-11 1 16 1-10 1-8 1 7 1 4 1-7 1-13 1 25 1-1 1 0 1-2 1-9 1-5 1 2 1 20 1-19 1 8 1-21 1 2 1 32 1-33 1 22 1 3 1-7 1-13 1 5 1-10 1 32 1-13 1-18 1 2 1 47 1-21 1 4 1 7 1-11 1-6 1-9 1 3 1-13 1 20 1 11 1-19 1 6 1-3 1 1 1 4 1-16 1 20 1 5 1-16 1 3 1-5 1 17 1-10 1 3 1-3 1-32 1 31 1 9 1-18 1 4 1-19M106 7l1 16 1-15 1 9 1 2 1 1 1 4 1 7 1-11 1-6 1-2 1 12 1 1 1-12 1 27 1-13 1-3 1 10 1-1 1-21 1 15 1 4 1-5 1-10 1 23 1-10 1-3 1 4 1 13 1-1 1-6 1-11 1 13 1 8 1 1 1-7 1-12 1 7 1-4 1 12 1-5 1-6 1-14 1 24 1 16 1-19 1-18 1 26 1-9 1-5 1 24 1-12 1-19 1 15 1-3 1 12 1-37 1 16 1-6 1 24 1-12 1-10 1 8 1 31 1-32 1 29 1-2 1-11 1-7 1-1 1-7 1-13 1 46 1-30 1 3 1 7 1-13 1 22 1-21 1 11 1 1 1-9 1-5 1 9 1-34 1 28 1 3 1 10 1-2 1-8 1-27 1 20 1-13 1 1 1 18M106 10l1-12 1 19 1 2 1-11 1 4 1 12 1-30 1 39 1-11 1 11 1 5 1-15 1-13 1-2 1 7 1-23 1 35 1-16 1 14 1-16 1 6 1-24 1 40 1-3 1 4 1-17 1 24 1-18 1 6 1 0 1-18 1 23 1-25 1 40 1-11 1-21 1 23 1-18 1 11 1 1 1-8 1 5 1-16 1 24 1-7 1-6 1 4 1 0 1-10 1 33 1-25 1 7 1 10 1-1 1-20 1-13 1 25 1-10 1 6 1-16 1 18 1-22 1 5 1 15 1 0 1-2 1 5 1-9 1 3 1 31 1-45 1 20 1 12 1-24 1 5 1 4 1 3 1 10 1-24 1 17 1 0 1-18 1-9 1 28 1-4 1-1 1 15 1-20 1 9 1-24 1 13 1-9 1-15 1 24M106 7l1 25 1-17 1 6 1 4 1-1 1-13 1 20 1-8 1 2 1-4 1 7 1-7 1 26 1-1 1-15 1-7 1 4 1-17 1 25 1 13 1-37 1 18 1 4 1 10 1-17 1 17 1 4 1-17 1-4 1 3 1 13 1 18 1-23 1 7 1-7 1-17 1 30 1-17 1 11 1 21 1-33 1 14 1-11 1-14 1 4 1 25 1-8 1-1 1 15 1-8 1 5 1 7 1 10 1-20 1-4 1-11 1 3 1 2 1 16 1-17 1 11 1 14 1-23 1 3 1-1 1-1 1 23 1-13 1-10 1 10 1 5 1-2 1-1 1-19 1 16 1-8 1 3 1 13 1-8 1-2 1-12 1 36 1-35 1 4 1 22 1 2 1-7 1 7 1-36 1-3 1 3 1 32 1 1 1-20M106 5l1-4 1 3 1 18 1-3 1-5 1 18 1-8 1 5 1 2 1-41 1 31 1 9 1-15 1-5 1 0 1 24 1-17 1 25 1-7 1 7 1-6 1-32 1 28 1 4 1 8 1-11 1-2 1 28 1-20 1 5 1-10 1 12 1-11 1 5 1-8 1-5 1 15 1-10 1 2 1 10 1-9 1 9 1 0 1-35 1 42 1-11 1-1 1 2 1 4 1 1 1 11 1-17 1-2 1-3 1 14 1-17 1 7 1 15 1-20 1 0 1 5 1 9 1-10 1 2 1 16 1-8 1-17 1 18 1 3 1 5 1-12 1-4 1-8 1 29 1-26 1 2 1 8 1-4 1-19 1-3 1 9 1-5 1 31 1-8 1-5 1-9 1 15 1-1 1-11 1-7 1 8 1-2 1-3 1 13M106 3l1 20 1-23 1 13 1 4 1 15 1-17 1-7 1 18 1 3 1-3 1-8 1-3 1 13 1 1 1 14 1-22 1 3 1 3 1 0 1 0 1 12 1-15 1 16 1-8 1 15 1-4 1-7 1-1 1 3 1 13 1-13 1-13 1 31 1-20 1 18 1 3 1-6 1-5 1 13 1-24 1 8 1 7 1 13 1 3 1-15 1-7 1 1 1 13 1-2 1 24 1-33 1 0 1 13 1-6 1 0 1 7 1 11 1-36 1 10 1 10 1-15 1 11 1 8 1-18 1 21 1-7 1-22 1 26 1-23 1 3 1 16 1-12 1-4 1-9 1 28 1-2 1-17 1-17 1 8 1 9 1 2 1 4 1-14 1 25 1-30 1 32 1-10 1 8 1-15 1 8 1-21 1 30 1-3 1-12M106 12l1-9 1 7 1 0 1 0 1 4 1 14 1-32 1 23 1-7 1-6 1 5 1 4 1 3 1 7 1 15 1-12 1-25 1 14 1 14 1-5 1 3 1-15 1-5 1 6 1 18 1 3 1 3 1-12 1 17 1-14 1 16 1-15 1-1 1-4 1-12 1 25 1-26 1 12 1 8 1-2 1-21 1 27 1 4 1-10 1-3 1 17 1-8 1 1 1-10 1 14 1-7 1-23 1 23 1-10 1 6 1 24 1-16 1 8 1-5 1 15 1-11 1-16 1 3 1 3 1-1 1 6 1-9 1 6 1 6 1-26 1 6 1-1 1 37 1-13 1-4 1 3 1-6 1 13 1-22 1 9 1 5 1 2 1-17 1 13 1-8 1 7 1-24 1 9 1-8 1 34 1-18 1 9 1-6 1 3M106 -1l1 9 1 22 1-12 1-14 1 8 1 21 1-22 1 12 1-8 1-13 1 28 1-20 1 10 1 6 1-23 1 30 1-20 1 5 1 11 1-8 1 22 1-25 1-2 1 1 1 13 1 7 1-4 1-7 1 4 1-4 1 18 1-6 1-7 1 4 1 7 1-7 1-16 1 19 1-15 1-12 1 32 1 12 1-24 1-8 1 16 1-20 1 44 1-25 1-2 1 9 1-13 1-4 1 31 1-34 1 17 1-5 1-10 1-9 1 26 1 10 1-22 1-6 1 0 1 10 1-12 1-2 1 7 1 16 1-15 1 14 1 1 1 0 1-6 1-1 1 5 1-15 1 17 1-3 1-28 1 21 1 6 1-8 1 9 1-16 1 13 1 19 1-2 1-2 1-18 1-3 1 8 1-1 1 12 1-3M106 2l1 13 1-7 1-5 1 8 1-4 1 16 1-2 1-16 1 29 1-17 1 0 1-4 1 25 1-22 1-3 1-8 1 1 1 21 1-13 1 11 1-18 1 5 1 11 1-23 1 22 1-5 1-4 1 7 1-14 1 31 1-18 1-2 1 22 1-3 1-20 1 12 1-17 1 19 1 3 1 0 1-28 1 16 1 24 1-25 1 4 1-23 1 28 1-8 1 11 1-17 1 4 1-3 1-12 1 22 1-7 1 26 1-13 1 1 1 8 1-23 1 7 1 13 1-2 1 17 1-40 1 34 1-25 1 21 1-43 1 45 1-27 1 9 1-26 1 43 1-23 1 20 1-11 1-9 1 0 1 39 1-28 1-2 1-10 1 15 1-14 1 8 1-11 1-10 1 31 1-17 1 9 1 20 1-52 1 33M106 12l1-4 1 6 1 3 1-1 1 10 1-23 1 6 1 10 1-9 1-3 1-1 1 5 1 5 1-3 1 9 1 11 1 3 1-12 1-5 1 11 1 7 1-18 1 23 1-17 1 2 1-24 1 36 1-11 1 12 1-1 1-14 1 17 1-19 1 12 1-5 1 6 1-15 1 49 1-28 1 7 1-6 1 10 1-15 1-14 1 21 1 0 1-10 1 18 1 2 1-1 1-15 1-3 1 9 1 3 1-19 1 14 1 0 1-13 1 26 1-2 1-15 1 10 1-4 1 4 1-6 1-6 1-2 1 1 1 4 1 12 1-22 1 11 1 16 1-34 1 14 1-4 1 12 1-17 1 21 1-4 1 0 1-12 1 18 1 10 1-43 1 34 1-22 1 12 1 4 1 5 1 2 1-31 1 15 1-7M106 14l1-16 1 13 1-7 1 11 1 8 1-10 1-9 1-1 1 18 1-11 1 0 1 0 1 8 1 17 1-20 1-3 1-21 1 29 1-9 1 13 1 8 1-25 1 29 1-2 1 5 1-28 1 39 1-20 1-4 1-8 1 10 1 13 1-18 1 5 1-4 1 6 1 2 1-2 1 22 1-13 1-11 1-3 1 7 1 4 1 11 1-12 1 3 1-9 1 12 1 1 1-23 1 23 1-30 1 15 1 4 1 26 1-16 1-8 1 3 1-4 1 16 1 4 1-12 1 7 1-7 1-14 1 5 1 8 1 1 1-17 1 10 1 7 1-16 1 18 1-12 1 2 1 20 1-22 1 7 1-5 1 1 1 2 1-1 1-3 1 6 1 11 1-7 1-8 1-4 1 16 1-10 1-2 1-2 1 15M106 19l1 1 1-17 1 12 1-15 1 47 1-25 1-5 1 0 1 40 1-20 1-26 1-8 1 16 1 10 1 13 1-12 1 19 1-20 1 15 1-8 1-22 1 33 1-17 1-8 1-3 1 22 1 0 1-1 1-14 1 19 1-3 1 4 1 3 1-4 1-20 1 6 1 36 1-24 1-6 1-10 1 14 1 15 1-18 1 8 1 10 1 1 1-15 1 14 1-8 1 3 1 0 1-5 1-4 1-10 1 37 1-20 1-7 1 12 1-10 1-11 1 18 1-8 1-16 1 22 1 1 1-11 1-5 1 17 1 0 1 2 1-8 1-5 1 1 1 6 1-8 1 31 1-29 1 17 1-9 1 2 1-4 1 19 1-44 1 14 1 17 1 11 1-13 1 10 1-16 1 9 1-8 1-13 1 24 1-17M106 20l1-17 1 12 1-3 1 4 1 15 1-19 1-13 1 14 1 19 1-22 1 17 1-5 1 22 1-13 1-27 1 28 1-6 1 19 1-14 1 2 1 23 1-2 1-18 1-17 1 25 1-18 1 17 1-4 1-4 1-3 1 8 1 28 1-27 1 33 1-33 1 20 1-30 1 34 1-15 1-3 1 8 1-13 1 6 1 2 1-4 1-15 1 26 1-12 1 18 1 0 1-10 1-7 1 5 1-1 1 3 1 5 1-29 1 11 1 5 1-25 1 45 1-21 1 26 1-8 1-1 1-22 1-5 1 25 1-9 1 0 1-5 1 16 1-18 1 11 1-4 1-18 1 20 1 0 1-2 1-9 1 8 1 16 1-3 1-21 1-10 1 19 1 4 1-9 1 9 1-1 1 6 1-26 1 16 1-3M106 21l1 12 1-13 1-8 1 20 1-22 1 12 1 13 1-6 1 3 1-11 1-4 1 5 1 3 1 22 1-9 1-5 1-16 1-1 1 37 1-6 1-11 1 14 1-8 1-22 1 21 1 5 1-7 1 15 1-7 1 7 1-11 1 6 1-4 1 2 1 13 1-26 1 24 1 11 1-4 1-17 1-3 1 17 1-5 1-9 1 6 1-3 1 9 1 8 1-28 1 15 1-1 1-16 1 30 1 3 1-9 1 10 1-39 1 32 1-7 1-3 1-5 1 12 1-16 1 2 1 14 1 0 1 3 1-6 1 2 1-13 1 13 1-12 1 17 1-8 1 6 1-8 1-2 1-6 1 9 1-11 1 8 1-8 1 30 1-12 1 0 1-2 1-4 1 22 1-18 1-25 1 13 1 6 1 13 1-25M106 22l1-10 1-23 1 17 1 0 1 4 1 3 1 1 1-6 1 25 1-22 1 8 1-17 1 17 1-9 1 4 1-2 1 5 1-5 1 0 1 15 1-12 1 9 1 5 1-34 1 21 1-2 1-9 1 2 1 24 1-15 1 20 1-10 1-8 1-11 1 1 1 6 1 14 1-13 1 9 1-14 1 4 1 2 1-2 1 10 1-3 1-7 1 19 1-27 1 17 1 18 1-27 1 15 1-13 1 12 1 9 1-16 1-15 1 20 1 1 1 9 1-5 1-5 1-6 1-7 1-4 1-7 1 12 1 1 1-11 1-2 1 9 1 4 1 2 1-4 1 11 1-13 1 5 1 9 1-6 1 12 1-28 1 13 1 13 1-14 1 23 1-8 1-8 1 3 1 5 1-16 1-26 1 37 1-5 1-5M106 20l1-9 1 22 1-3 1-4 1-6 1 24 1-8 1-1 1 11 1-13 1 12 1-2 1-14 1 12 1-1 1-8 1-3 1 24 1-7 1 24 1-35 1 18 1-33 1 37 1 1 1 8 1-25 1-14 1 7 1 36 1 0 1-29 1 1 1 3 1 8 1-9 1 3 1-12 1 16 1 20 1-18 1 16 1-25 1 29 1-4 1-17 1 9 1-1 1 0 1-11 1 25 1-10 1 3 1-7 1-10 1 11 1 14 1 4 1-24 1-17 1 29 1 7 1-10 1 2 1-3 1-2 1 17 1-28 1 10 1 18 1 0 1-25 1-1 1-11 1 3 1 14 1 3 1-4 1-17 1 18 1 30 1-19 1-34 1 40 1-35 1 15 1 2 1 1 1-12 1 7 1 2 1 8 1 3 1 8M106 10l1 3 1-5 1 15 1 0 1 1 1-20 1 40 1-34 1 18 1-24 1 17 1-1 1 4 1 11 1-16 1 19 1 0 1-10 1 5 1 13 1-25 1 24 1 3 1-15 1 23 1-13 1 7 1-12 1 15 1-14 1 11 1 6 1 10 1-13 1-11 1 12 1-23 1 28 1-16 1-2 1-12 1 38 1-32 1 25 1-15 1 9 1 1 1-4 1 6 1-14 1-2 1 9 1-19 1 21 1 9 1-10 1 11 1-35 1 18 1 8 1-13 1 22 1-18 1 13 1-18 1 8 1 1 1 9 1-17 1 12 1-12 1 0 1 15 1-7 1-13 1 10 1-4 1 28 1-37 1 1 1 7 1 16 1 8 1-17 1-3 1 11 1 3 1-10 1 12 1-8 1 27 1-31 1 9 1-14M106 17l1-18 1 16 1-16 1 1 1 16 1 0 1-10 1 16 1 1 1-4 1 1 1 12 1 19 1-33 1 20 1-9 1 12 1-12 1-6 1 1 1 23 1-22 1 18 1-22 1 10 1-6 1 28 1-3 1-14 1-15 1 8 1 11 1-2 1 13 1-16 1-3 1 15 1-14 1 13 1-1 1-6 1 3 1 14 1-26 1 22 1-25 1 13 1 8 1-8 1-2 1 23 1-19 1-10 1 17 1 3 1-12 1 24 1-23 1-5 1-8 1 12 1 13 1-10 1 2 1-8 1-5 1 19 1-15 1 27 1-15 1-16 1-13 1 19 1 9 1-19 1 28 1-2 1 9 1-22 1 12 1-25 1 31 1-19 1-8 1 16 1-13 1 10 1-13 1 26 1-7 1-5 1 17 1-24 1 21M106 -8l1 22 1-2 1 5 1-7 1 2 1 6 1 11 1 7 1-9 1 16 1-36 1 14 1 11 1-17 1 23 1-1 1-4 1-19 1 37 1-28 1 12 1-16 1 18 1 11 1-33 1 26 1 2 1-21 1 12 1-17 1 12 1 0 1-5 1 4 1 10 1 11 1-14 1 11 1-11 1-7 1 29 1-15 1 2 1 6 1 2 1-5 1 7 1-7 1 2 1 2 1 3 1 0 1-26 1-10 1 11 1 22 1-2 1-12 1 3 1 0 1 13 1-3 1-27 1 19 1 3 1-1 1 12 1-12 1 11 1-13 1-16 1 24 1-14 1 3 1 6 1-15 1 14 1 3 1-11 1 8 1 4 1-3 1-9 1 16 1-34 1 34 1-4 1-3 1-18 1 33 1-17 1-9 1 17 1-1M106 21l1-21 1 12 1-12 1 5 1 21 1-8 1 12 1-23 1 16 1 1 1 14 1-8 1-12 1 8 1-14 1 4 1 6 1-28 1 27 1-4 1 11 1 14 1-1 1-15 1-5 1 7 1-15 1 8 1 13 1-4 1 10 1-6 1-5 1-6 1 14 1 8 1-4 1-7 1 7 1-6 1 4 1-1 1-10 1 8 1 4 1-6 1 10 1-16 1 11 1-17 1 13 1-6 1-10 1 12 1-8 1-8 1 8 1 14 1 6 1 1 1-4 1-11 1 3 1 27 1-28 1 2 1-9 1-7 1 28 1-8 1 3 1-27 1 31 1 9 1-39 1 13 1 15 1 13 1-7 1-13 1-6 1-2 1 27 1-15 1 9 1-18 1 8 1 5 1 9 1-8 1 10 1-17 1-7 1-11M106 23l1 9 1-17 1-13 1 4 1-1 1 9 1-28 1 38 1 3 1-3 1-4 1-4 1-7 1 12 1 9 1-6 1 9 1 7 1-16 1 7 1 7 1 2 1-22 1 5 1 10 1-9 1 5 1 8 1 0 1-21 1 6 1 13 1 7 1-2 1-1 1-12 1 19 1 12 1-25 1 21 1-20 1 10 1-14 1 0 1 15 1 13 1-25 1 25 1-34 1 18 1-11 1 0 1 10 1 6 1 8 1-12 1 11 1-11 1 2 1-2 1 1 1-4 1 8 1 23 1-38 1 14 1-8 1 23 1-14 1-14 1 30 1-9 1 2 1-20 1-1 1-14 1 18 1 2 1 4 1-5 1 0 1 4 1-19 1 13 1-8 1 8 1-3 1 4 1 1 1-10 1 35 1-27 1-13 1 6M106 9l1 11 1-10 1-12 1 25 1-19 1 15 1-3 1-8 1 20 1-17 1-18 1 29 1 3 1 4 1-9 1 8 1-12 1 7 1-7 1-2 1 13 1 1 1-13 1 14 1 2 1-10 1 3 1 41 1-42 1 17 1 17 1-37 1 18 1-8 1 17 1 11 1-4 1-14 1 4 1-10 1 5 1 14 1-7 1-8 1 5 1 7 1 4 1-14 1-4 1-1 1-2 1 15 1-7 1 7 1-3 1 7 1-14 1-11 1 10 1 7 1-8 1 17 1-12 1 6 1 8 1-13 1 3 1-14 1 18 1-4 1 15 1-21 1 5 1-19 1 22 1-21 1 0 1 26 1-16 1 16 1-5 1 4 1 8 1-33 1 10 1 16 1-6 1-12 1-8 1 32 1-10 1-6 1 18 1-18M106 0l1 25 1-18 1 19 1-13 1 3 1 4 1-9 1-8 1-11 1 27 1 22 1-24 1 10 1-6 1-17 1 37 1-18 1 1 1-9 1-2 1 27 1-17 1 4 1 18 1-11 1 14 1-31 1 13 1 5 1-8 1 4 1-13 1 14 1 2 1-5 1-1 1 6 1 0 1-5 1 6 1 2 1 7 1-12 1-1 1 5 1-11 1 19 1-16 1 30 1-13 1-1 1-11 1 1 1 11 1-20 1 3 1 20 1-4 1 4 1-1 1-18 1 9 1 12 1-10 1 11 1-36 1 34 1-15 1 10 1 25 1-34 1 6 1 3 1-8 1-15 1 28 1 3 1 7 1-13 1-19 1 21 1-19 1 15 1-17 1 13 1 6 1 7 1-17 1 8 1 6 1-9 1 7 1-3 1-11M106 3l1 18 1-25 1 5 1 12 1-7 1 16 1-23 1 39 1-13 1-9 1 1 1-5 1-1 1 15 1 5 1-17 1 10 1 2 1 13 1-19 1 10 1 1 1-2 1-19 1 41 1-33 1 5 1 20 1-18 1 6 1 7 1-37 1 47 1-14 1 14 1-5 1-1 1-6 1 1 1-14 1 21 1 4 1-4 1-2 1-2 1-9 1 10 1 2 1 13 1-23 1 20 1-26 1 21 1 3 1-14 1-9 1 6 1 19 1 9 1-13 1-15 1-7 1 13 1 16 1-13 1 4 1 8 1 2 1-20 1 10 1 7 1-10 1-5 1 4 1-16 1 15 1 26 1-38 1 31 1-20 1 3 1 3 1-1 1-18 1 31 1-23 1 10 1 10 1-16 1 0 1 8 1-30 1 44 1-16M106 10l1 16 1-19 1 28 1-17 1-13 1 21 1-4 1 8 1-27 1 26 1-13 1 16 1-15 1 12 1-5 1-7 1-4 1 4 1 8 1 5 1 22 1-21 1 12 1-23 1 25 1-13 1 7 1-25 1 35 1-13 1 26 1-14 1-36 1 34 1 5 1-11 1 2 1-2 1 6 1-30 1 22 1 9 1-7 1 9 1 10 1-9 1-20 1 16 1 15 1-7 1-10 1-5 1 22 1-35 1 10 1 14 1-18 1 20 1-16 1 7 1 18 1-32 1 20 1 11 1-1 1-27 1 23 1 2 1-11 1 5 1-13 1-1 1 26 1-23 1 9 1 2 1 1 1 9 1-12 1 7 1 20 1-46 1 18 1 4 1-7 1-16 1 34 1-35 1 27 1 16 1-16 1-6 1 7 1-10M106 4l1-7 1 36 1-22 1 5 1 9 1 3 1 6 1-9 1-2 1 11 1-11 1-3 1-11 1 24 1 12 1-20 1 17 1 24 1-31 1-10 1 5 1-5 1 25 1 1 1-15 1 17 1 18 1-3 1-35 1 34 1-1 1-28 1 29 1-8 1-1 1 6 1 4 1-13 1 15 1-4 1-15 1 19 1-6 1-7 1 15 1-14 1 1 1 6 1-1 1 12 1-16 1 1 1 9 1-1 1 0 1 17 1-41 1 16 1 7 1-12 1 16 1 4 1-27 1 6 1 26 1-9 1-11 1 6 1-15 1 11 1 20 1-13 1-5 1-15 1 11 1-4 1 15 1-2 1-17 1-4 1 5 1 23 1-13 1 13 1-8 1-13 1 16 1 12 1-5 1-16 1-19 1 15 1 12 1 12M106 14l1 13 1-17 1 21 1-13 1 22 1-20 1 5 1 13 1 6 1-14 1 11 1-12 1 3 1 6 1-3 1 14 1-10 1-1 1 10 1-7 1-13 1 18 1-7 1 12 1-10 1-17 1 28 1 0 1-8 1 11 1 14 1-6 1-17 1 6 1-1 1 19 1 1 1-19 1 2 1 11 1-3 1-15 1 6 1 14 1-2 1 7 1 7 1-34 1 9 1 0 1 6 1 5 1 2 1 0 1-8 1 3 1 3 1-27 1-5 1 28 1 19 1-28 1 0 1 8 1 5 1-16 1 8 1 10 1-8 1 6 1 22 1-42 1 16 1-3 1 9 1-14 1-9 1 13 1-4 1 23 1-30 1 18 1-8 1-12 1 3 1 13 1 7 1 9 1-5 1-4 1-25 1 22 1-18 1 8M106 19l1-3 1-4 1 6 1-8 1 23 1-7 1 2 1-21 1 19 1-2 1 10 1-17 1 11 1-8 1 9 1-19 1 1 1 33 1-8 1 11 1-16 1 13 1-15 1 38 1-31 1-7 1 26 1-18 1 8 1 7 1-1 1 3 1-8 1-1 1-21 1 10 1 0 1 0 1 9 1 4 1-16 1 11 1-3 1 4 1 0 1-33 1 42 1-22 1 20 1-16 1 26 1-19 1-19 1 42 1-11 1 22 1-33 1-7 1 26 1-4 1 1 1-12 1-13 1 15 1-4 1 16 1-16 1-4 1 14 1-23 1 15 1-20 1 22 1 2 1 9 1-20 1 16 1-8 1-1 1 9 1-8 1 0 1 7 1-19 1 18 1-1 1 1 1-13 1-9 1 13 1-2 1 26 1-9 1-2M106 15l1-8 1-10 1 14 1 9 1 0 1-4 1-14 1 21 1-5 1 1 1 15 1-9 1 9 1-7 1-11 1-6 1 21 1-5 1-3 1 2 1-5 1 19 1 1 1-23 1 14 1-7 1-2 1 10 1 10 1-4 1 15 1-7 1 1 1-23 1 30 1-2 1-13 1-8 1 4 1 2 1 13 1-1 1 11 1-17 1 1 1-7 1 2 1 23 1-17 1 16 1-7 1 3 1-7 1 6 1-22 1 1 1 11 1 3 1 10 1 1 1-34 1 4 1 21 1-2 1-7 1 25 1-21 1-13 1 22 1-1 1 4 1-24 1 30 1-5 1-13 1-9 1 10 1 11 1-8 1-7 1-7 1 4 1 13 1 0 1-12 1 12 1-30 1 20 1-24 1 30 1-8 1 2 1 3 1-30M106 12l1-10 1 24 1-27 1 23 1-13 1 7 1-18 1 16 1 7 1 6 1 5 1-1 1-31 1 17 1-10 1 3 1 7 1-3 1-5 1 7 1 10 1-6 1-5 1-8 1 7 1-16 1 29 1-2 1-5 1 9 1 3 1-22 1 30 1 1 1-10 1-4 1 10 1-30 1 28 1-1 1 4 1-25 1 19 1 7 1 0 1-13 1-4 1 7 1-7 1-7 1 25 1 0 1-24 1-6 1 22 1-23 1 27 1-12 1 8 1 4 1 4 1 3 1-20 1 5 1-7 1-22 1 27 1-7 1 29 1-12 1-8 1 5 1-2 1 0 1-13 1-15 1 14 1 3 1-1 1 20 1-24 1 21 1-14 1 21 1-18 1 12 1 8 1-26 1-9 1 10 1-10 1 11 1 14 1-16M106 -12l1 12 1-2 1 13 1 0 1-14 1 20 1-2 1 29 1-33 1 10 1-11 1 17 1-28 1 21 1 2 1-1 1 7 1-12 1-8 1 13 1 3 1-2 1 8 1 5 1 25 1-28 1-4 1 12 1-12 1-1 1 10 1 13 1-36 1 25 1 2 1 1 1-11 1-6 1 34 1-25 1-7 1-2 1 27 1-26 1-3 1 3 1 8 1 10 1-7 1-8 1 10 1 9 1-4 1-14 1-11 1 13 1 27 1-17 1-9 1-1 1 7 1 9 1-1 1-24 1-10 1 13 1 13 1 4 1-13 1 15 1-12 1 22 1-22 1 16 1-20 1 3 1 4 1 14 1-15 1-8 1 19 1-1 1-24 1 15 1 9 1-2 1-5 1 9 1-16 1 20 1-12 1 7 1-3 1-13M106 21l1-8 1 5 1-25 1 12 1 5 1 0 1-5 1 12 1-15 1 3 1-8 1 1 1 19 1-2 1-16 1-7 1 37 1 14 1-23 1 0 1-15 1 2 1-13 1 27 1-10 1 3 1-10 1 9 1-3 1-9 1 0 1 2 1-5 1 16 1-24 1 36 1-2 1-1 1-15 1-1 1 0 1 31 1-15 1-26 1 28 1-5 1-3 1-5 1 1 1-14 1 9 1-8 1-5 1 17 1-6 1 2 1-3 1 21 1-8 1-13 1 29 1-21 1 5 1-2 1-7 1-20 1 49 1-9 1-22 1 8 1 13 1-11 1 7 1-8 1 6 1-25 1 34 1-4 1-22 1 5 1 0 1 14 1 4 1-11 1 8 1-23 1 20 1-5 1-6 1 0 1 3 1 25 1-32 1 13M106 -1l1 8 1-5 1 9 1 9 1-10 1 38 1-22 1-27 1 21 1 7 1 0 1 22 1-13 1-20 1 17 1 4 1-9 1-19 1 22 1-9 1 2 1 12 1-24 1 13 1 18 1-9 1-3 1-16 1 29 1 1 1 3 1 0 1-3 1-2 1-8 1 1 1 18 1-18 1-1 1-10 1 20 1 0 1-13 1 0 1 31 1-28 1 44 1-16 1-14 1-13 1-3 1 13 1 0 1 18 1-25 1 10 1-10 1 12 1 1 1-2 1-12 1 6 1-12 1 17 1 1 1-22 1 18 1 4 1-12 1 0 1 13 1 3 1-15 1-4 1 11 1-4 1 2 1-1 1 5 1 1 1 2 1 10 1-15 1 8 1-12 1-12 1 6 1 13 1 5 1 2 1-22 1 0 1 14 1 2M106 15l1-21 1 21 1 1 1-2 1 25 1-20 1-15 1-12 1 27 1 18 1-14 1-13 1 21 1 8 1-22 1 15 1 3 1-4 1 15 1-12 1-11 1 23 1 10 1-31 1 33 1-7 1-7 1-2 1-18 1 24 1-22 1 2 1 20 1 1 1-7 1 16 1-7 1-16 1 2 1 21 1-1 1-6 1-12 1 20 1-21 1 4 1 8 1 11 1-13 1 19 1-10 1-17 1 16 1 10 1-14 1 8 1 13 1-5 1-28 1 17 1-9 1 21 1-13 1-5 1 9 1 5 1-11 1 0 1-16 1 22 1-10 1 3 1-5 1 11 1-4 1 9 1-18 1 4 1 3 1 2 1-5 1 6 1-18 1 18 1 8 1-7 1 22 1-38 1 2 1 13 1-5 1-14 1 14 1-7M106 17l1-13 1-15 1 12 1-9 1 11 1 21 1-14 1 8 1 5 1-4 1-1 1 23 1-17 1-5 1 6 1 9 1-6 1 0 1-5 1-5 1 13 1 0 1-2 1 14 1-8 1-12 1 0 1-10 1 30 1-14 1-11 1 15 1-7 1-9 1 34 1-34 1 22 1-23 1 12 1 13 1-6 1 1 1 16 1-13 1 7 1-2 1-23 1 20 1-20 1-5 1 20 1 6 1-4 1-4 1-6 1 3 1-12 1-16 1 28 1 17 1-20 1 18 1-2 1-9 1-7 1 8 1 18 1-12 1-9 1 16 1 9 1-12 1-18 1 29 1-13 1 3 1-1 1 32 1-34 1-15 1 14 1 9 1-10 1-8 1-3 1 16 1-24 1 18 1-22 1 23 1 12 1 0 1-16 1 9M106 18l1-2 1-9 1 5 1 10 1-16 1 26 1-17 1 3 1-7 1 21 1 0 1-2 1-23 1 30 1-28 1 21 1 4 1-4 1 9 1-19 1 11 1-1 1 9 1-18 1 13 1-1 1 0 1 19 1-20 1 16 1-14 1-4 1-6 1 26 1-19 1 8 1-5 1 0 1-4 1 10 1-16 1 7 1 14 1-14 1 24 1 14 1-18 1-14 1 2 1 2 1 17 1-9 1 0 1-25 1 15 1 7 1-1 1-12 1 18 1-21 1 32 1 4 1-29 1 0 1 8 1-15 1 29 1-22 1 31 1-27 1-3 1 8 1-15 1 18 1-6 1-5 1 9 1-4 1-2 1 21 1-12 1-23 1 22 1-8 1 7 1-7 1 17 1-10 1-6 1 11 1-16 1-11 1-2 1 22M106 -1l1-11 1 17 1-15 1 20 1 3 1-6 1 23 1-35 1 7 1 10 1-9 1-6 1 10 1 13 1-15 1-5 1 26 1 8 1-14 1-15 1 17 1-10 1 19 1-6 1-19 1 15 1-21 1 12 1-3 1-2 1 21 1-7 1 29 1-34 1 13 1 18 1-31 1-1 1 17 1 10 1-14 1-4 1 10 1-10 1 14 1-21 1 24 1-15 1-19 1 3 1 18 1 3 1-19 1 14 1 5 1-13 1 3 1 13 1 1 1-7 1 4 1 3 1 16 1-5 1-9 1-12 1-4 1-4 1 14 1 23 1-20 1-7 1 21 1-7 1-15 1-20 1 13 1-2 1 22 1-5 1 9 1-21 1 10 1-15 1 2 1 15 1-5 1 11 1-30 1 22 1-24 1 16 1-1 1-7M106 30l1-3 1-9 1 16 1-17 1-12 1 23 1-13 1 26 1-29 1 9 1-5 1 5 1 15 1-19 1 20 1 13 1-11 1-22 1 16 1-4 1 7 1 2 1 3 1-3 1 8 1-10 1-16 1 9 1-2 1 14 1 8 1-7 1-5 1 7 1-1 1 15 1-20 1 13 1-3 1 22 1-11 1-18 1 6 1-7 1 17 1-3 1 8 1-6 1-43 1 51 1-12 1 15 1-1 1-22 1 20 1-11 1 16 1-25 1-3 1 31 1-33 1 16 1 4 1-6 1 5 1-13 1 9 1-33 1 15 1 12 1 4 1 11 1-39 1 34 1-5 1 13 1-26 1 14 1-12 1 1 1 2 1 3 1-8 1-10 1 17 1-21 1 34 1 7 1-27 1 31 1-19 1 18 1 3 1-18"/>
</g>
<g transform="translate(572.4,194.9) scale(1.4420,-0.17680)" fill="none" stroke-linejoin="round">
<path class="mg" d="M106 36l1-23 1 12 1 4 1-5 1 6 1 6 1 3 1 6 1 2 1-3 1 0 1 6 1-5 1-2 1 13 1 7 1 2 1 1 1-7 1 1 1 6 1 14 1-2 1 3 1-1 1 11 1-9 1 16 1-1 1-10 1 12 1 9 1 5 1 3 1 0 1 3 1 5 1 1 1 13 1-6 1 6 1 3 1-2 1 16 1 2 1-2 1 2 1 6 1 13 1 1 1-3 1 8 1 1 1 9 1 5 1 6 1 3 1 3 1-3 1 9 1 10 1-6 1 13 1-1 1 3 1 4 1 11 1 3 1 4 1-1 1 15 1-4 1 12 1 7 1 3 1-6 1 8 1 2 1 14 1 2 1 4 1 4 1 4 1 9 1 11 1 0 1 5 1 3 1 2 1-3 1 6 1 4 1 10 1-10"/><path class="mc" stroke="#e9212a" d="M106 36l1-23 1 12 1 4 1-5 1 6 1 6 1 3 1 6 1 2 1-3 1 0 1 6 1-5 1-2 1 13 1 7 1 2 1 1 1-7 1 1 1 6 1 14 1-2 1 3 1-1 1 11 1-9 1 16 1-1 1-10 1 12 1 9 1 5 1 3 1 0 1 3 1 5 1 1 1 13 1-6 1 6 1 3 1-2 1 16 1 2 1-2 1 2 1 6 1 13 1 1 1-3 1 8 1 1 1 9 1 5 1 6 1 3 1 3 1-3 1 9 1 10 1-6 1 13 1-1 1 3 1 4 1 11 1 3 1 4 1-1 1 15 1-4 1 12 1 7 1 3 1-6 1 8 1 2 1 14 1 2 1 4 1 4 1 4 1 9 1 11 1 0 1 5 1 3 1 2 1-3 1 6 1 4 1 10 1-10"/>
<path class="mg" d="M106 36l1-7 1-12 1 7 1-3 1 7 1 0 1 11 1 4 1-11 1 3 1-3 1 10 1 1 1 6 1 5 1-6 1 3 1-11 1 11 1 2 1 4 1-2 1 15 1-11 1 1 1 1 1 10 1 1 1 2 1-7 1 11 1 1 1-4 1-9 1 15 1 2 1-9 1 16 1 7 1-12 1 11 1 4 1-5 1 2 1 3 1 10 1-5 1 3 1 1 1-2 1 7 1-6 1-1 1 1 1 13 1 14 1-4 1-2 1 1 1 4 1 0 1-2 1 11 1-1 1 0 1 5 1 7 1-3 1 3 1-2 1 1 1 7 1 4 1 1 1 5 1-4 1-4 1 1 1 10 1-5 1 12 1 4 1 6 1-4 1-1 1 10 1-3 1 4 1 5 1 2 1 4 1 4 1 1 1 3"/><path class="mc" stroke="#f58322" d="M106 36l1-7 1-12 1 7 1-3 1 7 1 0 1 11 1 4 1-11 1 3 1-3 1 10 1 1 1 6 1 5 1-6 1 3 1-11 1 11 1 2 1 4 1-2 1 15 1-11 1 1 1 1 1 10 1 1 1 2 1-7 1 11 1 1 1-4 1-9 1 15 1 2 1-9 1 16 1 7 1-12 1 11 1 4 1-5 1 2 1 3 1 10 1-5 1 3 1 1 1-2 1 7 1-6 1-1 1 1 1 13 1 14 1-4 1-2 1 1 1 4 1 0 1-2 1 11 1-1 1 0 1 5 1 7 1-3 1 3 1-2 1 1 1 7 1 4 1 1 1 5 1-4 1-4 1 1 1 10 1-5 1 12 1 4 1 6 1-4 1-1 1 10 1-3 1 4 1 5 1 2 1 4 1 4 1 1 1 3"/>
<path class="mg" d="M106 36l1-16 1 2 1 10 1 0 1 1 1 3 1 3 1-8 1 5 1 10 1-3 1-3 1 7 1-4 1 5 1-5 1 4 1 7 1 8 1-1 1 7 1-11 1 8 1 7 1 0 1 3 1-4 1 5 1-1 1 16 1-8 1 9 1-1 1 1 1 5 1 8 1-9 1 1 1 4 1 5 1 1 1 7 1 3 1 0 1 5 1-3 1 0 1 7 1-1 1 0 1-3 1 4 1 0 1 0 1 2 1 10 1 5 1-5 1 10 1 2 1-2 1-1 1-1 1 10 1-1 1-10 1 9 1-2 1 6 1 7 1-11 1 4 1-3 1 8 1-4 1 2 1 5 1-2 1 9 1-5 1 1 1-6 1-2 1 7 1 9 1-1 1 1 1 0 1-8 1 2 1-1 1 0 1-6 1 8"/><path class="mc" stroke="#74b3e6" d="M106 36l1-16 1 2 1 10 1 0 1 1 1 3 1 3 1-8 1 5 1 10 1-3 1-3 1 7 1-4 1 5 1-5 1 4 1 7 1 8 1-1 1 7 1-11 1 8 1 7 1 0 1 3 1-4 1 5 1-1 1 16 1-8 1 9 1-1 1 1 1 5 1 8 1-9 1 1 1 4 1 5 1 1 1 7 1 3 1 0 1 5 1-3 1 0 1 7 1-1 1 0 1-3 1 4 1 0 1 0 1 2 1 10 1 5 1-5 1 10 1 2 1-2 1-1 1-1 1 10 1-1 1-10 1 9 1-2 1 6 1 7 1-11 1 4 1-3 1 8 1-4 1 2 1 5 1-2 1 9 1-5 1 1 1-6 1-2 1 7 1 9 1-1 1 1 1 0 1-8 1 2 1-1 1 0 1-6 1 8"/>
<path class="mg" d="M106 36l1-12 1 4 1 1 1 0 1-2 1 4 1-1 1 6 1 9 1-1 1-5 1 7 1 6 1-3 1 2 1 3 1 3 1-1 1 2 1-1 1 1 1 7 1 9 1-6 1 2 1-1 1 3 1 2 1-1 1-6 1 4 1 0 1-3 1 10 1 3 1-1 1 0 1-1 1-1 1 5 1 3 1-2 1-5 1 4 1-3 1 0 1-1 1 10 1-11 1 6 1 5 1-1 1-4 1-1 1 5 1-6 1 4 1-5 1 9 1-2 1-1 1-1 1-3 1 6 1-4 1 3 1-7 1-4 1 4 1 7 1-3 1 10 1-11 1-3 1 5 1-5 1 10 1-1 1-11 1 2 1 2 1 0 1 9 1-3 1-4 1-3 1-2 1 3 1-9 1 10 1 3 1 3 1-4 1 5"/><path class="mc" stroke="#2f4ea2" d="M106 36l1-12 1 4 1 1 1 0 1-2 1 4 1-1 1 6 1 9 1-1 1-5 1 7 1 6 1-3 1 2 1 3 1 3 1-1 1 2 1-1 1 1 1 7 1 9 1-6 1 2 1-1 1 3 1 2 1-1 1-6 1 4 1 0 1-3 1 10 1 3 1-1 1 0 1-1 1-1 1 5 1 3 1-2 1-5 1 4 1-3 1 0 1-1 1 10 1-11 1 6 1 5 1-1 1-4 1-1 1 5 1-6 1 4 1-5 1 9 1-2 1-1 1-1 1-3 1 6 1-4 1 3 1-7 1-4 1 4 1 7 1-3 1 10 1-11 1-3 1 5 1-5 1 10 1-1 1-11 1 2 1 2 1 0 1 9 1-3 1-4 1-3 1-2 1 3 1-9 1 10 1 3 1 3 1-4 1 5"/>
<path class="mh" d="M0 -59l1-6 1-2 1-12 1 23 1 1 1-6 1 8 1 1 1-3 1 10 1-5 1 1 1-2 1 8 1-1 1 4 1-5 1 4 1-5 1 10 1-2 1 1 1 1 1-7 1 9 1 9 1-19 1-2 1 1 1 14 1-2 1 5 1-1 1-2 1 1 1-2 1 6 1-10 1 3 1 4 1 9 1-13 1-4 1 3 1 8 1-6 1 8 1-17 1 14 1 1 1-13 1 8 1 7 1-5 1 5 1 8 1-10 1-4 1-2 1 7 1-7 1-8 1-7 1 0 1-6 1 1 1 0 1 22 1-3 1 8 1-7 1-4 1 7 1-2 1-6 1 3 1 18 1-3 1 3 1-1 1-2 1-2 1-14 1-1 1 11 1 4 1 12 1 9 1-7 1 14 1-10 1-31 1 0 1 15 1 15 1 7 1 3 1 5 1 3 1-3 1 7 1 4 1 3 1-1 1 10"/>
</g></g>
<rect x="572.4" y="36" width="288.4" height="211.7" fill="none" stroke="#222" stroke-width="1.35"/>
<text x="565.2" y="57.3" text-anchor="end" class="t">8</text>
<text x="876.6" y="57.3" class="t">8</text>
<text x="565.2" y="92.6" text-anchor="end" class="t">6</text>
<text x="876.6" y="92.6" class="t">6</text>
<text x="565.2" y="128" text-anchor="end" class="t">4</text>
<text x="876.6" y="128" class="t">4</text>
<text x="565.2" y="163.3" text-anchor="end" class="t">2</text>
<text x="876.6" y="163.3" class="t">2</text>
<text x="565.2" y="198.7" text-anchor="end" class="t">0</text>
<text x="876.6" y="198.7" class="t">0</text>
<text x="565.2" y="234.1" text-anchor="end" class="t">-2</text>
<text x="873.2" y="234.1" class="t">-2</text>
<path d="M572.4 53.5h5.5M860.8 53.5h5.4M572.4 88.8h5.5M860.8 88.8h5.4M572.4 124.2h5.5M860.8 124.2h5.4M572.4 159.5h5.5M860.8 159.5h5.4M572.4 194.9h5.5M860.8 194.9h5.4M572.4 230.3h5.5M860.8 230.3h5.4M644.5 36v5.2M644.5 247.7v-5.2M716.6 36v5.2M716.6 247.7v-5.2M788.7 36v5.2M788.7 247.7v-5.2" stroke="#222" stroke-width="1.2" fill="none"/>
<text x="573.8" y="263.6" text-anchor="middle" class="t">1900</text>
<text x="645.9" y="263.6" text-anchor="middle" class="t">1950</text>
<text x="718" y="263.6" text-anchor="middle" class="t">2000</text>
<text x="790.1" y="263.6" text-anchor="middle" class="t">2050</text>
<text x="862.2" y="263.6" text-anchor="middle" class="t">2100</text>
<text transform="translate(543.2,141.9) rotate(-90)" text-anchor="middle" class="t">(°C)</text>
<path d="M586 47.2h34" stroke="#e9212a" stroke-width="2.8"/>
<text x="626.7" y="51.2" class="t">RCP8.5</text>
<path d="M586 58.9h34" stroke="#f58322" stroke-width="2.8"/>
<text x="626.7" y="62.9" class="t">RCP6.0</text>
<path d="M586 70.6h34" stroke="#74b3e6" stroke-width="2.8"/>
<text x="626.7" y="74.6" class="t">RCP4.5</text>
<path d="M586 82.4h34" stroke="#2f4ea2" stroke-width="2.8"/>
<text x="626.7" y="86.4" class="t">RCP2.6</text>
<path d="M586 94.1h34" stroke="#000" stroke-width="2.8"/>
<text x="626.7" y="98.1" class="t">historical</text>
<path d="M905.5 165.3V174.8M905.5 184.9V188.6M903.3 165.3h4.4M903.3 188.6h4.4" stroke="#2f4ea2" stroke-width="2" fill="none"/>
<rect x="903.8" y="174.8" width="3.4" height="10.1" stroke="#2f4ea2" stroke-width="2" fill="#fff"/>
<path d="M901.8 181.4h7.4" stroke="#2f4ea2" stroke-width="2"/>
<path d="M921.1 151.5V158.3M921.1 172.1V176.2M918.9 151.5h4.4M918.9 176.2h4.4" stroke="#74b3e6" stroke-width="2" fill="none"/>
<rect x="919.4" y="158.3" width="3.4" height="13.8" stroke="#74b3e6" stroke-width="2" fill="#fff"/>
<path d="M917.4 167.4h7.4" stroke="#74b3e6" stroke-width="2"/>
<path d="M933.7 145.4V153M933.7 167V171.1M931.5 145.4h4.4M931.5 171.1h4.4" stroke="#f58322" stroke-width="2" fill="none"/>
<rect x="932" y="153" width="3.4" height="14" stroke="#f58322" stroke-width="2" fill="#fff"/>
<path d="M930 164.3h7.4" stroke="#f58322" stroke-width="2"/>
<path d="M954.4 120.7V125.8M954.4 146.4V152.2M952.2 120.7h4.4M952.2 152.2h4.4" stroke="#e9212a" stroke-width="2" fill="none"/>
<rect x="952.7" y="125.8" width="3.4" height="20.6" stroke="#e9212a" stroke-width="2" fill="#fff"/>
<path d="M950.7 141.9h7.4" stroke="#e9212a" stroke-width="2"/>
<path d="M900 194.9h59" stroke="#333" stroke-width="1" stroke-dasharray="3.7 7.2" fill="none"/>
<text x="931" y="263.2" text-anchor="middle" class="t">2081-2100 mean</text>
<text x="188.3" y="289.4" text-anchor="middle" class="mt">Temperature change RCP4.5 in 2016-2035: December-February</text>
<g transform="translate(32,293.7)" clip-path="url(#mc)">
<rect width="313.5" height="191.1" fill="#fedf9b"/>
<path fill="#fff7cd" d="M198.2,52.2 206.6,62.3 217.1,77 225.5,86.4 233.9,90.6 246.5,90 258,93.7 267.4,81.2 280,67.5 290.5,69.6 303.1,70.7 312.5,68.6 319.9,68.2 319.9,167.2 313.6,168.2 307.3,175.6 302,179.8 296.8,188.1 295.7,196.5 275.8,196.5 273.7,183.9 269.5,169.3 263.2,159.8 256.9,155.6 250.6,157.7 242.3,163 233.9,167.2 225.5,172.4 222.3,186 219.2,177.7 215,171.4 206.6,165.1 198.2,158.8 191.9,156.3 186.7,156.7 183.5,161.9 181.4,170.3 177.2,177.7 166.7,178.7 150,177.7 137.4,179.8 124.8,176.6 114.3,173.5 112.6,161.9 116.4,152.5 126.9,142 133.2,147.2 139.5,151.4 145.8,149.3 151,140.9 153.1,135.7 147.9,129.4 144.7,118.9 144.7,106.3 150,97.9 162.5,97.5 168.8,93.7 175.1,86.4 179.3,77 187.7,68.6 194,58.1Z"/>
<path fill="#fff7cd" d="M251.7,62.3 256.9,60.2 260.1,62.3 257.4,66.9 252.7,64.4Z"/>
<use href="#coast"/>
</g>
<rect x="313" y="292.7" width="33.5" height="19.25" fill="#fff"/>
<text x="329.7" y="307.5" text-anchor="middle" class="pl">25%</text>
<text x="504.6" y="289.4" text-anchor="middle" class="mt">Temperature change RCP4.5 in 2016-2035: December-February</text>
<g transform="translate(348.2,293.7)" clip-path="url(#mc)">
<rect width="313.5" height="191.1" fill="#fedf9b"/>
<path fill="#fecb66" d="M-4.3,-4.8 -4.3,106.2 -0.2,106.2 7.9,104.2 18.1,99.1 28.3,93 37.5,85.9 43.6,78.7 46.6,68.5 48.7,60.4 53.8,55.3 60.9,53.9 71.1,54.7 81.3,53.3 91.4,53.3 97.6,57.3 103.7,62.4 110.8,66.5 117.9,69.6 122,73.6 127.1,78.7 134.2,76.3 141.3,70.6 146.8,61.4 144.4,50.2 141.3,40 142.4,32.9 150.5,25.8 159.6,28.8 166.8,36 174.9,41.1 185.1,43.7 197.3,41.7 209.5,43.1 221.7,41.1 236,38 246.2,37 256.4,31.9 264.5,22.7 270.6,9.5 274.7,0.3 275.7,-4.8Z"/>
<path fill="#fedf9b" d="M20.2,47.2 23.2,40 28.3,39 36.5,40 43.6,45.1 48.7,48.2 50.7,51.2 45.6,53.3 39.5,57.3 32.4,58.4 26.3,55.3 22.2,51.2Z"/>
<path fill="#fedf9b" d="M121,19.7 128.1,14 142.4,19.7 139.3,29.4 128.1,33.9 124,26.8Z"/>
<path fill="#fedf9b" d="M115.5,33.5 125.7,33.9 122,37 115.9,38.4Z"/>
<use href="#coast"/>
</g>
<rect x="629.2" y="292.7" width="33.5" height="19.25" fill="#fff"/>
<text x="645.9" y="307.5" text-anchor="middle" class="pl">50%</text>
<text x="820.9" y="289.4" text-anchor="middle" class="mt">Temperature change RCP4.5 in 2016-2035: December-February</text>
<g transform="translate(664.5,293.7)" clip-path="url(#mc)">
<rect width="313.5" height="191.1" fill="#fedf9b"/>
<path fill="#fecb66" d="M-4.6,-4.8 -4.6,116.4 -0.5,116.4 9.7,112.3 21.9,105.2 32.1,99.1 42.3,92 50.4,84.8 56.5,75.7 60.6,66.5 64.7,60.4 74.9,58.8 85,59.4 93.2,61.4 99.3,66.5 105.4,73.6 113.6,80.8 119.7,86.9 125.8,95 131.9,97.1 140,94 148.1,86.9 160.3,82.8 172.6,75.7 182.7,68.5 195,62.4 205.1,56.3 213.3,49.2 221.4,47.2 233.7,48.2 243.8,49.2 252,53.3 260.1,57.3 268.3,60.4 278.5,61.4 288.7,60.4 296.8,58.4 304.9,56.3 313.5,60.4 319.2,61.4 319.2,-4.8Z"/>
<path fill="#fbb130" d="M86.1,7.4 90.1,-4.8 114.6,-4.8 110.5,9.5 105.4,14.6 93.2,17.6Z"/>
<path fill="#fbb130" d="M143.7,-4.8 148.2,-4.8 154.3,7.4 151.2,11.1Z"/>
<path fill="#fbb130" d="M177.7,-4.8 243.8,-4.8 248.9,9.5 255,19.7 245.9,24.8 235.7,27.8 223.5,32.9 209.2,37 195,37 182.7,36 173.6,32.9 170.5,21.7 173.6,11.5Z"/>
<path fill="#fedf9b" d="M277.5,19.7 284.6,23.7 291.7,34.9 280.5,40 273.4,32.9Z"/>
<path fill="#fedf9b" d="M264.2,48.2 267.3,44.1 271.3,48.2 268.3,60.4Z"/>
<path fill="#fedf9b" d="M181.7,48.2 192.9,47.8 185.8,53.3Z"/>
<path fill="#fecb66" d="M224.5,61.4 233.7,56.3 242.2,62.4 232.6,71.6Z"/>
<path fill="#fecb66" d="M255,75.7 260.1,69.6 267.9,60.4 269.1,61.4 262.2,70.6 256.5,77.1Z"/>
<path fill="#fbb130" d="M267.5,115.7 270.7,114.7 272.3,116.7 269.1,117.6Z"/>
<path fill="#fbb130" d="M-1.1,141.9 4.6,142.6 -1.1,145.1Z"/>
<use href="#coast"/>
</g>
<rect x="945.5" y="292.7" width="33.5" height="19.25" fill="#fff"/>
<text x="962.2" y="307.5" text-anchor="middle" class="pl">75%</text>
<text x="188.3" y="508.2" text-anchor="middle" class="mt">Temperature change RCP4.5 in 2046-2065: December-February</text>
<g transform="translate(32,512.8)" clip-path="url(#mc)">
<rect width="313.5" height="191.1" fill="#fecb66"/>
<path fill="#fbb130" d="M82.5,-4.9 82.5,0 73.3,7.3 78.4,18.5 71.3,21.6 59.1,18.5 46.8,19.6 35.6,25.7 27.5,33.8 33.6,39.9 43.8,46 50.9,51.1 61.1,52.6 71.3,53.8 81.5,52.6 91.6,52.6 97.8,58.3 103.9,64.4 111,66.4 116.1,69.5 122.2,71.5 128.3,74.1 138.5,70.5 150.7,67.4 162.9,73.5 175.2,62.3 174.1,58.3 162.9,58.3 156.8,50.1 150.7,42 144.6,36.9 138.5,34.8 132.4,25.7 127.3,20.6 138.4,20.6 146.6,27.7 154.7,32.8 162.9,33.8 169,39.9 175.1,44 187.3,43 197.5,41 209.7,44 221.9,41 234.2,37.9 244.3,39.9 254.5,35.9 260.6,29.7 264.7,21.6 270.8,13.5 279,7.3 281,0.2 281,-4.9Z"/>
<path fill="#fbb130" d="M-4.1,54.2 0,54.2 10.2,59.3 22.4,65.4 32.6,63.4 43.8,59.3 45.8,66.4 47.9,74.6 43.8,80.7 34.6,88.8 24.4,94.9 12.2,102.1 0,106.1 -4.1,106.1Z"/>
<path fill="#fbb130" d="M281,33.8 289.2,21.6 301.4,20.6 319.7,19.6 319.7,43 303.4,43 291.2,45 286.1,39.9Z"/>
<path fill="#fedf9b" d="M64.2,198.8 64.2,191.3 73.3,184.5 81.5,180.5 87.6,172.3 89.6,166.2 95.7,159.1 99.8,149.9 103.9,141.8 111,133.6 118.1,127.5 126.3,122.4 132.4,129.5 140.5,134.6 150.7,130.6 151.7,123.4 150.7,116.3 154.8,112.2 157.8,107.1 162.9,101 171.1,94.9 179.2,87.8 187.4,82.7 199.5,79.6 209.7,77.6 215.8,80.7 221.3,85.4 227.3,89 234.6,95 241.8,99.9 247.3,102.3 247.9,108.4 247.7,114.4 250.3,117.4 255.2,118 260,120.5 263.6,124.1 267.3,128.9 272.1,132.6 277,134.4 283,132.6 288.5,129.5 286,124.1 282.4,118.7 277,119.3 270.3,118.7 267.9,116.2 270.9,110.8 275.7,104.7 280.6,99.3 286.6,95.7 293.9,92 301.2,88.4 308.4,85.4 318.1,83.2 318.1,200.4Z"/>
<path fill="#fecb66" d="M245.5,195.5 246.7,183.4 250.3,178.6 256.4,172.5 260.6,173.7 264.8,177.4 268.5,181 270.9,185.8 271.5,195.5Z"/>
<path fill="#fecb66" d="M298.7,195.5 301.2,184.6 306,179.8 310.9,175.6 318.1,172.5 318.1,195.5Z"/>
<path fill="#f48b36" d="M93.3,6.3 99.4,6.7 99,8 93.7,7.8Z"/>
<path fill="#f48b36" d="M216.9,6.9 223,6.5 219.9,11Z"/>
<path fill="#f48b36" d="M207.3,33.8 208.9,31.4 210.1,34.6Z"/>
<use href="#coast"/>
</g>
<rect x="313" y="511.8" width="33.5" height="19.25" fill="#fff"/>
<text x="329.7" y="526.6" text-anchor="middle" class="pl">25%</text>
<text x="504.6" y="508.2" text-anchor="middle" class="mt">Temperature change RCP4.5 in 2046-2065: December-February</text>
<g transform="translate(348.2,512.8)" clip-path="url(#mc)">
<rect width="313.5" height="191.1" fill="#fecb66"/>
<path fill="#fbb130" d="M-4.3,-4.9 -4.3,113.3 -0.2,113.3 10,111.2 20.2,109.2 30.3,103.1 40.5,97 50.7,88.8 58.9,79.6 69,72.9 81.3,76.6 91.4,80.7 101.6,84.7 111.8,87.8 120,92.9 126.1,100 132.2,107.1 138.9,114.9 143.3,108.2 148.4,102.1 158.6,97 168.8,90.8 179,83.7 189.2,77.6 199.3,70.5 209.5,67.4 215.6,72.5 221.7,77.6 227.9,82.7 234,88.8 240.1,97 246.2,105.1 252.3,108.2 256.4,105.1 258.8,102.3 260.8,109.2 264.5,113.3 271.6,117.5 273.5,114.9 269.6,109.2 264.5,103.5 260.4,100.4 264.5,94.9 270.6,90.8 274.7,88.8 282.8,84.7 291,78.6 297.1,74.6 305.2,70.5 319.5,67.4 319.5,-4.9Z"/>
<path fill="#fecb66" d="M248.2,88.2 257.4,84.7 264.5,88.8 258.8,100Z"/>
<path fill="#f48b36" d="M3.9,-4.9 3.9,11.4 2.9,19.6 12,22.6 20.2,27.7 26.3,33.8 36.5,36.9 48.7,38.9 60.9,41 73.1,44 81.3,48.1 91.4,51.1 99.6,54.2 107.7,60.3 113.9,65.4 120,69.5 127.1,71.5 133.2,64.4 134.6,48.1 130.1,39.9 122,32.8 115.9,26.7 115.5,19.6 122,16.5 129.1,15.5 139.3,17.5 144.4,22.6 151.5,28.7 162.7,27.7 168.8,35.9 173.9,44 183,43 195.3,43 207.5,44 219.7,42 234,39.9 244.1,41 254.3,35.9 260.4,28.7 265.5,19.6 268.6,9.4 274.7,0 274.7,-4.9Z"/>
<path fill="#fbb130" d="M25.3,-4.9 25.3,0 30.3,5.3 33.4,17.5 35.4,25.7 40.5,19.6 48.7,12.4 60.9,12.4 65,7.3 72.1,0 72.1,-4.9Z"/>
<path fill="#fbb130" d="M68,19.6 71.1,18.5 77.2,20.2 71.1,22.6Z"/>
<path fill="#fbb130" d="M-1.2,139.7 4.9,142.8 -1.2,145.8Z"/>
<use href="#coast"/>
</g>
<rect x="629.2" y="511.8" width="33.5" height="19.25" fill="#fff"/>
<text x="645.9" y="526.6" text-anchor="middle" class="pl">50%</text>
<text x="820.9" y="508.2" text-anchor="middle" class="mt">Temperature change RCP4.5 in 2046-2065: December-February</text>
<g transform="translate(664.5,512.8)" clip-path="url(#mc)">
<rect width="313.5" height="191.1" fill="#fecb66"/>
<path fill="#fbb130" d="M-4.6,-4.9 -4.6,168.2 -0.5,168.2 5.6,172.3 14.8,176.4 15.8,184.5 19.9,185.6 30,181.5 42.3,179.4 52.5,174.4 60.6,166.2 70.8,158.1 81,150.9 92.2,144.8 97.3,135.7 105.4,125.5 114.6,115.3 121.7,120.4 129.8,127.1 139,135.7 148.1,131.6 154.2,125.5 155.3,117.3 159.3,109.2 166.5,99 174.6,90.8 184.8,85.8 195,84.7 205.1,83.7 213.3,86.8 219.4,94.9 224.5,103.1 228.6,108.2 233.7,113.3 237.7,121.4 240.8,129.5 244.9,135.7 248.9,139.7 254,134.6 260.1,131.6 268.3,134.6 276.4,137.7 286.6,133.6 292.7,125.5 294.8,115.3 292.7,105.1 296.8,97 304.9,90.8 319.2,84.7 319.2,-4.9Z"/>
<path fill="#fecb66" d="M15.8,156 26,154 37.2,156 28,160.1 18.8,167.2Z"/>
<path fill="#f48b36" d="M-4.6,-4.9 -4.6,111.2 -0.5,111.2 9.7,108.2 19.9,104.1 30,99 40.2,91.9 48.4,84.7 53.5,76.6 54.5,66.4 57.5,59.3 66.7,57.9 81,58.3 93.2,59.3 99.3,64.4 105.4,70.5 113.6,78.6 121.7,86.8 129.8,97 138.6,104.1 148.1,100 158.3,94.9 168.5,86.8 176.6,78.6 182.7,70.5 186.8,65.4 195,64.4 203.1,65.4 211.3,67.4 219.4,72.5 227.6,78.6 235.7,83.7 245.9,88.8 256.1,83.7 266.2,77.6 276.4,73.5 286.6,70.5 296.8,68.4 307,66.4 319.2,63.4 319.2,-4.9Z"/>
<path fill="#f05a25" d="M181.7,-4.9 181.7,0 174.6,7.3 167.5,19.6 171.5,28.7 176.6,34.8 186.8,37.9 199,36.9 211.3,36.9 219.4,30.8 231.6,29.7 243.8,24.7 252,19.6 245.9,11.4 239.8,5.3 233.7,0 233.7,-4.9Z"/>
<path fill="#f05a25" d="M91.1,6.3 94.2,3.7 100.3,6.3 95.2,9.8Z"/>
<path fill="#f05a25" d="M149.8,16.5 151,16.3 152.2,21.2 151.2,21.2Z"/>
<path fill="#fbb130" d="M225.5,48.1 235.7,46.5 247.9,48.1 243.8,56.2 233.7,55.2Z"/>
<path fill="#fbb130" d="M246.9,61.3 256.1,53.2 266.7,61.3 257.1,70.1Z"/>
<path fill="#fbb130" d="M256.1,156 259.1,155 261.2,168.2 264.2,182.5 265.2,198.8 254,198.8 253,180.5 255,168.2Z"/>
<use href="#coast"/>
</g>
<rect x="945.5" y="511.8" width="33.5" height="19.25" fill="#fff"/>
<text x="962.2" y="526.6" text-anchor="middle" class="pl">75%</text>
<text x="188.3" y="727" text-anchor="middle" class="mt">Temperature change RCP4.5 in 2081-2100: December-February</text>
<g transform="translate(32,732)" clip-path="url(#mc)">
<rect width="313.5" height="191.1" fill="#fecb66"/>
<path fill="#fbb130" d="M-4.1,-5.1 -4.1,150.7 0,150.7 8.1,143.6 16.3,135.5 22.4,127.3 30.5,121.2 40.7,117.1 44.8,113.1 47.9,102.9 53,93.7 61.1,87.6 68.2,86.2 79.4,89.6 91.6,90.6 103.9,92.7 114.1,93.7 122.2,98.8 128.3,106.9 134.4,117.1 139.1,125.3 144.5,117.1 148.6,109 151.7,102.9 160.8,96.8 171,89.6 179.2,82.5 187.3,75.4 193.4,70.3 201.6,68.2 209.7,67.2 215.8,72.3 221.9,77.4 227,82.5 231.1,86.2 240.3,98.8 251.5,112 259,116.5 254.5,108 246.4,96.8 238.6,87 244.3,79.4 256.6,74.4 262.7,79.4 269.8,85.6 276.9,82.5 287.1,78.4 297.3,74.4 307.5,71.3 319.7,68.2 319.7,-5.1Z"/>
<path fill="#f48b36" d="M85.5,-5.1 85.5,0 77.4,7.1 71.3,15.3 63.1,23.4 55,29.5 44.8,31.6 35.6,30 32.6,33.6 42.8,36.7 50.9,39.7 57,44.8 61.1,48.9 71.3,50.3 81.5,52.4 91.6,52 97.8,57 103.9,63.2 111,66.2 118.1,69.3 122.2,72.3 127.3,77.4 138.4,73.9 150.7,78.4 160.8,73.3 171,67.2 179.2,61.1 184.3,47.9 195.5,42.8 207.7,44.8 221.9,44.8 234.2,39.7 244.3,33.6 254.5,32.6 262.7,26.5 268.8,19.4 269.8,9.2 276.9,0 276.9,-5.1Z"/>
<path fill="#f48b36" d="M11.2,74.4 20.4,69.3 34.6,74.4 28.5,80.5 21.4,89.6 13.2,87.6Z"/>
<path fill="#f48b36" d="M285.1,46.9 291.2,35.7 299.3,27.5 309.5,22.4 319.7,20.4 319.7,49.9 303.4,52 291.2,54Z"/>
<use href="#coast"/>
</g>
<rect x="313" y="731" width="33.5" height="19.25" fill="#fff"/>
<text x="329.7" y="745.8" text-anchor="middle" class="pl">25%</text>
<text x="504.6" y="727" text-anchor="middle" class="mt">Temperature change RCP4.5 in 2081-2100: December-February</text>
<g transform="translate(348.2,732)" clip-path="url(#mc)">
<rect width="313.5" height="191.1" fill="#fecb66"/>
<path fill="#fbb130" d="M-4.3,-5.1 -4.3,198.6 58.9,198.6 58.9,191.1 67,184.3 75.2,174.2 83.3,165 91.4,154.8 99.6,144.6 107.7,136.5 114.9,129.3 127.1,127.7 132.1,133.4 140.3,139.5 150.5,137.5 154.9,131.4 156.6,121.2 160.6,110 168.8,100.8 176.9,94.7 185.1,90.6 195.3,87.6 205.4,86.6 211.6,86.2 215.6,92.7 219.7,100.8 225.8,106.9 230.9,115.1 234,125.3 235,137.5 236,143.6 242.1,150.7 247.2,154.8 252.3,149.7 256.4,144.6 264.5,141.6 276.7,139.5 286.9,131.4 293,123.2 296.1,113.1 295.1,104.9 299.1,96.8 305.2,90.6 319.5,84.5 319.5,-5.1Z"/>
<path fill="#f48b36" d="M-4.3,-5.1 -4.3,113.1 -0.2,113.1 10,108 20.2,102.9 30.3,96.8 40.5,90.6 50.7,83.5 58.9,73.3 62.9,64.2 69,59.7 81.3,61.1 91.4,64.2 97.6,70.3 105.7,77.4 113.9,82.5 120,89.6 126.1,98.8 133.2,105.9 138.9,110.6 146.4,103.9 154.5,97.8 164.7,91.7 174.9,84.5 183,78.4 191.2,73.3 199.3,70.3 209.5,69.3 215.6,73.3 221.7,78.4 227.9,83.5 236,87.6 246.2,89.6 256.4,89.6 264.5,86.6 274.7,82.5 284.9,77.4 295.1,74.4 305.2,71.3 319.5,67.2 319.5,-5.1Z"/>
<path fill="#f05a25" d="M207.5,-5.1 207.5,0 201.4,5.1 196.3,13.3 185.1,6.1 190.2,14.3 195.3,21.4 194.2,29.5 197.3,33.6 207.5,36.7 217.7,35.7 227.9,32.6 238,27.5 246.2,19.4 247.2,7.1 244.1,0 244.1,-5.1Z"/>
<path fill="#f05a25" d="M104.7,6.1 109.8,-2 112.8,-2Z"/>
<path fill="#fbb130" d="M245.2,198.6 246.2,178.2 249.2,171.1 256.4,167 260.4,168 259.4,176.2 261.5,184.3 262.5,198.6Z"/>
<path fill="#fbb130" d="M303.2,198.6 306.3,182.3 319.5,176.2 319.5,198.6Z"/>
<use href="#coast"/>
</g>
<rect x="629.2" y="731" width="33.5" height="19.25" fill="#fff"/>
<text x="645.9" y="745.8" text-anchor="middle" class="pl">50%</text>
<text x="820.9" y="727" text-anchor="middle" class="mt">Temperature change RCP4.5 in 2081-2100: December-February</text>
<g transform="translate(664.5,732)" clip-path="url(#mc)">
<rect width="313.5" height="191.1" fill="#f48b36"/>
<path fill="#fbb130" d="M29,198.6 29,191.1 31.1,184.3 40.2,180.3 52.5,176.2 62.6,170.1 68.7,164 74.9,156.8 85,150.7 95.2,142.6 105.4,134.4 111.5,127.3 115.2,118.8 121.7,125.3 129.8,133.4 137.9,141.6 146.1,146.7 151.2,143.6 154.2,139.5 158.3,129.3 160.3,115.1 164.4,106.9 172.6,98.8 182.7,90.6 190.9,87.6 201.1,86.6 211.3,86.6 217.4,91.7 223.5,98.8 228.6,103.9 233.7,109 237.7,117.1 240.8,127.3 243.8,137.5 245.9,145.6 250,139.5 256.1,133.4 264.2,129.3 272.4,132.4 280.5,135.5 288.7,129.3 293.7,121.2 295.8,109 296.8,100.8 302.9,92.7 309,87.6 319.2,83.5 319.2,198.6Z"/>
<path fill="#f05a25" d="M79.9,-5.1 79.9,0 75.3,6.1 81,13.3 89.1,18.3 93.2,19.4 87.1,27.5 81,33.6 89.1,40.8 97.3,47.9 103.4,58.1 109.5,64.2 117.6,69.3 121.7,73.3 126.8,79.4 138,82.5 150.2,89.6 160.3,79.4 166.5,70.3 172.6,61.1 164.4,54 151.2,46.9 157.3,42.8 162.4,39.7 168.5,38.7 178.7,42.8 190.9,44.8 203.1,45.8 215.3,44.8 227.6,41.8 239.8,39.7 245.9,38.7 254,32.6 260.1,25.5 266.2,20.4 276.4,32.6 280.5,33.6 274.4,26.5 269.3,20.4 270.3,11.2 274.4,4.1 278.5,0 278.5,-5.1Z"/>
<path fill="#f48b36" d="M115.9,20.4 127.8,19 133.9,23.4 142,29.5 150.2,32.6 158.3,34.6 151.2,46.9 142,42.8 131.8,38.7 123.7,33.6 119.6,27.5Z"/>
<path fill="#e8252a" d="M209.2,4.1 219.4,2.1 231.6,3.1 237.7,11.2 242.2,18.3 233.7,23.4 223.5,27.5 211.3,35.7 199,36.7 186.8,36.7 175.6,33.6 182.7,26.5 190.9,18.3 199,10.2Z"/>
<path fill="#f05a25" d="M-4.6,63.2 9.7,62.5 19.9,76.4 32.1,74.4 26,82.5 19.9,90.6 13.8,96.8 7.6,102.9 -4.6,100.8Z"/>
<path fill="#e8252a" d="M93.2,5.5 105.4,4.5 105.4,6.3 93.2,7.4Z"/>
<path fill="#f05a25" d="M8.1,-2 9.7,-2 14.2,6.1 12.9,6.7Z"/>
<path fill="#f05a25" d="M312.1,17.3 319.2,16.3 319.2,26.5 312.7,25.5Z"/>
<path fill="#f48b36" d="M250,168 256.1,161.9 260.1,164 263.2,172.1 262.2,182.3 264.2,198.6 256.1,198.6 254,180.3 252,173.1Z"/>
<use href="#coast"/>
</g>
<rect x="945.5" y="731" width="33.5" height="19.25" fill="#fff"/>
<text x="962.2" y="745.8" text-anchor="middle" class="pl">75%</text>
<rect x="279.9" y="958.8" width="28.3" height="23.8" fill="#232a62" stroke="#111" stroke-width=".8"/>
<rect x="308.2" y="958.8" width="28.3" height="23.8" fill="#4464b0" stroke="#111" stroke-width=".8"/>
<rect x="336.5" y="958.8" width="28.3" height="23.8" fill="#7286c3" stroke="#111" stroke-width=".8"/>
<rect x="364.8" y="958.8" width="28.3" height="23.8" fill="#9fb1dc" stroke="#111" stroke-width=".8"/>
<rect x="393.1" y="958.8" width="28.3" height="23.8" fill="#cfd8ec" stroke="#111" stroke-width=".8"/>
<rect x="421.3" y="958.8" width="28.3" height="23.8" fill="#fff7cd" stroke="#111" stroke-width=".8"/>
<rect x="449.6" y="958.8" width="28.3" height="23.8" fill="#fedf9b" stroke="#111" stroke-width=".8"/>
<rect x="477.9" y="958.8" width="28.3" height="23.8" fill="#fecb66" stroke="#111" stroke-width=".8"/>
<rect x="506.2" y="958.8" width="28.3" height="23.8" fill="#fbb130" stroke="#111" stroke-width=".8"/>
<rect x="534.5" y="958.8" width="28.3" height="23.8" fill="#f48b36" stroke="#111" stroke-width=".8"/>
<rect x="562.8" y="958.8" width="28.3" height="23.8" fill="#f05a25" stroke="#111" stroke-width=".8"/>
<rect x="591.1" y="958.8" width="28.3" height="23.8" fill="#e8252a" stroke="#111" stroke-width=".8"/>
<rect x="619.4" y="958.8" width="28.3" height="23.8" fill="#c0202c" stroke="#111" stroke-width=".8"/>
<rect x="647.7" y="958.8" width="28.3" height="23.8" fill="#8f191c" stroke="#111" stroke-width=".8"/>
<rect x="676" y="958.8" width="28.3" height="23.8" fill="#6b1012" stroke="#111" stroke-width=".8"/>
<rect x="704.2" y="958.8" width="28.3" height="23.8" fill="#6b1048" stroke="#111" stroke-width=".8"/>
<text x="308.2" y="1000.4" text-anchor="middle" class="cl">-2</text>
<text x="336.5" y="1000.4" text-anchor="middle" class="cl">-1.5</text>
<text x="364.8" y="1000.4" text-anchor="middle" class="cl">-1</text>
<text x="393.1" y="1000.4" text-anchor="middle" class="cl">-0.5</text>
<text x="421.3" y="1000.4" text-anchor="middle" class="cl">0</text>
<text x="449.6" y="1000.4" text-anchor="middle" class="cl">0.5</text>
<text x="477.9" y="1000.4" text-anchor="middle" class="cl">1</text>
<text x="506.2" y="1000.4" text-anchor="middle" class="cl">1.5</text>
<text x="534.5" y="1000.4" text-anchor="middle" class="cl">2</text>
<text x="562.8" y="1000.4" text-anchor="middle" class="cl">3</text>
<text x="591.1" y="1000.4" text-anchor="middle" class="cl">4</text>
<text x="619.4" y="1000.4" text-anchor="middle" class="cl">5</text>
<text x="647.7" y="1000.4" text-anchor="middle" class="cl">7</text>
<text x="676" y="1000.4" text-anchor="middle" class="cl">9</text>
<text x="704.2" y="1000.4" text-anchor="middle" class="cl">11</text>
<text x="739.8" y="977.3" class="cu">(°C)</text>
</svg></body></html>
